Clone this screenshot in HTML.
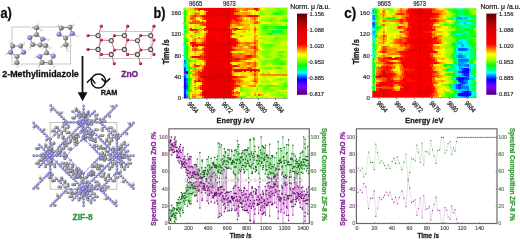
<!DOCTYPE html>
<html><head><meta charset="utf-8"><style>
html,body{margin:0;padding:0;background:#fff;}
body{width:520px;height:240px;overflow:hidden;}
svg{display:block;font-family:"Liberation Sans",sans-serif;will-change:transform;}
</style></head><body>
<svg width="520" height="240" viewBox="0 0 520 240">
<defs><linearGradient id="cbar" x1="0" y1="0" x2="0" y2="1"><stop offset="0.000" stop-color="#5a0000"/><stop offset="0.110" stop-color="#b00000"/><stop offset="0.210" stop-color="#e00000"/><stop offset="0.380" stop-color="#ff0000"/><stop offset="0.440" stop-color="#ff8000"/><stop offset="0.500" stop-color="#ffff00"/><stop offset="0.550" stop-color="#c0ff00"/><stop offset="0.640" stop-color="#00ff00"/><stop offset="0.730" stop-color="#00ffff"/><stop offset="0.810" stop-color="#0000ff"/><stop offset="0.900" stop-color="#8000ff"/><stop offset="1.000" stop-color="#4b0070"/></linearGradient><filter id="hblur" x="-5%" y="-5%" width="110%" height="110%"><feGaussianBlur stdDeviation="0.45 0.3"/></filter></defs>
<clipPath id="clip3"><rect x="183.70" y="7.80" width="103.80" height="90.40"/></clipPath><g clip-path="url(#clip3)"><g filter="url(#hblur)" shape-rendering="crispEdges"><rect x="181.70" y="5.80" width="107.80" height="94.40" fill="#f08000"/><path fill="#88ff00" d="M183.70 7.80h2.45v2.71h-2.45zM273.53 7.80h2.45v2.71h-2.45zM279.52 7.80h2.45v2.71h-2.45zM283.51 7.80h2.45v2.71h-2.45zM275.52 10.06h2.45v2.71h-2.45zM185.70 12.32h2.45v2.71h-2.45zM259.55 12.32h2.45v2.71h-2.45zM269.53 12.32h2.45v2.71h-2.45zM269.53 16.84h2.45v2.71h-2.45zM271.53 16.84h2.45v2.71h-2.45zM273.53 16.84h2.45v2.71h-2.45zM185.70 19.10h2.45v2.71h-2.45zM261.55 19.10h2.45v2.71h-2.45zM263.55 19.10h2.45v2.71h-2.45zM273.53 19.10h2.45v2.71h-2.45zM277.52 19.10h2.45v2.71h-2.45zM261.55 23.62h2.45v2.71h-2.45zM267.54 23.62h2.45v2.71h-2.45zM273.53 23.62h2.45v2.71h-2.45zM277.52 23.62h2.45v2.71h-2.45zM261.55 28.14h2.45v2.71h-2.45zM265.54 28.14h2.45v2.71h-2.45zM279.52 28.14h2.45v2.71h-2.45zM281.51 28.14h2.45v2.71h-2.45zM283.51 28.14h2.45v2.71h-2.45zM261.55 30.40h2.45v2.71h-2.45zM263.55 32.66h2.45v2.71h-2.45zM273.53 32.66h2.45v2.71h-2.45zM285.50 34.92h2.45v2.71h-2.45zM185.70 37.18h2.45v2.71h-2.45zM261.55 37.18h2.45v2.71h-2.45zM271.53 37.18h2.45v2.71h-2.45zM281.51 37.18h2.45v2.71h-2.45zM283.51 37.18h2.45v2.71h-2.45zM285.50 37.18h2.45v2.71h-2.45zM187.69 39.44h2.45v2.71h-2.45zM271.53 39.44h2.45v2.71h-2.45zM275.52 39.44h2.45v2.71h-2.45zM273.53 43.96h2.45v2.71h-2.45zM269.53 46.22h2.45v2.71h-2.45zM265.54 48.48h2.45v2.71h-2.45zM267.54 48.48h2.45v2.71h-2.45zM259.55 50.74h2.45v2.71h-2.45zM283.51 50.74h2.45v2.71h-2.45zM263.55 53.00h2.45v2.71h-2.45zM269.53 55.26h2.45v2.71h-2.45zM277.52 55.26h2.45v2.71h-2.45zM283.51 55.26h2.45v2.71h-2.45zM279.52 57.52h2.45v2.71h-2.45zM283.51 59.78h2.45v2.71h-2.45zM187.69 62.04h2.45v2.71h-2.45zM265.54 62.04h2.45v2.71h-2.45zM269.53 62.04h2.45v2.71h-2.45zM261.55 66.56h2.45v2.71h-2.45zM271.53 66.56h2.45v2.71h-2.45zM277.52 77.86h2.45v2.71h-2.45zM281.51 77.86h2.45v2.71h-2.45zM263.55 80.12h2.45v2.71h-2.45zM281.51 82.38h2.45v2.71h-2.45zM189.69 84.64h2.45v2.71h-2.45zM261.55 84.64h2.45v2.71h-2.45zM279.52 84.64h2.45v2.71h-2.45zM241.59 86.90h2.45v2.71h-2.45zM277.52 86.90h2.45v2.71h-2.45zM243.58 89.16h2.45v2.71h-2.45zM255.56 89.16h2.45v2.71h-2.45zM267.54 89.16h2.45v2.71h-2.45zM275.52 91.42h2.45v2.71h-2.45zM279.52 91.42h2.45v2.71h-2.45zM247.58 93.68h2.45v2.71h-2.45zM277.52 93.68h2.45v2.71h-2.45zM255.56 95.94h2.45v2.71h-2.45z"/>
<path fill="#d8ff00" d="M185.70 7.80h2.45v2.71h-2.45zM197.67 10.06h2.45v2.71h-2.45zM203.66 10.06h2.45v2.71h-2.45zM241.59 10.06h2.45v2.71h-2.45zM243.58 10.06h2.45v2.71h-2.45zM245.58 10.06h2.45v2.71h-2.45zM255.56 10.06h2.45v2.71h-2.45zM267.54 14.58h2.45v2.71h-2.45zM269.53 14.58h2.45v2.71h-2.45zM275.52 14.58h2.45v2.71h-2.45zM187.69 19.10h2.45v2.71h-2.45zM201.67 19.10h2.45v2.71h-2.45zM185.70 21.36h2.45v2.71h-2.45zM267.54 21.36h2.45v2.71h-2.45zM187.69 23.62h2.45v2.71h-2.45zM203.66 30.40h2.45v2.71h-2.45zM247.58 30.40h2.45v2.71h-2.45zM187.69 32.66h2.45v2.71h-2.45zM243.58 32.66h2.45v2.71h-2.45zM249.57 32.66h2.45v2.71h-2.45zM197.67 34.92h2.45v2.71h-2.45zM235.60 34.92h2.45v2.71h-2.45zM261.55 34.92h2.45v2.71h-2.45zM263.55 34.92h2.45v2.71h-2.45zM187.69 37.18h2.45v2.71h-2.45zM245.58 37.18h2.45v2.71h-2.45zM261.55 39.44h2.45v2.71h-2.45zM265.54 41.70h2.45v2.71h-2.45zM281.51 41.70h2.45v2.71h-2.45zM283.51 41.70h2.45v2.71h-2.45zM285.50 41.70h2.45v2.71h-2.45zM261.55 48.48h2.45v2.71h-2.45zM277.52 48.48h2.45v2.71h-2.45zM281.51 48.48h2.45v2.71h-2.45zM261.55 55.26h2.45v2.71h-2.45zM261.55 57.52h2.45v2.71h-2.45zM195.68 59.78h2.45v2.71h-2.45zM257.56 62.04h2.45v2.71h-2.45zM259.55 64.30h2.45v2.71h-2.45zM283.51 64.30h2.45v2.71h-2.45zM261.55 68.82h2.45v2.71h-2.45zM267.54 68.82h2.45v2.71h-2.45zM275.52 68.82h2.45v2.71h-2.45zM191.68 71.08h2.45v2.71h-2.45zM261.55 71.08h2.45v2.71h-2.45zM267.54 71.08h2.45v2.71h-2.45zM259.55 75.60h2.45v2.71h-2.45zM267.54 75.60h2.45v2.71h-2.45zM273.53 75.60h2.45v2.71h-2.45zM283.51 75.60h2.45v2.71h-2.45zM191.68 77.86h2.45v2.71h-2.45zM281.51 80.12h2.45v2.71h-2.45zM283.51 80.12h2.45v2.71h-2.45zM285.50 80.12h2.45v2.71h-2.45zM259.55 82.38h2.45v2.71h-2.45zM259.55 86.90h2.45v2.71h-2.45zM191.68 89.16h2.45v2.71h-2.45zM277.52 89.16h2.45v2.71h-2.45zM241.59 91.42h2.45v2.71h-2.45zM239.59 93.68h2.45v2.71h-2.45zM267.54 93.68h2.45v2.71h-2.45zM249.57 95.94h2.45v2.71h-2.45zM253.57 95.94h2.45v2.71h-2.45zM257.56 95.94h2.45v2.71h-2.45z"/>
<path fill="#ffd800" d="M187.69 7.80h2.45v2.71h-2.45zM253.57 12.32h2.45v2.71h-2.45zM187.69 14.58h2.45v2.71h-2.45zM187.69 16.84h2.45v2.71h-2.45zM247.58 19.10h2.45v2.71h-2.45zM247.58 21.36h2.45v2.71h-2.45zM235.60 25.88h2.45v2.71h-2.45zM241.59 25.88h2.45v2.71h-2.45zM247.58 25.88h2.45v2.71h-2.45zM249.57 28.14h2.45v2.71h-2.45zM251.57 28.14h2.45v2.71h-2.45zM191.68 30.40h2.45v2.71h-2.45zM237.60 34.92h2.45v2.71h-2.45zM191.68 37.18h2.45v2.71h-2.45zM251.57 37.18h2.45v2.71h-2.45zM251.57 43.96h2.45v2.71h-2.45zM195.68 46.22h2.45v2.71h-2.45zM189.69 48.48h2.45v2.71h-2.45zM193.68 50.74h2.45v2.71h-2.45zM255.56 53.00h2.45v2.71h-2.45zM257.56 55.26h2.45v2.71h-2.45zM237.60 62.04h2.45v2.71h-2.45zM239.59 62.04h2.45v2.71h-2.45zM245.58 64.30h2.45v2.71h-2.45zM247.58 64.30h2.45v2.71h-2.45zM193.68 71.08h2.45v2.71h-2.45zM237.60 71.08h2.45v2.71h-2.45zM239.59 71.08h2.45v2.71h-2.45zM243.58 71.08h2.45v2.71h-2.45zM191.68 75.60h2.45v2.71h-2.45zM251.57 77.86h2.45v2.71h-2.45zM257.56 77.86h2.45v2.71h-2.45zM243.58 80.12h2.45v2.71h-2.45zM245.58 80.12h2.45v2.71h-2.45zM247.58 80.12h2.45v2.71h-2.45zM247.58 82.38h2.45v2.71h-2.45zM255.56 82.38h2.45v2.71h-2.45zM245.58 84.64h2.45v2.71h-2.45zM235.60 86.90h2.45v2.71h-2.45zM191.68 91.42h2.45v2.71h-2.45zM197.67 91.42h2.45v2.71h-2.45zM257.56 91.42h2.45v2.71h-2.45zM255.56 93.68h2.45v2.71h-2.45zM199.67 95.94h2.45v2.71h-2.45z"/>
<path fill="#ffb800" d="M189.69 7.80h2.45v2.71h-2.45zM191.68 7.80h2.45v2.71h-2.45zM199.67 16.84h2.45v2.71h-2.45zM249.57 16.84h2.45v2.71h-2.45zM197.67 19.10h2.45v2.71h-2.45zM249.57 19.10h2.45v2.71h-2.45zM251.57 19.10h2.45v2.71h-2.45zM251.57 21.36h2.45v2.71h-2.45zM233.60 23.62h2.45v2.71h-2.45zM243.58 23.62h2.45v2.71h-2.45zM245.58 23.62h2.45v2.71h-2.45zM231.61 25.88h2.45v2.71h-2.45zM233.60 25.88h2.45v2.71h-2.45zM191.68 34.92h2.45v2.71h-2.45zM241.59 34.92h2.45v2.71h-2.45zM255.56 34.92h2.45v2.71h-2.45zM193.68 37.18h2.45v2.71h-2.45zM237.60 39.44h2.45v2.71h-2.45zM239.59 43.96h2.45v2.71h-2.45zM249.57 43.96h2.45v2.71h-2.45zM191.68 46.22h2.45v2.71h-2.45zM241.59 46.22h2.45v2.71h-2.45zM247.58 46.22h2.45v2.71h-2.45zM249.57 48.48h2.45v2.71h-2.45zM257.56 48.48h2.45v2.71h-2.45zM243.58 50.74h2.45v2.71h-2.45zM255.56 50.74h2.45v2.71h-2.45zM245.58 53.00h2.45v2.71h-2.45zM247.58 53.00h2.45v2.71h-2.45zM195.68 57.52h2.45v2.71h-2.45zM243.58 59.78h2.45v2.71h-2.45zM253.57 59.78h2.45v2.71h-2.45zM229.61 62.04h2.45v2.71h-2.45zM239.59 64.30h2.45v2.71h-2.45zM255.56 64.30h2.45v2.71h-2.45zM243.58 66.56h2.45v2.71h-2.45zM251.57 66.56h2.45v2.71h-2.45zM253.57 66.56h2.45v2.71h-2.45zM191.68 68.82h2.45v2.71h-2.45zM233.60 71.08h2.45v2.71h-2.45zM235.60 71.08h2.45v2.71h-2.45zM249.57 71.08h2.45v2.71h-2.45zM195.68 75.60h2.45v2.71h-2.45zM255.56 75.60h2.45v2.71h-2.45zM239.59 77.86h2.45v2.71h-2.45zM241.59 82.38h2.45v2.71h-2.45zM193.68 93.68h2.45v2.71h-2.45zM233.60 93.68h2.45v2.71h-2.45z"/>
<path fill="#ff7800" d="M193.68 7.80h2.45v2.71h-2.45zM243.58 7.80h2.45v2.71h-2.45zM247.58 7.80h2.45v2.71h-2.45zM251.57 7.80h2.45v2.71h-2.45zM205.66 10.06h2.45v2.71h-2.45zM237.60 10.06h2.45v2.71h-2.45zM189.69 14.58h2.45v2.71h-2.45zM197.67 14.58h2.45v2.71h-2.45zM257.56 14.58h2.45v2.71h-2.45zM239.59 16.84h2.45v2.71h-2.45zM193.68 19.10h2.45v2.71h-2.45zM195.68 19.10h2.45v2.71h-2.45zM241.59 19.10h2.45v2.71h-2.45zM199.67 23.62h2.45v2.71h-2.45zM229.61 23.62h2.45v2.71h-2.45zM239.59 23.62h2.45v2.71h-2.45zM255.56 28.14h2.45v2.71h-2.45zM195.68 30.40h2.45v2.71h-2.45zM197.67 37.18h2.45v2.71h-2.45zM243.58 41.70h2.45v2.71h-2.45zM189.69 43.96h2.45v2.71h-2.45zM245.58 43.96h2.45v2.71h-2.45zM253.57 43.96h2.45v2.71h-2.45zM255.56 46.22h2.45v2.71h-2.45zM197.67 48.48h2.45v2.71h-2.45zM237.60 48.48h2.45v2.71h-2.45zM233.60 53.00h2.45v2.71h-2.45zM235.60 53.00h2.45v2.71h-2.45zM241.59 53.00h2.45v2.71h-2.45zM189.69 55.26h2.45v2.71h-2.45zM239.59 55.26h2.45v2.71h-2.45zM241.59 55.26h2.45v2.71h-2.45zM245.58 62.04h2.45v2.71h-2.45zM249.57 62.04h2.45v2.71h-2.45zM253.57 71.08h2.45v2.71h-2.45zM243.58 75.60h2.45v2.71h-2.45zM237.60 77.86h2.45v2.71h-2.45zM255.56 80.12h2.45v2.71h-2.45zM253.57 84.64h2.45v2.71h-2.45zM231.61 89.16h2.45v2.71h-2.45zM199.67 91.42h2.45v2.71h-2.45zM191.68 95.94h2.45v2.71h-2.45z"/>
<path fill="#ff3800" d="M195.68 7.80h2.45v2.71h-2.45zM193.68 14.58h2.45v2.71h-2.45zM239.59 14.58h2.45v2.71h-2.45zM235.60 16.84h2.45v2.71h-2.45zM233.60 19.10h2.45v2.71h-2.45zM189.69 21.36h2.45v2.71h-2.45zM199.67 21.36h2.45v2.71h-2.45zM201.67 21.36h2.45v2.71h-2.45zM253.57 21.36h2.45v2.71h-2.45zM201.67 23.62h2.45v2.71h-2.45zM231.61 28.14h2.45v2.71h-2.45zM239.59 28.14h2.45v2.71h-2.45zM229.61 30.40h2.45v2.71h-2.45zM233.60 37.18h2.45v2.71h-2.45zM203.66 39.44h2.45v2.71h-2.45zM253.57 41.70h2.45v2.71h-2.45zM203.66 46.22h2.45v2.71h-2.45zM233.60 48.48h2.45v2.71h-2.45zM239.59 57.52h2.45v2.71h-2.45zM243.58 57.52h2.45v2.71h-2.45zM197.67 64.30h2.45v2.71h-2.45zM247.58 66.56h2.45v2.71h-2.45zM201.67 68.82h2.45v2.71h-2.45zM231.61 68.82h2.45v2.71h-2.45zM253.57 73.34h2.45v2.71h-2.45zM197.67 77.86h2.45v2.71h-2.45zM231.61 77.86h2.45v2.71h-2.45zM235.60 80.12h2.45v2.71h-2.45zM233.60 82.38h2.45v2.71h-2.45zM237.60 84.64h2.45v2.71h-2.45zM201.67 89.16h2.45v2.71h-2.45z"/>
<path fill="#ff0800" d="M197.67 7.80h2.45v2.71h-2.45zM231.61 12.32h2.45v2.71h-2.45zM205.66 19.10h2.45v2.71h-2.45zM229.61 28.14h2.45v2.71h-2.45zM189.69 41.70h2.45v2.71h-2.45zM229.61 46.22h2.45v2.71h-2.45zM231.61 48.48h2.45v2.71h-2.45zM203.66 50.74h2.45v2.71h-2.45zM237.60 57.52h2.45v2.71h-2.45zM195.68 64.30h2.45v2.71h-2.45zM229.61 64.30h2.45v2.71h-2.45zM231.61 64.30h2.45v2.71h-2.45zM235.60 64.30h2.45v2.71h-2.45zM199.67 73.34h2.45v2.71h-2.45zM253.57 80.12h2.45v2.71h-2.45z"/>
<path fill="#f80000" d="M199.67 7.80h2.45v2.71h-2.45zM201.67 7.80h2.45v2.71h-2.45zM203.66 7.80h2.45v2.71h-2.45zM229.61 7.80h2.45v2.71h-2.45zM231.61 7.80h2.45v2.71h-2.45zM253.57 7.80h2.45v2.71h-2.45zM207.65 10.06h2.45v2.71h-2.45zM209.65 10.06h2.45v2.71h-2.45zM211.65 10.06h2.45v2.71h-2.45zM213.64 10.06h2.45v2.71h-2.45zM215.64 10.06h2.45v2.71h-2.45zM217.63 10.06h2.45v2.71h-2.45zM219.63 10.06h2.45v2.71h-2.45zM221.63 10.06h2.45v2.71h-2.45zM223.62 10.06h2.45v2.71h-2.45zM225.62 10.06h2.45v2.71h-2.45zM227.62 10.06h2.45v2.71h-2.45zM231.61 10.06h2.45v2.71h-2.45zM233.60 10.06h2.45v2.71h-2.45zM235.60 10.06h2.45v2.71h-2.45zM205.66 12.32h2.45v2.71h-2.45zM219.63 12.32h2.45v2.71h-2.45zM229.61 12.32h2.45v2.71h-2.45zM201.67 14.58h2.45v2.71h-2.45zM203.66 14.58h2.45v2.71h-2.45zM205.66 14.58h2.45v2.71h-2.45zM229.61 14.58h2.45v2.71h-2.45zM231.61 14.58h2.45v2.71h-2.45zM233.60 14.58h2.45v2.71h-2.45zM235.60 14.58h2.45v2.71h-2.45zM237.60 14.58h2.45v2.71h-2.45zM247.58 14.58h2.45v2.71h-2.45zM249.57 14.58h2.45v2.71h-2.45zM251.57 14.58h2.45v2.71h-2.45zM253.57 14.58h2.45v2.71h-2.45zM205.66 16.84h2.45v2.71h-2.45zM209.65 16.84h2.45v2.71h-2.45zM211.65 16.84h2.45v2.71h-2.45zM213.64 16.84h2.45v2.71h-2.45zM215.64 16.84h2.45v2.71h-2.45zM217.63 16.84h2.45v2.71h-2.45zM219.63 16.84h2.45v2.71h-2.45zM221.63 16.84h2.45v2.71h-2.45zM223.62 16.84h2.45v2.71h-2.45zM231.61 16.84h2.45v2.71h-2.45zM233.60 16.84h2.45v2.71h-2.45zM207.65 19.10h2.45v2.71h-2.45zM209.65 19.10h2.45v2.71h-2.45zM211.65 19.10h2.45v2.71h-2.45zM213.64 19.10h2.45v2.71h-2.45zM215.64 19.10h2.45v2.71h-2.45zM217.63 19.10h2.45v2.71h-2.45zM219.63 19.10h2.45v2.71h-2.45zM221.63 19.10h2.45v2.71h-2.45zM223.62 19.10h2.45v2.71h-2.45zM225.62 19.10h2.45v2.71h-2.45zM227.62 19.10h2.45v2.71h-2.45zM205.66 21.36h2.45v2.71h-2.45zM215.64 21.36h2.45v2.71h-2.45zM217.63 21.36h2.45v2.71h-2.45zM219.63 21.36h2.45v2.71h-2.45zM221.63 21.36h2.45v2.71h-2.45zM223.62 21.36h2.45v2.71h-2.45zM225.62 21.36h2.45v2.71h-2.45zM227.62 21.36h2.45v2.71h-2.45zM205.66 23.62h2.45v2.71h-2.45zM207.65 23.62h2.45v2.71h-2.45zM209.65 23.62h2.45v2.71h-2.45zM211.65 23.62h2.45v2.71h-2.45zM213.64 23.62h2.45v2.71h-2.45zM215.64 23.62h2.45v2.71h-2.45zM217.63 23.62h2.45v2.71h-2.45zM219.63 23.62h2.45v2.71h-2.45zM221.63 23.62h2.45v2.71h-2.45zM223.62 23.62h2.45v2.71h-2.45zM225.62 23.62h2.45v2.71h-2.45zM227.62 23.62h2.45v2.71h-2.45zM205.66 25.88h2.45v2.71h-2.45zM207.65 25.88h2.45v2.71h-2.45zM209.65 25.88h2.45v2.71h-2.45zM211.65 25.88h2.45v2.71h-2.45zM215.64 25.88h2.45v2.71h-2.45zM217.63 25.88h2.45v2.71h-2.45zM219.63 25.88h2.45v2.71h-2.45zM221.63 25.88h2.45v2.71h-2.45zM223.62 25.88h2.45v2.71h-2.45zM225.62 25.88h2.45v2.71h-2.45zM191.68 28.14h2.45v2.71h-2.45zM193.68 28.14h2.45v2.71h-2.45zM205.66 28.14h2.45v2.71h-2.45zM227.62 28.14h2.45v2.71h-2.45zM235.60 28.14h2.45v2.71h-2.45zM237.60 28.14h2.45v2.71h-2.45zM207.65 30.40h2.45v2.71h-2.45zM209.65 30.40h2.45v2.71h-2.45zM211.65 30.40h2.45v2.71h-2.45zM213.64 30.40h2.45v2.71h-2.45zM215.64 30.40h2.45v2.71h-2.45zM217.63 30.40h2.45v2.71h-2.45zM219.63 30.40h2.45v2.71h-2.45zM221.63 30.40h2.45v2.71h-2.45zM223.62 30.40h2.45v2.71h-2.45zM225.62 30.40h2.45v2.71h-2.45zM227.62 30.40h2.45v2.71h-2.45zM207.65 32.66h2.45v2.71h-2.45zM209.65 32.66h2.45v2.71h-2.45zM211.65 32.66h2.45v2.71h-2.45zM213.64 32.66h2.45v2.71h-2.45zM215.64 32.66h2.45v2.71h-2.45zM217.63 32.66h2.45v2.71h-2.45zM219.63 32.66h2.45v2.71h-2.45zM221.63 32.66h2.45v2.71h-2.45zM223.62 32.66h2.45v2.71h-2.45zM227.62 32.66h2.45v2.71h-2.45zM229.61 32.66h2.45v2.71h-2.45zM205.66 34.92h2.45v2.71h-2.45zM207.65 34.92h2.45v2.71h-2.45zM209.65 34.92h2.45v2.71h-2.45zM211.65 34.92h2.45v2.71h-2.45zM213.64 34.92h2.45v2.71h-2.45zM215.64 34.92h2.45v2.71h-2.45zM217.63 34.92h2.45v2.71h-2.45zM225.62 34.92h2.45v2.71h-2.45zM227.62 34.92h2.45v2.71h-2.45zM205.66 37.18h2.45v2.71h-2.45zM211.65 37.18h2.45v2.71h-2.45zM213.64 37.18h2.45v2.71h-2.45zM215.64 37.18h2.45v2.71h-2.45zM217.63 37.18h2.45v2.71h-2.45zM219.63 37.18h2.45v2.71h-2.45zM221.63 37.18h2.45v2.71h-2.45zM223.62 37.18h2.45v2.71h-2.45zM227.62 37.18h2.45v2.71h-2.45zM229.61 37.18h2.45v2.71h-2.45zM231.61 37.18h2.45v2.71h-2.45zM205.66 39.44h2.45v2.71h-2.45zM215.64 39.44h2.45v2.71h-2.45zM217.63 39.44h2.45v2.71h-2.45zM219.63 39.44h2.45v2.71h-2.45zM221.63 39.44h2.45v2.71h-2.45zM223.62 39.44h2.45v2.71h-2.45zM225.62 39.44h2.45v2.71h-2.45zM227.62 39.44h2.45v2.71h-2.45zM229.61 39.44h2.45v2.71h-2.45zM231.61 39.44h2.45v2.71h-2.45zM233.60 39.44h2.45v2.71h-2.45zM191.68 41.70h2.45v2.71h-2.45zM205.66 41.70h2.45v2.71h-2.45zM207.65 41.70h2.45v2.71h-2.45zM233.60 41.70h2.45v2.71h-2.45zM235.60 41.70h2.45v2.71h-2.45zM191.68 43.96h2.45v2.71h-2.45zM193.68 43.96h2.45v2.71h-2.45zM195.68 43.96h2.45v2.71h-2.45zM197.67 43.96h2.45v2.71h-2.45zM199.67 43.96h2.45v2.71h-2.45zM201.67 43.96h2.45v2.71h-2.45zM203.66 43.96h2.45v2.71h-2.45zM229.61 43.96h2.45v2.71h-2.45zM231.61 43.96h2.45v2.71h-2.45zM205.66 46.22h2.45v2.71h-2.45zM217.63 46.22h2.45v2.71h-2.45zM219.63 46.22h2.45v2.71h-2.45zM221.63 46.22h2.45v2.71h-2.45zM223.62 46.22h2.45v2.71h-2.45zM225.62 46.22h2.45v2.71h-2.45zM227.62 46.22h2.45v2.71h-2.45zM203.66 48.48h2.45v2.71h-2.45zM205.66 48.48h2.45v2.71h-2.45zM229.61 48.48h2.45v2.71h-2.45zM205.66 50.74h2.45v2.71h-2.45zM225.62 50.74h2.45v2.71h-2.45zM227.62 50.74h2.45v2.71h-2.45zM205.66 53.00h2.45v2.71h-2.45zM207.65 53.00h2.45v2.71h-2.45zM215.64 53.00h2.45v2.71h-2.45zM217.63 53.00h2.45v2.71h-2.45zM219.63 53.00h2.45v2.71h-2.45zM227.62 53.00h2.45v2.71h-2.45zM229.61 53.00h2.45v2.71h-2.45zM191.68 55.26h2.45v2.71h-2.45zM193.68 55.26h2.45v2.71h-2.45zM195.68 55.26h2.45v2.71h-2.45zM197.67 55.26h2.45v2.71h-2.45zM203.66 55.26h2.45v2.71h-2.45zM205.66 55.26h2.45v2.71h-2.45zM229.61 55.26h2.45v2.71h-2.45zM247.58 55.26h2.45v2.71h-2.45zM205.66 57.52h2.45v2.71h-2.45zM217.63 57.52h2.45v2.71h-2.45zM219.63 57.52h2.45v2.71h-2.45zM221.63 57.52h2.45v2.71h-2.45zM225.62 57.52h2.45v2.71h-2.45zM227.62 57.52h2.45v2.71h-2.45zM229.61 57.52h2.45v2.71h-2.45zM233.60 57.52h2.45v2.71h-2.45zM235.60 57.52h2.45v2.71h-2.45zM205.66 59.78h2.45v2.71h-2.45zM207.65 59.78h2.45v2.71h-2.45zM225.62 59.78h2.45v2.71h-2.45zM227.62 59.78h2.45v2.71h-2.45zM229.61 59.78h2.45v2.71h-2.45zM205.66 62.04h2.45v2.71h-2.45zM211.65 62.04h2.45v2.71h-2.45zM213.64 62.04h2.45v2.71h-2.45zM215.64 62.04h2.45v2.71h-2.45zM225.62 62.04h2.45v2.71h-2.45zM227.62 62.04h2.45v2.71h-2.45zM205.66 64.30h2.45v2.71h-2.45zM223.62 64.30h2.45v2.71h-2.45zM225.62 64.30h2.45v2.71h-2.45zM227.62 64.30h2.45v2.71h-2.45zM233.60 64.30h2.45v2.71h-2.45zM203.66 66.56h2.45v2.71h-2.45zM225.62 66.56h2.45v2.71h-2.45zM227.62 66.56h2.45v2.71h-2.45zM229.61 66.56h2.45v2.71h-2.45zM205.66 68.82h2.45v2.71h-2.45zM229.61 68.82h2.45v2.71h-2.45zM233.60 68.82h2.45v2.71h-2.45zM235.60 68.82h2.45v2.71h-2.45zM237.60 68.82h2.45v2.71h-2.45zM239.59 68.82h2.45v2.71h-2.45zM241.59 68.82h2.45v2.71h-2.45zM243.58 68.82h2.45v2.71h-2.45zM245.58 68.82h2.45v2.71h-2.45zM247.58 68.82h2.45v2.71h-2.45zM249.57 68.82h2.45v2.71h-2.45zM251.57 68.82h2.45v2.71h-2.45zM253.57 68.82h2.45v2.71h-2.45zM255.56 68.82h2.45v2.71h-2.45zM199.67 71.08h2.45v2.71h-2.45zM227.62 71.08h2.45v2.71h-2.45zM201.67 73.34h2.45v2.71h-2.45zM203.66 73.34h2.45v2.71h-2.45zM205.66 73.34h2.45v2.71h-2.45zM229.61 73.34h2.45v2.71h-2.45zM199.67 75.60h2.45v2.71h-2.45zM231.61 75.60h2.45v2.71h-2.45zM233.60 75.60h2.45v2.71h-2.45zM203.66 77.86h2.45v2.71h-2.45zM229.61 77.86h2.45v2.71h-2.45zM195.68 80.12h2.45v2.71h-2.45zM197.67 80.12h2.45v2.71h-2.45zM199.67 80.12h2.45v2.71h-2.45zM201.67 80.12h2.45v2.71h-2.45zM203.66 80.12h2.45v2.71h-2.45zM205.66 80.12h2.45v2.71h-2.45zM231.61 80.12h2.45v2.71h-2.45zM231.61 82.38h2.45v2.71h-2.45zM201.67 84.64h2.45v2.71h-2.45zM203.66 84.64h2.45v2.71h-2.45zM205.66 84.64h2.45v2.71h-2.45zM207.65 84.64h2.45v2.71h-2.45zM227.62 84.64h2.45v2.71h-2.45zM229.61 84.64h2.45v2.71h-2.45zM201.67 86.90h2.45v2.71h-2.45zM203.66 86.90h2.45v2.71h-2.45zM205.66 86.90h2.45v2.71h-2.45zM229.61 86.90h2.45v2.71h-2.45zM229.61 89.16h2.45v2.71h-2.45zM201.67 91.42h2.45v2.71h-2.45zM229.61 91.42h2.45v2.71h-2.45zM201.67 93.68h2.45v2.71h-2.45zM229.61 93.68h2.45v2.71h-2.45zM203.66 95.94h2.45v2.71h-2.45zM229.61 95.94h2.45v2.71h-2.45zM231.61 95.94h2.45v2.71h-2.45z"/>
<path fill="#e80000" d="M205.66 7.80h2.45v2.71h-2.45zM207.65 7.80h2.45v2.71h-2.45zM209.65 7.80h2.45v2.71h-2.45zM211.65 7.80h2.45v2.71h-2.45zM213.64 7.80h2.45v2.71h-2.45zM215.64 7.80h2.45v2.71h-2.45zM217.63 7.80h2.45v2.71h-2.45zM219.63 7.80h2.45v2.71h-2.45zM221.63 7.80h2.45v2.71h-2.45zM223.62 7.80h2.45v2.71h-2.45zM225.62 7.80h2.45v2.71h-2.45zM227.62 7.80h2.45v2.71h-2.45zM207.65 12.32h2.45v2.71h-2.45zM209.65 12.32h2.45v2.71h-2.45zM211.65 12.32h2.45v2.71h-2.45zM213.64 12.32h2.45v2.71h-2.45zM215.64 12.32h2.45v2.71h-2.45zM217.63 12.32h2.45v2.71h-2.45zM221.63 12.32h2.45v2.71h-2.45zM223.62 12.32h2.45v2.71h-2.45zM225.62 12.32h2.45v2.71h-2.45zM227.62 12.32h2.45v2.71h-2.45zM207.65 14.58h2.45v2.71h-2.45zM209.65 14.58h2.45v2.71h-2.45zM211.65 14.58h2.45v2.71h-2.45zM213.64 14.58h2.45v2.71h-2.45zM215.64 14.58h2.45v2.71h-2.45zM217.63 14.58h2.45v2.71h-2.45zM219.63 14.58h2.45v2.71h-2.45zM221.63 14.58h2.45v2.71h-2.45zM223.62 14.58h2.45v2.71h-2.45zM225.62 14.58h2.45v2.71h-2.45zM227.62 14.58h2.45v2.71h-2.45zM207.65 16.84h2.45v2.71h-2.45zM225.62 16.84h2.45v2.71h-2.45zM227.62 16.84h2.45v2.71h-2.45zM229.61 16.84h2.45v2.71h-2.45zM207.65 21.36h2.45v2.71h-2.45zM209.65 21.36h2.45v2.71h-2.45zM211.65 21.36h2.45v2.71h-2.45zM213.64 21.36h2.45v2.71h-2.45zM213.64 25.88h2.45v2.71h-2.45zM207.65 28.14h2.45v2.71h-2.45zM209.65 28.14h2.45v2.71h-2.45zM211.65 28.14h2.45v2.71h-2.45zM213.64 28.14h2.45v2.71h-2.45zM215.64 28.14h2.45v2.71h-2.45zM217.63 28.14h2.45v2.71h-2.45zM219.63 28.14h2.45v2.71h-2.45zM221.63 28.14h2.45v2.71h-2.45zM223.62 28.14h2.45v2.71h-2.45zM225.62 28.14h2.45v2.71h-2.45zM225.62 32.66h2.45v2.71h-2.45zM219.63 34.92h2.45v2.71h-2.45zM221.63 34.92h2.45v2.71h-2.45zM223.62 34.92h2.45v2.71h-2.45zM207.65 37.18h2.45v2.71h-2.45zM209.65 37.18h2.45v2.71h-2.45zM225.62 37.18h2.45v2.71h-2.45zM207.65 39.44h2.45v2.71h-2.45zM209.65 39.44h2.45v2.71h-2.45zM211.65 39.44h2.45v2.71h-2.45zM213.64 39.44h2.45v2.71h-2.45zM209.65 41.70h2.45v2.71h-2.45zM211.65 41.70h2.45v2.71h-2.45zM213.64 41.70h2.45v2.71h-2.45zM215.64 41.70h2.45v2.71h-2.45zM217.63 41.70h2.45v2.71h-2.45zM219.63 41.70h2.45v2.71h-2.45zM221.63 41.70h2.45v2.71h-2.45zM223.62 41.70h2.45v2.71h-2.45zM225.62 41.70h2.45v2.71h-2.45zM227.62 41.70h2.45v2.71h-2.45zM229.61 41.70h2.45v2.71h-2.45zM231.61 41.70h2.45v2.71h-2.45zM205.66 43.96h2.45v2.71h-2.45zM207.65 43.96h2.45v2.71h-2.45zM209.65 43.96h2.45v2.71h-2.45zM211.65 43.96h2.45v2.71h-2.45zM213.64 43.96h2.45v2.71h-2.45zM215.64 43.96h2.45v2.71h-2.45zM217.63 43.96h2.45v2.71h-2.45zM219.63 43.96h2.45v2.71h-2.45zM221.63 43.96h2.45v2.71h-2.45zM223.62 43.96h2.45v2.71h-2.45zM225.62 43.96h2.45v2.71h-2.45zM227.62 43.96h2.45v2.71h-2.45zM207.65 46.22h2.45v2.71h-2.45zM209.65 46.22h2.45v2.71h-2.45zM211.65 46.22h2.45v2.71h-2.45zM213.64 46.22h2.45v2.71h-2.45zM215.64 46.22h2.45v2.71h-2.45zM207.65 48.48h2.45v2.71h-2.45zM209.65 48.48h2.45v2.71h-2.45zM211.65 48.48h2.45v2.71h-2.45zM213.64 48.48h2.45v2.71h-2.45zM215.64 48.48h2.45v2.71h-2.45zM217.63 48.48h2.45v2.71h-2.45zM219.63 48.48h2.45v2.71h-2.45zM221.63 48.48h2.45v2.71h-2.45zM223.62 48.48h2.45v2.71h-2.45zM225.62 48.48h2.45v2.71h-2.45zM227.62 48.48h2.45v2.71h-2.45zM207.65 50.74h2.45v2.71h-2.45zM209.65 50.74h2.45v2.71h-2.45zM211.65 50.74h2.45v2.71h-2.45zM213.64 50.74h2.45v2.71h-2.45zM215.64 50.74h2.45v2.71h-2.45zM217.63 50.74h2.45v2.71h-2.45zM219.63 50.74h2.45v2.71h-2.45zM221.63 50.74h2.45v2.71h-2.45zM223.62 50.74h2.45v2.71h-2.45zM209.65 53.00h2.45v2.71h-2.45zM211.65 53.00h2.45v2.71h-2.45zM213.64 53.00h2.45v2.71h-2.45zM221.63 53.00h2.45v2.71h-2.45zM223.62 53.00h2.45v2.71h-2.45zM225.62 53.00h2.45v2.71h-2.45zM207.65 55.26h2.45v2.71h-2.45zM209.65 55.26h2.45v2.71h-2.45zM211.65 55.26h2.45v2.71h-2.45zM213.64 55.26h2.45v2.71h-2.45zM215.64 55.26h2.45v2.71h-2.45zM217.63 55.26h2.45v2.71h-2.45zM219.63 55.26h2.45v2.71h-2.45zM221.63 55.26h2.45v2.71h-2.45zM223.62 55.26h2.45v2.71h-2.45zM225.62 55.26h2.45v2.71h-2.45zM227.62 55.26h2.45v2.71h-2.45zM207.65 57.52h2.45v2.71h-2.45zM209.65 57.52h2.45v2.71h-2.45zM211.65 57.52h2.45v2.71h-2.45zM213.64 57.52h2.45v2.71h-2.45zM215.64 57.52h2.45v2.71h-2.45zM223.62 57.52h2.45v2.71h-2.45zM209.65 59.78h2.45v2.71h-2.45zM211.65 59.78h2.45v2.71h-2.45zM213.64 59.78h2.45v2.71h-2.45zM215.64 59.78h2.45v2.71h-2.45zM217.63 59.78h2.45v2.71h-2.45zM219.63 59.78h2.45v2.71h-2.45zM221.63 59.78h2.45v2.71h-2.45zM223.62 59.78h2.45v2.71h-2.45zM207.65 62.04h2.45v2.71h-2.45zM209.65 62.04h2.45v2.71h-2.45zM217.63 62.04h2.45v2.71h-2.45zM219.63 62.04h2.45v2.71h-2.45zM221.63 62.04h2.45v2.71h-2.45zM223.62 62.04h2.45v2.71h-2.45zM207.65 64.30h2.45v2.71h-2.45zM209.65 64.30h2.45v2.71h-2.45zM211.65 64.30h2.45v2.71h-2.45zM213.64 64.30h2.45v2.71h-2.45zM215.64 64.30h2.45v2.71h-2.45zM217.63 64.30h2.45v2.71h-2.45zM219.63 64.30h2.45v2.71h-2.45zM221.63 64.30h2.45v2.71h-2.45zM205.66 66.56h2.45v2.71h-2.45zM207.65 66.56h2.45v2.71h-2.45zM209.65 66.56h2.45v2.71h-2.45zM211.65 66.56h2.45v2.71h-2.45zM213.64 66.56h2.45v2.71h-2.45zM215.64 66.56h2.45v2.71h-2.45zM217.63 66.56h2.45v2.71h-2.45zM219.63 66.56h2.45v2.71h-2.45zM221.63 66.56h2.45v2.71h-2.45zM223.62 66.56h2.45v2.71h-2.45zM207.65 68.82h2.45v2.71h-2.45zM209.65 68.82h2.45v2.71h-2.45zM211.65 68.82h2.45v2.71h-2.45zM213.64 68.82h2.45v2.71h-2.45zM215.64 68.82h2.45v2.71h-2.45zM217.63 68.82h2.45v2.71h-2.45zM219.63 68.82h2.45v2.71h-2.45zM221.63 68.82h2.45v2.71h-2.45zM223.62 68.82h2.45v2.71h-2.45zM225.62 68.82h2.45v2.71h-2.45zM227.62 68.82h2.45v2.71h-2.45zM201.67 71.08h2.45v2.71h-2.45zM203.66 71.08h2.45v2.71h-2.45zM205.66 71.08h2.45v2.71h-2.45zM207.65 71.08h2.45v2.71h-2.45zM209.65 71.08h2.45v2.71h-2.45zM211.65 71.08h2.45v2.71h-2.45zM213.64 71.08h2.45v2.71h-2.45zM215.64 71.08h2.45v2.71h-2.45zM217.63 71.08h2.45v2.71h-2.45zM219.63 71.08h2.45v2.71h-2.45zM221.63 71.08h2.45v2.71h-2.45zM223.62 71.08h2.45v2.71h-2.45zM225.62 71.08h2.45v2.71h-2.45zM207.65 73.34h2.45v2.71h-2.45zM209.65 73.34h2.45v2.71h-2.45zM211.65 73.34h2.45v2.71h-2.45zM213.64 73.34h2.45v2.71h-2.45zM221.63 73.34h2.45v2.71h-2.45zM223.62 73.34h2.45v2.71h-2.45zM225.62 73.34h2.45v2.71h-2.45zM227.62 73.34h2.45v2.71h-2.45zM201.67 75.60h2.45v2.71h-2.45zM223.62 75.60h2.45v2.71h-2.45zM225.62 75.60h2.45v2.71h-2.45zM227.62 75.60h2.45v2.71h-2.45zM229.61 75.60h2.45v2.71h-2.45zM205.66 77.86h2.45v2.71h-2.45zM207.65 77.86h2.45v2.71h-2.45zM213.64 77.86h2.45v2.71h-2.45zM215.64 77.86h2.45v2.71h-2.45zM217.63 77.86h2.45v2.71h-2.45zM219.63 77.86h2.45v2.71h-2.45zM221.63 77.86h2.45v2.71h-2.45zM223.62 77.86h2.45v2.71h-2.45zM225.62 77.86h2.45v2.71h-2.45zM227.62 77.86h2.45v2.71h-2.45zM207.65 80.12h2.45v2.71h-2.45zM209.65 80.12h2.45v2.71h-2.45zM211.65 80.12h2.45v2.71h-2.45zM213.64 80.12h2.45v2.71h-2.45zM215.64 80.12h2.45v2.71h-2.45zM217.63 80.12h2.45v2.71h-2.45zM219.63 80.12h2.45v2.71h-2.45zM221.63 80.12h2.45v2.71h-2.45zM223.62 80.12h2.45v2.71h-2.45zM225.62 80.12h2.45v2.71h-2.45zM227.62 80.12h2.45v2.71h-2.45zM229.61 80.12h2.45v2.71h-2.45zM203.66 82.38h2.45v2.71h-2.45zM205.66 82.38h2.45v2.71h-2.45zM207.65 82.38h2.45v2.71h-2.45zM209.65 82.38h2.45v2.71h-2.45zM211.65 82.38h2.45v2.71h-2.45zM213.64 82.38h2.45v2.71h-2.45zM215.64 82.38h2.45v2.71h-2.45zM217.63 82.38h2.45v2.71h-2.45zM219.63 82.38h2.45v2.71h-2.45zM221.63 82.38h2.45v2.71h-2.45zM223.62 82.38h2.45v2.71h-2.45zM225.62 82.38h2.45v2.71h-2.45zM227.62 82.38h2.45v2.71h-2.45zM229.61 82.38h2.45v2.71h-2.45zM209.65 84.64h2.45v2.71h-2.45zM211.65 84.64h2.45v2.71h-2.45zM213.64 84.64h2.45v2.71h-2.45zM215.64 84.64h2.45v2.71h-2.45zM217.63 84.64h2.45v2.71h-2.45zM219.63 84.64h2.45v2.71h-2.45zM221.63 84.64h2.45v2.71h-2.45zM223.62 84.64h2.45v2.71h-2.45zM225.62 84.64h2.45v2.71h-2.45zM207.65 86.90h2.45v2.71h-2.45zM209.65 86.90h2.45v2.71h-2.45zM211.65 86.90h2.45v2.71h-2.45zM213.64 86.90h2.45v2.71h-2.45zM215.64 86.90h2.45v2.71h-2.45zM217.63 86.90h2.45v2.71h-2.45zM219.63 86.90h2.45v2.71h-2.45zM221.63 86.90h2.45v2.71h-2.45zM223.62 86.90h2.45v2.71h-2.45zM225.62 86.90h2.45v2.71h-2.45zM227.62 86.90h2.45v2.71h-2.45zM203.66 89.16h2.45v2.71h-2.45zM205.66 89.16h2.45v2.71h-2.45zM207.65 89.16h2.45v2.71h-2.45zM209.65 89.16h2.45v2.71h-2.45zM211.65 89.16h2.45v2.71h-2.45zM213.64 89.16h2.45v2.71h-2.45zM215.64 89.16h2.45v2.71h-2.45zM217.63 89.16h2.45v2.71h-2.45zM219.63 89.16h2.45v2.71h-2.45zM221.63 89.16h2.45v2.71h-2.45zM223.62 89.16h2.45v2.71h-2.45zM225.62 89.16h2.45v2.71h-2.45zM227.62 89.16h2.45v2.71h-2.45zM207.65 91.42h2.45v2.71h-2.45zM209.65 91.42h2.45v2.71h-2.45zM211.65 91.42h2.45v2.71h-2.45zM213.64 91.42h2.45v2.71h-2.45zM215.64 91.42h2.45v2.71h-2.45zM217.63 91.42h2.45v2.71h-2.45zM219.63 91.42h2.45v2.71h-2.45zM221.63 91.42h2.45v2.71h-2.45zM223.62 91.42h2.45v2.71h-2.45zM225.62 91.42h2.45v2.71h-2.45zM227.62 91.42h2.45v2.71h-2.45zM203.66 93.68h2.45v2.71h-2.45zM205.66 93.68h2.45v2.71h-2.45zM207.65 93.68h2.45v2.71h-2.45zM209.65 93.68h2.45v2.71h-2.45zM211.65 93.68h2.45v2.71h-2.45zM213.64 93.68h2.45v2.71h-2.45zM215.64 93.68h2.45v2.71h-2.45zM217.63 93.68h2.45v2.71h-2.45zM219.63 93.68h2.45v2.71h-2.45zM221.63 93.68h2.45v2.71h-2.45zM223.62 93.68h2.45v2.71h-2.45zM225.62 93.68h2.45v2.71h-2.45zM227.62 93.68h2.45v2.71h-2.45zM205.66 95.94h2.45v2.71h-2.45zM207.65 95.94h2.45v2.71h-2.45zM209.65 95.94h2.45v2.71h-2.45zM211.65 95.94h2.45v2.71h-2.45zM213.64 95.94h2.45v2.71h-2.45zM215.64 95.94h2.45v2.71h-2.45zM217.63 95.94h2.45v2.71h-2.45zM219.63 95.94h2.45v2.71h-2.45zM221.63 95.94h2.45v2.71h-2.45zM223.62 95.94h2.45v2.71h-2.45zM225.62 95.94h2.45v2.71h-2.45zM227.62 95.94h2.45v2.71h-2.45z"/>
<path fill="#ff2800" d="M233.60 7.80h2.45v2.71h-2.45zM245.58 14.58h2.45v2.71h-2.45zM237.60 19.10h2.45v2.71h-2.45zM229.61 21.36h2.45v2.71h-2.45zM203.66 23.62h2.45v2.71h-2.45zM227.62 25.88h2.45v2.71h-2.45zM195.68 28.14h2.45v2.71h-2.45zM201.67 41.70h2.45v2.71h-2.45zM201.67 55.26h2.45v2.71h-2.45zM231.61 55.26h2.45v2.71h-2.45zM201.67 57.52h2.45v2.71h-2.45zM231.61 59.78h2.45v2.71h-2.45zM233.60 59.78h2.45v2.71h-2.45zM203.66 64.30h2.45v2.71h-2.45zM197.67 73.34h2.45v2.71h-2.45zM235.60 75.60h2.45v2.71h-2.45zM231.61 91.42h2.45v2.71h-2.45z"/>
<path fill="#ff6800" d="M235.60 7.80h2.45v2.71h-2.45zM245.58 7.80h2.45v2.71h-2.45zM257.56 7.80h2.45v2.71h-2.45zM195.68 12.32h2.45v2.71h-2.45zM233.60 12.32h2.45v2.71h-2.45zM195.68 14.58h2.45v2.71h-2.45zM241.59 14.58h2.45v2.71h-2.45zM237.60 21.36h2.45v2.71h-2.45zM237.60 23.62h2.45v2.71h-2.45zM201.67 28.14h2.45v2.71h-2.45zM205.66 30.40h2.45v2.71h-2.45zM229.61 34.92h2.45v2.71h-2.45zM253.57 39.44h2.45v2.71h-2.45zM195.68 41.70h2.45v2.71h-2.45zM199.67 41.70h2.45v2.71h-2.45zM249.57 46.22h2.45v2.71h-2.45zM191.68 48.48h2.45v2.71h-2.45zM235.60 48.48h2.45v2.71h-2.45zM255.56 48.48h2.45v2.71h-2.45zM229.61 50.74h2.45v2.71h-2.45zM231.61 53.00h2.45v2.71h-2.45zM237.60 53.00h2.45v2.71h-2.45zM239.59 53.00h2.45v2.71h-2.45zM253.57 53.00h2.45v2.71h-2.45zM235.60 55.26h2.45v2.71h-2.45zM237.60 55.26h2.45v2.71h-2.45zM197.67 57.52h2.45v2.71h-2.45zM247.58 57.52h2.45v2.71h-2.45zM237.60 64.30h2.45v2.71h-2.45zM231.61 66.56h2.45v2.71h-2.45zM195.68 71.08h2.45v2.71h-2.45zM195.68 73.34h2.45v2.71h-2.45zM239.59 80.12h2.45v2.71h-2.45zM197.67 86.90h2.45v2.71h-2.45zM233.60 86.90h2.45v2.71h-2.45zM233.60 91.42h2.45v2.71h-2.45z"/>
<path fill="#ff8800" d="M237.60 7.80h2.45v2.71h-2.45zM249.57 7.80h2.45v2.71h-2.45zM193.68 12.32h2.45v2.71h-2.45zM235.60 12.32h2.45v2.71h-2.45zM253.57 19.10h2.45v2.71h-2.45zM257.56 21.36h2.45v2.71h-2.45zM235.60 23.62h2.45v2.71h-2.45zM187.69 28.14h2.45v2.71h-2.45zM197.67 28.14h2.45v2.71h-2.45zM193.68 30.40h2.45v2.71h-2.45zM203.66 34.92h2.45v2.71h-2.45zM199.67 37.18h2.45v2.71h-2.45zM201.67 39.44h2.45v2.71h-2.45zM255.56 39.44h2.45v2.71h-2.45zM197.67 41.70h2.45v2.71h-2.45zM239.59 41.70h2.45v2.71h-2.45zM241.59 41.70h2.45v2.71h-2.45zM249.57 41.70h2.45v2.71h-2.45zM251.57 41.70h2.45v2.71h-2.45zM243.58 43.96h2.45v2.71h-2.45zM247.58 43.96h2.45v2.71h-2.45zM239.59 46.22h2.45v2.71h-2.45zM199.67 48.48h2.45v2.71h-2.45zM239.59 48.48h2.45v2.71h-2.45zM239.59 59.78h2.45v2.71h-2.45zM203.66 62.04h2.45v2.71h-2.45zM251.57 62.04h2.45v2.71h-2.45zM201.67 64.30h2.45v2.71h-2.45zM251.57 64.30h2.45v2.71h-2.45zM245.58 66.56h2.45v2.71h-2.45zM199.67 68.82h2.45v2.71h-2.45zM259.55 73.34h2.45v2.71h-2.45zM261.55 73.34h2.45v2.71h-2.45zM263.55 73.34h2.45v2.71h-2.45zM265.54 73.34h2.45v2.71h-2.45zM267.54 73.34h2.45v2.71h-2.45zM269.53 73.34h2.45v2.71h-2.45zM271.53 73.34h2.45v2.71h-2.45zM273.53 73.34h2.45v2.71h-2.45zM275.52 73.34h2.45v2.71h-2.45zM277.52 73.34h2.45v2.71h-2.45zM279.52 73.34h2.45v2.71h-2.45zM281.51 73.34h2.45v2.71h-2.45zM283.51 73.34h2.45v2.71h-2.45zM285.50 73.34h2.45v2.71h-2.45zM253.57 75.60h2.45v2.71h-2.45zM195.68 77.86h2.45v2.71h-2.45zM255.56 77.86h2.45v2.71h-2.45zM235.60 82.38h2.45v2.71h-2.45zM249.57 84.64h2.45v2.71h-2.45zM251.57 84.64h2.45v2.71h-2.45zM253.57 93.68h2.45v2.71h-2.45z"/>
<path fill="#ff9800" d="M239.59 7.80h2.45v2.71h-2.45zM241.59 7.80h2.45v2.71h-2.45zM197.67 12.32h2.45v2.71h-2.45zM237.60 12.32h2.45v2.71h-2.45zM243.58 12.32h2.45v2.71h-2.45zM245.58 12.32h2.45v2.71h-2.45zM193.68 16.84h2.45v2.71h-2.45zM251.57 16.84h2.45v2.71h-2.45zM243.58 19.10h2.45v2.71h-2.45zM187.69 21.36h2.45v2.71h-2.45zM241.59 23.62h2.45v2.71h-2.45zM229.61 25.88h2.45v2.71h-2.45zM241.59 28.14h2.45v2.71h-2.45zM245.58 28.14h2.45v2.71h-2.45zM253.57 30.40h2.45v2.71h-2.45zM203.66 32.66h2.45v2.71h-2.45zM233.60 32.66h2.45v2.71h-2.45zM189.69 34.92h2.45v2.71h-2.45zM239.59 34.92h2.45v2.71h-2.45zM253.57 34.92h2.45v2.71h-2.45zM195.68 37.18h2.45v2.71h-2.45zM201.67 37.18h2.45v2.71h-2.45zM253.57 37.18h2.45v2.71h-2.45zM193.68 39.44h2.45v2.71h-2.45zM255.56 41.70h2.45v2.71h-2.45zM237.60 43.96h2.45v2.71h-2.45zM255.56 43.96h2.45v2.71h-2.45zM193.68 46.22h2.45v2.71h-2.45zM233.60 46.22h2.45v2.71h-2.45zM237.60 46.22h2.45v2.71h-2.45zM251.57 50.74h2.45v2.71h-2.45zM243.58 53.00h2.45v2.71h-2.45zM249.57 53.00h2.45v2.71h-2.45zM251.57 53.00h2.45v2.71h-2.45zM195.68 68.82h2.45v2.71h-2.45zM197.67 68.82h2.45v2.71h-2.45zM191.68 73.34h2.45v2.71h-2.45zM193.68 73.34h2.45v2.71h-2.45zM231.61 73.34h2.45v2.71h-2.45zM251.57 73.34h2.45v2.71h-2.45zM255.56 73.34h2.45v2.71h-2.45zM251.57 80.12h2.45v2.71h-2.45zM237.60 82.38h2.45v2.71h-2.45zM239.59 84.64h2.45v2.71h-2.45zM191.68 93.68h2.45v2.71h-2.45zM197.67 93.68h2.45v2.71h-2.45zM259.55 93.68h2.45v2.71h-2.45zM193.68 95.94h2.45v2.71h-2.45zM237.60 95.94h2.45v2.71h-2.45z"/>
<path fill="#ff0000" d="M255.56 7.80h2.45v2.71h-2.45zM229.61 10.06h2.45v2.71h-2.45zM255.56 14.58h2.45v2.71h-2.45zM233.60 43.96h2.45v2.71h-2.45zM203.66 68.82h2.45v2.71h-2.45zM231.61 84.64h2.45v2.71h-2.45zM231.61 86.90h2.45v2.71h-2.45zM233.60 95.94h2.45v2.71h-2.45z"/>
<path fill="#ffe800" d="M259.55 7.80h2.45v2.71h-2.45zM253.57 10.06h2.45v2.71h-2.45zM189.69 12.32h2.45v2.71h-2.45zM199.67 12.32h2.45v2.71h-2.45zM201.67 12.32h2.45v2.71h-2.45zM189.69 19.10h2.45v2.71h-2.45zM255.56 19.10h2.45v2.71h-2.45zM259.55 21.36h2.45v2.71h-2.45zM195.68 23.62h2.45v2.71h-2.45zM203.66 25.88h2.45v2.71h-2.45zM249.57 25.88h2.45v2.71h-2.45zM255.56 25.88h2.45v2.71h-2.45zM185.70 28.14h2.45v2.71h-2.45zM257.56 28.14h2.45v2.71h-2.45zM199.67 30.40h2.45v2.71h-2.45zM239.59 30.40h2.45v2.71h-2.45zM255.56 30.40h2.45v2.71h-2.45zM237.60 32.66h2.45v2.71h-2.45zM255.56 37.18h2.45v2.71h-2.45zM195.68 39.44h2.45v2.71h-2.45zM251.57 39.44h2.45v2.71h-2.45zM257.56 39.44h2.45v2.71h-2.45zM191.68 50.74h2.45v2.71h-2.45zM195.68 50.74h2.45v2.71h-2.45zM231.61 50.74h2.45v2.71h-2.45zM251.57 57.52h2.45v2.71h-2.45zM253.57 57.52h2.45v2.71h-2.45zM235.60 62.04h2.45v2.71h-2.45zM235.60 66.56h2.45v2.71h-2.45zM245.58 71.08h2.45v2.71h-2.45zM257.56 71.08h2.45v2.71h-2.45zM233.60 73.34h2.45v2.71h-2.45zM235.60 73.34h2.45v2.71h-2.45zM239.59 73.34h2.45v2.71h-2.45zM241.59 73.34h2.45v2.71h-2.45zM243.58 73.34h2.45v2.71h-2.45zM245.58 73.34h2.45v2.71h-2.45zM247.58 73.34h2.45v2.71h-2.45zM193.68 75.60h2.45v2.71h-2.45zM193.68 77.86h2.45v2.71h-2.45zM241.59 77.86h2.45v2.71h-2.45zM249.57 77.86h2.45v2.71h-2.45zM191.68 80.12h2.45v2.71h-2.45zM199.67 82.38h2.45v2.71h-2.45zM189.69 91.42h2.45v2.71h-2.45zM195.68 95.94h2.45v2.71h-2.45z"/>
<path fill="#e8ff00" d="M261.55 7.80h2.45v2.71h-2.45zM201.67 10.06h2.45v2.71h-2.45zM247.58 10.06h2.45v2.71h-2.45zM261.55 14.58h2.45v2.71h-2.45zM263.55 14.58h2.45v2.71h-2.45zM265.54 14.58h2.45v2.71h-2.45zM271.53 14.58h2.45v2.71h-2.45zM273.53 14.58h2.45v2.71h-2.45zM245.58 16.84h2.45v2.71h-2.45zM199.67 19.10h2.45v2.71h-2.45zM263.55 21.36h2.45v2.71h-2.45zM265.54 21.36h2.45v2.71h-2.45zM189.69 23.62h2.45v2.71h-2.45zM189.69 25.88h2.45v2.71h-2.45zM193.68 25.88h2.45v2.71h-2.45zM201.67 25.88h2.45v2.71h-2.45zM189.69 30.40h2.45v2.71h-2.45zM201.67 30.40h2.45v2.71h-2.45zM235.60 30.40h2.45v2.71h-2.45zM237.60 30.40h2.45v2.71h-2.45zM249.57 30.40h2.45v2.71h-2.45zM191.68 32.66h2.45v2.71h-2.45zM241.59 32.66h2.45v2.71h-2.45zM245.58 32.66h2.45v2.71h-2.45zM247.58 32.66h2.45v2.71h-2.45zM251.57 32.66h2.45v2.71h-2.45zM195.68 34.92h2.45v2.71h-2.45zM231.61 34.92h2.45v2.71h-2.45zM259.55 34.92h2.45v2.71h-2.45zM237.60 37.18h2.45v2.71h-2.45zM239.59 37.18h2.45v2.71h-2.45zM243.58 37.18h2.45v2.71h-2.45zM247.58 37.18h2.45v2.71h-2.45zM189.69 39.44h2.45v2.71h-2.45zM243.58 39.44h2.45v2.71h-2.45zM245.58 39.44h2.45v2.71h-2.45zM257.56 41.70h2.45v2.71h-2.45zM189.69 46.22h2.45v2.71h-2.45zM279.52 48.48h2.45v2.71h-2.45zM189.69 50.74h2.45v2.71h-2.45zM233.60 50.74h2.45v2.71h-2.45zM193.68 57.52h2.45v2.71h-2.45zM197.67 59.78h2.45v2.71h-2.45zM199.67 59.78h2.45v2.71h-2.45zM247.58 59.78h2.45v2.71h-2.45zM249.57 59.78h2.45v2.71h-2.45zM255.56 59.78h2.45v2.71h-2.45zM191.68 62.04h2.45v2.71h-2.45zM193.68 62.04h2.45v2.71h-2.45zM197.67 62.04h2.45v2.71h-2.45zM257.56 64.30h2.45v2.71h-2.45zM285.50 64.30h2.45v2.71h-2.45zM255.56 66.56h2.45v2.71h-2.45zM189.69 68.82h2.45v2.71h-2.45zM269.53 68.82h2.45v2.71h-2.45zM271.53 68.82h2.45v2.71h-2.45zM273.53 68.82h2.45v2.71h-2.45zM269.53 71.08h2.45v2.71h-2.45zM273.53 71.08h2.45v2.71h-2.45zM189.69 73.34h2.45v2.71h-2.45zM189.69 75.60h2.45v2.71h-2.45zM249.57 75.60h2.45v2.71h-2.45zM275.52 75.60h2.45v2.71h-2.45zM277.52 75.60h2.45v2.71h-2.45zM279.52 75.60h2.45v2.71h-2.45zM281.51 75.60h2.45v2.71h-2.45zM245.58 77.86h2.45v2.71h-2.45zM259.55 77.86h2.45v2.71h-2.45zM267.54 77.86h2.45v2.71h-2.45zM271.53 77.86h2.45v2.71h-2.45zM191.68 82.38h2.45v2.71h-2.45zM271.53 82.38h2.45v2.71h-2.45zM275.52 82.38h2.45v2.71h-2.45zM255.56 84.64h2.45v2.71h-2.45zM253.57 86.90h2.45v2.71h-2.45zM257.56 86.90h2.45v2.71h-2.45zM197.67 89.16h2.45v2.71h-2.45zM253.57 89.16h2.45v2.71h-2.45zM257.56 89.16h2.45v2.71h-2.45zM279.52 89.16h2.45v2.71h-2.45zM281.51 89.16h2.45v2.71h-2.45zM283.51 89.16h2.45v2.71h-2.45zM285.50 89.16h2.45v2.71h-2.45zM193.68 91.42h2.45v2.71h-2.45zM195.68 91.42h2.45v2.71h-2.45zM239.59 91.42h2.45v2.71h-2.45zM251.57 91.42h2.45v2.71h-2.45zM255.56 91.42h2.45v2.71h-2.45zM259.55 91.42h2.45v2.71h-2.45zM189.69 93.68h2.45v2.71h-2.45zM241.59 93.68h2.45v2.71h-2.45zM247.58 95.94h2.45v2.71h-2.45zM267.54 95.94h2.45v2.71h-2.45zM269.53 95.94h2.45v2.71h-2.45zM271.53 95.94h2.45v2.71h-2.45z"/>
<path fill="#c8ff00" d="M263.55 7.80h2.45v2.71h-2.45zM269.53 7.80h2.45v2.71h-2.45zM189.69 10.06h2.45v2.71h-2.45zM191.68 10.06h2.45v2.71h-2.45zM193.68 10.06h2.45v2.71h-2.45zM195.68 10.06h2.45v2.71h-2.45zM257.56 12.32h2.45v2.71h-2.45zM185.70 14.58h2.45v2.71h-2.45zM277.52 14.58h2.45v2.71h-2.45zM279.52 14.58h2.45v2.71h-2.45zM285.50 14.58h2.45v2.71h-2.45zM259.55 16.84h2.45v2.71h-2.45zM277.52 16.84h2.45v2.71h-2.45zM279.52 16.84h2.45v2.71h-2.45zM257.56 19.10h2.45v2.71h-2.45zM275.52 21.36h2.45v2.71h-2.45zM277.52 21.36h2.45v2.71h-2.45zM279.52 21.36h2.45v2.71h-2.45zM281.51 21.36h2.45v2.71h-2.45zM283.51 21.36h2.45v2.71h-2.45zM285.50 21.36h2.45v2.71h-2.45zM253.57 23.62h2.45v2.71h-2.45zM255.56 23.62h2.45v2.71h-2.45zM281.51 23.62h2.45v2.71h-2.45zM187.69 25.88h2.45v2.71h-2.45zM195.68 25.88h2.45v2.71h-2.45zM199.67 25.88h2.45v2.71h-2.45zM257.56 25.88h2.45v2.71h-2.45zM183.70 28.14h2.45v2.71h-2.45zM267.54 28.14h2.45v2.71h-2.45zM269.53 28.14h2.45v2.71h-2.45zM257.56 30.40h2.45v2.71h-2.45zM193.68 32.66h2.45v2.71h-2.45zM199.67 32.66h2.45v2.71h-2.45zM257.56 32.66h2.45v2.71h-2.45zM185.70 34.92h2.45v2.71h-2.45zM233.60 34.92h2.45v2.71h-2.45zM265.54 34.92h2.45v2.71h-2.45zM267.54 34.92h2.45v2.71h-2.45zM269.53 34.92h2.45v2.71h-2.45zM257.56 37.18h2.45v2.71h-2.45zM263.55 39.44h2.45v2.71h-2.45zM263.55 41.70h2.45v2.71h-2.45zM267.54 41.70h2.45v2.71h-2.45zM269.53 41.70h2.45v2.71h-2.45zM187.69 43.96h2.45v2.71h-2.45zM279.52 43.96h2.45v2.71h-2.45zM281.51 43.96h2.45v2.71h-2.45zM285.50 43.96h2.45v2.71h-2.45zM259.55 46.22h2.45v2.71h-2.45zM281.51 46.22h2.45v2.71h-2.45zM273.53 48.48h2.45v2.71h-2.45zM275.52 48.48h2.45v2.71h-2.45zM283.51 48.48h2.45v2.71h-2.45zM285.50 48.48h2.45v2.71h-2.45zM235.60 50.74h2.45v2.71h-2.45zM237.60 50.74h2.45v2.71h-2.45zM239.59 50.74h2.45v2.71h-2.45zM257.56 50.74h2.45v2.71h-2.45zM257.56 53.00h2.45v2.71h-2.45zM269.53 53.00h2.45v2.71h-2.45zM271.53 53.00h2.45v2.71h-2.45zM283.51 53.00h2.45v2.71h-2.45zM187.69 55.26h2.45v2.71h-2.45zM255.56 57.52h2.45v2.71h-2.45zM259.55 57.52h2.45v2.71h-2.45zM263.55 57.52h2.45v2.71h-2.45zM281.51 57.52h2.45v2.71h-2.45zM283.51 57.52h2.45v2.71h-2.45zM199.67 62.04h2.45v2.71h-2.45zM189.69 64.30h2.45v2.71h-2.45zM261.55 64.30h2.45v2.71h-2.45zM263.55 64.30h2.45v2.71h-2.45zM265.54 64.30h2.45v2.71h-2.45zM267.54 64.30h2.45v2.71h-2.45zM269.53 64.30h2.45v2.71h-2.45zM271.53 64.30h2.45v2.71h-2.45zM273.53 64.30h2.45v2.71h-2.45zM275.52 64.30h2.45v2.71h-2.45zM277.52 64.30h2.45v2.71h-2.45zM279.52 64.30h2.45v2.71h-2.45zM281.51 64.30h2.45v2.71h-2.45zM197.67 66.56h2.45v2.71h-2.45zM257.56 66.56h2.45v2.71h-2.45zM283.51 66.56h2.45v2.71h-2.45zM285.50 66.56h2.45v2.71h-2.45zM263.55 68.82h2.45v2.71h-2.45zM265.54 68.82h2.45v2.71h-2.45zM263.55 71.08h2.45v2.71h-2.45zM275.52 71.08h2.45v2.71h-2.45zM265.54 75.60h2.45v2.71h-2.45zM269.53 75.60h2.45v2.71h-2.45zM271.53 75.60h2.45v2.71h-2.45zM261.55 77.86h2.45v2.71h-2.45zM265.54 77.86h2.45v2.71h-2.45zM273.53 77.86h2.45v2.71h-2.45zM259.55 80.12h2.45v2.71h-2.45zM269.53 80.12h2.45v2.71h-2.45zM271.53 80.12h2.45v2.71h-2.45zM277.52 80.12h2.45v2.71h-2.45zM279.52 80.12h2.45v2.71h-2.45zM261.55 82.38h2.45v2.71h-2.45zM263.55 82.38h2.45v2.71h-2.45zM265.54 82.38h2.45v2.71h-2.45zM269.53 82.38h2.45v2.71h-2.45zM277.52 82.38h2.45v2.71h-2.45zM191.68 84.64h2.45v2.71h-2.45zM193.68 84.64h2.45v2.71h-2.45zM249.57 86.90h2.45v2.71h-2.45zM251.57 86.90h2.45v2.71h-2.45zM271.53 86.90h2.45v2.71h-2.45zM251.57 89.16h2.45v2.71h-2.45zM275.52 89.16h2.45v2.71h-2.45zM243.58 91.42h2.45v2.71h-2.45zM249.57 91.42h2.45v2.71h-2.45zM267.54 91.42h2.45v2.71h-2.45zM269.53 91.42h2.45v2.71h-2.45zM271.53 91.42h2.45v2.71h-2.45zM243.58 93.68h2.45v2.71h-2.45zM249.57 93.68h2.45v2.71h-2.45zM245.58 95.94h2.45v2.71h-2.45zM265.54 95.94h2.45v2.71h-2.45zM273.53 95.94h2.45v2.71h-2.45z"/>
<path fill="#b8ff00" d="M265.54 7.80h2.45v2.71h-2.45zM267.54 7.80h2.45v2.71h-2.45zM187.69 10.06h2.45v2.71h-2.45zM263.55 10.06h2.45v2.71h-2.45zM271.53 10.06h2.45v2.71h-2.45zM273.53 10.06h2.45v2.71h-2.45zM281.51 14.58h2.45v2.71h-2.45zM261.55 16.84h2.45v2.71h-2.45zM263.55 16.84h2.45v2.71h-2.45zM269.53 21.36h2.45v2.71h-2.45zM257.56 23.62h2.45v2.71h-2.45zM283.51 23.62h2.45v2.71h-2.45zM197.67 25.88h2.45v2.71h-2.45zM259.55 28.14h2.45v2.71h-2.45zM187.69 30.40h2.45v2.71h-2.45zM185.70 32.66h2.45v2.71h-2.45zM271.53 34.92h2.45v2.71h-2.45zM265.54 37.18h2.45v2.71h-2.45zM267.54 37.18h2.45v2.71h-2.45zM265.54 39.44h2.45v2.71h-2.45zM281.51 39.44h2.45v2.71h-2.45zM283.51 39.44h2.45v2.71h-2.45zM285.50 39.44h2.45v2.71h-2.45zM271.53 41.70h2.45v2.71h-2.45zM279.52 41.70h2.45v2.71h-2.45zM277.52 43.96h2.45v2.71h-2.45zM283.51 43.96h2.45v2.71h-2.45zM273.53 46.22h2.45v2.71h-2.45zM275.52 46.22h2.45v2.71h-2.45zM283.51 46.22h2.45v2.71h-2.45zM263.55 48.48h2.45v2.71h-2.45zM271.53 50.74h2.45v2.71h-2.45zM273.53 50.74h2.45v2.71h-2.45zM187.69 53.00h2.45v2.71h-2.45zM267.54 53.00h2.45v2.71h-2.45zM273.53 53.00h2.45v2.71h-2.45zM285.50 53.00h2.45v2.71h-2.45zM191.68 57.52h2.45v2.71h-2.45zM285.50 57.52h2.45v2.71h-2.45zM257.56 59.78h2.45v2.71h-2.45zM277.52 68.82h2.45v2.71h-2.45zM265.54 71.08h2.45v2.71h-2.45zM277.52 71.08h2.45v2.71h-2.45zM281.51 71.08h2.45v2.71h-2.45zM283.51 71.08h2.45v2.71h-2.45zM261.55 75.60h2.45v2.71h-2.45zM285.50 75.60h2.45v2.71h-2.45zM263.55 77.86h2.45v2.71h-2.45zM189.69 80.12h2.45v2.71h-2.45zM267.54 80.12h2.45v2.71h-2.45zM273.53 80.12h2.45v2.71h-2.45zM275.52 80.12h2.45v2.71h-2.45zM267.54 82.38h2.45v2.71h-2.45zM245.58 86.90h2.45v2.71h-2.45zM247.58 86.90h2.45v2.71h-2.45zM269.53 86.90h2.45v2.71h-2.45zM273.53 86.90h2.45v2.71h-2.45zM249.57 89.16h2.45v2.71h-2.45zM259.55 89.16h2.45v2.71h-2.45zM261.55 91.42h2.45v2.71h-2.45zM265.54 91.42h2.45v2.71h-2.45zM283.51 91.42h2.45v2.71h-2.45zM269.53 93.68h2.45v2.71h-2.45zM285.50 93.68h2.45v2.71h-2.45zM259.55 95.94h2.45v2.71h-2.45zM263.55 95.94h2.45v2.71h-2.45z"/>
<path fill="#a8ff00" d="M271.53 7.80h2.45v2.71h-2.45zM261.55 10.06h2.45v2.71h-2.45zM265.54 10.06h2.45v2.71h-2.45zM269.53 10.06h2.45v2.71h-2.45zM265.54 12.32h2.45v2.71h-2.45zM267.54 12.32h2.45v2.71h-2.45zM283.51 14.58h2.45v2.71h-2.45zM185.70 16.84h2.45v2.71h-2.45zM265.54 16.84h2.45v2.71h-2.45zM275.52 16.84h2.45v2.71h-2.45zM281.51 16.84h2.45v2.71h-2.45zM259.55 19.10h2.45v2.71h-2.45zM273.53 21.36h2.45v2.71h-2.45zM185.70 23.62h2.45v2.71h-2.45zM251.57 23.62h2.45v2.71h-2.45zM259.55 23.62h2.45v2.71h-2.45zM279.52 23.62h2.45v2.71h-2.45zM271.53 28.14h2.45v2.71h-2.45zM259.55 30.40h2.45v2.71h-2.45zM279.52 34.92h2.45v2.71h-2.45zM281.51 34.92h2.45v2.71h-2.45zM269.53 37.18h2.45v2.71h-2.45zM267.54 39.44h2.45v2.71h-2.45zM279.52 39.44h2.45v2.71h-2.45zM261.55 41.70h2.45v2.71h-2.45zM273.53 41.70h2.45v2.71h-2.45zM259.55 43.96h2.45v2.71h-2.45zM271.53 46.22h2.45v2.71h-2.45zM277.52 46.22h2.45v2.71h-2.45zM279.52 46.22h2.45v2.71h-2.45zM285.50 46.22h2.45v2.71h-2.45zM271.53 48.48h2.45v2.71h-2.45zM285.50 50.74h2.45v2.71h-2.45zM259.55 53.00h2.45v2.71h-2.45zM281.51 53.00h2.45v2.71h-2.45zM271.53 55.26h2.45v2.71h-2.45zM273.53 55.26h2.45v2.71h-2.45zM189.69 57.52h2.45v2.71h-2.45zM257.56 57.52h2.45v2.71h-2.45zM265.54 57.52h2.45v2.71h-2.45zM267.54 57.52h2.45v2.71h-2.45zM269.53 57.52h2.45v2.71h-2.45zM259.55 59.78h2.45v2.71h-2.45zM285.50 59.78h2.45v2.71h-2.45zM259.55 62.04h2.45v2.71h-2.45zM285.50 62.04h2.45v2.71h-2.45zM259.55 66.56h2.45v2.71h-2.45zM279.52 68.82h2.45v2.71h-2.45zM281.51 68.82h2.45v2.71h-2.45zM283.51 68.82h2.45v2.71h-2.45zM285.50 68.82h2.45v2.71h-2.45zM279.52 71.08h2.45v2.71h-2.45zM263.55 75.60h2.45v2.71h-2.45zM275.52 77.86h2.45v2.71h-2.45zM283.51 77.86h2.45v2.71h-2.45zM285.50 77.86h2.45v2.71h-2.45zM261.55 80.12h2.45v2.71h-2.45zM279.52 82.38h2.45v2.71h-2.45zM189.69 86.90h2.45v2.71h-2.45zM243.58 86.90h2.45v2.71h-2.45zM275.52 86.90h2.45v2.71h-2.45zM247.58 89.16h2.45v2.71h-2.45zM261.55 89.16h2.45v2.71h-2.45zM263.55 89.16h2.45v2.71h-2.45zM245.58 91.42h2.45v2.71h-2.45zM247.58 91.42h2.45v2.71h-2.45zM273.53 91.42h2.45v2.71h-2.45zM281.51 91.42h2.45v2.71h-2.45zM251.57 95.94h2.45v2.71h-2.45zM261.55 95.94h2.45v2.71h-2.45zM275.52 95.94h2.45v2.71h-2.45zM279.52 95.94h2.45v2.71h-2.45z"/>
<path fill="#78ff00" d="M275.52 7.80h2.45v2.71h-2.45zM285.50 7.80h2.45v2.71h-2.45zM185.70 10.06h2.45v2.71h-2.45zM283.51 10.06h2.45v2.71h-2.45zM285.50 10.06h2.45v2.71h-2.45zM285.50 12.32h2.45v2.71h-2.45zM283.51 16.84h2.45v2.71h-2.45zM285.50 16.84h2.45v2.71h-2.45zM265.54 19.10h2.45v2.71h-2.45zM263.55 23.62h2.45v2.71h-2.45zM275.52 23.62h2.45v2.71h-2.45zM259.55 25.88h2.45v2.71h-2.45zM285.50 28.14h2.45v2.71h-2.45zM263.55 30.40h2.45v2.71h-2.45zM285.50 30.40h2.45v2.71h-2.45zM277.52 32.66h2.45v2.71h-2.45zM279.52 37.18h2.45v2.71h-2.45zM273.53 39.44h2.45v2.71h-2.45zM263.55 46.22h2.45v2.71h-2.45zM265.54 46.22h2.45v2.71h-2.45zM267.54 46.22h2.45v2.71h-2.45zM261.55 50.74h2.45v2.71h-2.45zM263.55 50.74h2.45v2.71h-2.45zM265.54 50.74h2.45v2.71h-2.45zM267.54 50.74h2.45v2.71h-2.45zM279.52 53.00h2.45v2.71h-2.45zM267.54 55.26h2.45v2.71h-2.45zM191.68 59.78h2.45v2.71h-2.45zM267.54 59.78h2.45v2.71h-2.45zM271.53 62.04h2.45v2.71h-2.45zM263.55 66.56h2.45v2.71h-2.45zM269.53 66.56h2.45v2.71h-2.45zM273.53 66.56h2.45v2.71h-2.45zM279.52 77.86h2.45v2.71h-2.45zM189.69 82.38h2.45v2.71h-2.45zM257.56 84.64h2.45v2.71h-2.45zM263.55 84.64h2.45v2.71h-2.45zM277.52 84.64h2.45v2.71h-2.45zM267.54 86.90h2.45v2.71h-2.45zM279.52 86.90h2.45v2.71h-2.45zM283.51 86.90h2.45v2.71h-2.45zM269.53 89.16h2.45v2.71h-2.45zM271.53 89.16h2.45v2.71h-2.45zM277.52 91.42h2.45v2.71h-2.45zM285.50 95.94h2.45v2.71h-2.45z"/>
<path fill="#68ff00" d="M277.52 7.80h2.45v2.71h-2.45zM283.51 12.32h2.45v2.71h-2.45zM267.54 19.10h2.45v2.71h-2.45zM271.53 19.10h2.45v2.71h-2.45zM279.52 19.10h2.45v2.71h-2.45zM281.51 19.10h2.45v2.71h-2.45zM265.54 23.62h2.45v2.71h-2.45zM285.50 23.62h2.45v2.71h-2.45zM185.70 25.88h2.45v2.71h-2.45zM263.55 28.14h2.45v2.71h-2.45zM283.51 30.40h2.45v2.71h-2.45zM285.50 32.66h2.45v2.71h-2.45zM273.53 37.18h2.45v2.71h-2.45zM277.52 37.18h2.45v2.71h-2.45zM261.55 43.96h2.45v2.71h-2.45zM263.55 43.96h2.45v2.71h-2.45zM265.54 43.96h2.45v2.71h-2.45zM271.53 43.96h2.45v2.71h-2.45zM277.52 50.74h2.45v2.71h-2.45zM277.52 53.00h2.45v2.71h-2.45zM265.54 55.26h2.45v2.71h-2.45zM279.52 55.26h2.45v2.71h-2.45zM281.51 55.26h2.45v2.71h-2.45zM187.69 57.52h2.45v2.71h-2.45zM273.53 57.52h2.45v2.71h-2.45zM263.55 59.78h2.45v2.71h-2.45zM265.54 59.78h2.45v2.71h-2.45zM269.53 59.78h2.45v2.71h-2.45zM281.51 59.78h2.45v2.71h-2.45zM261.55 62.04h2.45v2.71h-2.45zM263.55 62.04h2.45v2.71h-2.45zM273.53 62.04h2.45v2.71h-2.45zM193.68 66.56h2.45v2.71h-2.45zM265.54 66.56h2.45v2.71h-2.45zM267.54 66.56h2.45v2.71h-2.45zM187.69 75.60h2.45v2.71h-2.45zM283.51 82.38h2.45v2.71h-2.45zM259.55 84.64h2.45v2.71h-2.45zM273.53 84.64h2.45v2.71h-2.45zM275.52 84.64h2.45v2.71h-2.45zM281.51 84.64h2.45v2.71h-2.45zM263.55 86.90h2.45v2.71h-2.45zM281.51 86.90h2.45v2.71h-2.45zM239.59 89.16h2.45v2.71h-2.45zM241.59 89.16h2.45v2.71h-2.45zM279.52 93.68h2.45v2.71h-2.45zM281.51 93.68h2.45v2.71h-2.45zM239.59 95.94h2.45v2.71h-2.45zM243.58 95.94h2.45v2.71h-2.45zM283.51 95.94h2.45v2.71h-2.45z"/>
<path fill="#98ff00" d="M281.51 7.80h2.45v2.71h-2.45zM257.56 10.06h2.45v2.71h-2.45zM259.55 10.06h2.45v2.71h-2.45zM267.54 10.06h2.45v2.71h-2.45zM261.55 12.32h2.45v2.71h-2.45zM263.55 12.32h2.45v2.71h-2.45zM267.54 16.84h2.45v2.71h-2.45zM275.52 19.10h2.45v2.71h-2.45zM271.53 21.36h2.45v2.71h-2.45zM269.53 23.62h2.45v2.71h-2.45zM271.53 23.62h2.45v2.71h-2.45zM273.53 28.14h2.45v2.71h-2.45zM275.52 28.14h2.45v2.71h-2.45zM277.52 28.14h2.45v2.71h-2.45zM195.68 32.66h2.45v2.71h-2.45zM197.67 32.66h2.45v2.71h-2.45zM259.55 32.66h2.45v2.71h-2.45zM261.55 32.66h2.45v2.71h-2.45zM275.52 32.66h2.45v2.71h-2.45zM273.53 34.92h2.45v2.71h-2.45zM275.52 34.92h2.45v2.71h-2.45zM277.52 34.92h2.45v2.71h-2.45zM283.51 34.92h2.45v2.71h-2.45zM259.55 37.18h2.45v2.71h-2.45zM263.55 37.18h2.45v2.71h-2.45zM269.53 39.44h2.45v2.71h-2.45zM277.52 39.44h2.45v2.71h-2.45zM185.70 41.70h2.45v2.71h-2.45zM259.55 41.70h2.45v2.71h-2.45zM275.52 41.70h2.45v2.71h-2.45zM277.52 41.70h2.45v2.71h-2.45zM275.52 43.96h2.45v2.71h-2.45zM187.69 46.22h2.45v2.71h-2.45zM261.55 46.22h2.45v2.71h-2.45zM187.69 48.48h2.45v2.71h-2.45zM269.53 48.48h2.45v2.71h-2.45zM187.69 50.74h2.45v2.71h-2.45zM269.53 50.74h2.45v2.71h-2.45zM275.52 50.74h2.45v2.71h-2.45zM261.55 53.00h2.45v2.71h-2.45zM265.54 53.00h2.45v2.71h-2.45zM275.52 53.00h2.45v2.71h-2.45zM263.55 55.26h2.45v2.71h-2.45zM275.52 55.26h2.45v2.71h-2.45zM285.50 55.26h2.45v2.71h-2.45zM271.53 57.52h2.45v2.71h-2.45zM193.68 59.78h2.45v2.71h-2.45zM261.55 59.78h2.45v2.71h-2.45zM267.54 62.04h2.45v2.71h-2.45zM195.68 66.56h2.45v2.71h-2.45zM281.51 66.56h2.45v2.71h-2.45zM285.50 71.08h2.45v2.71h-2.45zM265.54 80.12h2.45v2.71h-2.45zM255.56 86.90h2.45v2.71h-2.45zM261.55 86.90h2.45v2.71h-2.45zM285.50 86.90h2.45v2.71h-2.45zM245.58 89.16h2.45v2.71h-2.45zM265.54 89.16h2.45v2.71h-2.45zM273.53 89.16h2.45v2.71h-2.45zM263.55 91.42h2.45v2.71h-2.45zM285.50 91.42h2.45v2.71h-2.45zM245.58 93.68h2.45v2.71h-2.45zM271.53 93.68h2.45v2.71h-2.45zM273.53 93.68h2.45v2.71h-2.45zM275.52 93.68h2.45v2.71h-2.45zM283.51 93.68h2.45v2.71h-2.45zM277.52 95.94h2.45v2.71h-2.45zM281.51 95.94h2.45v2.71h-2.45z"/>
<path fill="#18ff00" d="M183.70 10.06h2.45v2.71h-2.45zM275.52 12.32h2.45v2.71h-2.45zM277.52 12.32h2.45v2.71h-2.45zM285.50 19.10h2.45v2.71h-2.45zM263.55 25.88h2.45v2.71h-2.45zM275.52 25.88h2.45v2.71h-2.45zM267.54 32.66h2.45v2.71h-2.45zM183.70 37.18h2.45v2.71h-2.45zM185.70 48.48h2.45v2.71h-2.45zM185.70 50.74h2.45v2.71h-2.45zM185.70 53.00h2.45v2.71h-2.45zM187.69 80.12h2.45v2.71h-2.45z"/>
<path fill="#f8ff00" d="M199.67 10.06h2.45v2.71h-2.45zM239.59 10.06h2.45v2.71h-2.45zM249.57 10.06h2.45v2.71h-2.45zM251.57 10.06h2.45v2.71h-2.45zM187.69 12.32h2.45v2.71h-2.45zM251.57 12.32h2.45v2.71h-2.45zM255.56 12.32h2.45v2.71h-2.45zM197.67 16.84h2.45v2.71h-2.45zM243.58 16.84h2.45v2.71h-2.45zM257.56 16.84h2.45v2.71h-2.45zM261.55 21.36h2.45v2.71h-2.45zM191.68 23.62h2.45v2.71h-2.45zM191.68 25.88h2.45v2.71h-2.45zM233.60 30.40h2.45v2.71h-2.45zM245.58 30.40h2.45v2.71h-2.45zM189.69 32.66h2.45v2.71h-2.45zM239.59 32.66h2.45v2.71h-2.45zM199.67 34.92h2.45v2.71h-2.45zM245.58 34.92h2.45v2.71h-2.45zM247.58 34.92h2.45v2.71h-2.45zM249.57 34.92h2.45v2.71h-2.45zM251.57 34.92h2.45v2.71h-2.45zM257.56 34.92h2.45v2.71h-2.45zM189.69 37.18h2.45v2.71h-2.45zM241.59 37.18h2.45v2.71h-2.45zM239.59 39.44h2.45v2.71h-2.45zM241.59 39.44h2.45v2.71h-2.45zM247.58 39.44h2.45v2.71h-2.45zM259.55 39.44h2.45v2.71h-2.45zM197.67 46.22h2.45v2.71h-2.45zM199.67 46.22h2.45v2.71h-2.45zM243.58 46.22h2.45v2.71h-2.45zM245.58 46.22h2.45v2.71h-2.45zM257.56 46.22h2.45v2.71h-2.45zM259.55 48.48h2.45v2.71h-2.45zM197.67 50.74h2.45v2.71h-2.45zM199.67 50.74h2.45v2.71h-2.45zM241.59 50.74h2.45v2.71h-2.45zM193.68 53.00h2.45v2.71h-2.45zM259.55 55.26h2.45v2.71h-2.45zM251.57 59.78h2.45v2.71h-2.45zM189.69 62.04h2.45v2.71h-2.45zM195.68 62.04h2.45v2.71h-2.45zM201.67 62.04h2.45v2.71h-2.45zM231.61 62.04h2.45v2.71h-2.45zM233.60 62.04h2.45v2.71h-2.45zM199.67 66.56h2.45v2.71h-2.45zM259.55 68.82h2.45v2.71h-2.45zM259.55 71.08h2.45v2.71h-2.45zM271.53 71.08h2.45v2.71h-2.45zM247.58 75.60h2.45v2.71h-2.45zM251.57 75.60h2.45v2.71h-2.45zM243.58 77.86h2.45v2.71h-2.45zM247.58 77.86h2.45v2.71h-2.45zM269.53 77.86h2.45v2.71h-2.45zM257.56 80.12h2.45v2.71h-2.45zM193.68 82.38h2.45v2.71h-2.45zM195.68 82.38h2.45v2.71h-2.45zM197.67 82.38h2.45v2.71h-2.45zM251.57 82.38h2.45v2.71h-2.45zM257.56 82.38h2.45v2.71h-2.45zM273.53 82.38h2.45v2.71h-2.45zM195.68 84.64h2.45v2.71h-2.45zM243.58 84.64h2.45v2.71h-2.45zM237.60 86.90h2.45v2.71h-2.45zM193.68 89.16h2.45v2.71h-2.45zM195.68 89.16h2.45v2.71h-2.45zM199.67 89.16h2.45v2.71h-2.45zM235.60 89.16h2.45v2.71h-2.45zM251.57 93.68h2.45v2.71h-2.45zM265.54 93.68h2.45v2.71h-2.45zM189.69 95.94h2.45v2.71h-2.45z"/>
<path fill="#58ff00" d="M277.52 10.06h2.45v2.71h-2.45zM281.51 10.06h2.45v2.71h-2.45zM271.53 12.32h2.45v2.71h-2.45zM269.53 19.10h2.45v2.71h-2.45zM269.53 25.88h2.45v2.71h-2.45zM265.54 30.40h2.45v2.71h-2.45zM267.54 30.40h2.45v2.71h-2.45zM183.70 32.66h2.45v2.71h-2.45zM265.54 32.66h2.45v2.71h-2.45zM279.52 32.66h2.45v2.71h-2.45zM283.51 32.66h2.45v2.71h-2.45zM275.52 37.18h2.45v2.71h-2.45zM267.54 43.96h2.45v2.71h-2.45zM281.51 50.74h2.45v2.71h-2.45zM189.69 59.78h2.45v2.71h-2.45zM277.52 59.78h2.45v2.71h-2.45zM279.52 59.78h2.45v2.71h-2.45zM275.52 62.04h2.45v2.71h-2.45zM283.51 62.04h2.45v2.71h-2.45zM191.68 66.56h2.45v2.71h-2.45zM279.52 66.56h2.45v2.71h-2.45zM187.69 68.82h2.45v2.71h-2.45zM189.69 71.08h2.45v2.71h-2.45zM265.54 84.64h2.45v2.71h-2.45zM271.53 84.64h2.45v2.71h-2.45zM239.59 86.90h2.45v2.71h-2.45zM265.54 86.90h2.45v2.71h-2.45zM187.69 91.42h2.45v2.71h-2.45z"/>
<path fill="#38ff00" d="M279.52 10.06h2.45v2.71h-2.45zM183.70 21.36h2.45v2.71h-2.45zM183.70 23.62h2.45v2.71h-2.45zM261.55 25.88h2.45v2.71h-2.45zM281.51 30.40h2.45v2.71h-2.45zM185.70 43.96h2.45v2.71h-2.45zM273.53 59.78h2.45v2.71h-2.45zM275.52 59.78h2.45v2.71h-2.45zM277.52 66.56h2.45v2.71h-2.45zM187.69 73.34h2.45v2.71h-2.45zM189.69 77.86h2.45v2.71h-2.45zM267.54 84.64h2.45v2.71h-2.45zM283.51 84.64h2.45v2.71h-2.45zM285.50 84.64h2.45v2.71h-2.45zM187.69 93.68h2.45v2.71h-2.45z"/>
<path fill="#00ff28" d="M183.70 12.32h2.45v2.71h-2.45zM279.52 25.88h2.45v2.71h-2.45zM183.70 41.70h2.45v2.71h-2.45zM187.69 77.86h2.45v2.71h-2.45zM187.69 89.16h2.45v2.71h-2.45z"/>
<path fill="#ffc800" d="M191.68 12.32h2.45v2.71h-2.45zM249.57 12.32h2.45v2.71h-2.45zM245.58 19.10h2.45v2.71h-2.45zM241.59 21.36h2.45v2.71h-2.45zM243.58 21.36h2.45v2.71h-2.45zM245.58 21.36h2.45v2.71h-2.45zM249.57 21.36h2.45v2.71h-2.45zM197.67 23.62h2.45v2.71h-2.45zM231.61 23.62h2.45v2.71h-2.45zM243.58 25.88h2.45v2.71h-2.45zM245.58 25.88h2.45v2.71h-2.45zM231.61 30.40h2.45v2.71h-2.45zM241.59 30.40h2.45v2.71h-2.45zM243.58 30.40h2.45v2.71h-2.45zM235.60 32.66h2.45v2.71h-2.45zM253.57 32.66h2.45v2.71h-2.45zM201.67 34.92h2.45v2.71h-2.45zM235.60 37.18h2.45v2.71h-2.45zM199.67 39.44h2.45v2.71h-2.45zM251.57 48.48h2.45v2.71h-2.45zM197.67 53.00h2.45v2.71h-2.45zM201.67 59.78h2.45v2.71h-2.45zM241.59 62.04h2.45v2.71h-2.45zM191.68 64.30h2.45v2.71h-2.45zM233.60 66.56h2.45v2.71h-2.45zM237.60 66.56h2.45v2.71h-2.45zM241.59 71.08h2.45v2.71h-2.45zM247.58 71.08h2.45v2.71h-2.45zM251.57 71.08h2.45v2.71h-2.45zM249.57 73.34h2.45v2.71h-2.45zM245.58 75.60h2.45v2.71h-2.45zM249.57 80.12h2.45v2.71h-2.45zM243.58 82.38h2.45v2.71h-2.45zM245.58 82.38h2.45v2.71h-2.45zM193.68 86.90h2.45v2.71h-2.45zM253.57 91.42h2.45v2.71h-2.45zM195.68 93.68h2.45v2.71h-2.45zM235.60 93.68h2.45v2.71h-2.45zM261.55 93.68h2.45v2.71h-2.45z"/>
<path fill="#ffa800" d="M203.66 12.32h2.45v2.71h-2.45zM239.59 12.32h2.45v2.71h-2.45zM241.59 12.32h2.45v2.71h-2.45zM247.58 12.32h2.45v2.71h-2.45zM241.59 16.84h2.45v2.71h-2.45zM255.56 16.84h2.45v2.71h-2.45zM191.68 19.10h2.45v2.71h-2.45zM239.59 21.36h2.45v2.71h-2.45zM247.58 23.62h2.45v2.71h-2.45zM253.57 25.88h2.45v2.71h-2.45zM199.67 28.14h2.45v2.71h-2.45zM243.58 28.14h2.45v2.71h-2.45zM247.58 28.14h2.45v2.71h-2.45zM197.67 30.40h2.45v2.71h-2.45zM191.68 39.44h2.45v2.71h-2.45zM241.59 43.96h2.45v2.71h-2.45zM201.67 46.22h2.45v2.71h-2.45zM235.60 46.22h2.45v2.71h-2.45zM241.59 48.48h2.45v2.71h-2.45zM243.58 48.48h2.45v2.71h-2.45zM245.58 48.48h2.45v2.71h-2.45zM247.58 48.48h2.45v2.71h-2.45zM201.67 50.74h2.45v2.71h-2.45zM245.58 50.74h2.45v2.71h-2.45zM247.58 50.74h2.45v2.71h-2.45zM249.57 50.74h2.45v2.71h-2.45zM199.67 53.00h2.45v2.71h-2.45zM255.56 55.26h2.45v2.71h-2.45zM249.57 57.52h2.45v2.71h-2.45zM241.59 59.78h2.45v2.71h-2.45zM243.58 62.04h2.45v2.71h-2.45zM255.56 62.04h2.45v2.71h-2.45zM199.67 64.30h2.45v2.71h-2.45zM241.59 64.30h2.45v2.71h-2.45zM243.58 64.30h2.45v2.71h-2.45zM249.57 64.30h2.45v2.71h-2.45zM239.59 66.56h2.45v2.71h-2.45zM241.59 66.56h2.45v2.71h-2.45zM193.68 68.82h2.45v2.71h-2.45zM231.61 71.08h2.45v2.71h-2.45zM255.56 71.08h2.45v2.71h-2.45zM241.59 80.12h2.45v2.71h-2.45zM239.59 82.38h2.45v2.71h-2.45zM253.57 82.38h2.45v2.71h-2.45zM197.67 84.64h2.45v2.71h-2.45zM247.58 84.64h2.45v2.71h-2.45zM195.68 86.90h2.45v2.71h-2.45zM237.60 93.68h2.45v2.71h-2.45z"/>
<path fill="#28ff00" d="M273.53 12.32h2.45v2.71h-2.45zM279.52 12.32h2.45v2.71h-2.45zM183.70 14.58h2.45v2.71h-2.45zM265.54 25.88h2.45v2.71h-2.45zM273.53 25.88h2.45v2.71h-2.45zM185.70 55.26h2.45v2.71h-2.45zM279.52 62.04h2.45v2.71h-2.45zM281.51 62.04h2.45v2.71h-2.45zM189.69 66.56h2.45v2.71h-2.45zM187.69 95.94h2.45v2.71h-2.45z"/>
<path fill="#48ff00" d="M281.51 12.32h2.45v2.71h-2.45zM283.51 19.10h2.45v2.71h-2.45zM267.54 25.88h2.45v2.71h-2.45zM271.53 25.88h2.45v2.71h-2.45zM185.70 30.40h2.45v2.71h-2.45zM269.53 30.40h2.45v2.71h-2.45zM271.53 32.66h2.45v2.71h-2.45zM281.51 32.66h2.45v2.71h-2.45zM183.70 34.92h2.45v2.71h-2.45zM269.53 43.96h2.45v2.71h-2.45zM279.52 50.74h2.45v2.71h-2.45zM275.52 57.52h2.45v2.71h-2.45zM277.52 57.52h2.45v2.71h-2.45zM271.53 59.78h2.45v2.71h-2.45zM277.52 62.04h2.45v2.71h-2.45zM187.69 64.30h2.45v2.71h-2.45zM275.52 66.56h2.45v2.71h-2.45zM285.50 82.38h2.45v2.71h-2.45zM269.53 84.64h2.45v2.71h-2.45zM189.69 89.16h2.45v2.71h-2.45zM241.59 95.94h2.45v2.71h-2.45z"/>
<path fill="#ff4800" d="M191.68 14.58h2.45v2.71h-2.45zM199.67 14.58h2.45v2.71h-2.45zM191.68 16.84h2.45v2.71h-2.45zM231.61 19.10h2.45v2.71h-2.45zM239.59 19.10h2.45v2.71h-2.45zM191.68 21.36h2.45v2.71h-2.45zM197.67 21.36h2.45v2.71h-2.45zM203.66 21.36h2.45v2.71h-2.45zM235.60 21.36h2.45v2.71h-2.45zM255.56 21.36h2.45v2.71h-2.45zM253.57 28.14h2.45v2.71h-2.45zM231.61 32.66h2.45v2.71h-2.45zM235.60 39.44h2.45v2.71h-2.45zM237.60 41.70h2.45v2.71h-2.45zM235.60 43.96h2.45v2.71h-2.45zM193.68 48.48h2.45v2.71h-2.45zM201.67 48.48h2.45v2.71h-2.45zM253.57 50.74h2.45v2.71h-2.45zM243.58 55.26h2.45v2.71h-2.45zM199.67 57.52h2.45v2.71h-2.45zM241.59 57.52h2.45v2.71h-2.45zM245.58 57.52h2.45v2.71h-2.45zM253.57 62.04h2.45v2.71h-2.45zM193.68 64.30h2.45v2.71h-2.45zM253.57 64.30h2.45v2.71h-2.45zM201.67 66.56h2.45v2.71h-2.45zM257.56 68.82h2.45v2.71h-2.45zM197.67 75.60h2.45v2.71h-2.45zM199.67 77.86h2.45v2.71h-2.45zM237.60 80.12h2.45v2.71h-2.45zM199.67 84.64h2.45v2.71h-2.45zM237.60 91.42h2.45v2.71h-2.45zM257.56 93.68h2.45v2.71h-2.45zM201.67 95.94h2.45v2.71h-2.45zM235.60 95.94h2.45v2.71h-2.45z"/>
<path fill="#ff5800" d="M243.58 14.58h2.45v2.71h-2.45zM189.69 16.84h2.45v2.71h-2.45zM201.67 16.84h2.45v2.71h-2.45zM237.60 16.84h2.45v2.71h-2.45zM253.57 16.84h2.45v2.71h-2.45zM193.68 21.36h2.45v2.71h-2.45zM195.68 21.36h2.45v2.71h-2.45zM231.61 21.36h2.45v2.71h-2.45zM233.60 21.36h2.45v2.71h-2.45zM203.66 37.18h2.45v2.71h-2.45zM245.58 41.70h2.45v2.71h-2.45zM247.58 41.70h2.45v2.71h-2.45zM231.61 46.22h2.45v2.71h-2.45zM251.57 46.22h2.45v2.71h-2.45zM195.68 48.48h2.45v2.71h-2.45zM253.57 48.48h2.45v2.71h-2.45zM201.67 53.00h2.45v2.71h-2.45zM233.60 55.26h2.45v2.71h-2.45zM251.57 55.26h2.45v2.71h-2.45zM253.57 55.26h2.45v2.71h-2.45zM203.66 59.78h2.45v2.71h-2.45zM237.60 59.78h2.45v2.71h-2.45zM247.58 62.04h2.45v2.71h-2.45zM249.57 66.56h2.45v2.71h-2.45zM237.60 75.60h2.45v2.71h-2.45zM239.59 75.60h2.45v2.71h-2.45zM241.59 75.60h2.45v2.71h-2.45zM233.60 77.86h2.45v2.71h-2.45zM235.60 77.86h2.45v2.71h-2.45zM253.57 77.86h2.45v2.71h-2.45zM193.68 80.12h2.45v2.71h-2.45zM235.60 91.42h2.45v2.71h-2.45zM199.67 93.68h2.45v2.71h-2.45zM231.61 93.68h2.45v2.71h-2.45z"/>
<path fill="#fff800" d="M259.55 14.58h2.45v2.71h-2.45zM195.68 16.84h2.45v2.71h-2.45zM247.58 16.84h2.45v2.71h-2.45zM203.66 19.10h2.45v2.71h-2.45zM193.68 23.62h2.45v2.71h-2.45zM249.57 23.62h2.45v2.71h-2.45zM237.60 25.88h2.45v2.71h-2.45zM239.59 25.88h2.45v2.71h-2.45zM251.57 25.88h2.45v2.71h-2.45zM251.57 30.40h2.45v2.71h-2.45zM201.67 32.66h2.45v2.71h-2.45zM255.56 32.66h2.45v2.71h-2.45zM187.69 34.92h2.45v2.71h-2.45zM193.68 34.92h2.45v2.71h-2.45zM243.58 34.92h2.45v2.71h-2.45zM249.57 37.18h2.45v2.71h-2.45zM197.67 39.44h2.45v2.71h-2.45zM249.57 39.44h2.45v2.71h-2.45zM187.69 41.70h2.45v2.71h-2.45zM257.56 43.96h2.45v2.71h-2.45zM189.69 53.00h2.45v2.71h-2.45zM191.68 53.00h2.45v2.71h-2.45zM195.68 53.00h2.45v2.71h-2.45zM245.58 59.78h2.45v2.71h-2.45zM237.60 73.34h2.45v2.71h-2.45zM257.56 73.34h2.45v2.71h-2.45zM257.56 75.60h2.45v2.71h-2.45zM249.57 82.38h2.45v2.71h-2.45zM241.59 84.64h2.45v2.71h-2.45zM191.68 86.90h2.45v2.71h-2.45zM233.60 89.16h2.45v2.71h-2.45zM263.55 93.68h2.45v2.71h-2.45zM197.67 95.94h2.45v2.71h-2.45z"/>
<path fill="#00ff08" d="M183.70 16.84h2.45v2.71h-2.45zM283.51 25.88h2.45v2.71h-2.45zM279.52 30.40h2.45v2.71h-2.45zM185.70 46.22h2.45v2.71h-2.45zM187.69 86.90h2.45v2.71h-2.45z"/>
<path fill="#ff1800" d="M203.66 16.84h2.45v2.71h-2.45zM229.61 19.10h2.45v2.71h-2.45zM235.60 19.10h2.45v2.71h-2.45zM189.69 28.14h2.45v2.71h-2.45zM203.66 28.14h2.45v2.71h-2.45zM233.60 28.14h2.45v2.71h-2.45zM205.66 32.66h2.45v2.71h-2.45zM193.68 41.70h2.45v2.71h-2.45zM203.66 41.70h2.45v2.71h-2.45zM253.57 46.22h2.45v2.71h-2.45zM203.66 53.00h2.45v2.71h-2.45zM199.67 55.26h2.45v2.71h-2.45zM245.58 55.26h2.45v2.71h-2.45zM249.57 55.26h2.45v2.71h-2.45zM203.66 57.52h2.45v2.71h-2.45zM231.61 57.52h2.45v2.71h-2.45zM235.60 59.78h2.45v2.71h-2.45zM197.67 71.08h2.45v2.71h-2.45zM229.61 71.08h2.45v2.71h-2.45zM201.67 77.86h2.45v2.71h-2.45zM233.60 80.12h2.45v2.71h-2.45zM201.67 82.38h2.45v2.71h-2.45zM233.60 84.64h2.45v2.71h-2.45zM235.60 84.64h2.45v2.71h-2.45zM199.67 86.90h2.45v2.71h-2.45z"/>
<path fill="#00ff18" d="M183.70 19.10h2.45v2.71h-2.45zM277.52 25.88h2.45v2.71h-2.45zM281.51 25.88h2.45v2.71h-2.45zM187.69 84.64h2.45v2.71h-2.45z"/>
<path fill="#00ff48" d="M183.70 25.88h2.45v2.71h-2.45z"/>
<path fill="#08ff00" d="M285.50 25.88h2.45v2.71h-2.45zM271.53 30.40h2.45v2.71h-2.45zM269.53 32.66h2.45v2.71h-2.45zM185.70 39.44h2.45v2.71h-2.45zM187.69 59.78h2.45v2.71h-2.45zM187.69 82.38h2.45v2.71h-2.45z"/>
<path fill="#00ff68" d="M183.70 30.40h2.45v2.71h-2.45zM183.70 55.26h2.45v2.71h-2.45zM185.70 62.04h2.45v2.71h-2.45z"/>
<path fill="#00ff58" d="M273.53 30.40h2.45v2.71h-2.45zM277.52 30.40h2.45v2.71h-2.45zM187.69 71.08h2.45v2.71h-2.45z"/>
<path fill="#00ff88" d="M275.52 30.40h2.45v2.71h-2.45zM183.70 39.44h2.45v2.71h-2.45zM183.70 53.00h2.45v2.71h-2.45z"/>
<path fill="#00ff98" d="M183.70 43.96h2.45v2.71h-2.45zM185.70 64.30h2.45v2.71h-2.45z"/>
<path fill="#00ffd8" d="M183.70 46.22h2.45v2.71h-2.45z"/>
<path fill="#00ff78" d="M183.70 48.48h2.45v2.71h-2.45zM183.70 50.74h2.45v2.71h-2.45z"/>
<path fill="#00ffb8" d="M183.70 57.52h2.45v2.71h-2.45z"/>
<path fill="#00ff38" d="M185.70 57.52h2.45v2.71h-2.45zM187.69 66.56h2.45v2.71h-2.45z"/>
<path fill="#0058ff" d="M183.70 59.78h2.45v2.71h-2.45zM185.70 86.90h2.45v2.71h-2.45z"/>
<path fill="#00ffe8" d="M185.70 59.78h2.45v2.71h-2.45zM185.70 75.60h2.45v2.71h-2.45z"/>
<path fill="#0098ff" d="M183.70 62.04h2.45v2.71h-2.45zM185.70 80.12h2.45v2.71h-2.45zM185.70 89.16h2.45v2.71h-2.45z"/>
<path fill="#00c8ff" d="M183.70 64.30h2.45v2.71h-2.45z"/>
<path fill="#0068ff" d="M183.70 66.56h2.45v2.71h-2.45z"/>
<path fill="#00e8ff" d="M185.70 66.56h2.45v2.71h-2.45zM185.70 73.34h2.45v2.71h-2.45z"/>
<path fill="#0028ff" d="M183.70 68.82h2.45v2.71h-2.45z"/>
<path fill="#00f8ff" d="M185.70 68.82h2.45v2.71h-2.45z"/>
<path fill="#5800ff" d="M183.70 71.08h2.45v2.71h-2.45z"/>
<path fill="#0800ff" d="M185.70 71.08h2.45v2.71h-2.45z"/>
<path fill="#0078ff" d="M183.70 73.34h2.45v2.71h-2.45zM185.70 77.86h2.45v2.71h-2.45zM185.70 95.94h2.45v2.71h-2.45z"/>
<path fill="#d80000" d="M215.64 73.34h2.45v2.71h-2.45zM217.63 73.34h2.45v2.71h-2.45zM219.63 73.34h2.45v2.71h-2.45zM205.66 75.60h2.45v2.71h-2.45zM207.65 75.60h2.45v2.71h-2.45zM209.65 75.60h2.45v2.71h-2.45zM211.65 75.60h2.45v2.71h-2.45zM213.64 75.60h2.45v2.71h-2.45zM215.64 75.60h2.45v2.71h-2.45zM217.63 75.60h2.45v2.71h-2.45zM219.63 75.60h2.45v2.71h-2.45zM221.63 75.60h2.45v2.71h-2.45zM209.65 77.86h2.45v2.71h-2.45zM211.65 77.86h2.45v2.71h-2.45zM203.66 91.42h2.45v2.71h-2.45zM205.66 91.42h2.45v2.71h-2.45z"/>
<path fill="#0048ff" d="M183.70 75.60h2.45v2.71h-2.45zM185.70 84.64h2.45v2.71h-2.45z"/>
<path fill="#c80000" d="M203.66 75.60h2.45v2.71h-2.45z"/>
<path fill="#1800ff" d="M183.70 77.86h2.45v2.71h-2.45zM183.70 82.38h2.45v2.71h-2.45zM183.70 93.68h2.45v2.71h-2.45zM183.70 95.94h2.45v2.71h-2.45z"/>
<path fill="#0018ff" d="M183.70 80.12h2.45v2.71h-2.45z"/>
<path fill="#0088ff" d="M185.70 82.38h2.45v2.71h-2.45z"/>
<path fill="#2800ff" d="M183.70 84.64h2.45v2.71h-2.45zM183.70 86.90h2.45v2.71h-2.45z"/>
<path fill="#0038ff" d="M183.70 89.16h2.45v2.71h-2.45zM183.70 91.42h2.45v2.71h-2.45z"/>
<path fill="#ffff00" d="M237.60 89.16h2.45v2.71h-2.45z"/>
<path fill="#00d8ff" d="M185.70 91.42h2.45v2.71h-2.45z"/>
<path fill="#00a8ff" d="M185.70 93.68h2.45v2.71h-2.45z"/></g></g>
<clipPath id="clip5"><rect x="372.30" y="8.20" width="104.00" height="89.20"/></clipPath><g clip-path="url(#clip5)"><g filter="url(#hblur)" shape-rendering="crispEdges"><rect x="370.30" y="6.20" width="108.00" height="93.20" fill="#f08000"/><path fill="#00d8ff" d="M372.30 8.20h2.45v2.68h-2.45zM460.30 52.80h2.45v2.68h-2.45zM464.30 55.03h2.45v2.68h-2.45zM458.30 57.26h2.45v2.68h-2.45zM458.30 68.41h2.45v2.68h-2.45zM464.30 84.02h2.45v2.68h-2.45zM466.30 84.02h2.45v2.68h-2.45zM468.30 88.48h2.45v2.68h-2.45zM468.30 95.17h2.45v2.68h-2.45z"/>
<path fill="#00ff18" d="M374.30 8.20h2.45v2.68h-2.45zM390.30 17.12h2.45v2.68h-2.45zM448.30 17.12h2.45v2.68h-2.45zM466.30 19.35h2.45v2.68h-2.45zM464.30 28.27h2.45v2.68h-2.45zM468.30 28.27h2.45v2.68h-2.45zM472.30 34.96h2.45v2.68h-2.45zM466.30 37.19h2.45v2.68h-2.45zM468.30 39.42h2.45v2.68h-2.45zM470.30 43.88h2.45v2.68h-2.45zM472.30 48.34h2.45v2.68h-2.45zM472.30 52.80h2.45v2.68h-2.45zM446.30 63.95h2.45v2.68h-2.45zM448.30 63.95h2.45v2.68h-2.45zM474.30 70.64h2.45v2.68h-2.45zM450.30 86.25h2.45v2.68h-2.45z"/>
<path fill="#58ff00" d="M376.30 8.20h2.45v2.68h-2.45zM446.30 8.20h2.45v2.68h-2.45zM450.30 8.20h2.45v2.68h-2.45zM474.30 8.20h2.45v2.68h-2.45zM470.30 12.66h2.45v2.68h-2.45zM452.30 14.89h2.45v2.68h-2.45zM396.30 17.12h2.45v2.68h-2.45zM454.30 19.35h2.45v2.68h-2.45zM450.30 23.81h2.45v2.68h-2.45zM450.30 34.96h2.45v2.68h-2.45zM454.30 37.19h2.45v2.68h-2.45zM470.30 37.19h2.45v2.68h-2.45zM454.30 39.42h2.45v2.68h-2.45zM450.30 41.65h2.45v2.68h-2.45zM374.30 48.34h2.45v2.68h-2.45zM452.30 48.34h2.45v2.68h-2.45zM374.30 55.03h2.45v2.68h-2.45zM452.30 61.72h2.45v2.68h-2.45zM472.30 61.72h2.45v2.68h-2.45zM442.30 63.95h2.45v2.68h-2.45zM372.30 84.02h2.45v2.68h-2.45zM444.30 84.02h2.45v2.68h-2.45zM452.30 90.71h2.45v2.68h-2.45zM444.30 92.94h2.45v2.68h-2.45z"/>
<path fill="#c8ff00" d="M378.30 8.20h2.45v2.68h-2.45zM392.30 8.20h2.45v2.68h-2.45zM442.30 8.20h2.45v2.68h-2.45zM378.30 10.43h2.45v2.68h-2.45zM376.30 12.66h2.45v2.68h-2.45zM444.30 14.89h2.45v2.68h-2.45zM378.30 17.12h2.45v2.68h-2.45zM398.30 17.12h2.45v2.68h-2.45zM378.30 19.35h2.45v2.68h-2.45zM448.30 21.58h2.45v2.68h-2.45zM450.30 21.58h2.45v2.68h-2.45zM390.30 23.81h2.45v2.68h-2.45zM392.30 23.81h2.45v2.68h-2.45zM394.30 23.81h2.45v2.68h-2.45zM398.30 23.81h2.45v2.68h-2.45zM390.30 26.04h2.45v2.68h-2.45zM378.30 28.27h2.45v2.68h-2.45zM386.30 28.27h2.45v2.68h-2.45zM388.30 28.27h2.45v2.68h-2.45zM446.30 28.27h2.45v2.68h-2.45zM450.30 28.27h2.45v2.68h-2.45zM386.30 30.50h2.45v2.68h-2.45zM388.30 30.50h2.45v2.68h-2.45zM390.30 30.50h2.45v2.68h-2.45zM392.30 30.50h2.45v2.68h-2.45zM446.30 30.50h2.45v2.68h-2.45zM376.30 32.73h2.45v2.68h-2.45zM440.30 32.73h2.45v2.68h-2.45zM442.30 32.73h2.45v2.68h-2.45zM448.30 32.73h2.45v2.68h-2.45zM446.30 34.96h2.45v2.68h-2.45zM392.30 37.19h2.45v2.68h-2.45zM448.30 37.19h2.45v2.68h-2.45zM442.30 43.88h2.45v2.68h-2.45zM376.30 48.34h2.45v2.68h-2.45zM448.30 57.26h2.45v2.68h-2.45zM450.30 61.72h2.45v2.68h-2.45zM374.30 66.18h2.45v2.68h-2.45zM396.30 68.41h2.45v2.68h-2.45zM440.30 68.41h2.45v2.68h-2.45zM444.30 70.64h2.45v2.68h-2.45zM448.30 75.10h2.45v2.68h-2.45zM450.30 75.10h2.45v2.68h-2.45zM446.30 77.33h2.45v2.68h-2.45zM440.30 81.79h2.45v2.68h-2.45zM448.30 88.48h2.45v2.68h-2.45z"/>
<path fill="#d8ff00" d="M380.30 8.20h2.45v2.68h-2.45zM440.30 8.20h2.45v2.68h-2.45zM388.30 10.43h2.45v2.68h-2.45zM386.30 12.66h2.45v2.68h-2.45zM388.30 12.66h2.45v2.68h-2.45zM390.30 12.66h2.45v2.68h-2.45zM448.30 12.66h2.45v2.68h-2.45zM386.30 14.89h2.45v2.68h-2.45zM450.30 19.35h2.45v2.68h-2.45zM380.30 21.58h2.45v2.68h-2.45zM384.30 21.58h2.45v2.68h-2.45zM388.30 21.58h2.45v2.68h-2.45zM438.30 23.81h2.45v2.68h-2.45zM386.30 26.04h2.45v2.68h-2.45zM388.30 26.04h2.45v2.68h-2.45zM392.30 26.04h2.45v2.68h-2.45zM446.30 26.04h2.45v2.68h-2.45zM380.30 28.27h2.45v2.68h-2.45zM398.30 28.27h2.45v2.68h-2.45zM444.30 28.27h2.45v2.68h-2.45zM394.30 30.50h2.45v2.68h-2.45zM396.30 32.73h2.45v2.68h-2.45zM438.30 32.73h2.45v2.68h-2.45zM390.30 34.96h2.45v2.68h-2.45zM392.30 34.96h2.45v2.68h-2.45zM376.30 39.42h2.45v2.68h-2.45zM388.30 39.42h2.45v2.68h-2.45zM446.30 41.65h2.45v2.68h-2.45zM380.30 43.88h2.45v2.68h-2.45zM388.30 43.88h2.45v2.68h-2.45zM440.30 43.88h2.45v2.68h-2.45zM376.30 46.11h2.45v2.68h-2.45zM442.30 46.11h2.45v2.68h-2.45zM444.30 48.34h2.45v2.68h-2.45zM444.30 50.57h2.45v2.68h-2.45zM442.30 52.80h2.45v2.68h-2.45zM436.30 55.03h2.45v2.68h-2.45zM444.30 55.03h2.45v2.68h-2.45zM446.30 57.26h2.45v2.68h-2.45zM448.30 59.49h2.45v2.68h-2.45zM374.30 61.72h2.45v2.68h-2.45zM438.30 63.95h2.45v2.68h-2.45zM374.30 68.41h2.45v2.68h-2.45zM394.30 68.41h2.45v2.68h-2.45zM442.30 72.87h2.45v2.68h-2.45zM444.30 75.10h2.45v2.68h-2.45zM374.30 77.33h2.45v2.68h-2.45zM444.30 77.33h2.45v2.68h-2.45zM442.30 81.79h2.45v2.68h-2.45zM448.30 81.79h2.45v2.68h-2.45zM440.30 84.02h2.45v2.68h-2.45zM444.30 86.25h2.45v2.68h-2.45zM442.30 90.71h2.45v2.68h-2.45z"/>
<path fill="#e8ff00" d="M382.30 8.20h2.45v2.68h-2.45zM394.30 10.43h2.45v2.68h-2.45zM446.30 10.43h2.45v2.68h-2.45zM442.30 14.89h2.45v2.68h-2.45zM448.30 19.35h2.45v2.68h-2.45zM390.30 21.58h2.45v2.68h-2.45zM392.30 21.58h2.45v2.68h-2.45zM440.30 21.58h2.45v2.68h-2.45zM436.30 23.81h2.45v2.68h-2.45zM382.30 26.04h2.45v2.68h-2.45zM384.30 26.04h2.45v2.68h-2.45zM444.30 26.04h2.45v2.68h-2.45zM444.30 30.50h2.45v2.68h-2.45zM394.30 32.73h2.45v2.68h-2.45zM398.30 32.73h2.45v2.68h-2.45zM444.30 32.73h2.45v2.68h-2.45zM378.30 34.96h2.45v2.68h-2.45zM388.30 34.96h2.45v2.68h-2.45zM444.30 34.96h2.45v2.68h-2.45zM388.30 37.19h2.45v2.68h-2.45zM440.30 37.19h2.45v2.68h-2.45zM386.30 39.42h2.45v2.68h-2.45zM390.30 39.42h2.45v2.68h-2.45zM444.30 39.42h2.45v2.68h-2.45zM384.30 43.88h2.45v2.68h-2.45zM436.30 43.88h2.45v2.68h-2.45zM438.30 43.88h2.45v2.68h-2.45zM436.30 48.34h2.45v2.68h-2.45zM438.30 48.34h2.45v2.68h-2.45zM376.30 52.80h2.45v2.68h-2.45zM376.30 55.03h2.45v2.68h-2.45zM396.30 55.03h2.45v2.68h-2.45zM434.30 55.03h2.45v2.68h-2.45zM448.30 61.72h2.45v2.68h-2.45zM446.30 66.18h2.45v2.68h-2.45zM374.30 70.64h2.45v2.68h-2.45zM374.30 72.87h2.45v2.68h-2.45zM446.30 79.56h2.45v2.68h-2.45zM374.30 81.79h2.45v2.68h-2.45zM374.30 86.25h2.45v2.68h-2.45zM446.30 88.48h2.45v2.68h-2.45zM440.30 92.94h2.45v2.68h-2.45z"/>
<path fill="#b8ff00" d="M384.30 8.20h2.45v2.68h-2.45zM448.30 10.43h2.45v2.68h-2.45zM474.30 10.43h2.45v2.68h-2.45zM452.30 19.35h2.45v2.68h-2.45zM386.30 21.58h2.45v2.68h-2.45zM386.30 23.81h2.45v2.68h-2.45zM388.30 23.81h2.45v2.68h-2.45zM390.30 28.27h2.45v2.68h-2.45zM392.30 28.27h2.45v2.68h-2.45zM394.30 28.27h2.45v2.68h-2.45zM448.30 28.27h2.45v2.68h-2.45zM390.30 37.19h2.45v2.68h-2.45zM450.30 37.19h2.45v2.68h-2.45zM374.30 41.65h2.45v2.68h-2.45zM376.30 43.88h2.45v2.68h-2.45zM378.30 43.88h2.45v2.68h-2.45zM386.30 43.88h2.45v2.68h-2.45zM446.30 48.34h2.45v2.68h-2.45zM448.30 66.18h2.45v2.68h-2.45zM446.30 70.64h2.45v2.68h-2.45zM446.30 75.10h2.45v2.68h-2.45zM374.30 79.56h2.45v2.68h-2.45zM448.30 79.56h2.45v2.68h-2.45zM440.30 95.17h2.45v2.68h-2.45z"/>
<path fill="#68ff00" d="M386.30 8.20h2.45v2.68h-2.45zM388.30 8.20h2.45v2.68h-2.45zM468.30 8.20h2.45v2.68h-2.45zM472.30 8.20h2.45v2.68h-2.45zM376.30 10.43h2.45v2.68h-2.45zM450.30 10.43h2.45v2.68h-2.45zM452.30 12.66h2.45v2.68h-2.45zM472.30 12.66h2.45v2.68h-2.45zM444.30 21.58h2.45v2.68h-2.45zM446.30 23.81h2.45v2.68h-2.45zM376.30 34.96h2.45v2.68h-2.45zM472.30 37.19h2.45v2.68h-2.45zM474.30 37.19h2.45v2.68h-2.45zM474.30 46.11h2.45v2.68h-2.45zM474.30 72.87h2.45v2.68h-2.45zM452.30 75.10h2.45v2.68h-2.45zM452.30 79.56h2.45v2.68h-2.45zM448.30 86.25h2.45v2.68h-2.45zM446.30 95.17h2.45v2.68h-2.45z"/>
<path fill="#88ff00" d="M390.30 8.20h2.45v2.68h-2.45zM444.30 8.20h2.45v2.68h-2.45zM452.30 21.58h2.45v2.68h-2.45zM448.30 23.81h2.45v2.68h-2.45zM380.30 26.04h2.45v2.68h-2.45zM376.30 28.27h2.45v2.68h-2.45zM448.30 30.50h2.45v2.68h-2.45zM448.30 34.96h2.45v2.68h-2.45zM374.30 37.19h2.45v2.68h-2.45zM444.30 37.19h2.45v2.68h-2.45zM452.30 37.19h2.45v2.68h-2.45zM374.30 39.42h2.45v2.68h-2.45zM450.30 39.42h2.45v2.68h-2.45zM452.30 39.42h2.45v2.68h-2.45zM374.30 43.88h2.45v2.68h-2.45zM374.30 46.11h2.45v2.68h-2.45zM444.30 46.11h2.45v2.68h-2.45zM450.30 46.11h2.45v2.68h-2.45zM374.30 52.80h2.45v2.68h-2.45zM446.30 52.80h2.45v2.68h-2.45zM450.30 52.80h2.45v2.68h-2.45zM450.30 57.26h2.45v2.68h-2.45zM450.30 66.18h2.45v2.68h-2.45zM444.30 72.87h2.45v2.68h-2.45zM474.30 79.56h2.45v2.68h-2.45zM450.30 88.48h2.45v2.68h-2.45zM444.30 90.71h2.45v2.68h-2.45zM448.30 90.71h2.45v2.68h-2.45zM450.30 90.71h2.45v2.68h-2.45zM442.30 95.17h2.45v2.68h-2.45z"/>
<path fill="#f8ff00" d="M394.30 8.20h2.45v2.68h-2.45zM438.30 8.20h2.45v2.68h-2.45zM380.30 10.43h2.45v2.68h-2.45zM388.30 14.89h2.45v2.68h-2.45zM442.30 17.12h2.45v2.68h-2.45zM380.30 19.35h2.45v2.68h-2.45zM446.30 19.35h2.45v2.68h-2.45zM382.30 21.58h2.45v2.68h-2.45zM378.30 23.81h2.45v2.68h-2.45zM434.30 23.81h2.45v2.68h-2.45zM384.30 28.27h2.45v2.68h-2.45zM442.30 28.27h2.45v2.68h-2.45zM378.30 30.50h2.45v2.68h-2.45zM384.30 30.50h2.45v2.68h-2.45zM378.30 32.73h2.45v2.68h-2.45zM386.30 32.73h2.45v2.68h-2.45zM392.30 32.73h2.45v2.68h-2.45zM436.30 32.73h2.45v2.68h-2.45zM446.30 32.73h2.45v2.68h-2.45zM386.30 34.96h2.45v2.68h-2.45zM394.30 34.96h2.45v2.68h-2.45zM376.30 37.19h2.45v2.68h-2.45zM386.30 37.19h2.45v2.68h-2.45zM376.30 41.65h2.45v2.68h-2.45zM434.30 43.88h2.45v2.68h-2.45zM378.30 48.34h2.45v2.68h-2.45zM442.30 48.34h2.45v2.68h-2.45zM376.30 50.57h2.45v2.68h-2.45zM440.30 50.57h2.45v2.68h-2.45zM442.30 50.57h2.45v2.68h-2.45zM378.30 52.80h2.45v2.68h-2.45zM380.30 52.80h2.45v2.68h-2.45zM440.30 52.80h2.45v2.68h-2.45zM394.30 55.03h2.45v2.68h-2.45zM438.30 55.03h2.45v2.68h-2.45zM442.30 55.03h2.45v2.68h-2.45zM392.30 59.49h2.45v2.68h-2.45zM394.30 59.49h2.45v2.68h-2.45zM440.30 59.49h2.45v2.68h-2.45zM442.30 59.49h2.45v2.68h-2.45zM446.30 59.49h2.45v2.68h-2.45zM376.30 63.95h2.45v2.68h-2.45zM436.30 63.95h2.45v2.68h-2.45zM392.30 68.41h2.45v2.68h-2.45zM398.30 68.41h2.45v2.68h-2.45zM438.30 68.41h2.45v2.68h-2.45zM440.30 72.87h2.45v2.68h-2.45zM436.30 77.33h2.45v2.68h-2.45zM438.30 77.33h2.45v2.68h-2.45zM438.30 81.79h2.45v2.68h-2.45zM444.30 81.79h2.45v2.68h-2.45zM396.30 86.25h2.45v2.68h-2.45zM438.30 88.48h2.45v2.68h-2.45zM444.30 88.48h2.45v2.68h-2.45zM440.30 90.71h2.45v2.68h-2.45zM438.30 95.17h2.45v2.68h-2.45z"/>
<path fill="#ffe800" d="M396.30 8.20h2.45v2.68h-2.45zM378.30 12.66h2.45v2.68h-2.45zM384.30 12.66h2.45v2.68h-2.45zM380.30 14.89h2.45v2.68h-2.45zM390.30 14.89h2.45v2.68h-2.45zM394.30 21.58h2.45v2.68h-2.45zM442.30 30.50h2.45v2.68h-2.45zM394.30 37.19h2.45v2.68h-2.45zM442.30 41.65h2.45v2.68h-2.45zM434.30 48.34h2.45v2.68h-2.45zM390.30 55.03h2.45v2.68h-2.45zM398.30 55.03h2.45v2.68h-2.45zM444.30 57.26h2.45v2.68h-2.45zM376.30 59.49h2.45v2.68h-2.45zM396.30 59.49h2.45v2.68h-2.45zM438.30 66.18h2.45v2.68h-2.45zM398.30 70.64h2.45v2.68h-2.45zM398.30 72.87h2.45v2.68h-2.45zM440.30 77.33h2.45v2.68h-2.45zM436.30 84.02h2.45v2.68h-2.45zM440.30 86.25h2.45v2.68h-2.45zM374.30 88.48h2.45v2.68h-2.45zM436.30 88.48h2.45v2.68h-2.45zM438.30 92.94h2.45v2.68h-2.45z"/>
<path fill="#ffc800" d="M398.30 8.20h2.45v2.68h-2.45zM436.30 8.20h2.45v2.68h-2.45zM396.30 10.43h2.45v2.68h-2.45zM440.30 17.12h2.45v2.68h-2.45zM444.30 19.35h2.45v2.68h-2.45zM404.30 21.58h2.45v2.68h-2.45zM438.30 21.58h2.45v2.68h-2.45zM384.30 23.81h2.45v2.68h-2.45zM440.30 30.50h2.45v2.68h-2.45zM382.30 32.73h2.45v2.68h-2.45zM438.30 37.19h2.45v2.68h-2.45zM392.30 39.42h2.45v2.68h-2.45zM388.30 41.65h2.45v2.68h-2.45zM392.30 43.88h2.45v2.68h-2.45zM394.30 43.88h2.45v2.68h-2.45zM396.30 43.88h2.45v2.68h-2.45zM392.30 46.11h2.45v2.68h-2.45zM394.30 46.11h2.45v2.68h-2.45zM396.30 46.11h2.45v2.68h-2.45zM398.30 48.34h2.45v2.68h-2.45zM388.30 55.03h2.45v2.68h-2.45zM432.30 55.03h2.45v2.68h-2.45zM390.30 59.49h2.45v2.68h-2.45zM380.30 63.95h2.45v2.68h-2.45zM398.30 66.18h2.45v2.68h-2.45zM436.30 66.18h2.45v2.68h-2.45zM442.30 66.18h2.45v2.68h-2.45zM438.30 72.87h2.45v2.68h-2.45zM442.30 75.10h2.45v2.68h-2.45zM396.30 88.48h2.45v2.68h-2.45z"/>
<path fill="#ff7800" d="M400.30 8.20h2.45v2.68h-2.45zM434.30 8.20h2.45v2.68h-2.45zM404.30 10.43h2.45v2.68h-2.45zM438.30 10.43h2.45v2.68h-2.45zM404.30 14.89h2.45v2.68h-2.45zM438.30 14.89h2.45v2.68h-2.45zM402.30 17.12h2.45v2.68h-2.45zM432.30 17.12h2.45v2.68h-2.45zM434.30 17.12h2.45v2.68h-2.45zM384.30 19.35h2.45v2.68h-2.45zM394.30 19.35h2.45v2.68h-2.45zM396.30 19.35h2.45v2.68h-2.45zM398.30 21.58h2.45v2.68h-2.45zM434.30 21.58h2.45v2.68h-2.45zM396.30 26.04h2.45v2.68h-2.45zM434.30 26.04h2.45v2.68h-2.45zM382.30 37.19h2.45v2.68h-2.45zM382.30 39.42h2.45v2.68h-2.45zM394.30 39.42h2.45v2.68h-2.45zM386.30 48.34h2.45v2.68h-2.45zM388.30 48.34h2.45v2.68h-2.45zM390.30 48.34h2.45v2.68h-2.45zM402.30 48.34h2.45v2.68h-2.45zM432.30 48.34h2.45v2.68h-2.45zM394.30 50.57h2.45v2.68h-2.45zM436.30 50.57h2.45v2.68h-2.45zM390.30 52.80h2.45v2.68h-2.45zM392.30 52.80h2.45v2.68h-2.45zM394.30 52.80h2.45v2.68h-2.45zM388.30 59.49h2.45v2.68h-2.45zM378.30 61.72h2.45v2.68h-2.45zM382.30 61.72h2.45v2.68h-2.45zM438.30 61.72h2.45v2.68h-2.45zM392.30 70.64h2.45v2.68h-2.45zM436.30 70.64h2.45v2.68h-2.45zM398.30 75.10h2.45v2.68h-2.45zM378.30 77.33h2.45v2.68h-2.45zM392.30 77.33h2.45v2.68h-2.45zM380.30 86.25h2.45v2.68h-2.45z"/>
<path fill="#ff9800" d="M402.30 8.20h2.45v2.68h-2.45zM382.30 10.43h2.45v2.68h-2.45zM398.30 10.43h2.45v2.68h-2.45zM382.30 12.66h2.45v2.68h-2.45zM440.30 12.66h2.45v2.68h-2.45zM382.30 14.89h2.45v2.68h-2.45zM400.30 14.89h2.45v2.68h-2.45zM388.30 19.35h2.45v2.68h-2.45zM390.30 19.35h2.45v2.68h-2.45zM440.30 19.35h2.45v2.68h-2.45zM442.30 19.35h2.45v2.68h-2.45zM402.30 21.58h2.45v2.68h-2.45zM436.30 21.58h2.45v2.68h-2.45zM406.30 23.81h2.45v2.68h-2.45zM436.30 26.04h2.45v2.68h-2.45zM438.30 26.04h2.45v2.68h-2.45zM398.30 30.50h2.45v2.68h-2.45zM400.30 34.96h2.45v2.68h-2.45zM440.30 34.96h2.45v2.68h-2.45zM380.30 37.19h2.45v2.68h-2.45zM440.30 39.42h2.45v2.68h-2.45zM382.30 41.65h2.45v2.68h-2.45zM386.30 46.11h2.45v2.68h-2.45zM400.30 46.11h2.45v2.68h-2.45zM434.30 46.11h2.45v2.68h-2.45zM438.30 46.11h2.45v2.68h-2.45zM400.30 48.34h2.45v2.68h-2.45zM378.30 50.57h2.45v2.68h-2.45zM388.30 50.57h2.45v2.68h-2.45zM384.30 55.03h2.45v2.68h-2.45zM434.30 57.26h2.45v2.68h-2.45zM376.30 61.72h2.45v2.68h-2.45zM440.30 61.72h2.45v2.68h-2.45zM382.30 63.95h2.45v2.68h-2.45zM392.30 63.95h2.45v2.68h-2.45zM376.30 68.41h2.45v2.68h-2.45zM390.30 68.41h2.45v2.68h-2.45zM394.30 70.64h2.45v2.68h-2.45zM396.30 75.10h2.45v2.68h-2.45zM438.30 75.10h2.45v2.68h-2.45zM398.30 77.33h2.45v2.68h-2.45zM434.30 79.56h2.45v2.68h-2.45zM440.30 79.56h2.45v2.68h-2.45zM442.30 79.56h2.45v2.68h-2.45zM394.30 84.02h2.45v2.68h-2.45zM396.30 84.02h2.45v2.68h-2.45zM432.30 84.02h2.45v2.68h-2.45zM392.30 86.25h2.45v2.68h-2.45zM434.30 86.25h2.45v2.68h-2.45zM394.30 88.48h2.45v2.68h-2.45zM436.30 92.94h2.45v2.68h-2.45zM434.30 95.17h2.45v2.68h-2.45z"/>
<path fill="#ffb800" d="M404.30 8.20h2.45v2.68h-2.45zM380.30 12.66h2.45v2.68h-2.45zM442.30 12.66h2.45v2.68h-2.45zM444.30 12.66h2.45v2.68h-2.45zM392.30 14.89h2.45v2.68h-2.45zM394.30 14.89h2.45v2.68h-2.45zM440.30 14.89h2.45v2.68h-2.45zM396.30 21.58h2.45v2.68h-2.45zM402.30 23.81h2.45v2.68h-2.45zM404.30 23.81h2.45v2.68h-2.45zM432.30 23.81h2.45v2.68h-2.45zM440.30 26.04h2.45v2.68h-2.45zM382.30 30.50h2.45v2.68h-2.45zM438.30 30.50h2.45v2.68h-2.45zM402.30 32.73h2.45v2.68h-2.45zM434.30 32.73h2.45v2.68h-2.45zM404.30 34.96h2.45v2.68h-2.45zM378.30 37.19h2.45v2.68h-2.45zM380.30 39.42h2.45v2.68h-2.45zM384.30 39.42h2.45v2.68h-2.45zM390.30 41.65h2.45v2.68h-2.45zM440.30 41.65h2.45v2.68h-2.45zM432.30 43.88h2.45v2.68h-2.45zM380.30 46.11h2.45v2.68h-2.45zM390.30 46.11h2.45v2.68h-2.45zM398.30 46.11h2.45v2.68h-2.45zM396.30 48.34h2.45v2.68h-2.45zM384.30 52.80h2.45v2.68h-2.45zM386.30 52.80h2.45v2.68h-2.45zM436.30 52.80h2.45v2.68h-2.45zM386.30 55.03h2.45v2.68h-2.45zM376.30 57.26h2.45v2.68h-2.45zM436.30 57.26h2.45v2.68h-2.45zM438.30 57.26h2.45v2.68h-2.45zM442.30 57.26h2.45v2.68h-2.45zM436.30 59.49h2.45v2.68h-2.45zM442.30 61.72h2.45v2.68h-2.45zM394.30 63.95h2.45v2.68h-2.45zM394.30 66.18h2.45v2.68h-2.45zM434.30 68.41h2.45v2.68h-2.45zM400.30 70.64h2.45v2.68h-2.45zM438.30 70.64h2.45v2.68h-2.45zM396.30 72.87h2.45v2.68h-2.45zM400.30 72.87h2.45v2.68h-2.45zM396.30 77.33h2.45v2.68h-2.45zM378.30 79.56h2.45v2.68h-2.45zM436.30 79.56h2.45v2.68h-2.45zM438.30 79.56h2.45v2.68h-2.45zM374.30 84.02h2.45v2.68h-2.45zM436.30 86.25h2.45v2.68h-2.45zM436.30 90.71h2.45v2.68h-2.45z"/>
<path fill="#ff8800" d="M406.30 8.20h2.45v2.68h-2.45zM402.30 10.43h2.45v2.68h-2.45zM440.30 10.43h2.45v2.68h-2.45zM402.30 14.89h2.45v2.68h-2.45zM436.30 17.12h2.45v2.68h-2.45zM382.30 19.35h2.45v2.68h-2.45zM392.30 19.35h2.45v2.68h-2.45zM438.30 19.35h2.45v2.68h-2.45zM406.30 26.04h2.45v2.68h-2.45zM434.30 28.27h2.45v2.68h-2.45zM404.30 32.73h2.45v2.68h-2.45zM384.30 34.96h2.45v2.68h-2.45zM434.30 34.96h2.45v2.68h-2.45zM436.30 34.96h2.45v2.68h-2.45zM438.30 34.96h2.45v2.68h-2.45zM398.30 37.19h2.45v2.68h-2.45zM404.30 46.11h2.45v2.68h-2.45zM436.30 46.11h2.45v2.68h-2.45zM392.30 48.34h2.45v2.68h-2.45zM394.30 48.34h2.45v2.68h-2.45zM386.30 50.57h2.45v2.68h-2.45zM388.30 52.80h2.45v2.68h-2.45zM396.30 52.80h2.45v2.68h-2.45zM382.30 55.03h2.45v2.68h-2.45zM400.30 55.03h2.45v2.68h-2.45zM378.30 59.49h2.45v2.68h-2.45zM398.30 59.49h2.45v2.68h-2.45zM380.30 61.72h2.45v2.68h-2.45zM376.30 66.18h2.45v2.68h-2.45zM400.30 68.41h2.45v2.68h-2.45zM432.30 68.41h2.45v2.68h-2.45zM376.30 70.64h2.45v2.68h-2.45zM436.30 72.87h2.45v2.68h-2.45zM374.30 75.10h2.45v2.68h-2.45zM376.30 77.33h2.45v2.68h-2.45zM380.30 79.56h2.45v2.68h-2.45zM376.30 86.25h2.45v2.68h-2.45zM378.30 86.25h2.45v2.68h-2.45zM398.30 88.48h2.45v2.68h-2.45zM434.30 88.48h2.45v2.68h-2.45zM432.30 95.17h2.45v2.68h-2.45z"/>
<path fill="#ff1800" d="M408.30 8.20h2.45v2.68h-2.45zM406.30 10.43h2.45v2.68h-2.45zM408.30 23.81h2.45v2.68h-2.45zM432.30 28.27h2.45v2.68h-2.45zM430.30 34.96h2.45v2.68h-2.45zM404.30 37.19h2.45v2.68h-2.45zM400.30 41.65h2.45v2.68h-2.45zM404.30 43.88h2.45v2.68h-2.45zM408.30 46.11h2.45v2.68h-2.45zM434.30 50.57h2.45v2.68h-2.45zM398.30 57.26h2.45v2.68h-2.45zM382.30 59.49h2.45v2.68h-2.45zM392.30 61.72h2.45v2.68h-2.45zM380.30 66.18h2.45v2.68h-2.45zM404.30 68.41h2.45v2.68h-2.45zM408.30 68.41h2.45v2.68h-2.45zM410.30 68.41h2.45v2.68h-2.45zM430.30 68.41h2.45v2.68h-2.45zM380.30 70.64h2.45v2.68h-2.45zM408.30 70.64h2.45v2.68h-2.45zM434.30 75.10h2.45v2.68h-2.45zM386.30 77.33h2.45v2.68h-2.45zM392.30 79.56h2.45v2.68h-2.45zM406.30 79.56h2.45v2.68h-2.45zM408.30 79.56h2.45v2.68h-2.45zM378.30 81.79h2.45v2.68h-2.45zM400.30 81.79h2.45v2.68h-2.45zM376.30 84.02h2.45v2.68h-2.45z"/>
<path fill="#f80000" d="M410.30 8.20h2.45v2.68h-2.45zM412.30 8.20h2.45v2.68h-2.45zM414.30 8.20h2.45v2.68h-2.45zM416.30 8.20h2.45v2.68h-2.45zM418.30 8.20h2.45v2.68h-2.45zM420.30 8.20h2.45v2.68h-2.45zM422.30 8.20h2.45v2.68h-2.45zM424.30 8.20h2.45v2.68h-2.45zM426.30 8.20h2.45v2.68h-2.45zM428.30 8.20h2.45v2.68h-2.45zM430.30 8.20h2.45v2.68h-2.45zM408.30 10.43h2.45v2.68h-2.45zM410.30 10.43h2.45v2.68h-2.45zM418.30 10.43h2.45v2.68h-2.45zM424.30 10.43h2.45v2.68h-2.45zM426.30 10.43h2.45v2.68h-2.45zM428.30 10.43h2.45v2.68h-2.45zM430.30 10.43h2.45v2.68h-2.45zM400.30 12.66h2.45v2.68h-2.45zM408.30 12.66h2.45v2.68h-2.45zM410.30 12.66h2.45v2.68h-2.45zM412.30 12.66h2.45v2.68h-2.45zM430.30 12.66h2.45v2.68h-2.45zM432.30 12.66h2.45v2.68h-2.45zM434.30 12.66h2.45v2.68h-2.45zM408.30 14.89h2.45v2.68h-2.45zM410.30 14.89h2.45v2.68h-2.45zM412.30 14.89h2.45v2.68h-2.45zM414.30 14.89h2.45v2.68h-2.45zM416.30 14.89h2.45v2.68h-2.45zM430.30 14.89h2.45v2.68h-2.45zM408.30 17.12h2.45v2.68h-2.45zM410.30 17.12h2.45v2.68h-2.45zM412.30 17.12h2.45v2.68h-2.45zM414.30 17.12h2.45v2.68h-2.45zM416.30 17.12h2.45v2.68h-2.45zM422.30 17.12h2.45v2.68h-2.45zM424.30 17.12h2.45v2.68h-2.45zM426.30 17.12h2.45v2.68h-2.45zM428.30 17.12h2.45v2.68h-2.45zM408.30 19.35h2.45v2.68h-2.45zM410.30 19.35h2.45v2.68h-2.45zM412.30 19.35h2.45v2.68h-2.45zM414.30 19.35h2.45v2.68h-2.45zM416.30 19.35h2.45v2.68h-2.45zM426.30 19.35h2.45v2.68h-2.45zM430.30 19.35h2.45v2.68h-2.45zM432.30 19.35h2.45v2.68h-2.45zM434.30 19.35h2.45v2.68h-2.45zM410.30 21.58h2.45v2.68h-2.45zM412.30 21.58h2.45v2.68h-2.45zM414.30 21.58h2.45v2.68h-2.45zM416.30 21.58h2.45v2.68h-2.45zM418.30 21.58h2.45v2.68h-2.45zM420.30 21.58h2.45v2.68h-2.45zM422.30 21.58h2.45v2.68h-2.45zM424.30 21.58h2.45v2.68h-2.45zM426.30 21.58h2.45v2.68h-2.45zM428.30 21.58h2.45v2.68h-2.45zM410.30 23.81h2.45v2.68h-2.45zM412.30 23.81h2.45v2.68h-2.45zM414.30 23.81h2.45v2.68h-2.45zM416.30 23.81h2.45v2.68h-2.45zM418.30 23.81h2.45v2.68h-2.45zM420.30 23.81h2.45v2.68h-2.45zM422.30 23.81h2.45v2.68h-2.45zM424.30 23.81h2.45v2.68h-2.45zM426.30 23.81h2.45v2.68h-2.45zM428.30 23.81h2.45v2.68h-2.45zM400.30 26.04h2.45v2.68h-2.45zM410.30 26.04h2.45v2.68h-2.45zM412.30 26.04h2.45v2.68h-2.45zM414.30 26.04h2.45v2.68h-2.45zM416.30 26.04h2.45v2.68h-2.45zM422.30 26.04h2.45v2.68h-2.45zM424.30 26.04h2.45v2.68h-2.45zM426.30 26.04h2.45v2.68h-2.45zM428.30 26.04h2.45v2.68h-2.45zM430.30 26.04h2.45v2.68h-2.45zM406.30 28.27h2.45v2.68h-2.45zM408.30 28.27h2.45v2.68h-2.45zM410.30 28.27h2.45v2.68h-2.45zM412.30 28.27h2.45v2.68h-2.45zM414.30 28.27h2.45v2.68h-2.45zM416.30 28.27h2.45v2.68h-2.45zM418.30 28.27h2.45v2.68h-2.45zM420.30 28.27h2.45v2.68h-2.45zM422.30 28.27h2.45v2.68h-2.45zM428.30 28.27h2.45v2.68h-2.45zM430.30 28.27h2.45v2.68h-2.45zM408.30 30.50h2.45v2.68h-2.45zM410.30 30.50h2.45v2.68h-2.45zM412.30 30.50h2.45v2.68h-2.45zM414.30 30.50h2.45v2.68h-2.45zM416.30 30.50h2.45v2.68h-2.45zM418.30 30.50h2.45v2.68h-2.45zM420.30 30.50h2.45v2.68h-2.45zM422.30 30.50h2.45v2.68h-2.45zM428.30 30.50h2.45v2.68h-2.45zM408.30 32.73h2.45v2.68h-2.45zM410.30 32.73h2.45v2.68h-2.45zM412.30 32.73h2.45v2.68h-2.45zM414.30 32.73h2.45v2.68h-2.45zM416.30 32.73h2.45v2.68h-2.45zM418.30 32.73h2.45v2.68h-2.45zM420.30 32.73h2.45v2.68h-2.45zM422.30 32.73h2.45v2.68h-2.45zM424.30 32.73h2.45v2.68h-2.45zM426.30 32.73h2.45v2.68h-2.45zM428.30 32.73h2.45v2.68h-2.45zM430.30 32.73h2.45v2.68h-2.45zM410.30 34.96h2.45v2.68h-2.45zM412.30 34.96h2.45v2.68h-2.45zM414.30 34.96h2.45v2.68h-2.45zM416.30 34.96h2.45v2.68h-2.45zM418.30 34.96h2.45v2.68h-2.45zM420.30 34.96h2.45v2.68h-2.45zM422.30 34.96h2.45v2.68h-2.45zM424.30 34.96h2.45v2.68h-2.45zM426.30 34.96h2.45v2.68h-2.45zM428.30 34.96h2.45v2.68h-2.45zM406.30 37.19h2.45v2.68h-2.45zM408.30 37.19h2.45v2.68h-2.45zM410.30 37.19h2.45v2.68h-2.45zM412.30 37.19h2.45v2.68h-2.45zM414.30 37.19h2.45v2.68h-2.45zM416.30 37.19h2.45v2.68h-2.45zM418.30 37.19h2.45v2.68h-2.45zM420.30 37.19h2.45v2.68h-2.45zM422.30 37.19h2.45v2.68h-2.45zM424.30 37.19h2.45v2.68h-2.45zM426.30 37.19h2.45v2.68h-2.45zM428.30 37.19h2.45v2.68h-2.45zM430.30 37.19h2.45v2.68h-2.45zM432.30 37.19h2.45v2.68h-2.45zM406.30 39.42h2.45v2.68h-2.45zM408.30 39.42h2.45v2.68h-2.45zM430.30 39.42h2.45v2.68h-2.45zM406.30 41.65h2.45v2.68h-2.45zM408.30 41.65h2.45v2.68h-2.45zM410.30 41.65h2.45v2.68h-2.45zM412.30 41.65h2.45v2.68h-2.45zM426.30 41.65h2.45v2.68h-2.45zM428.30 41.65h2.45v2.68h-2.45zM430.30 41.65h2.45v2.68h-2.45zM412.30 43.88h2.45v2.68h-2.45zM414.30 43.88h2.45v2.68h-2.45zM416.30 43.88h2.45v2.68h-2.45zM418.30 43.88h2.45v2.68h-2.45zM420.30 43.88h2.45v2.68h-2.45zM422.30 43.88h2.45v2.68h-2.45zM424.30 43.88h2.45v2.68h-2.45zM426.30 43.88h2.45v2.68h-2.45zM428.30 43.88h2.45v2.68h-2.45zM412.30 46.11h2.45v2.68h-2.45zM414.30 46.11h2.45v2.68h-2.45zM416.30 46.11h2.45v2.68h-2.45zM418.30 46.11h2.45v2.68h-2.45zM426.30 46.11h2.45v2.68h-2.45zM428.30 46.11h2.45v2.68h-2.45zM430.30 46.11h2.45v2.68h-2.45zM406.30 48.34h2.45v2.68h-2.45zM408.30 48.34h2.45v2.68h-2.45zM416.30 48.34h2.45v2.68h-2.45zM418.30 48.34h2.45v2.68h-2.45zM420.30 48.34h2.45v2.68h-2.45zM422.30 48.34h2.45v2.68h-2.45zM424.30 48.34h2.45v2.68h-2.45zM426.30 48.34h2.45v2.68h-2.45zM428.30 48.34h2.45v2.68h-2.45zM430.30 48.34h2.45v2.68h-2.45zM398.30 50.57h2.45v2.68h-2.45zM400.30 50.57h2.45v2.68h-2.45zM402.30 50.57h2.45v2.68h-2.45zM404.30 50.57h2.45v2.68h-2.45zM406.30 50.57h2.45v2.68h-2.45zM408.30 50.57h2.45v2.68h-2.45zM410.30 50.57h2.45v2.68h-2.45zM412.30 50.57h2.45v2.68h-2.45zM414.30 50.57h2.45v2.68h-2.45zM416.30 50.57h2.45v2.68h-2.45zM418.30 50.57h2.45v2.68h-2.45zM420.30 50.57h2.45v2.68h-2.45zM422.30 50.57h2.45v2.68h-2.45zM430.30 50.57h2.45v2.68h-2.45zM432.30 50.57h2.45v2.68h-2.45zM404.30 52.80h2.45v2.68h-2.45zM406.30 52.80h2.45v2.68h-2.45zM408.30 52.80h2.45v2.68h-2.45zM410.30 52.80h2.45v2.68h-2.45zM412.30 52.80h2.45v2.68h-2.45zM414.30 52.80h2.45v2.68h-2.45zM416.30 52.80h2.45v2.68h-2.45zM418.30 52.80h2.45v2.68h-2.45zM420.30 52.80h2.45v2.68h-2.45zM422.30 52.80h2.45v2.68h-2.45zM424.30 52.80h2.45v2.68h-2.45zM426.30 52.80h2.45v2.68h-2.45zM428.30 52.80h2.45v2.68h-2.45zM408.30 55.03h2.45v2.68h-2.45zM410.30 55.03h2.45v2.68h-2.45zM412.30 55.03h2.45v2.68h-2.45zM414.30 55.03h2.45v2.68h-2.45zM416.30 55.03h2.45v2.68h-2.45zM418.30 55.03h2.45v2.68h-2.45zM420.30 55.03h2.45v2.68h-2.45zM422.30 55.03h2.45v2.68h-2.45zM424.30 55.03h2.45v2.68h-2.45zM426.30 55.03h2.45v2.68h-2.45zM428.30 55.03h2.45v2.68h-2.45zM386.30 57.26h2.45v2.68h-2.45zM388.30 57.26h2.45v2.68h-2.45zM390.30 57.26h2.45v2.68h-2.45zM392.30 57.26h2.45v2.68h-2.45zM394.30 57.26h2.45v2.68h-2.45zM402.30 57.26h2.45v2.68h-2.45zM404.30 57.26h2.45v2.68h-2.45zM406.30 57.26h2.45v2.68h-2.45zM408.30 57.26h2.45v2.68h-2.45zM410.30 57.26h2.45v2.68h-2.45zM412.30 57.26h2.45v2.68h-2.45zM414.30 57.26h2.45v2.68h-2.45zM416.30 57.26h2.45v2.68h-2.45zM418.30 57.26h2.45v2.68h-2.45zM420.30 57.26h2.45v2.68h-2.45zM422.30 57.26h2.45v2.68h-2.45zM424.30 57.26h2.45v2.68h-2.45zM430.30 57.26h2.45v2.68h-2.45zM404.30 59.49h2.45v2.68h-2.45zM406.30 59.49h2.45v2.68h-2.45zM408.30 59.49h2.45v2.68h-2.45zM410.30 59.49h2.45v2.68h-2.45zM412.30 59.49h2.45v2.68h-2.45zM414.30 59.49h2.45v2.68h-2.45zM416.30 59.49h2.45v2.68h-2.45zM418.30 59.49h2.45v2.68h-2.45zM420.30 59.49h2.45v2.68h-2.45zM422.30 59.49h2.45v2.68h-2.45zM424.30 59.49h2.45v2.68h-2.45zM426.30 59.49h2.45v2.68h-2.45zM428.30 59.49h2.45v2.68h-2.45zM430.30 59.49h2.45v2.68h-2.45zM388.30 61.72h2.45v2.68h-2.45zM390.30 61.72h2.45v2.68h-2.45zM400.30 61.72h2.45v2.68h-2.45zM402.30 61.72h2.45v2.68h-2.45zM404.30 61.72h2.45v2.68h-2.45zM406.30 61.72h2.45v2.68h-2.45zM408.30 61.72h2.45v2.68h-2.45zM410.30 61.72h2.45v2.68h-2.45zM412.30 61.72h2.45v2.68h-2.45zM414.30 61.72h2.45v2.68h-2.45zM416.30 61.72h2.45v2.68h-2.45zM418.30 61.72h2.45v2.68h-2.45zM420.30 61.72h2.45v2.68h-2.45zM422.30 61.72h2.45v2.68h-2.45zM424.30 61.72h2.45v2.68h-2.45zM426.30 61.72h2.45v2.68h-2.45zM428.30 61.72h2.45v2.68h-2.45zM430.30 61.72h2.45v2.68h-2.45zM402.30 63.95h2.45v2.68h-2.45zM404.30 63.95h2.45v2.68h-2.45zM406.30 63.95h2.45v2.68h-2.45zM408.30 63.95h2.45v2.68h-2.45zM410.30 63.95h2.45v2.68h-2.45zM412.30 63.95h2.45v2.68h-2.45zM414.30 63.95h2.45v2.68h-2.45zM416.30 63.95h2.45v2.68h-2.45zM418.30 63.95h2.45v2.68h-2.45zM420.30 63.95h2.45v2.68h-2.45zM422.30 63.95h2.45v2.68h-2.45zM424.30 63.95h2.45v2.68h-2.45zM426.30 63.95h2.45v2.68h-2.45zM428.30 63.95h2.45v2.68h-2.45zM388.30 66.18h2.45v2.68h-2.45zM390.30 66.18h2.45v2.68h-2.45zM402.30 66.18h2.45v2.68h-2.45zM404.30 66.18h2.45v2.68h-2.45zM406.30 66.18h2.45v2.68h-2.45zM408.30 66.18h2.45v2.68h-2.45zM410.30 66.18h2.45v2.68h-2.45zM412.30 66.18h2.45v2.68h-2.45zM414.30 66.18h2.45v2.68h-2.45zM416.30 66.18h2.45v2.68h-2.45zM424.30 66.18h2.45v2.68h-2.45zM426.30 66.18h2.45v2.68h-2.45zM428.30 66.18h2.45v2.68h-2.45zM430.30 66.18h2.45v2.68h-2.45zM414.30 68.41h2.45v2.68h-2.45zM416.30 68.41h2.45v2.68h-2.45zM418.30 68.41h2.45v2.68h-2.45zM420.30 68.41h2.45v2.68h-2.45zM422.30 68.41h2.45v2.68h-2.45zM424.30 68.41h2.45v2.68h-2.45zM426.30 68.41h2.45v2.68h-2.45zM428.30 68.41h2.45v2.68h-2.45zM382.30 70.64h2.45v2.68h-2.45zM412.30 70.64h2.45v2.68h-2.45zM414.30 70.64h2.45v2.68h-2.45zM416.30 70.64h2.45v2.68h-2.45zM418.30 70.64h2.45v2.68h-2.45zM420.30 70.64h2.45v2.68h-2.45zM422.30 70.64h2.45v2.68h-2.45zM424.30 70.64h2.45v2.68h-2.45zM426.30 70.64h2.45v2.68h-2.45zM428.30 70.64h2.45v2.68h-2.45zM430.30 70.64h2.45v2.68h-2.45zM382.30 72.87h2.45v2.68h-2.45zM384.30 72.87h2.45v2.68h-2.45zM386.30 72.87h2.45v2.68h-2.45zM388.30 72.87h2.45v2.68h-2.45zM390.30 72.87h2.45v2.68h-2.45zM404.30 72.87h2.45v2.68h-2.45zM406.30 72.87h2.45v2.68h-2.45zM408.30 72.87h2.45v2.68h-2.45zM410.30 72.87h2.45v2.68h-2.45zM412.30 72.87h2.45v2.68h-2.45zM414.30 72.87h2.45v2.68h-2.45zM416.30 72.87h2.45v2.68h-2.45zM418.30 72.87h2.45v2.68h-2.45zM420.30 72.87h2.45v2.68h-2.45zM422.30 72.87h2.45v2.68h-2.45zM424.30 72.87h2.45v2.68h-2.45zM426.30 72.87h2.45v2.68h-2.45zM428.30 72.87h2.45v2.68h-2.45zM430.30 72.87h2.45v2.68h-2.45zM376.30 75.10h2.45v2.68h-2.45zM386.30 75.10h2.45v2.68h-2.45zM388.30 75.10h2.45v2.68h-2.45zM390.30 75.10h2.45v2.68h-2.45zM404.30 75.10h2.45v2.68h-2.45zM406.30 75.10h2.45v2.68h-2.45zM412.30 75.10h2.45v2.68h-2.45zM414.30 75.10h2.45v2.68h-2.45zM416.30 75.10h2.45v2.68h-2.45zM418.30 75.10h2.45v2.68h-2.45zM420.30 75.10h2.45v2.68h-2.45zM422.30 75.10h2.45v2.68h-2.45zM424.30 75.10h2.45v2.68h-2.45zM426.30 75.10h2.45v2.68h-2.45zM428.30 75.10h2.45v2.68h-2.45zM430.30 75.10h2.45v2.68h-2.45zM432.30 75.10h2.45v2.68h-2.45zM388.30 77.33h2.45v2.68h-2.45zM402.30 77.33h2.45v2.68h-2.45zM404.30 77.33h2.45v2.68h-2.45zM410.30 77.33h2.45v2.68h-2.45zM412.30 77.33h2.45v2.68h-2.45zM414.30 77.33h2.45v2.68h-2.45zM416.30 77.33h2.45v2.68h-2.45zM418.30 77.33h2.45v2.68h-2.45zM420.30 77.33h2.45v2.68h-2.45zM422.30 77.33h2.45v2.68h-2.45zM424.30 77.33h2.45v2.68h-2.45zM426.30 77.33h2.45v2.68h-2.45zM428.30 77.33h2.45v2.68h-2.45zM430.30 77.33h2.45v2.68h-2.45zM388.30 79.56h2.45v2.68h-2.45zM390.30 79.56h2.45v2.68h-2.45zM402.30 79.56h2.45v2.68h-2.45zM404.30 79.56h2.45v2.68h-2.45zM414.30 79.56h2.45v2.68h-2.45zM416.30 79.56h2.45v2.68h-2.45zM418.30 79.56h2.45v2.68h-2.45zM426.30 79.56h2.45v2.68h-2.45zM428.30 79.56h2.45v2.68h-2.45zM430.30 79.56h2.45v2.68h-2.45zM380.30 81.79h2.45v2.68h-2.45zM382.30 81.79h2.45v2.68h-2.45zM384.30 81.79h2.45v2.68h-2.45zM386.30 81.79h2.45v2.68h-2.45zM388.30 81.79h2.45v2.68h-2.45zM390.30 81.79h2.45v2.68h-2.45zM398.30 81.79h2.45v2.68h-2.45zM404.30 81.79h2.45v2.68h-2.45zM406.30 81.79h2.45v2.68h-2.45zM408.30 81.79h2.45v2.68h-2.45zM410.30 81.79h2.45v2.68h-2.45zM412.30 81.79h2.45v2.68h-2.45zM414.30 81.79h2.45v2.68h-2.45zM416.30 81.79h2.45v2.68h-2.45zM418.30 81.79h2.45v2.68h-2.45zM420.30 81.79h2.45v2.68h-2.45zM422.30 81.79h2.45v2.68h-2.45zM424.30 81.79h2.45v2.68h-2.45zM426.30 81.79h2.45v2.68h-2.45zM428.30 81.79h2.45v2.68h-2.45zM430.30 81.79h2.45v2.68h-2.45zM380.30 84.02h2.45v2.68h-2.45zM382.30 84.02h2.45v2.68h-2.45zM384.30 84.02h2.45v2.68h-2.45zM386.30 84.02h2.45v2.68h-2.45zM388.30 84.02h2.45v2.68h-2.45zM400.30 84.02h2.45v2.68h-2.45zM402.30 84.02h2.45v2.68h-2.45zM404.30 84.02h2.45v2.68h-2.45zM406.30 84.02h2.45v2.68h-2.45zM408.30 84.02h2.45v2.68h-2.45zM410.30 84.02h2.45v2.68h-2.45zM412.30 84.02h2.45v2.68h-2.45zM414.30 84.02h2.45v2.68h-2.45zM416.30 84.02h2.45v2.68h-2.45zM418.30 84.02h2.45v2.68h-2.45zM420.30 84.02h2.45v2.68h-2.45zM422.30 84.02h2.45v2.68h-2.45zM424.30 84.02h2.45v2.68h-2.45zM426.30 84.02h2.45v2.68h-2.45zM428.30 84.02h2.45v2.68h-2.45zM402.30 86.25h2.45v2.68h-2.45zM410.30 86.25h2.45v2.68h-2.45zM412.30 86.25h2.45v2.68h-2.45zM414.30 86.25h2.45v2.68h-2.45zM416.30 86.25h2.45v2.68h-2.45zM418.30 86.25h2.45v2.68h-2.45zM420.30 86.25h2.45v2.68h-2.45zM422.30 86.25h2.45v2.68h-2.45zM424.30 86.25h2.45v2.68h-2.45zM430.30 86.25h2.45v2.68h-2.45zM378.30 88.48h2.45v2.68h-2.45zM380.30 88.48h2.45v2.68h-2.45zM382.30 88.48h2.45v2.68h-2.45zM384.30 88.48h2.45v2.68h-2.45zM386.30 88.48h2.45v2.68h-2.45zM388.30 88.48h2.45v2.68h-2.45zM390.30 88.48h2.45v2.68h-2.45zM402.30 88.48h2.45v2.68h-2.45zM406.30 88.48h2.45v2.68h-2.45zM408.30 88.48h2.45v2.68h-2.45zM410.30 88.48h2.45v2.68h-2.45zM412.30 88.48h2.45v2.68h-2.45zM414.30 88.48h2.45v2.68h-2.45zM416.30 88.48h2.45v2.68h-2.45zM418.30 88.48h2.45v2.68h-2.45zM420.30 88.48h2.45v2.68h-2.45zM422.30 88.48h2.45v2.68h-2.45zM424.30 88.48h2.45v2.68h-2.45zM426.30 88.48h2.45v2.68h-2.45zM430.30 88.48h2.45v2.68h-2.45zM372.30 90.71h2.45v2.68h-2.45zM374.30 90.71h2.45v2.68h-2.45zM376.30 90.71h2.45v2.68h-2.45zM378.30 90.71h2.45v2.68h-2.45zM380.30 90.71h2.45v2.68h-2.45zM382.30 90.71h2.45v2.68h-2.45zM384.30 90.71h2.45v2.68h-2.45zM386.30 90.71h2.45v2.68h-2.45zM388.30 90.71h2.45v2.68h-2.45zM390.30 90.71h2.45v2.68h-2.45zM392.30 90.71h2.45v2.68h-2.45zM394.30 90.71h2.45v2.68h-2.45zM396.30 90.71h2.45v2.68h-2.45zM398.30 90.71h2.45v2.68h-2.45zM400.30 90.71h2.45v2.68h-2.45zM402.30 90.71h2.45v2.68h-2.45zM404.30 90.71h2.45v2.68h-2.45zM406.30 90.71h2.45v2.68h-2.45zM408.30 90.71h2.45v2.68h-2.45zM410.30 90.71h2.45v2.68h-2.45zM412.30 90.71h2.45v2.68h-2.45zM414.30 90.71h2.45v2.68h-2.45zM416.30 90.71h2.45v2.68h-2.45zM430.30 90.71h2.45v2.68h-2.45zM432.30 90.71h2.45v2.68h-2.45zM372.30 92.94h2.45v2.68h-2.45zM374.30 92.94h2.45v2.68h-2.45zM376.30 92.94h2.45v2.68h-2.45zM378.30 92.94h2.45v2.68h-2.45zM380.30 92.94h2.45v2.68h-2.45zM382.30 92.94h2.45v2.68h-2.45zM384.30 92.94h2.45v2.68h-2.45zM386.30 92.94h2.45v2.68h-2.45zM388.30 92.94h2.45v2.68h-2.45zM390.30 92.94h2.45v2.68h-2.45zM392.30 92.94h2.45v2.68h-2.45zM394.30 92.94h2.45v2.68h-2.45zM396.30 92.94h2.45v2.68h-2.45zM398.30 92.94h2.45v2.68h-2.45zM400.30 92.94h2.45v2.68h-2.45zM402.30 92.94h2.45v2.68h-2.45zM404.30 92.94h2.45v2.68h-2.45zM406.30 92.94h2.45v2.68h-2.45zM408.30 92.94h2.45v2.68h-2.45zM410.30 92.94h2.45v2.68h-2.45zM412.30 92.94h2.45v2.68h-2.45zM414.30 92.94h2.45v2.68h-2.45zM416.30 92.94h2.45v2.68h-2.45zM418.30 92.94h2.45v2.68h-2.45zM420.30 92.94h2.45v2.68h-2.45zM422.30 92.94h2.45v2.68h-2.45zM424.30 92.94h2.45v2.68h-2.45zM426.30 92.94h2.45v2.68h-2.45zM428.30 92.94h2.45v2.68h-2.45zM430.30 92.94h2.45v2.68h-2.45zM372.30 95.17h2.45v2.68h-2.45zM374.30 95.17h2.45v2.68h-2.45zM376.30 95.17h2.45v2.68h-2.45zM378.30 95.17h2.45v2.68h-2.45zM380.30 95.17h2.45v2.68h-2.45zM382.30 95.17h2.45v2.68h-2.45zM384.30 95.17h2.45v2.68h-2.45zM386.30 95.17h2.45v2.68h-2.45zM388.30 95.17h2.45v2.68h-2.45zM390.30 95.17h2.45v2.68h-2.45zM392.30 95.17h2.45v2.68h-2.45zM394.30 95.17h2.45v2.68h-2.45zM396.30 95.17h2.45v2.68h-2.45zM398.30 95.17h2.45v2.68h-2.45zM400.30 95.17h2.45v2.68h-2.45zM402.30 95.17h2.45v2.68h-2.45zM404.30 95.17h2.45v2.68h-2.45zM406.30 95.17h2.45v2.68h-2.45zM408.30 95.17h2.45v2.68h-2.45zM410.30 95.17h2.45v2.68h-2.45zM412.30 95.17h2.45v2.68h-2.45zM414.30 95.17h2.45v2.68h-2.45zM416.30 95.17h2.45v2.68h-2.45zM418.30 95.17h2.45v2.68h-2.45zM420.30 95.17h2.45v2.68h-2.45zM422.30 95.17h2.45v2.68h-2.45zM424.30 95.17h2.45v2.68h-2.45zM426.30 95.17h2.45v2.68h-2.45zM428.30 95.17h2.45v2.68h-2.45z"/>
<path fill="#ff3800" d="M432.30 8.20h2.45v2.68h-2.45zM396.30 12.66h2.45v2.68h-2.45zM402.30 19.35h2.45v2.68h-2.45zM436.30 19.35h2.45v2.68h-2.45zM430.30 30.50h2.45v2.68h-2.45zM406.30 32.73h2.45v2.68h-2.45zM382.30 34.96h2.45v2.68h-2.45zM398.30 39.42h2.45v2.68h-2.45zM404.30 39.42h2.45v2.68h-2.45zM398.30 41.65h2.45v2.68h-2.45zM402.30 43.88h2.45v2.68h-2.45zM406.30 43.88h2.45v2.68h-2.45zM408.30 43.88h2.45v2.68h-2.45zM404.30 48.34h2.45v2.68h-2.45zM384.30 50.57h2.45v2.68h-2.45zM402.30 55.03h2.45v2.68h-2.45zM380.30 57.26h2.45v2.68h-2.45zM382.30 57.26h2.45v2.68h-2.45zM432.30 57.26h2.45v2.68h-2.45zM380.30 59.49h2.45v2.68h-2.45zM384.30 61.72h2.45v2.68h-2.45zM394.30 61.72h2.45v2.68h-2.45zM398.30 61.72h2.45v2.68h-2.45zM400.30 63.95h2.45v2.68h-2.45zM378.30 66.18h2.45v2.68h-2.45zM380.30 68.41h2.45v2.68h-2.45zM402.30 68.41h2.45v2.68h-2.45zM390.30 70.64h2.45v2.68h-2.45zM434.30 70.64h2.45v2.68h-2.45zM378.30 72.87h2.45v2.68h-2.45zM432.30 72.87h2.45v2.68h-2.45zM392.30 75.10h2.45v2.68h-2.45zM384.30 77.33h2.45v2.68h-2.45zM394.30 79.56h2.45v2.68h-2.45zM398.30 79.56h2.45v2.68h-2.45zM398.30 84.02h2.45v2.68h-2.45zM384.30 86.25h2.45v2.68h-2.45zM386.30 86.25h2.45v2.68h-2.45zM388.30 86.25h2.45v2.68h-2.45zM392.30 88.48h2.45v2.68h-2.45zM432.30 92.94h2.45v2.68h-2.45z"/>
<path fill="#48ff00" d="M448.30 8.20h2.45v2.68h-2.45zM468.30 10.43h2.45v2.68h-2.45zM454.30 12.66h2.45v2.68h-2.45zM454.30 14.89h2.45v2.68h-2.45zM374.30 19.35h2.45v2.68h-2.45zM474.30 19.35h2.45v2.68h-2.45zM442.30 23.81h2.45v2.68h-2.45zM454.30 26.04h2.45v2.68h-2.45zM474.30 26.04h2.45v2.68h-2.45zM454.30 28.27h2.45v2.68h-2.45zM472.30 28.27h2.45v2.68h-2.45zM450.30 30.50h2.45v2.68h-2.45zM474.30 30.50h2.45v2.68h-2.45zM374.30 32.73h2.45v2.68h-2.45zM468.30 32.73h2.45v2.68h-2.45zM474.30 39.42h2.45v2.68h-2.45zM450.30 43.88h2.45v2.68h-2.45zM454.30 46.11h2.45v2.68h-2.45zM452.30 50.57h2.45v2.68h-2.45zM452.30 59.49h2.45v2.68h-2.45zM472.30 59.49h2.45v2.68h-2.45zM474.30 68.41h2.45v2.68h-2.45zM452.30 70.64h2.45v2.68h-2.45zM450.30 77.33h2.45v2.68h-2.45zM446.30 84.02h2.45v2.68h-2.45zM450.30 92.94h2.45v2.68h-2.45zM448.30 95.17h2.45v2.68h-2.45z"/>
<path fill="#38ff00" d="M452.30 8.20h2.45v2.68h-2.45zM468.30 12.66h2.45v2.68h-2.45zM394.30 17.12h2.45v2.68h-2.45zM446.30 17.12h2.45v2.68h-2.45zM472.30 19.35h2.45v2.68h-2.45zM444.30 23.81h2.45v2.68h-2.45zM378.30 26.04h2.45v2.68h-2.45zM450.30 26.04h2.45v2.68h-2.45zM450.30 32.73h2.45v2.68h-2.45zM466.30 32.73h2.45v2.68h-2.45zM452.30 34.96h2.45v2.68h-2.45zM472.30 39.42h2.45v2.68h-2.45zM444.30 68.41h2.45v2.68h-2.45zM446.30 72.87h2.45v2.68h-2.45zM372.30 75.10h2.45v2.68h-2.45zM474.30 84.02h2.45v2.68h-2.45zM452.30 88.48h2.45v2.68h-2.45zM474.30 88.48h2.45v2.68h-2.45zM446.30 92.94h2.45v2.68h-2.45zM448.30 92.94h2.45v2.68h-2.45z"/>
<path fill="#08ff00" d="M454.30 8.20h2.45v2.68h-2.45zM454.30 10.43h2.45v2.68h-2.45zM466.30 12.66h2.45v2.68h-2.45zM456.30 14.89h2.45v2.68h-2.45zM392.30 17.12h2.45v2.68h-2.45zM452.30 23.81h2.45v2.68h-2.45zM376.30 26.04h2.45v2.68h-2.45zM472.30 26.04h2.45v2.68h-2.45zM470.30 28.27h2.45v2.68h-2.45zM374.30 30.50h2.45v2.68h-2.45zM456.30 30.50h2.45v2.68h-2.45zM452.30 43.88h2.45v2.68h-2.45zM472.30 43.88h2.45v2.68h-2.45zM474.30 43.88h2.45v2.68h-2.45zM474.30 50.57h2.45v2.68h-2.45zM372.30 61.72h2.45v2.68h-2.45zM446.30 68.41h2.45v2.68h-2.45zM448.30 72.87h2.45v2.68h-2.45zM450.30 72.87h2.45v2.68h-2.45zM474.30 81.79h2.45v2.68h-2.45zM472.30 84.02h2.45v2.68h-2.45zM372.30 88.48h2.45v2.68h-2.45zM454.30 90.71h2.45v2.68h-2.45z"/>
<path fill="#00ff68" d="M456.30 8.20h2.45v2.68h-2.45zM460.30 10.43h2.45v2.68h-2.45zM450.30 17.12h2.45v2.68h-2.45zM374.30 21.58h2.45v2.68h-2.45zM462.30 30.50h2.45v2.68h-2.45zM468.30 30.50h2.45v2.68h-2.45zM458.30 34.96h2.45v2.68h-2.45zM466.30 34.96h2.45v2.68h-2.45zM468.30 34.96h2.45v2.68h-2.45zM462.30 37.19h2.45v2.68h-2.45zM464.30 37.19h2.45v2.68h-2.45zM466.30 39.42h2.45v2.68h-2.45zM372.30 43.88h2.45v2.68h-2.45zM454.30 66.18h2.45v2.68h-2.45zM454.30 70.64h2.45v2.68h-2.45zM454.30 72.87h2.45v2.68h-2.45zM452.30 77.33h2.45v2.68h-2.45zM470.30 79.56h2.45v2.68h-2.45zM472.30 81.79h2.45v2.68h-2.45z"/>
<path fill="#00ffc8" d="M458.30 8.20h2.45v2.68h-2.45zM464.30 14.89h2.45v2.68h-2.45zM470.30 21.58h2.45v2.68h-2.45zM462.30 23.81h2.45v2.68h-2.45zM464.30 39.42h2.45v2.68h-2.45zM456.30 41.65h2.45v2.68h-2.45zM462.30 46.11h2.45v2.68h-2.45zM372.30 50.57h2.45v2.68h-2.45zM466.30 52.80h2.45v2.68h-2.45zM468.30 57.26h2.45v2.68h-2.45zM456.30 61.72h2.45v2.68h-2.45zM454.30 63.95h2.45v2.68h-2.45zM466.30 66.18h2.45v2.68h-2.45zM456.30 68.41h2.45v2.68h-2.45zM470.30 70.64h2.45v2.68h-2.45zM472.30 86.25h2.45v2.68h-2.45zM456.30 88.48h2.45v2.68h-2.45z"/>
<path fill="#00ffd8" d="M460.30 8.20h2.45v2.68h-2.45zM372.30 19.35h2.45v2.68h-2.45zM458.30 23.81h2.45v2.68h-2.45zM460.30 23.81h2.45v2.68h-2.45zM464.30 26.04h2.45v2.68h-2.45zM466.30 26.04h2.45v2.68h-2.45zM460.30 32.73h2.45v2.68h-2.45zM458.30 39.42h2.45v2.68h-2.45zM372.30 48.34h2.45v2.68h-2.45zM468.30 48.34h2.45v2.68h-2.45zM460.30 50.57h2.45v2.68h-2.45zM464.30 50.57h2.45v2.68h-2.45zM466.30 50.57h2.45v2.68h-2.45zM454.30 55.03h2.45v2.68h-2.45zM456.30 59.49h2.45v2.68h-2.45zM468.30 59.49h2.45v2.68h-2.45zM464.30 66.18h2.45v2.68h-2.45zM456.30 75.10h2.45v2.68h-2.45zM470.30 86.25h2.45v2.68h-2.45z"/>
<path fill="#00ffa8" d="M462.30 8.20h2.45v2.68h-2.45zM458.30 12.66h2.45v2.68h-2.45zM460.30 12.66h2.45v2.68h-2.45zM460.30 19.35h2.45v2.68h-2.45zM458.30 21.58h2.45v2.68h-2.45zM464.30 23.81h2.45v2.68h-2.45zM464.30 30.50h2.45v2.68h-2.45zM454.30 32.73h2.45v2.68h-2.45zM372.30 37.19h2.45v2.68h-2.45zM466.30 43.88h2.45v2.68h-2.45zM468.30 50.57h2.45v2.68h-2.45zM372.30 52.80h2.45v2.68h-2.45zM470.30 68.41h2.45v2.68h-2.45zM456.30 72.87h2.45v2.68h-2.45zM472.30 75.10h2.45v2.68h-2.45zM470.30 88.48h2.45v2.68h-2.45z"/>
<path fill="#00ff48" d="M464.30 8.20h2.45v2.68h-2.45zM462.30 10.43h2.45v2.68h-2.45zM374.30 14.89h2.45v2.68h-2.45zM386.30 17.12h2.45v2.68h-2.45zM460.30 28.27h2.45v2.68h-2.45zM460.30 34.96h2.45v2.68h-2.45zM464.30 34.96h2.45v2.68h-2.45zM470.30 34.96h2.45v2.68h-2.45zM468.30 43.88h2.45v2.68h-2.45zM454.30 57.26h2.45v2.68h-2.45zM372.30 59.49h2.45v2.68h-2.45zM448.30 68.41h2.45v2.68h-2.45zM454.30 75.10h2.45v2.68h-2.45zM454.30 81.79h2.45v2.68h-2.45zM454.30 88.48h2.45v2.68h-2.45z"/>
<path fill="#28ff00" d="M466.30 8.20h2.45v2.68h-2.45zM452.30 10.43h2.45v2.68h-2.45zM374.30 12.66h2.45v2.68h-2.45zM376.30 14.89h2.45v2.68h-2.45zM384.30 17.12h2.45v2.68h-2.45zM470.30 19.35h2.45v2.68h-2.45zM376.30 21.58h2.45v2.68h-2.45zM454.30 21.58h2.45v2.68h-2.45zM452.30 26.04h2.45v2.68h-2.45zM374.30 28.27h2.45v2.68h-2.45zM454.30 30.50h2.45v2.68h-2.45zM470.30 32.73h2.45v2.68h-2.45zM472.30 32.73h2.45v2.68h-2.45zM468.30 37.19h2.45v2.68h-2.45zM474.30 41.65h2.45v2.68h-2.45zM474.30 48.34h2.45v2.68h-2.45zM474.30 52.80h2.45v2.68h-2.45zM450.30 55.03h2.45v2.68h-2.45zM452.30 57.26h2.45v2.68h-2.45zM474.30 57.26h2.45v2.68h-2.45zM452.30 66.18h2.45v2.68h-2.45zM472.30 72.87h2.45v2.68h-2.45zM472.30 79.56h2.45v2.68h-2.45zM452.30 81.79h2.45v2.68h-2.45zM448.30 84.02h2.45v2.68h-2.45zM450.30 95.17h2.45v2.68h-2.45z"/>
<path fill="#78ff00" d="M470.30 8.20h2.45v2.68h-2.45zM470.30 10.43h2.45v2.68h-2.45zM450.30 14.89h2.45v2.68h-2.45zM376.30 17.12h2.45v2.68h-2.45zM376.30 23.81h2.45v2.68h-2.45zM474.30 28.27h2.45v2.68h-2.45zM448.30 39.42h2.45v2.68h-2.45zM448.30 43.88h2.45v2.68h-2.45zM446.30 46.11h2.45v2.68h-2.45zM448.30 46.11h2.45v2.68h-2.45zM452.30 46.11h2.45v2.68h-2.45zM374.30 50.57h2.45v2.68h-2.45zM448.30 50.57h2.45v2.68h-2.45zM450.30 50.57h2.45v2.68h-2.45zM448.30 55.03h2.45v2.68h-2.45zM474.30 59.49h2.45v2.68h-2.45zM442.30 68.41h2.45v2.68h-2.45zM450.30 81.79h2.45v2.68h-2.45zM446.30 90.71h2.45v2.68h-2.45zM444.30 95.17h2.45v2.68h-2.45z"/>
<path fill="#00a8ff" d="M372.30 10.43h2.45v2.68h-2.45zM462.30 17.12h2.45v2.68h-2.45zM372.30 30.50h2.45v2.68h-2.45zM458.30 52.80h2.45v2.68h-2.45zM462.30 55.03h2.45v2.68h-2.45zM462.30 57.26h2.45v2.68h-2.45zM458.30 61.72h2.45v2.68h-2.45zM462.30 61.72h2.45v2.68h-2.45zM460.30 63.95h2.45v2.68h-2.45zM462.30 63.95h2.45v2.68h-2.45zM460.30 68.41h2.45v2.68h-2.45zM460.30 72.87h2.45v2.68h-2.45zM464.30 75.10h2.45v2.68h-2.45zM468.30 75.10h2.45v2.68h-2.45zM466.30 81.79h2.45v2.68h-2.45zM462.30 84.02h2.45v2.68h-2.45zM470.30 92.94h2.45v2.68h-2.45zM458.30 95.17h2.45v2.68h-2.45zM460.30 95.17h2.45v2.68h-2.45z"/>
<path fill="#00ff08" d="M374.30 10.43h2.45v2.68h-2.45zM470.30 14.89h2.45v2.68h-2.45zM374.30 17.12h2.45v2.68h-2.45zM466.30 28.27h2.45v2.68h-2.45zM374.30 34.96h2.45v2.68h-2.45zM470.30 41.65h2.45v2.68h-2.45zM472.30 57.26h2.45v2.68h-2.45zM372.30 72.87h2.45v2.68h-2.45z"/>
<path fill="#ffa800" d="M384.30 10.43h2.45v2.68h-2.45zM442.30 10.43h2.45v2.68h-2.45zM400.30 17.12h2.45v2.68h-2.45zM438.30 17.12h2.45v2.68h-2.45zM386.30 19.35h2.45v2.68h-2.45zM406.30 21.58h2.45v2.68h-2.45zM380.30 23.81h2.45v2.68h-2.45zM404.30 26.04h2.45v2.68h-2.45zM402.30 28.27h2.45v2.68h-2.45zM432.30 30.50h2.45v2.68h-2.45zM434.30 30.50h2.45v2.68h-2.45zM436.30 30.50h2.45v2.68h-2.45zM380.30 34.96h2.45v2.68h-2.45zM398.30 34.96h2.45v2.68h-2.45zM384.30 37.19h2.45v2.68h-2.45zM396.30 37.19h2.45v2.68h-2.45zM378.30 41.65h2.45v2.68h-2.45zM380.30 41.65h2.45v2.68h-2.45zM392.30 41.65h2.45v2.68h-2.45zM398.30 43.88h2.45v2.68h-2.45zM388.30 46.11h2.45v2.68h-2.45zM402.30 46.11h2.45v2.68h-2.45zM380.30 48.34h2.45v2.68h-2.45zM390.30 50.57h2.45v2.68h-2.45zM392.30 50.57h2.45v2.68h-2.45zM432.30 52.80h2.45v2.68h-2.45zM434.30 52.80h2.45v2.68h-2.45zM380.30 55.03h2.45v2.68h-2.45zM440.30 57.26h2.45v2.68h-2.45zM398.30 63.95h2.45v2.68h-2.45zM432.30 63.95h2.45v2.68h-2.45zM434.30 66.18h2.45v2.68h-2.45zM440.30 75.10h2.45v2.68h-2.45zM394.30 77.33h2.45v2.68h-2.45zM436.30 81.79h2.45v2.68h-2.45zM436.30 95.17h2.45v2.68h-2.45z"/>
<path fill="#ffff00" d="M386.30 10.43h2.45v2.68h-2.45zM440.30 48.34h2.45v2.68h-2.45zM438.30 84.02h2.45v2.68h-2.45z"/>
<path fill="#98ff00" d="M390.30 10.43h2.45v2.68h-2.45zM472.30 10.43h2.45v2.68h-2.45zM450.30 12.66h2.45v2.68h-2.45zM474.30 12.66h2.45v2.68h-2.45zM378.30 14.89h2.45v2.68h-2.45zM382.30 17.12h2.45v2.68h-2.45zM376.30 19.35h2.45v2.68h-2.45zM378.30 21.58h2.45v2.68h-2.45zM442.30 21.58h2.45v2.68h-2.45zM446.30 21.58h2.45v2.68h-2.45zM396.30 23.81h2.45v2.68h-2.45zM440.30 23.81h2.45v2.68h-2.45zM448.30 26.04h2.45v2.68h-2.45zM376.30 30.50h2.45v2.68h-2.45zM446.30 39.42h2.45v2.68h-2.45zM446.30 43.88h2.45v2.68h-2.45zM450.30 48.34h2.45v2.68h-2.45zM448.30 52.80h2.45v2.68h-2.45zM374.30 57.26h2.45v2.68h-2.45zM474.30 61.72h2.45v2.68h-2.45zM450.30 70.64h2.45v2.68h-2.45zM448.30 77.33h2.45v2.68h-2.45zM450.30 79.56h2.45v2.68h-2.45zM442.30 84.02h2.45v2.68h-2.45z"/>
<path fill="#a8ff00" d="M392.30 10.43h2.45v2.68h-2.45zM446.30 14.89h2.45v2.68h-2.45zM448.30 14.89h2.45v2.68h-2.45zM380.30 17.12h2.45v2.68h-2.45zM444.30 17.12h2.45v2.68h-2.45zM396.30 28.27h2.45v2.68h-2.45zM452.30 28.27h2.45v2.68h-2.45zM442.30 37.19h2.45v2.68h-2.45zM446.30 37.19h2.45v2.68h-2.45zM448.30 41.65h2.45v2.68h-2.45zM444.30 43.88h2.45v2.68h-2.45zM448.30 48.34h2.45v2.68h-2.45zM446.30 50.57h2.45v2.68h-2.45zM444.30 52.80h2.45v2.68h-2.45zM446.30 55.03h2.45v2.68h-2.45zM374.30 59.49h2.45v2.68h-2.45zM450.30 59.49h2.45v2.68h-2.45zM374.30 63.95h2.45v2.68h-2.45zM440.30 63.95h2.45v2.68h-2.45zM448.30 70.64h2.45v2.68h-2.45zM446.30 86.25h2.45v2.68h-2.45zM442.30 92.94h2.45v2.68h-2.45z"/>
<path fill="#ff6800" d="M400.30 10.43h2.45v2.68h-2.45zM434.30 10.43h2.45v2.68h-2.45zM436.30 10.43h2.45v2.68h-2.45zM394.30 12.66h2.45v2.68h-2.45zM382.30 23.81h2.45v2.68h-2.45zM404.30 30.50h2.45v2.68h-2.45zM432.30 34.96h2.45v2.68h-2.45zM400.30 37.19h2.45v2.68h-2.45zM438.30 39.42h2.45v2.68h-2.45zM394.30 41.65h2.45v2.68h-2.45zM384.30 46.11h2.45v2.68h-2.45zM398.30 52.80h2.45v2.68h-2.45zM434.30 59.49h2.45v2.68h-2.45zM396.30 61.72h2.45v2.68h-2.45zM384.30 63.95h2.45v2.68h-2.45zM390.30 63.95h2.45v2.68h-2.45zM392.30 66.18h2.45v2.68h-2.45zM400.30 66.18h2.45v2.68h-2.45zM432.30 66.18h2.45v2.68h-2.45zM376.30 72.87h2.45v2.68h-2.45zM434.30 72.87h2.45v2.68h-2.45zM394.30 75.10h2.45v2.68h-2.45zM436.30 75.10h2.45v2.68h-2.45zM380.30 77.33h2.45v2.68h-2.45zM376.30 81.79h2.45v2.68h-2.45zM434.30 92.94h2.45v2.68h-2.45z"/>
<path fill="#e80000" d="M412.30 10.43h2.45v2.68h-2.45zM414.30 10.43h2.45v2.68h-2.45zM416.30 10.43h2.45v2.68h-2.45zM420.30 10.43h2.45v2.68h-2.45zM422.30 10.43h2.45v2.68h-2.45zM414.30 12.66h2.45v2.68h-2.45zM416.30 12.66h2.45v2.68h-2.45zM418.30 12.66h2.45v2.68h-2.45zM420.30 12.66h2.45v2.68h-2.45zM422.30 12.66h2.45v2.68h-2.45zM424.30 12.66h2.45v2.68h-2.45zM426.30 12.66h2.45v2.68h-2.45zM428.30 12.66h2.45v2.68h-2.45zM418.30 14.89h2.45v2.68h-2.45zM420.30 14.89h2.45v2.68h-2.45zM422.30 14.89h2.45v2.68h-2.45zM424.30 14.89h2.45v2.68h-2.45zM426.30 14.89h2.45v2.68h-2.45zM428.30 14.89h2.45v2.68h-2.45zM418.30 19.35h2.45v2.68h-2.45zM420.30 19.35h2.45v2.68h-2.45zM422.30 19.35h2.45v2.68h-2.45zM424.30 19.35h2.45v2.68h-2.45zM428.30 19.35h2.45v2.68h-2.45zM418.30 26.04h2.45v2.68h-2.45zM420.30 26.04h2.45v2.68h-2.45zM424.30 28.27h2.45v2.68h-2.45zM426.30 28.27h2.45v2.68h-2.45zM410.30 39.42h2.45v2.68h-2.45zM412.30 39.42h2.45v2.68h-2.45zM414.30 39.42h2.45v2.68h-2.45zM416.30 39.42h2.45v2.68h-2.45zM418.30 39.42h2.45v2.68h-2.45zM420.30 39.42h2.45v2.68h-2.45zM422.30 39.42h2.45v2.68h-2.45zM424.30 39.42h2.45v2.68h-2.45zM426.30 39.42h2.45v2.68h-2.45zM428.30 39.42h2.45v2.68h-2.45zM414.30 41.65h2.45v2.68h-2.45zM416.30 41.65h2.45v2.68h-2.45zM418.30 41.65h2.45v2.68h-2.45zM420.30 41.65h2.45v2.68h-2.45zM422.30 41.65h2.45v2.68h-2.45zM424.30 41.65h2.45v2.68h-2.45zM420.30 46.11h2.45v2.68h-2.45zM422.30 46.11h2.45v2.68h-2.45zM424.30 46.11h2.45v2.68h-2.45zM410.30 48.34h2.45v2.68h-2.45zM412.30 48.34h2.45v2.68h-2.45zM414.30 48.34h2.45v2.68h-2.45zM424.30 50.57h2.45v2.68h-2.45zM426.30 50.57h2.45v2.68h-2.45zM428.30 50.57h2.45v2.68h-2.45zM426.30 57.26h2.45v2.68h-2.45zM428.30 57.26h2.45v2.68h-2.45zM418.30 66.18h2.45v2.68h-2.45zM420.30 66.18h2.45v2.68h-2.45zM422.30 66.18h2.45v2.68h-2.45zM378.30 75.10h2.45v2.68h-2.45zM380.30 75.10h2.45v2.68h-2.45zM382.30 75.10h2.45v2.68h-2.45zM384.30 75.10h2.45v2.68h-2.45zM408.30 75.10h2.45v2.68h-2.45zM410.30 75.10h2.45v2.68h-2.45zM420.30 79.56h2.45v2.68h-2.45zM422.30 79.56h2.45v2.68h-2.45zM424.30 79.56h2.45v2.68h-2.45zM404.30 86.25h2.45v2.68h-2.45zM406.30 86.25h2.45v2.68h-2.45zM408.30 86.25h2.45v2.68h-2.45zM426.30 86.25h2.45v2.68h-2.45zM428.30 86.25h2.45v2.68h-2.45zM404.30 88.48h2.45v2.68h-2.45zM428.30 88.48h2.45v2.68h-2.45zM418.30 90.71h2.45v2.68h-2.45zM420.30 90.71h2.45v2.68h-2.45zM422.30 90.71h2.45v2.68h-2.45zM424.30 90.71h2.45v2.68h-2.45zM426.30 90.71h2.45v2.68h-2.45zM428.30 90.71h2.45v2.68h-2.45z"/>
<path fill="#ff4800" d="M432.30 10.43h2.45v2.68h-2.45zM436.30 14.89h2.45v2.68h-2.45zM398.30 19.35h2.45v2.68h-2.45zM404.30 19.35h2.45v2.68h-2.45zM400.30 21.58h2.45v2.68h-2.45zM432.30 26.04h2.45v2.68h-2.45zM404.30 28.27h2.45v2.68h-2.45zM400.30 30.50h2.45v2.68h-2.45zM406.30 30.50h2.45v2.68h-2.45zM436.30 39.42h2.45v2.68h-2.45zM396.30 41.65h2.45v2.68h-2.45zM406.30 46.11h2.45v2.68h-2.45zM382.30 48.34h2.45v2.68h-2.45zM384.30 48.34h2.45v2.68h-2.45zM380.30 50.57h2.45v2.68h-2.45zM396.30 50.57h2.45v2.68h-2.45zM430.30 52.80h2.45v2.68h-2.45zM386.30 59.49h2.45v2.68h-2.45zM386.30 63.95h2.45v2.68h-2.45zM388.30 63.95h2.45v2.68h-2.45zM400.30 77.33h2.45v2.68h-2.45zM390.30 86.25h2.45v2.68h-2.45z"/>
<path fill="#ffd800" d="M444.30 10.43h2.45v2.68h-2.45zM446.30 12.66h2.45v2.68h-2.45zM384.30 14.89h2.45v2.68h-2.45zM396.30 14.89h2.45v2.68h-2.45zM398.30 14.89h2.45v2.68h-2.45zM400.30 23.81h2.45v2.68h-2.45zM394.30 26.04h2.45v2.68h-2.45zM400.30 28.27h2.45v2.68h-2.45zM436.30 28.27h2.45v2.68h-2.45zM380.30 30.50h2.45v2.68h-2.45zM384.30 32.73h2.45v2.68h-2.45zM400.30 32.73h2.45v2.68h-2.45zM396.30 34.96h2.45v2.68h-2.45zM402.30 34.96h2.45v2.68h-2.45zM442.30 34.96h2.45v2.68h-2.45zM378.30 39.42h2.45v2.68h-2.45zM442.30 39.42h2.45v2.68h-2.45zM384.30 41.65h2.45v2.68h-2.45zM440.30 46.11h2.45v2.68h-2.45zM438.30 50.57h2.45v2.68h-2.45zM382.30 52.80h2.45v2.68h-2.45zM438.30 52.80h2.45v2.68h-2.45zM378.30 55.03h2.45v2.68h-2.45zM444.30 61.72h2.45v2.68h-2.45zM378.30 63.95h2.45v2.68h-2.45zM396.30 63.95h2.45v2.68h-2.45zM434.30 63.95h2.45v2.68h-2.45zM440.30 66.18h2.45v2.68h-2.45zM444.30 66.18h2.45v2.68h-2.45zM436.30 68.41h2.45v2.68h-2.45zM396.30 70.64h2.45v2.68h-2.45zM440.30 70.64h2.45v2.68h-2.45zM434.30 77.33h2.45v2.68h-2.45zM376.30 79.56h2.45v2.68h-2.45zM444.30 79.56h2.45v2.68h-2.45zM434.30 84.02h2.45v2.68h-2.45zM394.30 86.25h2.45v2.68h-2.45zM398.30 86.25h2.45v2.68h-2.45zM438.30 86.25h2.45v2.68h-2.45zM442.30 88.48h2.45v2.68h-2.45z"/>
<path fill="#00ff28" d="M456.30 10.43h2.45v2.68h-2.45zM464.30 10.43h2.45v2.68h-2.45zM456.30 12.66h2.45v2.68h-2.45zM388.30 17.12h2.45v2.68h-2.45zM456.30 19.35h2.45v2.68h-2.45zM474.30 21.58h2.45v2.68h-2.45zM374.30 23.81h2.45v2.68h-2.45zM458.30 26.04h2.45v2.68h-2.45zM456.30 28.27h2.45v2.68h-2.45zM462.30 28.27h2.45v2.68h-2.45zM470.30 30.50h2.45v2.68h-2.45zM464.30 32.73h2.45v2.68h-2.45zM462.30 34.96h2.45v2.68h-2.45zM458.30 37.19h2.45v2.68h-2.45zM456.30 39.42h2.45v2.68h-2.45zM468.30 41.65h2.45v2.68h-2.45zM456.30 46.11h2.45v2.68h-2.45zM454.30 50.57h2.45v2.68h-2.45zM454.30 61.72h2.45v2.68h-2.45zM450.30 63.95h2.45v2.68h-2.45zM472.30 68.41h2.45v2.68h-2.45zM372.30 70.64h2.45v2.68h-2.45zM452.30 72.87h2.45v2.68h-2.45zM472.30 88.48h2.45v2.68h-2.45zM452.30 95.17h2.45v2.68h-2.45zM474.30 95.17h2.45v2.68h-2.45z"/>
<path fill="#00ff58" d="M458.30 10.43h2.45v2.68h-2.45zM462.30 12.66h2.45v2.68h-2.45zM468.30 14.89h2.45v2.68h-2.45zM474.30 17.12h2.45v2.68h-2.45zM456.30 21.58h2.45v2.68h-2.45zM374.30 26.04h2.45v2.68h-2.45zM460.30 26.04h2.45v2.68h-2.45zM470.30 26.04h2.45v2.68h-2.45zM458.30 28.27h2.45v2.68h-2.45zM460.30 30.50h2.45v2.68h-2.45zM452.30 32.73h2.45v2.68h-2.45zM460.30 37.19h2.45v2.68h-2.45zM372.30 41.65h2.45v2.68h-2.45zM466.30 41.65h2.45v2.68h-2.45zM470.30 46.11h2.45v2.68h-2.45zM472.30 50.57h2.45v2.68h-2.45zM452.30 55.03h2.45v2.68h-2.45zM468.30 61.72h2.45v2.68h-2.45zM474.30 63.95h2.45v2.68h-2.45zM470.30 72.87h2.45v2.68h-2.45zM474.30 75.10h2.45v2.68h-2.45zM372.30 77.33h2.45v2.68h-2.45zM470.30 84.02h2.45v2.68h-2.45z"/>
<path fill="#18ff00" d="M466.30 10.43h2.45v2.68h-2.45zM472.30 14.89h2.45v2.68h-2.45zM474.30 14.89h2.45v2.68h-2.45zM468.30 19.35h2.45v2.68h-2.45zM456.30 26.04h2.45v2.68h-2.45zM452.30 30.50h2.45v2.68h-2.45zM472.30 30.50h2.45v2.68h-2.45zM474.30 32.73h2.45v2.68h-2.45zM454.30 34.96h2.45v2.68h-2.45zM474.30 34.96h2.45v2.68h-2.45zM456.30 37.19h2.45v2.68h-2.45zM470.30 39.42h2.45v2.68h-2.45zM452.30 41.65h2.45v2.68h-2.45zM472.30 41.65h2.45v2.68h-2.45zM472.30 46.11h2.45v2.68h-2.45zM452.30 52.80h2.45v2.68h-2.45zM470.30 61.72h2.45v2.68h-2.45zM444.30 63.95h2.45v2.68h-2.45zM372.30 81.79h2.45v2.68h-2.45zM452.30 92.94h2.45v2.68h-2.45z"/>
<path fill="#00e8ff" d="M372.30 12.66h2.45v2.68h-2.45zM462.30 21.58h2.45v2.68h-2.45zM458.30 32.73h2.45v2.68h-2.45zM372.30 34.96h2.45v2.68h-2.45zM460.30 39.42h2.45v2.68h-2.45zM456.30 52.80h2.45v2.68h-2.45zM466.30 57.26h2.45v2.68h-2.45zM456.30 63.95h2.45v2.68h-2.45zM456.30 70.64h2.45v2.68h-2.45zM458.30 72.87h2.45v2.68h-2.45zM468.30 72.87h2.45v2.68h-2.45zM454.30 77.33h2.45v2.68h-2.45zM456.30 79.56h2.45v2.68h-2.45zM462.30 88.48h2.45v2.68h-2.45z"/>
<path fill="#fff800" d="M392.30 12.66h2.45v2.68h-2.45zM442.30 26.04h2.45v2.68h-2.45zM382.30 28.27h2.45v2.68h-2.45zM438.30 28.27h2.45v2.68h-2.45zM440.30 28.27h2.45v2.68h-2.45zM396.30 30.50h2.45v2.68h-2.45zM380.30 32.73h2.45v2.68h-2.45zM388.30 32.73h2.45v2.68h-2.45zM390.30 32.73h2.45v2.68h-2.45zM386.30 41.65h2.45v2.68h-2.45zM444.30 41.65h2.45v2.68h-2.45zM382.30 43.88h2.45v2.68h-2.45zM390.30 43.88h2.45v2.68h-2.45zM378.30 46.11h2.45v2.68h-2.45zM392.30 55.03h2.45v2.68h-2.45zM440.30 55.03h2.45v2.68h-2.45zM438.30 59.49h2.45v2.68h-2.45zM444.30 59.49h2.45v2.68h-2.45zM446.30 61.72h2.45v2.68h-2.45zM396.30 66.18h2.45v2.68h-2.45zM442.30 70.64h2.45v2.68h-2.45zM442.30 77.33h2.45v2.68h-2.45zM446.30 81.79h2.45v2.68h-2.45zM442.30 86.25h2.45v2.68h-2.45zM440.30 88.48h2.45v2.68h-2.45zM438.30 90.71h2.45v2.68h-2.45z"/>
<path fill="#ff2800" d="M398.30 12.66h2.45v2.68h-2.45zM402.30 12.66h2.45v2.68h-2.45zM406.30 12.66h2.45v2.68h-2.45zM434.30 14.89h2.45v2.68h-2.45zM430.30 17.12h2.45v2.68h-2.45zM398.30 26.04h2.45v2.68h-2.45zM400.30 39.42h2.45v2.68h-2.45zM434.30 39.42h2.45v2.68h-2.45zM402.30 41.65h2.45v2.68h-2.45zM400.30 52.80h2.45v2.68h-2.45zM430.30 55.03h2.45v2.68h-2.45zM384.30 57.26h2.45v2.68h-2.45zM384.30 59.49h2.45v2.68h-2.45zM400.30 59.49h2.45v2.68h-2.45zM436.30 61.72h2.45v2.68h-2.45zM430.30 63.95h2.45v2.68h-2.45zM382.30 66.18h2.45v2.68h-2.45zM384.30 66.18h2.45v2.68h-2.45zM382.30 68.41h2.45v2.68h-2.45zM388.30 68.41h2.45v2.68h-2.45zM406.30 68.41h2.45v2.68h-2.45zM386.30 70.64h2.45v2.68h-2.45zM388.30 70.64h2.45v2.68h-2.45zM402.30 72.87h2.45v2.68h-2.45zM402.30 75.10h2.45v2.68h-2.45zM390.30 77.33h2.45v2.68h-2.45zM384.30 79.56h2.45v2.68h-2.45zM432.30 81.79h2.45v2.68h-2.45zM432.30 86.25h2.45v2.68h-2.45zM376.30 88.48h2.45v2.68h-2.45zM430.30 95.17h2.45v2.68h-2.45z"/>
<path fill="#ff5800" d="M404.30 12.66h2.45v2.68h-2.45zM438.30 12.66h2.45v2.68h-2.45zM406.30 14.89h2.45v2.68h-2.45zM404.30 17.12h2.45v2.68h-2.45zM432.30 21.58h2.45v2.68h-2.45zM402.30 26.04h2.45v2.68h-2.45zM402.30 30.50h2.45v2.68h-2.45zM432.30 32.73h2.45v2.68h-2.45zM406.30 34.96h2.45v2.68h-2.45zM402.30 37.19h2.45v2.68h-2.45zM436.30 37.19h2.45v2.68h-2.45zM396.30 39.42h2.45v2.68h-2.45zM402.30 39.42h2.45v2.68h-2.45zM438.30 41.65h2.45v2.68h-2.45zM400.30 43.88h2.45v2.68h-2.45zM382.30 46.11h2.45v2.68h-2.45zM432.30 46.11h2.45v2.68h-2.45zM378.30 57.26h2.45v2.68h-2.45zM378.30 68.41h2.45v2.68h-2.45zM378.30 70.64h2.45v2.68h-2.45zM402.30 70.64h2.45v2.68h-2.45zM394.30 72.87h2.45v2.68h-2.45zM400.30 75.10h2.45v2.68h-2.45zM382.30 77.33h2.45v2.68h-2.45zM432.30 77.33h2.45v2.68h-2.45zM382.30 79.56h2.45v2.68h-2.45zM396.30 79.56h2.45v2.68h-2.45zM432.30 79.56h2.45v2.68h-2.45zM434.30 81.79h2.45v2.68h-2.45zM392.30 84.02h2.45v2.68h-2.45zM382.30 86.25h2.45v2.68h-2.45zM400.30 86.25h2.45v2.68h-2.45zM434.30 90.71h2.45v2.68h-2.45z"/>
<path fill="#ff0800" d="M436.30 12.66h2.45v2.68h-2.45zM432.30 14.89h2.45v2.68h-2.45zM406.30 17.12h2.45v2.68h-2.45zM400.30 19.35h2.45v2.68h-2.45zM406.30 19.35h2.45v2.68h-2.45zM408.30 21.58h2.45v2.68h-2.45zM430.30 23.81h2.45v2.68h-2.45zM408.30 26.04h2.45v2.68h-2.45zM424.30 30.50h2.45v2.68h-2.45zM426.30 30.50h2.45v2.68h-2.45zM408.30 34.96h2.45v2.68h-2.45zM432.30 39.42h2.45v2.68h-2.45zM432.30 41.65h2.45v2.68h-2.45zM434.30 41.65h2.45v2.68h-2.45zM436.30 41.65h2.45v2.68h-2.45zM410.30 43.88h2.45v2.68h-2.45zM430.30 43.88h2.45v2.68h-2.45zM410.30 46.11h2.45v2.68h-2.45zM382.30 50.57h2.45v2.68h-2.45zM402.30 52.80h2.45v2.68h-2.45zM404.30 55.03h2.45v2.68h-2.45zM406.30 55.03h2.45v2.68h-2.45zM396.30 57.26h2.45v2.68h-2.45zM402.30 59.49h2.45v2.68h-2.45zM432.30 59.49h2.45v2.68h-2.45zM432.30 61.72h2.45v2.68h-2.45zM384.30 68.41h2.45v2.68h-2.45zM386.30 68.41h2.45v2.68h-2.45zM412.30 68.41h2.45v2.68h-2.45zM384.30 70.64h2.45v2.68h-2.45zM406.30 70.64h2.45v2.68h-2.45zM432.30 70.64h2.45v2.68h-2.45zM380.30 72.87h2.45v2.68h-2.45zM392.30 72.87h2.45v2.68h-2.45zM406.30 77.33h2.45v2.68h-2.45zM408.30 77.33h2.45v2.68h-2.45zM386.30 79.56h2.45v2.68h-2.45zM400.30 79.56h2.45v2.68h-2.45zM410.30 79.56h2.45v2.68h-2.45zM412.30 79.56h2.45v2.68h-2.45zM392.30 81.79h2.45v2.68h-2.45zM394.30 81.79h2.45v2.68h-2.45zM396.30 81.79h2.45v2.68h-2.45zM402.30 81.79h2.45v2.68h-2.45zM432.30 88.48h2.45v2.68h-2.45z"/>
<path fill="#00ff38" d="M464.30 12.66h2.45v2.68h-2.45zM454.30 23.81h2.45v2.68h-2.45zM458.30 30.50h2.45v2.68h-2.45zM456.30 34.96h2.45v2.68h-2.45zM454.30 41.65h2.45v2.68h-2.45zM454.30 43.88h2.45v2.68h-2.45zM454.30 48.34h2.45v2.68h-2.45zM454.30 59.49h2.45v2.68h-2.45zM470.30 59.49h2.45v2.68h-2.45zM372.30 63.95h2.45v2.68h-2.45zM372.30 66.18h2.45v2.68h-2.45zM474.30 66.18h2.45v2.68h-2.45zM372.30 68.41h2.45v2.68h-2.45zM372.30 79.56h2.45v2.68h-2.45zM454.30 79.56h2.45v2.68h-2.45zM450.30 84.02h2.45v2.68h-2.45zM372.30 86.25h2.45v2.68h-2.45z"/>
<path fill="#0098ff" d="M372.30 14.89h2.45v2.68h-2.45zM372.30 17.12h2.45v2.68h-2.45zM460.30 17.12h2.45v2.68h-2.45zM464.30 17.12h2.45v2.68h-2.45zM372.30 26.04h2.45v2.68h-2.45zM460.30 61.72h2.45v2.68h-2.45zM458.30 63.95h2.45v2.68h-2.45zM458.30 66.18h2.45v2.68h-2.45zM460.30 66.18h2.45v2.68h-2.45zM468.30 68.41h2.45v2.68h-2.45zM458.30 81.79h2.45v2.68h-2.45z"/>
<path fill="#00ff78" d="M458.30 14.89h2.45v2.68h-2.45zM466.30 23.81h2.45v2.68h-2.45zM468.30 23.81h2.45v2.68h-2.45zM470.30 23.81h2.45v2.68h-2.45zM472.30 23.81h2.45v2.68h-2.45zM462.30 32.73h2.45v2.68h-2.45zM372.30 46.11h2.45v2.68h-2.45zM470.30 48.34h2.45v2.68h-2.45zM474.30 55.03h2.45v2.68h-2.45zM372.30 57.26h2.45v2.68h-2.45zM470.30 57.26h2.45v2.68h-2.45zM452.30 63.95h2.45v2.68h-2.45zM472.30 70.64h2.45v2.68h-2.45zM474.30 86.25h2.45v2.68h-2.45zM474.30 92.94h2.45v2.68h-2.45zM472.30 95.17h2.45v2.68h-2.45z"/>
<path fill="#00ffb8" d="M460.30 14.89h2.45v2.68h-2.45zM462.30 14.89h2.45v2.68h-2.45zM452.30 17.12h2.45v2.68h-2.45zM470.30 17.12h2.45v2.68h-2.45zM372.30 39.42h2.45v2.68h-2.45zM464.30 41.65h2.45v2.68h-2.45zM460.30 46.11h2.45v2.68h-2.45zM468.30 46.11h2.45v2.68h-2.45zM456.30 50.57h2.45v2.68h-2.45zM462.30 50.57h2.45v2.68h-2.45zM464.30 52.80h2.45v2.68h-2.45zM468.30 52.80h2.45v2.68h-2.45zM456.30 57.26h2.45v2.68h-2.45zM472.30 63.95h2.45v2.68h-2.45zM456.30 81.79h2.45v2.68h-2.45zM470.30 81.79h2.45v2.68h-2.45zM452.30 84.02h2.45v2.68h-2.45zM468.30 84.02h2.45v2.68h-2.45zM452.30 86.25h2.45v2.68h-2.45zM470.30 95.17h2.45v2.68h-2.45z"/>
<path fill="#00ff98" d="M466.30 14.89h2.45v2.68h-2.45zM462.30 19.35h2.45v2.68h-2.45zM468.30 26.04h2.45v2.68h-2.45zM466.30 30.50h2.45v2.68h-2.45zM456.30 43.88h2.45v2.68h-2.45zM458.30 46.11h2.45v2.68h-2.45zM454.30 52.80h2.45v2.68h-2.45zM468.30 55.03h2.45v2.68h-2.45zM472.30 55.03h2.45v2.68h-2.45zM468.30 66.18h2.45v2.68h-2.45zM470.30 66.18h2.45v2.68h-2.45zM452.30 68.41h2.45v2.68h-2.45zM454.30 68.41h2.45v2.68h-2.45zM474.30 90.71h2.45v2.68h-2.45z"/>
<path fill="#ff0000" d="M418.30 17.12h2.45v2.68h-2.45zM420.30 17.12h2.45v2.68h-2.45zM430.30 21.58h2.45v2.68h-2.45zM434.30 37.19h2.45v2.68h-2.45zM404.30 41.65h2.45v2.68h-2.45zM400.30 57.26h2.45v2.68h-2.45zM386.30 61.72h2.45v2.68h-2.45zM434.30 61.72h2.45v2.68h-2.45zM386.30 66.18h2.45v2.68h-2.45zM404.30 70.64h2.45v2.68h-2.45zM410.30 70.64h2.45v2.68h-2.45zM378.30 84.02h2.45v2.68h-2.45zM390.30 84.02h2.45v2.68h-2.45zM430.30 84.02h2.45v2.68h-2.45zM400.30 88.48h2.45v2.68h-2.45z"/>
<path fill="#00ffe8" d="M454.30 17.12h2.45v2.68h-2.45zM460.30 21.58h2.45v2.68h-2.45zM468.30 21.58h2.45v2.68h-2.45zM372.30 28.27h2.45v2.68h-2.45zM464.30 46.11h2.45v2.68h-2.45zM466.30 46.11h2.45v2.68h-2.45zM462.30 52.80h2.45v2.68h-2.45zM372.30 55.03h2.45v2.68h-2.45zM466.30 61.72h2.45v2.68h-2.45zM456.30 66.18h2.45v2.68h-2.45zM456.30 95.17h2.45v2.68h-2.45z"/>
<path fill="#00b8ff" d="M456.30 17.12h2.45v2.68h-2.45zM460.30 41.65h2.45v2.68h-2.45zM460.30 43.88h2.45v2.68h-2.45zM462.30 43.88h2.45v2.68h-2.45zM466.30 48.34h2.45v2.68h-2.45zM456.30 55.03h2.45v2.68h-2.45zM460.30 57.26h2.45v2.68h-2.45zM464.30 57.26h2.45v2.68h-2.45zM468.30 70.64h2.45v2.68h-2.45zM458.30 75.10h2.45v2.68h-2.45zM468.30 77.33h2.45v2.68h-2.45zM472.30 77.33h2.45v2.68h-2.45zM470.30 90.71h2.45v2.68h-2.45zM456.30 92.94h2.45v2.68h-2.45z"/>
<path fill="#0088ff" d="M458.30 17.12h2.45v2.68h-2.45zM458.30 59.49h2.45v2.68h-2.45zM466.30 59.49h2.45v2.68h-2.45zM464.30 63.95h2.45v2.68h-2.45zM466.30 79.56h2.45v2.68h-2.45zM466.30 88.48h2.45v2.68h-2.45zM460.30 90.71h2.45v2.68h-2.45zM462.30 95.17h2.45v2.68h-2.45z"/>
<path fill="#00c8ff" d="M466.30 17.12h2.45v2.68h-2.45zM464.30 21.58h2.45v2.68h-2.45zM372.30 32.73h2.45v2.68h-2.45zM458.30 41.65h2.45v2.68h-2.45zM464.30 61.72h2.45v2.68h-2.45zM468.30 63.95h2.45v2.68h-2.45zM462.30 66.18h2.45v2.68h-2.45zM460.30 75.10h2.45v2.68h-2.45zM462.30 75.10h2.45v2.68h-2.45zM470.30 77.33h2.45v2.68h-2.45zM454.30 84.02h2.45v2.68h-2.45zM454.30 86.25h2.45v2.68h-2.45zM458.30 88.48h2.45v2.68h-2.45zM460.30 88.48h2.45v2.68h-2.45zM464.30 88.48h2.45v2.68h-2.45zM458.30 90.71h2.45v2.68h-2.45z"/>
<path fill="#00fff8" d="M468.30 17.12h2.45v2.68h-2.45zM466.30 21.58h2.45v2.68h-2.45zM456.30 32.73h2.45v2.68h-2.45zM462.30 39.42h2.45v2.68h-2.45zM456.30 48.34h2.45v2.68h-2.45zM458.30 50.57h2.45v2.68h-2.45zM466.30 55.03h2.45v2.68h-2.45zM470.30 75.10h2.45v2.68h-2.45zM474.30 77.33h2.45v2.68h-2.45zM468.30 79.56h2.45v2.68h-2.45zM468.30 81.79h2.45v2.68h-2.45zM472.30 92.94h2.45v2.68h-2.45z"/>
<path fill="#00ff88" d="M472.30 17.12h2.45v2.68h-2.45zM458.30 19.35h2.45v2.68h-2.45zM464.30 19.35h2.45v2.68h-2.45zM472.30 21.58h2.45v2.68h-2.45zM456.30 23.81h2.45v2.68h-2.45zM474.30 23.81h2.45v2.68h-2.45zM462.30 26.04h2.45v2.68h-2.45zM470.30 50.57h2.45v2.68h-2.45zM470.30 52.80h2.45v2.68h-2.45zM470.30 55.03h2.45v2.68h-2.45zM472.30 66.18h2.45v2.68h-2.45zM450.30 68.41h2.45v2.68h-2.45zM456.30 90.71h2.45v2.68h-2.45zM454.30 92.94h2.45v2.68h-2.45zM454.30 95.17h2.45v2.68h-2.45z"/>
<path fill="#0058ff" d="M372.30 21.58h2.45v2.68h-2.45zM460.30 48.34h2.45v2.68h-2.45zM462.30 48.34h2.45v2.68h-2.45zM458.30 70.64h2.45v2.68h-2.45zM460.30 70.64h2.45v2.68h-2.45zM456.30 77.33h2.45v2.68h-2.45zM464.30 95.17h2.45v2.68h-2.45z"/>
<path fill="#0048ff" d="M372.30 23.81h2.45v2.68h-2.45zM462.30 68.41h2.45v2.68h-2.45zM466.30 77.33h2.45v2.68h-2.45zM462.30 79.56h2.45v2.68h-2.45zM460.30 81.79h2.45v2.68h-2.45zM462.30 90.71h2.45v2.68h-2.45zM466.30 95.17h2.45v2.68h-2.45z"/>
<path fill="#00f8ff" d="M462.30 41.65h2.45v2.68h-2.45zM458.30 43.88h2.45v2.68h-2.45zM464.30 43.88h2.45v2.68h-2.45zM470.30 63.95h2.45v2.68h-2.45zM468.30 86.25h2.45v2.68h-2.45zM472.30 90.71h2.45v2.68h-2.45z"/>
<path fill="#0068ff" d="M458.30 48.34h2.45v2.68h-2.45zM464.30 48.34h2.45v2.68h-2.45zM458.30 55.03h2.45v2.68h-2.45zM462.30 59.49h2.45v2.68h-2.45zM464.30 59.49h2.45v2.68h-2.45zM462.30 72.87h2.45v2.68h-2.45zM466.30 75.10h2.45v2.68h-2.45zM456.30 84.02h2.45v2.68h-2.45zM460.30 84.02h2.45v2.68h-2.45zM456.30 86.25h2.45v2.68h-2.45zM460.30 86.25h2.45v2.68h-2.45zM468.30 90.71h2.45v2.68h-2.45z"/>
<path fill="#0078ff" d="M460.30 55.03h2.45v2.68h-2.45zM460.30 59.49h2.45v2.68h-2.45zM466.30 63.95h2.45v2.68h-2.45zM464.30 79.56h2.45v2.68h-2.45zM464.30 81.79h2.45v2.68h-2.45zM462.30 86.25h2.45v2.68h-2.45zM464.30 86.25h2.45v2.68h-2.45zM466.30 86.25h2.45v2.68h-2.45z"/>
<path fill="#0008ff" d="M464.30 68.41h2.45v2.68h-2.45zM462.30 70.64h2.45v2.68h-2.45z"/>
<path fill="#0800ff" d="M466.30 68.41h2.45v2.68h-2.45zM466.30 70.64h2.45v2.68h-2.45zM462.30 77.33h2.45v2.68h-2.45zM466.30 90.71h2.45v2.68h-2.45zM458.30 92.94h2.45v2.68h-2.45zM460.30 92.94h2.45v2.68h-2.45z"/>
<path fill="#1800ff" d="M464.30 70.64h2.45v2.68h-2.45zM458.30 77.33h2.45v2.68h-2.45zM460.30 77.33h2.45v2.68h-2.45zM462.30 92.94h2.45v2.68h-2.45z"/>
<path fill="#0028ff" d="M464.30 72.87h2.45v2.68h-2.45zM466.30 72.87h2.45v2.68h-2.45zM464.30 77.33h2.45v2.68h-2.45zM458.30 84.02h2.45v2.68h-2.45zM468.30 92.94h2.45v2.68h-2.45z"/>
<path fill="#0018ff" d="M458.30 79.56h2.45v2.68h-2.45zM460.30 79.56h2.45v2.68h-2.45zM464.30 90.71h2.45v2.68h-2.45z"/>
<path fill="#0038ff" d="M462.30 81.79h2.45v2.68h-2.45zM458.30 86.25h2.45v2.68h-2.45z"/>
<path fill="#2800ff" d="M464.30 92.94h2.45v2.68h-2.45zM466.30 92.94h2.45v2.68h-2.45z"/></g></g>
<line x1="195.2" y1="7.8" x2="195.2" y2="98.2" stroke="#222" stroke-width="0.7" stroke-dasharray="1 1.2" opacity="0.85"/>
<line x1="229.2" y1="7.8" x2="229.2" y2="98.2" stroke="#222" stroke-width="0.7" stroke-dasharray="1 1.2" opacity="0.85"/>
<text x="189.00" y="6.30" font-size="7.00" fill="#333" font-weight="normal" text-anchor="start" textLength="13.4" lengthAdjust="spacingAndGlyphs" stroke="#333" stroke-width="0.22">9665</text>
<text x="223.00" y="6.30" font-size="7.00" fill="#333" font-weight="normal" text-anchor="start" textLength="12.8" lengthAdjust="spacingAndGlyphs" stroke="#333" stroke-width="0.22">9673</text>
<text x="181.20" y="15.10" font-size="6.00" fill="#333" font-weight="normal" text-anchor="end" stroke="#333" stroke-width="0.22">160</text>
<line x1="182.2" y1="13.0" x2="183.7" y2="13.0" stroke="#555" stroke-width="0.5"/>
<text x="181.20" y="36.30" font-size="6.00" fill="#333" font-weight="normal" text-anchor="end" stroke="#333" stroke-width="0.22">120</text>
<line x1="182.2" y1="34.2" x2="183.7" y2="34.2" stroke="#555" stroke-width="0.5"/>
<text x="181.20" y="57.50" font-size="6.00" fill="#333" font-weight="normal" text-anchor="end" stroke="#333" stroke-width="0.22">80</text>
<line x1="182.2" y1="55.4" x2="183.7" y2="55.4" stroke="#555" stroke-width="0.5"/>
<text x="181.20" y="78.70" font-size="6.00" fill="#333" font-weight="normal" text-anchor="end" stroke="#333" stroke-width="0.22">40</text>
<line x1="182.2" y1="76.6" x2="183.7" y2="76.6" stroke="#555" stroke-width="0.5"/>
<text x="181.20" y="99.70" font-size="6.00" fill="#333" font-weight="normal" text-anchor="end" stroke="#333" stroke-width="0.22">0</text>
<line x1="182.2" y1="97.6" x2="183.7" y2="97.6" stroke="#555" stroke-width="0.5"/>
<line x1="183.7" y1="98.4" x2="287.5" y2="98.4" stroke="#666" stroke-width="0.5"/>
<line x1="189.8" y1="98.2" x2="189.8" y2="99.4" stroke="#666" stroke-width="0.5"/>
<line x1="198.4" y1="98.2" x2="198.4" y2="99.4" stroke="#666" stroke-width="0.5"/>
<line x1="206.9" y1="98.2" x2="206.9" y2="99.4" stroke="#666" stroke-width="0.5"/>
<line x1="215.5" y1="98.2" x2="215.5" y2="99.4" stroke="#666" stroke-width="0.5"/>
<line x1="224.0" y1="98.2" x2="224.0" y2="99.4" stroke="#666" stroke-width="0.5"/>
<line x1="232.6" y1="98.2" x2="232.6" y2="99.4" stroke="#666" stroke-width="0.5"/>
<line x1="241.1" y1="98.2" x2="241.1" y2="99.4" stroke="#666" stroke-width="0.5"/>
<line x1="249.7" y1="98.2" x2="249.7" y2="99.4" stroke="#666" stroke-width="0.5"/>
<line x1="258.2" y1="98.2" x2="258.2" y2="99.4" stroke="#666" stroke-width="0.5"/>
<line x1="266.8" y1="98.2" x2="266.8" y2="99.4" stroke="#666" stroke-width="0.5"/>
<line x1="275.3" y1="98.2" x2="275.3" y2="99.4" stroke="#666" stroke-width="0.5"/>
<line x1="283.9" y1="98.2" x2="283.9" y2="99.4" stroke="#666" stroke-width="0.5"/>
<line x1="189.8" y1="98.2" x2="189.8" y2="100.2" stroke="#555" stroke-width="0.5"/>
<text x="187.10" y="104.20" font-size="6.60" fill="#222" font-weight="normal" text-anchor="start" textLength="12.8" lengthAdjust="spacingAndGlyphs" transform="rotate(48 187.1 104.2)" stroke="#222" stroke-width="0.22">9664</text>
<line x1="206.9" y1="98.2" x2="206.9" y2="100.2" stroke="#555" stroke-width="0.5"/>
<text x="204.20" y="104.20" font-size="6.60" fill="#222" font-weight="normal" text-anchor="start" textLength="12.8" lengthAdjust="spacingAndGlyphs" transform="rotate(48 204.2 104.2)" stroke="#222" stroke-width="0.22">9668</text>
<line x1="224.0" y1="98.2" x2="224.0" y2="100.2" stroke="#555" stroke-width="0.5"/>
<text x="221.30" y="104.20" font-size="6.60" fill="#222" font-weight="normal" text-anchor="start" textLength="12.8" lengthAdjust="spacingAndGlyphs" transform="rotate(48 221.3 104.2)" stroke="#222" stroke-width="0.22">9672</text>
<line x1="241.1" y1="98.2" x2="241.1" y2="100.2" stroke="#555" stroke-width="0.5"/>
<text x="238.40" y="104.20" font-size="6.60" fill="#222" font-weight="normal" text-anchor="start" textLength="12.8" lengthAdjust="spacingAndGlyphs" transform="rotate(48 238.4 104.2)" stroke="#222" stroke-width="0.22">9676</text>
<line x1="258.2" y1="98.2" x2="258.2" y2="100.2" stroke="#555" stroke-width="0.5"/>
<text x="255.50" y="104.20" font-size="6.60" fill="#222" font-weight="normal" text-anchor="start" textLength="12.8" lengthAdjust="spacingAndGlyphs" transform="rotate(48 255.5 104.2)" stroke="#222" stroke-width="0.22">9680</text>
<line x1="275.3" y1="98.2" x2="275.3" y2="100.2" stroke="#555" stroke-width="0.5"/>
<text x="272.60" y="104.20" font-size="6.60" fill="#222" font-weight="normal" text-anchor="start" textLength="12.8" lengthAdjust="spacingAndGlyphs" transform="rotate(48 272.6 104.2)" stroke="#222" stroke-width="0.22">9684</text>
<text x="169.20" y="51.80" font-size="8.40" fill="#222" font-weight="bold" text-anchor="middle" textLength="25.0" lengthAdjust="spacingAndGlyphs" transform="rotate(-90 169.2 51.8)" stroke="#222" stroke-width="0.3">Time /s</text>
<line x1="182.7" y1="23.6" x2="183.7" y2="23.6" stroke="#666" stroke-width="0.5"/>
<line x1="182.7" y1="44.8" x2="183.7" y2="44.8" stroke="#666" stroke-width="0.5"/>
<line x1="182.7" y1="66.0" x2="183.7" y2="66.0" stroke="#666" stroke-width="0.5"/>
<line x1="182.7" y1="87.2" x2="183.7" y2="87.2" stroke="#666" stroke-width="0.5"/>
<text x="235.60" y="123.00" font-size="8.00" fill="#222" font-weight="bold" text-anchor="middle" textLength="38.0" lengthAdjust="spacingAndGlyphs" stroke="#222" stroke-width="0.3">Energy /eV</text>
<text x="153.60" y="18.00" font-size="14.50" fill="#111" font-weight="bold" text-anchor="start" textLength="12.0" lengthAdjust="spacingAndGlyphs" stroke="#111" stroke-width="0.3">b)</text>
<rect x="297.0" y="13.6" width="10" height="81.2" fill="url(#cbar)"/>
<line x1="307.0" y1="13.8" x2="309.0" y2="13.8" stroke="#555" stroke-width="0.5"/>
<text x="309.60" y="16.00" font-size="6.00" fill="#333" font-weight="normal" text-anchor="start" textLength="14.5" lengthAdjust="spacingAndGlyphs" stroke="#333" stroke-width="0.22">1.156</text>
<line x1="307.0" y1="30.0" x2="309.0" y2="30.0" stroke="#555" stroke-width="0.5"/>
<text x="309.60" y="32.20" font-size="6.00" fill="#333" font-weight="normal" text-anchor="start" textLength="14.5" lengthAdjust="spacingAndGlyphs" stroke="#333" stroke-width="0.22">1.088</text>
<line x1="307.0" y1="46.0" x2="309.0" y2="46.0" stroke="#555" stroke-width="0.5"/>
<text x="309.60" y="48.20" font-size="6.00" fill="#333" font-weight="normal" text-anchor="start" textLength="14.5" lengthAdjust="spacingAndGlyphs" stroke="#333" stroke-width="0.22">1.020</text>
<line x1="307.0" y1="62.0" x2="309.0" y2="62.0" stroke="#555" stroke-width="0.5"/>
<text x="309.60" y="64.20" font-size="6.00" fill="#333" font-weight="normal" text-anchor="start" textLength="14.5" lengthAdjust="spacingAndGlyphs" stroke="#333" stroke-width="0.22">0.953</text>
<line x1="307.0" y1="77.8" x2="309.0" y2="77.8" stroke="#555" stroke-width="0.5"/>
<text x="309.60" y="80.00" font-size="6.00" fill="#333" font-weight="normal" text-anchor="start" textLength="14.5" lengthAdjust="spacingAndGlyphs" stroke="#333" stroke-width="0.22">0.885</text>
<line x1="307.0" y1="93.8" x2="309.0" y2="93.8" stroke="#555" stroke-width="0.5"/>
<text x="309.60" y="96.00" font-size="6.00" fill="#333" font-weight="normal" text-anchor="start" textLength="14.5" lengthAdjust="spacingAndGlyphs" stroke="#333" stroke-width="0.22">0.817</text>
<line x1="307.0" y1="22.0" x2="308.2" y2="22.0" stroke="#777" stroke-width="0.4"/>
<line x1="307.0" y1="38.0" x2="308.2" y2="38.0" stroke="#777" stroke-width="0.4"/>
<line x1="307.0" y1="54.0" x2="308.2" y2="54.0" stroke="#777" stroke-width="0.4"/>
<line x1="307.0" y1="70.0" x2="308.2" y2="70.0" stroke="#777" stroke-width="0.4"/>
<line x1="307.0" y1="86.0" x2="308.2" y2="86.0" stroke="#777" stroke-width="0.4"/>
<text x="290.30" y="9.00" font-size="6.60" fill="#222" font-weight="normal" text-anchor="start" textLength="40.0" lengthAdjust="spacingAndGlyphs" stroke="#222" stroke-width="0.22">Norm. &#956; /a.u.</text>
<line x1="383.9" y1="8.2" x2="383.9" y2="97.4" stroke="#222" stroke-width="0.7" stroke-dasharray="1 1.2" opacity="0.85"/>
<line x1="419.8" y1="8.2" x2="419.8" y2="97.4" stroke="#222" stroke-width="0.7" stroke-dasharray="1 1.2" opacity="0.85"/>
<text x="377.40" y="6.30" font-size="7.00" fill="#333" font-weight="normal" text-anchor="start" textLength="13.4" lengthAdjust="spacingAndGlyphs" stroke="#333" stroke-width="0.22">9665</text>
<text x="413.20" y="6.30" font-size="7.00" fill="#333" font-weight="normal" text-anchor="start" textLength="12.8" lengthAdjust="spacingAndGlyphs" stroke="#333" stroke-width="0.22">9673</text>
<text x="369.80" y="15.10" font-size="6.00" fill="#333" font-weight="normal" text-anchor="end" stroke="#333" stroke-width="0.22">160</text>
<line x1="370.8" y1="13.0" x2="372.3" y2="13.0" stroke="#555" stroke-width="0.5"/>
<text x="369.80" y="36.30" font-size="6.00" fill="#333" font-weight="normal" text-anchor="end" stroke="#333" stroke-width="0.22">120</text>
<line x1="370.8" y1="34.2" x2="372.3" y2="34.2" stroke="#555" stroke-width="0.5"/>
<text x="369.80" y="57.50" font-size="6.00" fill="#333" font-weight="normal" text-anchor="end" stroke="#333" stroke-width="0.22">80</text>
<line x1="370.8" y1="55.4" x2="372.3" y2="55.4" stroke="#555" stroke-width="0.5"/>
<text x="369.80" y="78.70" font-size="6.00" fill="#333" font-weight="normal" text-anchor="end" stroke="#333" stroke-width="0.22">40</text>
<line x1="370.8" y1="76.6" x2="372.3" y2="76.6" stroke="#555" stroke-width="0.5"/>
<text x="369.80" y="99.70" font-size="6.00" fill="#333" font-weight="normal" text-anchor="end" stroke="#333" stroke-width="0.22">0</text>
<line x1="370.8" y1="97.6" x2="372.3" y2="97.6" stroke="#555" stroke-width="0.5"/>
<line x1="372.3" y1="97.6" x2="476.3" y2="97.6" stroke="#666" stroke-width="0.5"/>
<line x1="379.0" y1="97.4" x2="379.0" y2="98.6" stroke="#666" stroke-width="0.5"/>
<line x1="387.8" y1="97.4" x2="387.8" y2="98.6" stroke="#666" stroke-width="0.5"/>
<line x1="396.6" y1="97.4" x2="396.6" y2="98.6" stroke="#666" stroke-width="0.5"/>
<line x1="405.4" y1="97.4" x2="405.4" y2="98.6" stroke="#666" stroke-width="0.5"/>
<line x1="414.2" y1="97.4" x2="414.2" y2="98.6" stroke="#666" stroke-width="0.5"/>
<line x1="423.0" y1="97.4" x2="423.0" y2="98.6" stroke="#666" stroke-width="0.5"/>
<line x1="431.8" y1="97.4" x2="431.8" y2="98.6" stroke="#666" stroke-width="0.5"/>
<line x1="440.6" y1="97.4" x2="440.6" y2="98.6" stroke="#666" stroke-width="0.5"/>
<line x1="449.4" y1="97.4" x2="449.4" y2="98.6" stroke="#666" stroke-width="0.5"/>
<line x1="458.2" y1="97.4" x2="458.2" y2="98.6" stroke="#666" stroke-width="0.5"/>
<line x1="467.0" y1="97.4" x2="467.0" y2="98.6" stroke="#666" stroke-width="0.5"/>
<line x1="475.8" y1="97.4" x2="475.8" y2="98.6" stroke="#666" stroke-width="0.5"/>
<line x1="379.0" y1="97.4" x2="379.0" y2="99.4" stroke="#555" stroke-width="0.5"/>
<text x="376.30" y="103.40" font-size="6.60" fill="#222" font-weight="normal" text-anchor="start" textLength="12.8" lengthAdjust="spacingAndGlyphs" transform="rotate(48 376.3 103.4)" stroke="#222" stroke-width="0.22">9664</text>
<line x1="396.6" y1="97.4" x2="396.6" y2="99.4" stroke="#555" stroke-width="0.5"/>
<text x="393.90" y="103.40" font-size="6.60" fill="#222" font-weight="normal" text-anchor="start" textLength="12.8" lengthAdjust="spacingAndGlyphs" transform="rotate(48 393.9 103.4)" stroke="#222" stroke-width="0.22">9668</text>
<line x1="414.2" y1="97.4" x2="414.2" y2="99.4" stroke="#555" stroke-width="0.5"/>
<text x="411.50" y="103.40" font-size="6.60" fill="#222" font-weight="normal" text-anchor="start" textLength="12.8" lengthAdjust="spacingAndGlyphs" transform="rotate(48 411.5 103.4)" stroke="#222" stroke-width="0.22">9672</text>
<line x1="431.8" y1="97.4" x2="431.8" y2="99.4" stroke="#555" stroke-width="0.5"/>
<text x="429.10" y="103.40" font-size="6.60" fill="#222" font-weight="normal" text-anchor="start" textLength="12.8" lengthAdjust="spacingAndGlyphs" transform="rotate(48 429.1 103.4)" stroke="#222" stroke-width="0.22">9676</text>
<line x1="449.4" y1="97.4" x2="449.4" y2="99.4" stroke="#555" stroke-width="0.5"/>
<text x="446.70" y="103.40" font-size="6.60" fill="#222" font-weight="normal" text-anchor="start" textLength="12.8" lengthAdjust="spacingAndGlyphs" transform="rotate(48 446.7 103.4)" stroke="#222" stroke-width="0.22">9680</text>
<line x1="467.0" y1="97.4" x2="467.0" y2="99.4" stroke="#555" stroke-width="0.5"/>
<text x="464.30" y="103.40" font-size="6.60" fill="#222" font-weight="normal" text-anchor="start" textLength="12.8" lengthAdjust="spacingAndGlyphs" transform="rotate(48 464.3 103.4)" stroke="#222" stroke-width="0.22">9684</text>
<text x="358.60" y="51.80" font-size="8.40" fill="#222" font-weight="bold" text-anchor="middle" textLength="25.0" lengthAdjust="spacingAndGlyphs" transform="rotate(-90 358.6 51.8)" stroke="#222" stroke-width="0.3">Time /s</text>
<line x1="371.3" y1="23.6" x2="372.3" y2="23.6" stroke="#666" stroke-width="0.5"/>
<line x1="371.3" y1="44.8" x2="372.3" y2="44.8" stroke="#666" stroke-width="0.5"/>
<line x1="371.3" y1="66.0" x2="372.3" y2="66.0" stroke="#666" stroke-width="0.5"/>
<line x1="371.3" y1="87.2" x2="372.3" y2="87.2" stroke="#666" stroke-width="0.5"/>
<text x="424.30" y="123.00" font-size="8.00" fill="#222" font-weight="bold" text-anchor="middle" textLength="38.0" lengthAdjust="spacingAndGlyphs" stroke="#222" stroke-width="0.3">Energy /eV</text>
<text x="344.30" y="18.00" font-size="14.50" fill="#111" font-weight="bold" text-anchor="start" textLength="12.0" lengthAdjust="spacingAndGlyphs" stroke="#111" stroke-width="0.3">c)</text>
<rect x="486.3" y="13.6" width="10" height="81.2" fill="url(#cbar)"/>
<line x1="496.3" y1="13.8" x2="498.3" y2="13.8" stroke="#555" stroke-width="0.5"/>
<text x="498.90" y="16.00" font-size="6.00" fill="#333" font-weight="normal" text-anchor="start" textLength="14.5" lengthAdjust="spacingAndGlyphs" stroke="#333" stroke-width="0.22">1.156</text>
<line x1="496.3" y1="30.0" x2="498.3" y2="30.0" stroke="#555" stroke-width="0.5"/>
<text x="498.90" y="32.20" font-size="6.00" fill="#333" font-weight="normal" text-anchor="start" textLength="14.5" lengthAdjust="spacingAndGlyphs" stroke="#333" stroke-width="0.22">1.088</text>
<line x1="496.3" y1="46.0" x2="498.3" y2="46.0" stroke="#555" stroke-width="0.5"/>
<text x="498.90" y="48.20" font-size="6.00" fill="#333" font-weight="normal" text-anchor="start" textLength="14.5" lengthAdjust="spacingAndGlyphs" stroke="#333" stroke-width="0.22">1.020</text>
<line x1="496.3" y1="62.0" x2="498.3" y2="62.0" stroke="#555" stroke-width="0.5"/>
<text x="498.90" y="64.20" font-size="6.00" fill="#333" font-weight="normal" text-anchor="start" textLength="14.5" lengthAdjust="spacingAndGlyphs" stroke="#333" stroke-width="0.22">0.953</text>
<line x1="496.3" y1="77.8" x2="498.3" y2="77.8" stroke="#555" stroke-width="0.5"/>
<text x="498.90" y="80.00" font-size="6.00" fill="#333" font-weight="normal" text-anchor="start" textLength="14.5" lengthAdjust="spacingAndGlyphs" stroke="#333" stroke-width="0.22">0.885</text>
<line x1="496.3" y1="93.8" x2="498.3" y2="93.8" stroke="#555" stroke-width="0.5"/>
<text x="498.90" y="96.00" font-size="6.00" fill="#333" font-weight="normal" text-anchor="start" textLength="14.5" lengthAdjust="spacingAndGlyphs" stroke="#333" stroke-width="0.22">0.817</text>
<line x1="496.3" y1="22.0" x2="497.5" y2="22.0" stroke="#777" stroke-width="0.4"/>
<line x1="496.3" y1="38.0" x2="497.5" y2="38.0" stroke="#777" stroke-width="0.4"/>
<line x1="496.3" y1="54.0" x2="497.5" y2="54.0" stroke="#777" stroke-width="0.4"/>
<line x1="496.3" y1="70.0" x2="497.5" y2="70.0" stroke="#777" stroke-width="0.4"/>
<line x1="496.3" y1="86.0" x2="497.5" y2="86.0" stroke="#777" stroke-width="0.4"/>
<text x="480.40" y="9.00" font-size="6.60" fill="#222" font-weight="normal" text-anchor="start" textLength="40.0" lengthAdjust="spacingAndGlyphs" stroke="#222" stroke-width="0.22">Norm. &#956; /a.u.</text>
<defs>
<radialGradient id="gC" cx="0.35" cy="0.35" r="0.75"><stop offset="0" stop-color="#d8d8d8"/><stop offset="0.5" stop-color="#8a8a8a"/><stop offset="1" stop-color="#555"/></radialGradient>
<radialGradient id="gN" cx="0.35" cy="0.35" r="0.75"><stop offset="0" stop-color="#d0d0ff"/><stop offset="0.5" stop-color="#8080d8"/><stop offset="1" stop-color="#5050a0"/></radialGradient>
<radialGradient id="gH" cx="0.35" cy="0.35" r="0.75"><stop offset="0" stop-color="#ffffff"/><stop offset="0.6" stop-color="#e8e8e8"/><stop offset="1" stop-color="#a0a0a0"/></radialGradient>
<radialGradient id="gO" cx="0.35" cy="0.35" r="0.75"><stop offset="0" stop-color="#f07080"/><stop offset="0.5" stop-color="#c01838"/><stop offset="1" stop-color="#701020"/></radialGradient>
<radialGradient id="gZ" cx="0.4" cy="0.4" r="0.7"><stop offset="0" stop-color="#e0e0e0"/><stop offset="0.55" stop-color="#b8b8b8"/><stop offset="0.75" stop-color="#606060"/><stop offset="1" stop-color="#404040"/></radialGradient>
</defs>
<text x="0.40" y="17.60" font-size="14.00" fill="#111" font-weight="bold" text-anchor="start" textLength="11.4" lengthAdjust="spacingAndGlyphs" stroke="#111" stroke-width="0.3">a)</text>
<text x="2.30" y="77.40" font-size="9.20" fill="#111" font-weight="bold" text-anchor="start" textLength="76.5" lengthAdjust="spacingAndGlyphs" stroke="#111" stroke-width="0.3">2-Methylimidazole</text>
<text x="121.20" y="76.90" font-size="8.60" fill="#6a1e82" font-weight="bold" text-anchor="start" textLength="17.0" lengthAdjust="spacingAndGlyphs" stroke="#6a1e82" stroke-width="0.3">ZnO</text>
<text x="100.80" y="94.50" font-size="7.40" fill="#111" font-weight="bold" text-anchor="start" textLength="16.6" lengthAdjust="spacingAndGlyphs" stroke="#111" stroke-width="0.3">RAM</text>
<text x="72.50" y="220.00" font-size="9.40" fill="#2f9a3a" font-weight="bold" text-anchor="start" textLength="20.3" lengthAdjust="spacingAndGlyphs" stroke="#2f9a3a" stroke-width="0.3">ZIF-8</text>
<rect x="12" y="27" width="58.7" height="37" fill="none" stroke="#a0a0a0" stroke-width="0.6"/>
<line x1="36.50" y1="27.70" x2="37.70" y2="23.80" stroke="#8a8a8a" stroke-width="1.00"/>
<line x1="36.50" y1="27.70" x2="31.40" y2="27.90" stroke="#8a8a8a" stroke-width="1.00"/>
<line x1="36.50" y1="27.70" x2="41.70" y2="29.90" stroke="#8a8a8a" stroke-width="1.00"/>
<line x1="36.50" y1="27.70" x2="36.50" y2="34.40" stroke="#8a8a8a" stroke-width="1.00"/>
<line x1="36.50" y1="34.40" x2="29.80" y2="37.60" stroke="#8a8a8a" stroke-width="1.00"/>
<line x1="36.50" y1="34.40" x2="42.50" y2="39.00" stroke="#8a8a8a" stroke-width="1.00"/>
<line x1="29.80" y1="37.60" x2="32.70" y2="44.60" stroke="#8a8a8a" stroke-width="1.00"/>
<line x1="42.50" y1="39.00" x2="40.20" y2="45.00" stroke="#8a8a8a" stroke-width="1.00"/>
<line x1="32.70" y1="44.60" x2="40.20" y2="45.00" stroke="#8a8a8a" stroke-width="1.00"/>
<line x1="42.50" y1="39.00" x2="48.20" y2="39.30" stroke="#8a8a8a" stroke-width="1.00"/>
<line x1="32.70" y1="44.60" x2="29.20" y2="48.60" stroke="#8a8a8a" stroke-width="1.00"/>
<circle cx="37.70" cy="23.80" r="1.35" fill="url(#gH)"/>
<circle cx="31.40" cy="27.90" r="1.35" fill="url(#gH)"/>
<circle cx="41.70" cy="29.90" r="1.35" fill="url(#gH)"/>
<circle cx="48.20" cy="39.30" r="1.35" fill="url(#gH)"/>
<circle cx="29.20" cy="48.60" r="1.35" fill="url(#gH)"/>
<circle cx="36.50" cy="27.70" r="2.50" fill="url(#gC)"/>
<circle cx="36.50" cy="34.40" r="2.50" fill="url(#gC)"/>
<circle cx="29.80" cy="37.60" r="2.50" fill="url(#gN)"/>
<circle cx="42.50" cy="39.00" r="2.50" fill="url(#gN)"/>
<circle cx="32.70" cy="44.60" r="2.50" fill="url(#gC)"/>
<circle cx="40.20" cy="45.00" r="2.50" fill="url(#gC)"/>
<line x1="45.70" y1="45.60" x2="42.30" y2="47.80" stroke="#8a8a8a" stroke-width="1.00"/>
<line x1="45.70" y1="45.60" x2="49.80" y2="47.30" stroke="#8a8a8a" stroke-width="1.00"/>
<line x1="45.70" y1="45.60" x2="46.50" y2="52.80" stroke="#8a8a8a" stroke-width="1.00"/>
<line x1="46.50" y1="52.80" x2="39.80" y2="56.60" stroke="#8a8a8a" stroke-width="1.00"/>
<line x1="46.50" y1="52.80" x2="53.20" y2="56.10" stroke="#8a8a8a" stroke-width="1.00"/>
<line x1="39.80" y1="56.60" x2="42.10" y2="62.60" stroke="#8a8a8a" stroke-width="1.00"/>
<line x1="53.20" y1="56.10" x2="50.30" y2="62.60" stroke="#8a8a8a" stroke-width="1.00"/>
<line x1="42.10" y1="62.60" x2="50.30" y2="62.60" stroke="#8a8a8a" stroke-width="1.00"/>
<line x1="39.80" y1="56.60" x2="35.30" y2="56.80" stroke="#8a8a8a" stroke-width="1.00"/>
<line x1="42.10" y1="62.60" x2="38.30" y2="66.30" stroke="#8a8a8a" stroke-width="1.00"/>
<line x1="50.30" y1="62.60" x2="53.40" y2="66.30" stroke="#8a8a8a" stroke-width="1.00"/>
<circle cx="42.30" cy="47.80" r="1.35" fill="url(#gH)"/>
<circle cx="49.80" cy="47.30" r="1.35" fill="url(#gH)"/>
<circle cx="35.30" cy="56.80" r="1.35" fill="url(#gH)"/>
<circle cx="38.30" cy="66.30" r="1.35" fill="url(#gH)"/>
<circle cx="53.40" cy="66.30" r="1.35" fill="url(#gH)"/>
<circle cx="45.70" cy="45.60" r="2.50" fill="url(#gC)"/>
<circle cx="46.50" cy="52.80" r="2.50" fill="url(#gC)"/>
<circle cx="39.80" cy="56.60" r="2.50" fill="url(#gN)"/>
<circle cx="53.20" cy="56.10" r="2.50" fill="url(#gN)"/>
<circle cx="42.10" cy="62.60" r="2.50" fill="url(#gC)"/>
<circle cx="50.30" cy="62.60" r="2.50" fill="url(#gC)"/>
<line x1="12.60" y1="46.00" x2="20.60" y2="46.00" stroke="#8a8a8a" stroke-width="1.00"/>
<line x1="12.60" y1="46.00" x2="10.60" y2="52.20" stroke="#8a8a8a" stroke-width="1.00"/>
<line x1="20.60" y1="46.00" x2="23.70" y2="52.20" stroke="#8a8a8a" stroke-width="1.00"/>
<line x1="10.60" y1="52.20" x2="16.90" y2="56.60" stroke="#8a8a8a" stroke-width="1.00"/>
<line x1="23.70" y1="52.20" x2="16.90" y2="56.60" stroke="#8a8a8a" stroke-width="1.00"/>
<line x1="16.90" y1="56.60" x2="16.90" y2="62.60" stroke="#8a8a8a" stroke-width="1.00"/>
<line x1="12.60" y1="46.00" x2="10.00" y2="42.30" stroke="#8a8a8a" stroke-width="1.00"/>
<line x1="20.60" y1="46.00" x2="23.60" y2="43.30" stroke="#8a8a8a" stroke-width="1.00"/>
<line x1="10.60" y1="52.20" x2="5.80" y2="54.00" stroke="#8a8a8a" stroke-width="1.00"/>
<line x1="16.90" y1="62.60" x2="12.80" y2="63.40" stroke="#8a8a8a" stroke-width="1.00"/>
<line x1="16.90" y1="62.60" x2="20.80" y2="64.20" stroke="#8a8a8a" stroke-width="1.00"/>
<line x1="16.90" y1="62.60" x2="17.20" y2="66.60" stroke="#8a8a8a" stroke-width="1.00"/>
<circle cx="10.00" cy="42.30" r="1.35" fill="url(#gH)"/>
<circle cx="23.60" cy="43.30" r="1.35" fill="url(#gH)"/>
<circle cx="5.80" cy="54.00" r="1.35" fill="url(#gH)"/>
<circle cx="12.80" cy="63.40" r="1.35" fill="url(#gH)"/>
<circle cx="20.80" cy="64.20" r="1.35" fill="url(#gH)"/>
<circle cx="17.20" cy="66.60" r="1.35" fill="url(#gH)"/>
<circle cx="12.60" cy="46.00" r="2.50" fill="url(#gC)"/>
<circle cx="20.60" cy="46.00" r="2.50" fill="url(#gC)"/>
<circle cx="10.60" cy="52.20" r="2.50" fill="url(#gN)"/>
<circle cx="23.70" cy="52.20" r="2.50" fill="url(#gN)"/>
<circle cx="16.90" cy="56.60" r="2.50" fill="url(#gC)"/>
<circle cx="16.90" cy="62.60" r="2.50" fill="url(#gC)"/>
<line x1="61.30" y1="28.00" x2="70.00" y2="27.20" stroke="#8a8a8a" stroke-width="1.00"/>
<line x1="61.30" y1="28.00" x2="59.00" y2="34.20" stroke="#8a8a8a" stroke-width="1.00"/>
<line x1="70.00" y1="27.20" x2="72.30" y2="33.60" stroke="#8a8a8a" stroke-width="1.00"/>
<line x1="59.00" y1="34.20" x2="65.60" y2="38.00" stroke="#8a8a8a" stroke-width="1.00"/>
<line x1="72.30" y1="33.60" x2="65.60" y2="38.00" stroke="#8a8a8a" stroke-width="1.00"/>
<line x1="65.60" y1="38.00" x2="65.90" y2="44.40" stroke="#8a8a8a" stroke-width="1.00"/>
<line x1="61.30" y1="28.00" x2="57.60" y2="25.00" stroke="#8a8a8a" stroke-width="1.00"/>
<line x1="70.00" y1="27.20" x2="73.20" y2="24.30" stroke="#8a8a8a" stroke-width="1.00"/>
<line x1="72.30" y1="33.60" x2="77.40" y2="36.00" stroke="#8a8a8a" stroke-width="1.00"/>
<line x1="65.90" y1="44.40" x2="61.00" y2="46.40" stroke="#8a8a8a" stroke-width="1.00"/>
<line x1="65.90" y1="44.40" x2="67.30" y2="50.40" stroke="#8a8a8a" stroke-width="1.00"/>
<line x1="65.90" y1="44.40" x2="70.20" y2="45.40" stroke="#8a8a8a" stroke-width="1.00"/>
<circle cx="57.60" cy="25.00" r="1.35" fill="url(#gH)"/>
<circle cx="73.20" cy="24.30" r="1.35" fill="url(#gH)"/>
<circle cx="77.40" cy="36.00" r="1.35" fill="url(#gH)"/>
<circle cx="61.00" cy="46.40" r="1.35" fill="url(#gH)"/>
<circle cx="67.30" cy="50.40" r="1.35" fill="url(#gH)"/>
<circle cx="70.20" cy="45.40" r="1.35" fill="url(#gH)"/>
<circle cx="61.30" cy="28.00" r="2.50" fill="url(#gC)"/>
<circle cx="70.00" cy="27.20" r="2.50" fill="url(#gC)"/>
<circle cx="59.00" cy="34.20" r="2.50" fill="url(#gN)"/>
<circle cx="72.30" cy="33.60" r="2.50" fill="url(#gN)"/>
<circle cx="65.60" cy="38.00" r="2.50" fill="url(#gC)"/>
<circle cx="65.90" cy="44.40" r="2.50" fill="url(#gC)"/>
<rect x="99.2" y="31.5" width="51.8" height="27" fill="none" stroke="#a8a8a8" stroke-width="0.6"/>
<line x1="98.10" y1="35.60" x2="101.30" y2="40.00" stroke="#c04858" stroke-width="0.80"/>
<line x1="98.10" y1="49.40" x2="101.30" y2="54.40" stroke="#c04858" stroke-width="0.80"/>
<line x1="98.10" y1="35.60" x2="101.30" y2="26.20" stroke="#c04858" stroke-width="0.80"/>
<line x1="101.30" y1="40.00" x2="98.10" y2="49.40" stroke="#c04858" stroke-width="0.80"/>
<line x1="124.40" y1="35.60" x2="127.60" y2="40.00" stroke="#c04858" stroke-width="0.80"/>
<line x1="124.40" y1="49.40" x2="127.60" y2="54.40" stroke="#c04858" stroke-width="0.80"/>
<line x1="124.40" y1="35.60" x2="127.60" y2="26.20" stroke="#c04858" stroke-width="0.80"/>
<line x1="127.60" y1="40.00" x2="124.40" y2="49.40" stroke="#c04858" stroke-width="0.80"/>
<line x1="150.70" y1="35.60" x2="153.90" y2="40.00" stroke="#c04858" stroke-width="0.80"/>
<line x1="150.70" y1="49.40" x2="153.90" y2="54.40" stroke="#c04858" stroke-width="0.80"/>
<line x1="150.70" y1="35.60" x2="153.90" y2="26.20" stroke="#c04858" stroke-width="0.80"/>
<line x1="153.90" y1="40.00" x2="150.70" y2="49.40" stroke="#c04858" stroke-width="0.80"/>
<line x1="111.25" y1="40.60" x2="101.25" y2="40.00" stroke="#c04858" stroke-width="0.80"/>
<line x1="111.25" y1="40.60" x2="114.45" y2="35.60" stroke="#c04858" stroke-width="0.80"/>
<line x1="114.45" y1="35.60" x2="124.35" y2="35.60" stroke="#c04858" stroke-width="0.80"/>
<line x1="111.25" y1="54.40" x2="101.25" y2="54.40" stroke="#c04858" stroke-width="0.80"/>
<line x1="111.25" y1="54.40" x2="114.45" y2="50.00" stroke="#c04858" stroke-width="0.80"/>
<line x1="114.45" y1="50.00" x2="124.35" y2="49.40" stroke="#c04858" stroke-width="0.80"/>
<line x1="111.25" y1="40.60" x2="114.45" y2="50.00" stroke="#c04858" stroke-width="0.80"/>
<line x1="111.25" y1="54.40" x2="114.25" y2="63.60" stroke="#c04858" stroke-width="0.80"/>
<line x1="137.50" y1="40.60" x2="127.50" y2="40.00" stroke="#c04858" stroke-width="0.80"/>
<line x1="137.50" y1="40.60" x2="140.70" y2="35.60" stroke="#c04858" stroke-width="0.80"/>
<line x1="140.70" y1="35.60" x2="150.60" y2="35.60" stroke="#c04858" stroke-width="0.80"/>
<line x1="137.50" y1="54.40" x2="127.50" y2="54.40" stroke="#c04858" stroke-width="0.80"/>
<line x1="137.50" y1="54.40" x2="140.70" y2="50.00" stroke="#c04858" stroke-width="0.80"/>
<line x1="140.70" y1="50.00" x2="150.60" y2="49.40" stroke="#c04858" stroke-width="0.80"/>
<line x1="137.50" y1="40.60" x2="140.70" y2="50.00" stroke="#c04858" stroke-width="0.80"/>
<line x1="137.50" y1="54.40" x2="140.50" y2="63.60" stroke="#c04858" stroke-width="0.80"/>
<line x1="88.00" y1="35.60" x2="98.10" y2="35.60" stroke="#c04858" stroke-width="0.80"/>
<line x1="88.00" y1="49.40" x2="98.10" y2="49.40" stroke="#c04858" stroke-width="0.80"/>
<circle cx="101.30" cy="40.00" r="1.60" fill="url(#gO)"/>
<circle cx="101.30" cy="54.40" r="1.60" fill="url(#gO)"/>
<circle cx="101.30" cy="26.20" r="1.60" fill="url(#gO)"/>
<circle cx="127.60" cy="40.00" r="1.60" fill="url(#gO)"/>
<circle cx="127.60" cy="54.40" r="1.60" fill="url(#gO)"/>
<circle cx="127.60" cy="26.20" r="1.60" fill="url(#gO)"/>
<circle cx="153.90" cy="40.00" r="1.60" fill="url(#gO)"/>
<circle cx="153.90" cy="54.40" r="1.60" fill="url(#gO)"/>
<circle cx="153.90" cy="26.20" r="1.60" fill="url(#gO)"/>
<circle cx="114.45" cy="35.60" r="1.60" fill="url(#gO)"/>
<circle cx="114.45" cy="50.00" r="1.60" fill="url(#gO)"/>
<circle cx="114.25" cy="63.60" r="1.60" fill="url(#gO)"/>
<circle cx="140.70" cy="35.60" r="1.60" fill="url(#gO)"/>
<circle cx="140.70" cy="50.00" r="1.60" fill="url(#gO)"/>
<circle cx="140.50" cy="63.60" r="1.60" fill="url(#gO)"/>
<circle cx="88.00" cy="35.60" r="1.60" fill="url(#gO)"/>
<circle cx="88.00" cy="49.40" r="1.60" fill="url(#gO)"/>
<circle cx="98.10" cy="35.60" r="2.1" fill="#e4e4e4" stroke="#505050" stroke-width="1.15"/>
<circle cx="98.10" cy="49.40" r="2.1" fill="#e4e4e4" stroke="#505050" stroke-width="1.15"/>
<circle cx="124.40" cy="35.60" r="2.1" fill="#e4e4e4" stroke="#505050" stroke-width="1.15"/>
<circle cx="124.40" cy="49.40" r="2.1" fill="#e4e4e4" stroke="#505050" stroke-width="1.15"/>
<circle cx="150.70" cy="35.60" r="2.1" fill="#e4e4e4" stroke="#505050" stroke-width="1.15"/>
<circle cx="150.70" cy="49.40" r="2.1" fill="#e4e4e4" stroke="#505050" stroke-width="1.15"/>
<circle cx="111.25" cy="40.60" r="2.1" fill="#e4e4e4" stroke="#505050" stroke-width="1.15"/>
<circle cx="111.25" cy="54.40" r="2.1" fill="#e4e4e4" stroke="#505050" stroke-width="1.15"/>
<circle cx="137.50" cy="40.60" r="2.1" fill="#e4e4e4" stroke="#505050" stroke-width="1.15"/>
<circle cx="137.50" cy="54.40" r="2.1" fill="#e4e4e4" stroke="#505050" stroke-width="1.15"/>
<line x1="82.5" y1="56" x2="82.5" y2="93.5" stroke="#111" stroke-width="1.8"/>
<path d="M77.7 92.3 L87.5 92.3 L82.6 101.3 Z" fill="#111"/>
<circle cx="98.4" cy="81.0" r="7.1" fill="none" stroke="#111" stroke-width="1.5"/>
<path d="M86.9 82.8 L91.3 78.3 L95.4 83.6" fill="none" stroke="#111" stroke-width="1.5"/>
<path d="M101.5 78.4 L105.6 82.4 L110.2 78.4" fill="none" stroke="#111" stroke-width="1.5"/>
<rect x="50.10" y="122.35" width="66.80" height="66.80" fill="none" stroke="#9a9a9a" stroke-width="0.6"/>
<line x1="50.80" y1="105.80" x2="52.90" y2="107.94" stroke="#8c8cd0" stroke-width="1.00"/>
<line x1="52.90" y1="107.94" x2="51.19" y2="109.62" stroke="#8c8cd0" stroke-width="1.00"/>
<line x1="52.90" y1="107.94" x2="55.00" y2="110.08" stroke="#8c8cd0" stroke-width="1.00"/>
<line x1="55.00" y1="110.08" x2="57.11" y2="112.22" stroke="#8c8cd0" stroke-width="1.00"/>
<line x1="57.11" y1="112.22" x2="59.21" y2="114.36" stroke="#8c8cd0" stroke-width="1.00"/>
<line x1="59.21" y1="114.36" x2="60.92" y2="112.68" stroke="#8c8cd0" stroke-width="1.00"/>
<line x1="59.21" y1="114.36" x2="61.31" y2="116.50" stroke="#8c8cd0" stroke-width="1.00"/>
<line x1="61.31" y1="116.50" x2="63.41" y2="118.64" stroke="#8c8cd0" stroke-width="1.00"/>
<line x1="63.41" y1="118.64" x2="65.52" y2="120.78" stroke="#8c8cd0" stroke-width="1.00"/>
<line x1="65.52" y1="120.78" x2="63.80" y2="122.46" stroke="#8c8cd0" stroke-width="1.00"/>
<line x1="33.60" y1="123.00" x2="35.71" y2="125.13" stroke="#8c8cd0" stroke-width="1.00"/>
<line x1="35.71" y1="125.13" x2="34.00" y2="126.82" stroke="#8c8cd0" stroke-width="1.00"/>
<line x1="35.71" y1="125.13" x2="37.82" y2="127.27" stroke="#8c8cd0" stroke-width="1.00"/>
<line x1="37.82" y1="127.27" x2="39.93" y2="129.40" stroke="#8c8cd0" stroke-width="1.00"/>
<line x1="39.93" y1="129.40" x2="42.03" y2="131.54" stroke="#8c8cd0" stroke-width="1.00"/>
<line x1="42.03" y1="131.54" x2="43.74" y2="129.85" stroke="#8c8cd0" stroke-width="1.00"/>
<line x1="42.03" y1="131.54" x2="44.14" y2="133.67" stroke="#8c8cd0" stroke-width="1.00"/>
<line x1="44.14" y1="133.67" x2="46.25" y2="135.80" stroke="#8c8cd0" stroke-width="1.00"/>
<line x1="46.25" y1="135.80" x2="48.36" y2="137.94" stroke="#8c8cd0" stroke-width="1.00"/>
<line x1="48.36" y1="137.94" x2="46.65" y2="139.62" stroke="#8c8cd0" stroke-width="1.00"/>
<line x1="116.20" y1="105.80" x2="114.10" y2="107.94" stroke="#8c8cd0" stroke-width="1.00"/>
<line x1="114.10" y1="107.94" x2="112.39" y2="106.26" stroke="#8c8cd0" stroke-width="1.00"/>
<line x1="114.10" y1="107.94" x2="112.00" y2="110.08" stroke="#8c8cd0" stroke-width="1.00"/>
<line x1="112.00" y1="110.08" x2="109.89" y2="112.22" stroke="#8c8cd0" stroke-width="1.00"/>
<line x1="109.89" y1="112.22" x2="107.79" y2="114.36" stroke="#8c8cd0" stroke-width="1.00"/>
<line x1="107.79" y1="114.36" x2="109.50" y2="116.04" stroke="#8c8cd0" stroke-width="1.00"/>
<line x1="107.79" y1="114.36" x2="105.69" y2="116.50" stroke="#8c8cd0" stroke-width="1.00"/>
<line x1="105.69" y1="116.50" x2="103.59" y2="118.64" stroke="#8c8cd0" stroke-width="1.00"/>
<line x1="103.59" y1="118.64" x2="101.48" y2="120.78" stroke="#8c8cd0" stroke-width="1.00"/>
<line x1="101.48" y1="120.78" x2="99.77" y2="119.10" stroke="#8c8cd0" stroke-width="1.00"/>
<line x1="133.40" y1="123.00" x2="131.29" y2="125.13" stroke="#8c8cd0" stroke-width="1.00"/>
<line x1="131.29" y1="125.13" x2="129.58" y2="123.45" stroke="#8c8cd0" stroke-width="1.00"/>
<line x1="131.29" y1="125.13" x2="129.18" y2="127.27" stroke="#8c8cd0" stroke-width="1.00"/>
<line x1="129.18" y1="127.27" x2="127.07" y2="129.40" stroke="#8c8cd0" stroke-width="1.00"/>
<line x1="127.07" y1="129.40" x2="124.97" y2="131.54" stroke="#8c8cd0" stroke-width="1.00"/>
<line x1="124.97" y1="131.54" x2="126.67" y2="133.22" stroke="#8c8cd0" stroke-width="1.00"/>
<line x1="124.97" y1="131.54" x2="122.86" y2="133.67" stroke="#8c8cd0" stroke-width="1.00"/>
<line x1="122.86" y1="133.67" x2="120.75" y2="135.80" stroke="#8c8cd0" stroke-width="1.00"/>
<line x1="120.75" y1="135.80" x2="118.64" y2="137.94" stroke="#8c8cd0" stroke-width="1.00"/>
<line x1="118.64" y1="137.94" x2="116.93" y2="136.25" stroke="#8c8cd0" stroke-width="1.00"/>
<line x1="50.80" y1="205.70" x2="52.90" y2="203.56" stroke="#8c8cd0" stroke-width="1.00"/>
<line x1="52.90" y1="203.56" x2="54.61" y2="205.24" stroke="#8c8cd0" stroke-width="1.00"/>
<line x1="52.90" y1="203.56" x2="55.00" y2="201.42" stroke="#8c8cd0" stroke-width="1.00"/>
<line x1="55.00" y1="201.42" x2="57.11" y2="199.28" stroke="#8c8cd0" stroke-width="1.00"/>
<line x1="57.11" y1="199.28" x2="59.21" y2="197.14" stroke="#8c8cd0" stroke-width="1.00"/>
<line x1="59.21" y1="197.14" x2="57.50" y2="195.46" stroke="#8c8cd0" stroke-width="1.00"/>
<line x1="59.21" y1="197.14" x2="61.31" y2="195.00" stroke="#8c8cd0" stroke-width="1.00"/>
<line x1="61.31" y1="195.00" x2="63.41" y2="192.86" stroke="#8c8cd0" stroke-width="1.00"/>
<line x1="63.41" y1="192.86" x2="65.52" y2="190.72" stroke="#8c8cd0" stroke-width="1.00"/>
<line x1="65.52" y1="190.72" x2="67.23" y2="192.40" stroke="#8c8cd0" stroke-width="1.00"/>
<line x1="33.60" y1="188.50" x2="35.71" y2="186.37" stroke="#8c8cd0" stroke-width="1.00"/>
<line x1="35.71" y1="186.37" x2="37.42" y2="188.05" stroke="#8c8cd0" stroke-width="1.00"/>
<line x1="35.71" y1="186.37" x2="37.82" y2="184.23" stroke="#8c8cd0" stroke-width="1.00"/>
<line x1="37.82" y1="184.23" x2="39.93" y2="182.10" stroke="#8c8cd0" stroke-width="1.00"/>
<line x1="39.93" y1="182.10" x2="42.03" y2="179.96" stroke="#8c8cd0" stroke-width="1.00"/>
<line x1="42.03" y1="179.96" x2="40.33" y2="178.28" stroke="#8c8cd0" stroke-width="1.00"/>
<line x1="42.03" y1="179.96" x2="44.14" y2="177.83" stroke="#8c8cd0" stroke-width="1.00"/>
<line x1="44.14" y1="177.83" x2="46.25" y2="175.70" stroke="#8c8cd0" stroke-width="1.00"/>
<line x1="46.25" y1="175.70" x2="48.36" y2="173.56" stroke="#8c8cd0" stroke-width="1.00"/>
<line x1="48.36" y1="173.56" x2="50.07" y2="175.25" stroke="#8c8cd0" stroke-width="1.00"/>
<line x1="116.20" y1="205.70" x2="114.10" y2="203.56" stroke="#8c8cd0" stroke-width="1.00"/>
<line x1="114.10" y1="203.56" x2="115.81" y2="201.88" stroke="#8c8cd0" stroke-width="1.00"/>
<line x1="114.10" y1="203.56" x2="112.00" y2="201.42" stroke="#8c8cd0" stroke-width="1.00"/>
<line x1="112.00" y1="201.42" x2="109.89" y2="199.28" stroke="#8c8cd0" stroke-width="1.00"/>
<line x1="109.89" y1="199.28" x2="107.79" y2="197.14" stroke="#8c8cd0" stroke-width="1.00"/>
<line x1="107.79" y1="197.14" x2="106.08" y2="198.82" stroke="#8c8cd0" stroke-width="1.00"/>
<line x1="107.79" y1="197.14" x2="105.69" y2="195.00" stroke="#8c8cd0" stroke-width="1.00"/>
<line x1="105.69" y1="195.00" x2="103.59" y2="192.86" stroke="#8c8cd0" stroke-width="1.00"/>
<line x1="103.59" y1="192.86" x2="101.48" y2="190.72" stroke="#8c8cd0" stroke-width="1.00"/>
<line x1="101.48" y1="190.72" x2="103.20" y2="189.04" stroke="#8c8cd0" stroke-width="1.00"/>
<line x1="133.40" y1="188.50" x2="131.29" y2="186.37" stroke="#8c8cd0" stroke-width="1.00"/>
<line x1="131.29" y1="186.37" x2="133.00" y2="184.68" stroke="#8c8cd0" stroke-width="1.00"/>
<line x1="131.29" y1="186.37" x2="129.18" y2="184.23" stroke="#8c8cd0" stroke-width="1.00"/>
<line x1="129.18" y1="184.23" x2="127.07" y2="182.10" stroke="#8c8cd0" stroke-width="1.00"/>
<line x1="127.07" y1="182.10" x2="124.97" y2="179.96" stroke="#8c8cd0" stroke-width="1.00"/>
<line x1="124.97" y1="179.96" x2="123.26" y2="181.65" stroke="#8c8cd0" stroke-width="1.00"/>
<line x1="124.97" y1="179.96" x2="122.86" y2="177.83" stroke="#8c8cd0" stroke-width="1.00"/>
<line x1="122.86" y1="177.83" x2="120.75" y2="175.70" stroke="#8c8cd0" stroke-width="1.00"/>
<line x1="120.75" y1="175.70" x2="118.64" y2="173.56" stroke="#8c8cd0" stroke-width="1.00"/>
<line x1="118.64" y1="173.56" x2="120.35" y2="171.88" stroke="#8c8cd0" stroke-width="1.00"/>
<line x1="83.50" y1="122.35" x2="86.80" y2="122.35" stroke="#8c8cd0" stroke-width="1.00"/>
<line x1="86.80" y1="122.35" x2="90.10" y2="122.35" stroke="#8c8cd0" stroke-width="1.00"/>
<line x1="90.10" y1="122.35" x2="93.40" y2="122.35" stroke="#8c8cd0" stroke-width="1.00"/>
<line x1="93.40" y1="122.35" x2="96.70" y2="122.35" stroke="#8c8cd0" stroke-width="1.00"/>
<line x1="96.70" y1="122.35" x2="100.00" y2="122.35" stroke="#8c8cd0" stroke-width="1.00"/>
<line x1="85.00" y1="122.35" x2="85.00" y2="119.75" stroke="#8c8cd0" stroke-width="1.00"/>
<line x1="95.00" y1="122.35" x2="95.00" y2="119.75" stroke="#8c8cd0" stroke-width="1.00"/>
<line x1="83.50" y1="122.35" x2="85.59" y2="124.44" stroke="#8c8cd0" stroke-width="1.00"/>
<line x1="85.59" y1="124.44" x2="87.67" y2="126.52" stroke="#8c8cd0" stroke-width="1.00"/>
<line x1="87.67" y1="126.52" x2="89.76" y2="128.61" stroke="#8c8cd0" stroke-width="1.00"/>
<line x1="89.76" y1="128.61" x2="91.84" y2="130.69" stroke="#8c8cd0" stroke-width="1.00"/>
<line x1="91.84" y1="130.69" x2="93.93" y2="132.78" stroke="#8c8cd0" stroke-width="1.00"/>
<line x1="93.93" y1="132.78" x2="96.02" y2="134.87" stroke="#8c8cd0" stroke-width="1.00"/>
<line x1="96.02" y1="134.87" x2="98.10" y2="136.95" stroke="#8c8cd0" stroke-width="1.00"/>
<line x1="98.10" y1="136.95" x2="100.19" y2="139.04" stroke="#8c8cd0" stroke-width="1.00"/>
<line x1="84.56" y1="123.41" x2="82.30" y2="125.67" stroke="#8c8cd0" stroke-width="1.00"/>
<line x1="87.39" y1="126.24" x2="85.13" y2="128.50" stroke="#8c8cd0" stroke-width="1.00"/>
<line x1="87.39" y1="126.24" x2="89.65" y2="123.98" stroke="#8c8cd0" stroke-width="1.00"/>
<line x1="90.22" y1="129.07" x2="87.95" y2="131.33" stroke="#8c8cd0" stroke-width="1.00"/>
<line x1="93.05" y1="131.90" x2="90.78" y2="134.16" stroke="#8c8cd0" stroke-width="1.00"/>
<line x1="93.05" y1="131.90" x2="95.31" y2="129.63" stroke="#8c8cd0" stroke-width="1.00"/>
<line x1="98.70" y1="137.55" x2="100.97" y2="135.29" stroke="#8c8cd0" stroke-width="1.00"/>
<line x1="83.50" y1="122.35" x2="83.50" y2="125.65" stroke="#8c8cd0" stroke-width="1.00"/>
<line x1="83.50" y1="125.65" x2="83.50" y2="128.95" stroke="#8c8cd0" stroke-width="1.00"/>
<line x1="83.50" y1="128.95" x2="83.50" y2="132.25" stroke="#8c8cd0" stroke-width="1.00"/>
<line x1="83.50" y1="132.25" x2="83.50" y2="135.55" stroke="#8c8cd0" stroke-width="1.00"/>
<line x1="83.50" y1="135.55" x2="83.50" y2="138.85" stroke="#8c8cd0" stroke-width="1.00"/>
<line x1="83.50" y1="123.85" x2="80.90" y2="123.85" stroke="#8c8cd0" stroke-width="1.00"/>
<line x1="83.50" y1="122.35" x2="81.41" y2="124.44" stroke="#8c8cd0" stroke-width="1.00"/>
<line x1="81.41" y1="124.44" x2="79.33" y2="126.52" stroke="#8c8cd0" stroke-width="1.00"/>
<line x1="79.33" y1="126.52" x2="77.24" y2="128.61" stroke="#8c8cd0" stroke-width="1.00"/>
<line x1="77.24" y1="128.61" x2="75.16" y2="130.69" stroke="#8c8cd0" stroke-width="1.00"/>
<line x1="75.16" y1="130.69" x2="73.07" y2="132.78" stroke="#8c8cd0" stroke-width="1.00"/>
<line x1="73.07" y1="132.78" x2="70.98" y2="134.87" stroke="#8c8cd0" stroke-width="1.00"/>
<line x1="70.98" y1="134.87" x2="68.90" y2="136.95" stroke="#8c8cd0" stroke-width="1.00"/>
<line x1="68.90" y1="136.95" x2="66.81" y2="139.04" stroke="#8c8cd0" stroke-width="1.00"/>
<line x1="82.44" y1="123.41" x2="80.18" y2="121.15" stroke="#8c8cd0" stroke-width="1.00"/>
<line x1="71.13" y1="134.72" x2="68.86" y2="132.46" stroke="#8c8cd0" stroke-width="1.00"/>
<line x1="68.30" y1="137.55" x2="70.56" y2="139.82" stroke="#8c8cd0" stroke-width="1.00"/>
<line x1="83.50" y1="122.35" x2="80.20" y2="122.35" stroke="#8c8cd0" stroke-width="1.00"/>
<line x1="80.20" y1="122.35" x2="76.90" y2="122.35" stroke="#8c8cd0" stroke-width="1.00"/>
<line x1="76.90" y1="122.35" x2="73.60" y2="122.35" stroke="#8c8cd0" stroke-width="1.00"/>
<line x1="73.60" y1="122.35" x2="70.30" y2="122.35" stroke="#8c8cd0" stroke-width="1.00"/>
<line x1="70.30" y1="122.35" x2="67.00" y2="122.35" stroke="#8c8cd0" stroke-width="1.00"/>
<line x1="83.50" y1="122.35" x2="81.31" y2="120.16" stroke="#8c8cd0" stroke-width="1.00"/>
<line x1="81.31" y1="120.16" x2="79.12" y2="117.97" stroke="#8c8cd0" stroke-width="1.00"/>
<line x1="79.12" y1="117.97" x2="76.92" y2="115.77" stroke="#8c8cd0" stroke-width="1.00"/>
<line x1="76.92" y1="115.77" x2="74.73" y2="113.58" stroke="#8c8cd0" stroke-width="1.00"/>
<line x1="74.73" y1="113.58" x2="72.54" y2="111.39" stroke="#8c8cd0" stroke-width="1.00"/>
<line x1="82.44" y1="121.29" x2="84.70" y2="119.03" stroke="#8c8cd0" stroke-width="1.00"/>
<line x1="82.44" y1="121.29" x2="80.18" y2="123.55" stroke="#8c8cd0" stroke-width="1.00"/>
<line x1="79.61" y1="118.46" x2="81.87" y2="116.20" stroke="#8c8cd0" stroke-width="1.00"/>
<line x1="76.78" y1="115.63" x2="79.05" y2="113.37" stroke="#8c8cd0" stroke-width="1.00"/>
<line x1="76.78" y1="115.63" x2="74.52" y2="117.90" stroke="#8c8cd0" stroke-width="1.00"/>
<line x1="73.95" y1="112.80" x2="76.22" y2="110.54" stroke="#8c8cd0" stroke-width="1.00"/>
<line x1="83.50" y1="122.35" x2="83.50" y2="119.05" stroke="#8c8cd0" stroke-width="1.00"/>
<line x1="83.50" y1="119.05" x2="83.50" y2="115.75" stroke="#8c8cd0" stroke-width="1.00"/>
<line x1="83.50" y1="115.75" x2="83.50" y2="112.45" stroke="#8c8cd0" stroke-width="1.00"/>
<line x1="83.50" y1="112.45" x2="83.50" y2="109.15" stroke="#8c8cd0" stroke-width="1.00"/>
<line x1="83.50" y1="109.15" x2="83.50" y2="105.85" stroke="#8c8cd0" stroke-width="1.00"/>
<line x1="83.50" y1="120.85" x2="86.10" y2="120.85" stroke="#8c8cd0" stroke-width="1.00"/>
<line x1="83.50" y1="115.85" x2="86.10" y2="115.85" stroke="#8c8cd0" stroke-width="1.00"/>
<line x1="83.50" y1="115.85" x2="80.90" y2="115.85" stroke="#8c8cd0" stroke-width="1.00"/>
<line x1="83.50" y1="122.35" x2="85.69" y2="120.16" stroke="#8c8cd0" stroke-width="1.00"/>
<line x1="85.69" y1="120.16" x2="87.88" y2="117.97" stroke="#8c8cd0" stroke-width="1.00"/>
<line x1="87.88" y1="117.97" x2="90.08" y2="115.77" stroke="#8c8cd0" stroke-width="1.00"/>
<line x1="90.08" y1="115.77" x2="92.27" y2="113.58" stroke="#8c8cd0" stroke-width="1.00"/>
<line x1="92.27" y1="113.58" x2="94.46" y2="111.39" stroke="#8c8cd0" stroke-width="1.00"/>
<line x1="84.56" y1="121.29" x2="86.82" y2="123.55" stroke="#8c8cd0" stroke-width="1.00"/>
<line x1="87.39" y1="118.46" x2="89.65" y2="120.72" stroke="#8c8cd0" stroke-width="1.00"/>
<line x1="87.39" y1="118.46" x2="85.13" y2="116.20" stroke="#8c8cd0" stroke-width="1.00"/>
<line x1="90.22" y1="115.63" x2="87.95" y2="113.37" stroke="#8c8cd0" stroke-width="1.00"/>
<line x1="93.05" y1="112.80" x2="95.31" y2="115.07" stroke="#8c8cd0" stroke-width="1.00"/>
<line x1="50.10" y1="155.75" x2="53.40" y2="155.75" stroke="#8c8cd0" stroke-width="1.00"/>
<line x1="53.40" y1="155.75" x2="56.70" y2="155.75" stroke="#8c8cd0" stroke-width="1.00"/>
<line x1="56.70" y1="155.75" x2="60.00" y2="155.75" stroke="#8c8cd0" stroke-width="1.00"/>
<line x1="60.00" y1="155.75" x2="63.30" y2="155.75" stroke="#8c8cd0" stroke-width="1.00"/>
<line x1="63.30" y1="155.75" x2="66.60" y2="155.75" stroke="#8c8cd0" stroke-width="1.00"/>
<line x1="51.60" y1="155.75" x2="51.60" y2="153.15" stroke="#8c8cd0" stroke-width="1.00"/>
<line x1="50.10" y1="155.75" x2="52.19" y2="157.84" stroke="#8c8cd0" stroke-width="1.00"/>
<line x1="52.19" y1="157.84" x2="54.27" y2="159.92" stroke="#8c8cd0" stroke-width="1.00"/>
<line x1="54.27" y1="159.92" x2="56.36" y2="162.01" stroke="#8c8cd0" stroke-width="1.00"/>
<line x1="56.36" y1="162.01" x2="58.44" y2="164.09" stroke="#8c8cd0" stroke-width="1.00"/>
<line x1="58.44" y1="164.09" x2="60.53" y2="166.18" stroke="#8c8cd0" stroke-width="1.00"/>
<line x1="60.53" y1="166.18" x2="62.62" y2="168.27" stroke="#8c8cd0" stroke-width="1.00"/>
<line x1="62.62" y1="168.27" x2="64.70" y2="170.35" stroke="#8c8cd0" stroke-width="1.00"/>
<line x1="64.70" y1="170.35" x2="66.79" y2="172.44" stroke="#8c8cd0" stroke-width="1.00"/>
<line x1="53.99" y1="159.64" x2="51.73" y2="161.90" stroke="#8c8cd0" stroke-width="1.00"/>
<line x1="56.82" y1="162.47" x2="54.55" y2="164.73" stroke="#8c8cd0" stroke-width="1.00"/>
<line x1="59.65" y1="165.30" x2="61.91" y2="163.03" stroke="#8c8cd0" stroke-width="1.00"/>
<line x1="62.47" y1="168.12" x2="64.74" y2="165.86" stroke="#8c8cd0" stroke-width="1.00"/>
<line x1="50.10" y1="155.75" x2="50.10" y2="159.05" stroke="#8c8cd0" stroke-width="1.00"/>
<line x1="50.10" y1="159.05" x2="50.10" y2="162.35" stroke="#8c8cd0" stroke-width="1.00"/>
<line x1="50.10" y1="162.35" x2="50.10" y2="165.65" stroke="#8c8cd0" stroke-width="1.00"/>
<line x1="50.10" y1="165.65" x2="50.10" y2="168.95" stroke="#8c8cd0" stroke-width="1.00"/>
<line x1="50.10" y1="168.95" x2="50.10" y2="172.25" stroke="#8c8cd0" stroke-width="1.00"/>
<line x1="50.10" y1="157.25" x2="47.50" y2="157.25" stroke="#8c8cd0" stroke-width="1.00"/>
<line x1="50.10" y1="155.75" x2="47.91" y2="157.94" stroke="#8c8cd0" stroke-width="1.00"/>
<line x1="47.91" y1="157.94" x2="45.72" y2="160.13" stroke="#8c8cd0" stroke-width="1.00"/>
<line x1="45.72" y1="160.13" x2="43.52" y2="162.33" stroke="#8c8cd0" stroke-width="1.00"/>
<line x1="43.52" y1="162.33" x2="41.33" y2="164.52" stroke="#8c8cd0" stroke-width="1.00"/>
<line x1="41.33" y1="164.52" x2="39.14" y2="166.71" stroke="#8c8cd0" stroke-width="1.00"/>
<line x1="49.04" y1="156.81" x2="46.78" y2="154.55" stroke="#8c8cd0" stroke-width="1.00"/>
<line x1="49.04" y1="156.81" x2="51.30" y2="159.07" stroke="#8c8cd0" stroke-width="1.00"/>
<line x1="46.21" y1="159.64" x2="43.95" y2="157.38" stroke="#8c8cd0" stroke-width="1.00"/>
<line x1="46.21" y1="159.64" x2="48.47" y2="161.90" stroke="#8c8cd0" stroke-width="1.00"/>
<line x1="43.38" y1="162.47" x2="41.12" y2="160.20" stroke="#8c8cd0" stroke-width="1.00"/>
<line x1="43.38" y1="162.47" x2="45.65" y2="164.73" stroke="#8c8cd0" stroke-width="1.00"/>
<line x1="40.55" y1="165.30" x2="38.29" y2="163.03" stroke="#8c8cd0" stroke-width="1.00"/>
<line x1="50.10" y1="155.75" x2="46.80" y2="155.75" stroke="#8c8cd0" stroke-width="1.00"/>
<line x1="46.80" y1="155.75" x2="43.50" y2="155.75" stroke="#8c8cd0" stroke-width="1.00"/>
<line x1="43.50" y1="155.75" x2="40.20" y2="155.75" stroke="#8c8cd0" stroke-width="1.00"/>
<line x1="40.20" y1="155.75" x2="36.90" y2="155.75" stroke="#8c8cd0" stroke-width="1.00"/>
<line x1="36.90" y1="155.75" x2="33.60" y2="155.75" stroke="#8c8cd0" stroke-width="1.00"/>
<line x1="48.60" y1="155.75" x2="48.60" y2="153.15" stroke="#8c8cd0" stroke-width="1.00"/>
<line x1="43.60" y1="155.75" x2="43.60" y2="158.35" stroke="#8c8cd0" stroke-width="1.00"/>
<line x1="50.10" y1="155.75" x2="47.91" y2="153.56" stroke="#8c8cd0" stroke-width="1.00"/>
<line x1="47.91" y1="153.56" x2="45.72" y2="151.37" stroke="#8c8cd0" stroke-width="1.00"/>
<line x1="45.72" y1="151.37" x2="43.52" y2="149.17" stroke="#8c8cd0" stroke-width="1.00"/>
<line x1="43.52" y1="149.17" x2="41.33" y2="146.98" stroke="#8c8cd0" stroke-width="1.00"/>
<line x1="41.33" y1="146.98" x2="39.14" y2="144.79" stroke="#8c8cd0" stroke-width="1.00"/>
<line x1="49.04" y1="154.69" x2="51.30" y2="152.43" stroke="#8c8cd0" stroke-width="1.00"/>
<line x1="49.04" y1="154.69" x2="46.78" y2="156.95" stroke="#8c8cd0" stroke-width="1.00"/>
<line x1="46.21" y1="151.86" x2="48.47" y2="149.60" stroke="#8c8cd0" stroke-width="1.00"/>
<line x1="46.21" y1="151.86" x2="43.95" y2="154.12" stroke="#8c8cd0" stroke-width="1.00"/>
<line x1="43.38" y1="149.03" x2="45.65" y2="146.77" stroke="#8c8cd0" stroke-width="1.00"/>
<line x1="40.55" y1="146.20" x2="38.29" y2="148.47" stroke="#8c8cd0" stroke-width="1.00"/>
<line x1="50.10" y1="155.75" x2="50.10" y2="152.45" stroke="#8c8cd0" stroke-width="1.00"/>
<line x1="50.10" y1="152.45" x2="50.10" y2="149.15" stroke="#8c8cd0" stroke-width="1.00"/>
<line x1="50.10" y1="149.15" x2="50.10" y2="145.85" stroke="#8c8cd0" stroke-width="1.00"/>
<line x1="50.10" y1="145.85" x2="50.10" y2="142.55" stroke="#8c8cd0" stroke-width="1.00"/>
<line x1="50.10" y1="142.55" x2="50.10" y2="139.25" stroke="#8c8cd0" stroke-width="1.00"/>
<line x1="50.10" y1="144.25" x2="52.70" y2="144.25" stroke="#8c8cd0" stroke-width="1.00"/>
<line x1="50.10" y1="155.75" x2="52.19" y2="153.66" stroke="#8c8cd0" stroke-width="1.00"/>
<line x1="52.19" y1="153.66" x2="54.27" y2="151.58" stroke="#8c8cd0" stroke-width="1.00"/>
<line x1="54.27" y1="151.58" x2="56.36" y2="149.49" stroke="#8c8cd0" stroke-width="1.00"/>
<line x1="56.36" y1="149.49" x2="58.44" y2="147.41" stroke="#8c8cd0" stroke-width="1.00"/>
<line x1="58.44" y1="147.41" x2="60.53" y2="145.32" stroke="#8c8cd0" stroke-width="1.00"/>
<line x1="60.53" y1="145.32" x2="62.62" y2="143.23" stroke="#8c8cd0" stroke-width="1.00"/>
<line x1="62.62" y1="143.23" x2="64.70" y2="141.15" stroke="#8c8cd0" stroke-width="1.00"/>
<line x1="64.70" y1="141.15" x2="66.79" y2="139.06" stroke="#8c8cd0" stroke-width="1.00"/>
<line x1="53.99" y1="151.86" x2="56.25" y2="154.12" stroke="#8c8cd0" stroke-width="1.00"/>
<line x1="53.99" y1="151.86" x2="51.73" y2="149.60" stroke="#8c8cd0" stroke-width="1.00"/>
<line x1="56.82" y1="149.03" x2="59.08" y2="151.30" stroke="#8c8cd0" stroke-width="1.00"/>
<line x1="59.65" y1="146.20" x2="61.91" y2="148.47" stroke="#8c8cd0" stroke-width="1.00"/>
<line x1="62.47" y1="143.38" x2="64.74" y2="145.64" stroke="#8c8cd0" stroke-width="1.00"/>
<line x1="65.30" y1="140.55" x2="67.57" y2="142.81" stroke="#8c8cd0" stroke-width="1.00"/>
<line x1="65.30" y1="140.55" x2="63.04" y2="138.28" stroke="#8c8cd0" stroke-width="1.00"/>
<line x1="116.90" y1="155.75" x2="120.20" y2="155.75" stroke="#8c8cd0" stroke-width="1.00"/>
<line x1="120.20" y1="155.75" x2="123.50" y2="155.75" stroke="#8c8cd0" stroke-width="1.00"/>
<line x1="123.50" y1="155.75" x2="126.80" y2="155.75" stroke="#8c8cd0" stroke-width="1.00"/>
<line x1="126.80" y1="155.75" x2="130.10" y2="155.75" stroke="#8c8cd0" stroke-width="1.00"/>
<line x1="130.10" y1="155.75" x2="133.40" y2="155.75" stroke="#8c8cd0" stroke-width="1.00"/>
<line x1="118.40" y1="155.75" x2="118.40" y2="158.35" stroke="#8c8cd0" stroke-width="1.00"/>
<line x1="128.40" y1="155.75" x2="128.40" y2="158.35" stroke="#8c8cd0" stroke-width="1.00"/>
<line x1="116.90" y1="155.75" x2="119.09" y2="157.94" stroke="#8c8cd0" stroke-width="1.00"/>
<line x1="119.09" y1="157.94" x2="121.28" y2="160.13" stroke="#8c8cd0" stroke-width="1.00"/>
<line x1="121.28" y1="160.13" x2="123.48" y2="162.33" stroke="#8c8cd0" stroke-width="1.00"/>
<line x1="123.48" y1="162.33" x2="125.67" y2="164.52" stroke="#8c8cd0" stroke-width="1.00"/>
<line x1="125.67" y1="164.52" x2="127.86" y2="166.71" stroke="#8c8cd0" stroke-width="1.00"/>
<line x1="117.96" y1="156.81" x2="120.22" y2="154.55" stroke="#8c8cd0" stroke-width="1.00"/>
<line x1="120.79" y1="159.64" x2="123.05" y2="157.38" stroke="#8c8cd0" stroke-width="1.00"/>
<line x1="123.62" y1="162.47" x2="121.35" y2="164.73" stroke="#8c8cd0" stroke-width="1.00"/>
<line x1="126.45" y1="165.30" x2="124.18" y2="167.56" stroke="#8c8cd0" stroke-width="1.00"/>
<line x1="126.45" y1="165.30" x2="128.71" y2="163.03" stroke="#8c8cd0" stroke-width="1.00"/>
<line x1="116.90" y1="155.75" x2="116.90" y2="159.05" stroke="#8c8cd0" stroke-width="1.00"/>
<line x1="116.90" y1="159.05" x2="116.90" y2="162.35" stroke="#8c8cd0" stroke-width="1.00"/>
<line x1="116.90" y1="162.35" x2="116.90" y2="165.65" stroke="#8c8cd0" stroke-width="1.00"/>
<line x1="116.90" y1="165.65" x2="116.90" y2="168.95" stroke="#8c8cd0" stroke-width="1.00"/>
<line x1="116.90" y1="168.95" x2="116.90" y2="172.25" stroke="#8c8cd0" stroke-width="1.00"/>
<line x1="116.90" y1="157.25" x2="114.30" y2="157.25" stroke="#8c8cd0" stroke-width="1.00"/>
<line x1="116.90" y1="157.25" x2="119.50" y2="157.25" stroke="#8c8cd0" stroke-width="1.00"/>
<line x1="116.90" y1="162.25" x2="114.30" y2="162.25" stroke="#8c8cd0" stroke-width="1.00"/>
<line x1="116.90" y1="162.25" x2="119.50" y2="162.25" stroke="#8c8cd0" stroke-width="1.00"/>
<line x1="116.90" y1="155.75" x2="114.81" y2="157.84" stroke="#8c8cd0" stroke-width="1.00"/>
<line x1="114.81" y1="157.84" x2="112.73" y2="159.92" stroke="#8c8cd0" stroke-width="1.00"/>
<line x1="112.73" y1="159.92" x2="110.64" y2="162.01" stroke="#8c8cd0" stroke-width="1.00"/>
<line x1="110.64" y1="162.01" x2="108.56" y2="164.09" stroke="#8c8cd0" stroke-width="1.00"/>
<line x1="108.56" y1="164.09" x2="106.47" y2="166.18" stroke="#8c8cd0" stroke-width="1.00"/>
<line x1="106.47" y1="166.18" x2="104.38" y2="168.27" stroke="#8c8cd0" stroke-width="1.00"/>
<line x1="104.38" y1="168.27" x2="102.30" y2="170.35" stroke="#8c8cd0" stroke-width="1.00"/>
<line x1="102.30" y1="170.35" x2="100.21" y2="172.44" stroke="#8c8cd0" stroke-width="1.00"/>
<line x1="113.01" y1="159.64" x2="115.27" y2="161.90" stroke="#8c8cd0" stroke-width="1.00"/>
<line x1="110.18" y1="162.47" x2="112.45" y2="164.73" stroke="#8c8cd0" stroke-width="1.00"/>
<line x1="107.35" y1="165.30" x2="109.62" y2="167.56" stroke="#8c8cd0" stroke-width="1.00"/>
<line x1="104.53" y1="168.12" x2="102.26" y2="165.86" stroke="#8c8cd0" stroke-width="1.00"/>
<line x1="101.70" y1="170.95" x2="99.43" y2="168.69" stroke="#8c8cd0" stroke-width="1.00"/>
<line x1="101.70" y1="170.95" x2="103.96" y2="173.22" stroke="#8c8cd0" stroke-width="1.00"/>
<line x1="116.90" y1="155.75" x2="113.60" y2="155.75" stroke="#8c8cd0" stroke-width="1.00"/>
<line x1="113.60" y1="155.75" x2="110.30" y2="155.75" stroke="#8c8cd0" stroke-width="1.00"/>
<line x1="110.30" y1="155.75" x2="107.00" y2="155.75" stroke="#8c8cd0" stroke-width="1.00"/>
<line x1="107.00" y1="155.75" x2="103.70" y2="155.75" stroke="#8c8cd0" stroke-width="1.00"/>
<line x1="103.70" y1="155.75" x2="100.40" y2="155.75" stroke="#8c8cd0" stroke-width="1.00"/>
<line x1="115.40" y1="155.75" x2="115.40" y2="153.15" stroke="#8c8cd0" stroke-width="1.00"/>
<line x1="110.40" y1="155.75" x2="110.40" y2="158.35" stroke="#8c8cd0" stroke-width="1.00"/>
<line x1="105.40" y1="155.75" x2="105.40" y2="158.35" stroke="#8c8cd0" stroke-width="1.00"/>
<line x1="116.90" y1="155.75" x2="114.81" y2="153.66" stroke="#8c8cd0" stroke-width="1.00"/>
<line x1="114.81" y1="153.66" x2="112.73" y2="151.58" stroke="#8c8cd0" stroke-width="1.00"/>
<line x1="112.73" y1="151.58" x2="110.64" y2="149.49" stroke="#8c8cd0" stroke-width="1.00"/>
<line x1="110.64" y1="149.49" x2="108.56" y2="147.41" stroke="#8c8cd0" stroke-width="1.00"/>
<line x1="108.56" y1="147.41" x2="106.47" y2="145.32" stroke="#8c8cd0" stroke-width="1.00"/>
<line x1="106.47" y1="145.32" x2="104.38" y2="143.23" stroke="#8c8cd0" stroke-width="1.00"/>
<line x1="104.38" y1="143.23" x2="102.30" y2="141.15" stroke="#8c8cd0" stroke-width="1.00"/>
<line x1="102.30" y1="141.15" x2="100.21" y2="139.06" stroke="#8c8cd0" stroke-width="1.00"/>
<line x1="113.01" y1="151.86" x2="110.75" y2="154.12" stroke="#8c8cd0" stroke-width="1.00"/>
<line x1="110.18" y1="149.03" x2="107.92" y2="151.30" stroke="#8c8cd0" stroke-width="1.00"/>
<line x1="107.35" y1="146.20" x2="109.62" y2="143.94" stroke="#8c8cd0" stroke-width="1.00"/>
<line x1="107.35" y1="146.20" x2="105.09" y2="148.47" stroke="#8c8cd0" stroke-width="1.00"/>
<line x1="104.53" y1="143.38" x2="106.79" y2="141.11" stroke="#8c8cd0" stroke-width="1.00"/>
<line x1="116.90" y1="155.75" x2="116.90" y2="152.45" stroke="#8c8cd0" stroke-width="1.00"/>
<line x1="116.90" y1="152.45" x2="116.90" y2="149.15" stroke="#8c8cd0" stroke-width="1.00"/>
<line x1="116.90" y1="149.15" x2="116.90" y2="145.85" stroke="#8c8cd0" stroke-width="1.00"/>
<line x1="116.90" y1="145.85" x2="116.90" y2="142.55" stroke="#8c8cd0" stroke-width="1.00"/>
<line x1="116.90" y1="142.55" x2="116.90" y2="139.25" stroke="#8c8cd0" stroke-width="1.00"/>
<line x1="116.90" y1="154.25" x2="119.50" y2="154.25" stroke="#8c8cd0" stroke-width="1.00"/>
<line x1="116.90" y1="149.25" x2="119.50" y2="149.25" stroke="#8c8cd0" stroke-width="1.00"/>
<line x1="116.90" y1="149.25" x2="114.30" y2="149.25" stroke="#8c8cd0" stroke-width="1.00"/>
<line x1="116.90" y1="155.75" x2="119.09" y2="153.56" stroke="#8c8cd0" stroke-width="1.00"/>
<line x1="119.09" y1="153.56" x2="121.28" y2="151.37" stroke="#8c8cd0" stroke-width="1.00"/>
<line x1="121.28" y1="151.37" x2="123.48" y2="149.17" stroke="#8c8cd0" stroke-width="1.00"/>
<line x1="123.48" y1="149.17" x2="125.67" y2="146.98" stroke="#8c8cd0" stroke-width="1.00"/>
<line x1="125.67" y1="146.98" x2="127.86" y2="144.79" stroke="#8c8cd0" stroke-width="1.00"/>
<line x1="117.96" y1="154.69" x2="120.22" y2="156.95" stroke="#8c8cd0" stroke-width="1.00"/>
<line x1="120.79" y1="151.86" x2="123.05" y2="154.12" stroke="#8c8cd0" stroke-width="1.00"/>
<line x1="120.79" y1="151.86" x2="118.53" y2="149.60" stroke="#8c8cd0" stroke-width="1.00"/>
<line x1="123.62" y1="149.03" x2="125.88" y2="151.30" stroke="#8c8cd0" stroke-width="1.00"/>
<line x1="123.62" y1="149.03" x2="121.35" y2="146.77" stroke="#8c8cd0" stroke-width="1.00"/>
<line x1="126.45" y1="146.20" x2="124.18" y2="143.94" stroke="#8c8cd0" stroke-width="1.00"/>
<line x1="83.50" y1="189.15" x2="86.80" y2="189.15" stroke="#8c8cd0" stroke-width="1.00"/>
<line x1="86.80" y1="189.15" x2="90.10" y2="189.15" stroke="#8c8cd0" stroke-width="1.00"/>
<line x1="90.10" y1="189.15" x2="93.40" y2="189.15" stroke="#8c8cd0" stroke-width="1.00"/>
<line x1="93.40" y1="189.15" x2="96.70" y2="189.15" stroke="#8c8cd0" stroke-width="1.00"/>
<line x1="96.70" y1="189.15" x2="100.00" y2="189.15" stroke="#8c8cd0" stroke-width="1.00"/>
<line x1="85.00" y1="189.15" x2="85.00" y2="191.75" stroke="#8c8cd0" stroke-width="1.00"/>
<line x1="85.00" y1="189.15" x2="85.00" y2="186.55" stroke="#8c8cd0" stroke-width="1.00"/>
<line x1="90.00" y1="189.15" x2="90.00" y2="186.55" stroke="#8c8cd0" stroke-width="1.00"/>
<line x1="95.00" y1="189.15" x2="95.00" y2="186.55" stroke="#8c8cd0" stroke-width="1.00"/>
<line x1="83.50" y1="189.15" x2="85.69" y2="191.34" stroke="#8c8cd0" stroke-width="1.00"/>
<line x1="85.69" y1="191.34" x2="87.88" y2="193.53" stroke="#8c8cd0" stroke-width="1.00"/>
<line x1="87.88" y1="193.53" x2="90.08" y2="195.73" stroke="#8c8cd0" stroke-width="1.00"/>
<line x1="90.08" y1="195.73" x2="92.27" y2="197.92" stroke="#8c8cd0" stroke-width="1.00"/>
<line x1="92.27" y1="197.92" x2="94.46" y2="200.11" stroke="#8c8cd0" stroke-width="1.00"/>
<line x1="84.56" y1="190.21" x2="86.82" y2="187.95" stroke="#8c8cd0" stroke-width="1.00"/>
<line x1="87.39" y1="193.04" x2="89.65" y2="190.78" stroke="#8c8cd0" stroke-width="1.00"/>
<line x1="90.22" y1="195.87" x2="87.95" y2="198.13" stroke="#8c8cd0" stroke-width="1.00"/>
<line x1="90.22" y1="195.87" x2="92.48" y2="193.60" stroke="#8c8cd0" stroke-width="1.00"/>
<line x1="93.05" y1="198.70" x2="90.78" y2="200.96" stroke="#8c8cd0" stroke-width="1.00"/>
<line x1="93.05" y1="198.70" x2="95.31" y2="196.43" stroke="#8c8cd0" stroke-width="1.00"/>
<line x1="83.50" y1="189.15" x2="83.50" y2="192.45" stroke="#8c8cd0" stroke-width="1.00"/>
<line x1="83.50" y1="192.45" x2="83.50" y2="195.75" stroke="#8c8cd0" stroke-width="1.00"/>
<line x1="83.50" y1="195.75" x2="83.50" y2="199.05" stroke="#8c8cd0" stroke-width="1.00"/>
<line x1="83.50" y1="199.05" x2="83.50" y2="202.35" stroke="#8c8cd0" stroke-width="1.00"/>
<line x1="83.50" y1="202.35" x2="83.50" y2="205.65" stroke="#8c8cd0" stroke-width="1.00"/>
<line x1="83.50" y1="190.65" x2="80.90" y2="190.65" stroke="#8c8cd0" stroke-width="1.00"/>
<line x1="83.50" y1="190.65" x2="86.10" y2="190.65" stroke="#8c8cd0" stroke-width="1.00"/>
<line x1="83.50" y1="195.65" x2="86.10" y2="195.65" stroke="#8c8cd0" stroke-width="1.00"/>
<line x1="83.50" y1="189.15" x2="81.31" y2="191.34" stroke="#8c8cd0" stroke-width="1.00"/>
<line x1="81.31" y1="191.34" x2="79.12" y2="193.53" stroke="#8c8cd0" stroke-width="1.00"/>
<line x1="79.12" y1="193.53" x2="76.92" y2="195.73" stroke="#8c8cd0" stroke-width="1.00"/>
<line x1="76.92" y1="195.73" x2="74.73" y2="197.92" stroke="#8c8cd0" stroke-width="1.00"/>
<line x1="74.73" y1="197.92" x2="72.54" y2="200.11" stroke="#8c8cd0" stroke-width="1.00"/>
<line x1="82.44" y1="190.21" x2="80.18" y2="187.95" stroke="#8c8cd0" stroke-width="1.00"/>
<line x1="82.44" y1="190.21" x2="84.70" y2="192.47" stroke="#8c8cd0" stroke-width="1.00"/>
<line x1="79.61" y1="193.04" x2="81.87" y2="195.30" stroke="#8c8cd0" stroke-width="1.00"/>
<line x1="76.78" y1="195.87" x2="74.52" y2="193.60" stroke="#8c8cd0" stroke-width="1.00"/>
<line x1="76.78" y1="195.87" x2="79.05" y2="198.13" stroke="#8c8cd0" stroke-width="1.00"/>
<line x1="73.95" y1="198.70" x2="71.69" y2="196.43" stroke="#8c8cd0" stroke-width="1.00"/>
<line x1="83.50" y1="189.15" x2="80.20" y2="189.15" stroke="#8c8cd0" stroke-width="1.00"/>
<line x1="80.20" y1="189.15" x2="76.90" y2="189.15" stroke="#8c8cd0" stroke-width="1.00"/>
<line x1="76.90" y1="189.15" x2="73.60" y2="189.15" stroke="#8c8cd0" stroke-width="1.00"/>
<line x1="73.60" y1="189.15" x2="70.30" y2="189.15" stroke="#8c8cd0" stroke-width="1.00"/>
<line x1="70.30" y1="189.15" x2="67.00" y2="189.15" stroke="#8c8cd0" stroke-width="1.00"/>
<line x1="82.00" y1="189.15" x2="82.00" y2="191.75" stroke="#8c8cd0" stroke-width="1.00"/>
<line x1="77.00" y1="189.15" x2="77.00" y2="191.75" stroke="#8c8cd0" stroke-width="1.00"/>
<line x1="72.00" y1="189.15" x2="72.00" y2="191.75" stroke="#8c8cd0" stroke-width="1.00"/>
<line x1="83.50" y1="189.15" x2="81.41" y2="187.06" stroke="#8c8cd0" stroke-width="1.00"/>
<line x1="81.41" y1="187.06" x2="79.33" y2="184.98" stroke="#8c8cd0" stroke-width="1.00"/>
<line x1="79.33" y1="184.98" x2="77.24" y2="182.89" stroke="#8c8cd0" stroke-width="1.00"/>
<line x1="77.24" y1="182.89" x2="75.16" y2="180.81" stroke="#8c8cd0" stroke-width="1.00"/>
<line x1="75.16" y1="180.81" x2="73.07" y2="178.72" stroke="#8c8cd0" stroke-width="1.00"/>
<line x1="73.07" y1="178.72" x2="70.98" y2="176.63" stroke="#8c8cd0" stroke-width="1.00"/>
<line x1="70.98" y1="176.63" x2="68.90" y2="174.55" stroke="#8c8cd0" stroke-width="1.00"/>
<line x1="68.90" y1="174.55" x2="66.81" y2="172.46" stroke="#8c8cd0" stroke-width="1.00"/>
<line x1="79.61" y1="185.26" x2="81.87" y2="183.00" stroke="#8c8cd0" stroke-width="1.00"/>
<line x1="76.78" y1="182.43" x2="74.52" y2="184.70" stroke="#8c8cd0" stroke-width="1.00"/>
<line x1="73.95" y1="179.60" x2="76.22" y2="177.34" stroke="#8c8cd0" stroke-width="1.00"/>
<line x1="71.13" y1="176.78" x2="73.39" y2="174.51" stroke="#8c8cd0" stroke-width="1.00"/>
<line x1="68.30" y1="173.95" x2="70.56" y2="171.68" stroke="#8c8cd0" stroke-width="1.00"/>
<line x1="83.50" y1="189.15" x2="83.50" y2="185.85" stroke="#8c8cd0" stroke-width="1.00"/>
<line x1="83.50" y1="185.85" x2="83.50" y2="182.55" stroke="#8c8cd0" stroke-width="1.00"/>
<line x1="83.50" y1="182.55" x2="83.50" y2="179.25" stroke="#8c8cd0" stroke-width="1.00"/>
<line x1="83.50" y1="179.25" x2="83.50" y2="175.95" stroke="#8c8cd0" stroke-width="1.00"/>
<line x1="83.50" y1="175.95" x2="83.50" y2="172.65" stroke="#8c8cd0" stroke-width="1.00"/>
<line x1="83.50" y1="187.65" x2="86.10" y2="187.65" stroke="#8c8cd0" stroke-width="1.00"/>
<line x1="83.50" y1="182.65" x2="86.10" y2="182.65" stroke="#8c8cd0" stroke-width="1.00"/>
<line x1="83.50" y1="177.65" x2="86.10" y2="177.65" stroke="#8c8cd0" stroke-width="1.00"/>
<line x1="83.50" y1="177.65" x2="80.90" y2="177.65" stroke="#8c8cd0" stroke-width="1.00"/>
<line x1="83.50" y1="189.15" x2="85.59" y2="187.06" stroke="#8c8cd0" stroke-width="1.00"/>
<line x1="85.59" y1="187.06" x2="87.67" y2="184.98" stroke="#8c8cd0" stroke-width="1.00"/>
<line x1="87.67" y1="184.98" x2="89.76" y2="182.89" stroke="#8c8cd0" stroke-width="1.00"/>
<line x1="89.76" y1="182.89" x2="91.84" y2="180.81" stroke="#8c8cd0" stroke-width="1.00"/>
<line x1="91.84" y1="180.81" x2="93.93" y2="178.72" stroke="#8c8cd0" stroke-width="1.00"/>
<line x1="93.93" y1="178.72" x2="96.02" y2="176.63" stroke="#8c8cd0" stroke-width="1.00"/>
<line x1="96.02" y1="176.63" x2="98.10" y2="174.55" stroke="#8c8cd0" stroke-width="1.00"/>
<line x1="98.10" y1="174.55" x2="100.19" y2="172.46" stroke="#8c8cd0" stroke-width="1.00"/>
<line x1="84.56" y1="188.09" x2="86.82" y2="190.35" stroke="#8c8cd0" stroke-width="1.00"/>
<line x1="87.39" y1="185.26" x2="89.65" y2="187.52" stroke="#8c8cd0" stroke-width="1.00"/>
<line x1="93.05" y1="179.60" x2="95.31" y2="181.87" stroke="#8c8cd0" stroke-width="1.00"/>
<line x1="95.87" y1="176.78" x2="93.61" y2="174.51" stroke="#8c8cd0" stroke-width="1.00"/>
<line x1="98.70" y1="173.95" x2="100.97" y2="176.21" stroke="#8c8cd0" stroke-width="1.00"/>
<line x1="67.00" y1="122.35" x2="64.89" y2="124.46" stroke="#8c8cd0" stroke-width="1.00"/>
<line x1="64.89" y1="124.46" x2="62.77" y2="126.57" stroke="#8c8cd0" stroke-width="1.00"/>
<line x1="62.77" y1="126.57" x2="60.66" y2="128.69" stroke="#8c8cd0" stroke-width="1.00"/>
<line x1="60.66" y1="128.69" x2="58.55" y2="130.80" stroke="#8c8cd0" stroke-width="1.00"/>
<line x1="58.55" y1="130.80" x2="56.44" y2="132.91" stroke="#8c8cd0" stroke-width="1.00"/>
<line x1="56.44" y1="132.91" x2="54.33" y2="135.03" stroke="#8c8cd0" stroke-width="1.00"/>
<line x1="54.33" y1="135.03" x2="52.21" y2="137.14" stroke="#8c8cd0" stroke-width="1.00"/>
<line x1="52.21" y1="137.14" x2="50.10" y2="139.25" stroke="#8c8cd0" stroke-width="1.00"/>
<line x1="65.94" y1="123.41" x2="68.06" y2="125.53" stroke="#8c8cd0" stroke-width="1.00"/>
<line x1="62.76" y1="126.59" x2="64.88" y2="128.71" stroke="#8c8cd0" stroke-width="1.00"/>
<line x1="59.58" y1="129.77" x2="57.45" y2="127.65" stroke="#8c8cd0" stroke-width="1.00"/>
<line x1="59.58" y1="129.77" x2="61.70" y2="131.90" stroke="#8c8cd0" stroke-width="1.00"/>
<line x1="56.39" y1="132.96" x2="54.27" y2="130.84" stroke="#8c8cd0" stroke-width="1.00"/>
<line x1="56.39" y1="132.96" x2="58.51" y2="135.08" stroke="#8c8cd0" stroke-width="1.00"/>
<line x1="100.00" y1="122.35" x2="102.11" y2="124.46" stroke="#8c8cd0" stroke-width="1.00"/>
<line x1="102.11" y1="124.46" x2="104.22" y2="126.57" stroke="#8c8cd0" stroke-width="1.00"/>
<line x1="104.22" y1="126.57" x2="106.34" y2="128.69" stroke="#8c8cd0" stroke-width="1.00"/>
<line x1="106.34" y1="128.69" x2="108.45" y2="130.80" stroke="#8c8cd0" stroke-width="1.00"/>
<line x1="108.45" y1="130.80" x2="110.56" y2="132.91" stroke="#8c8cd0" stroke-width="1.00"/>
<line x1="110.56" y1="132.91" x2="112.68" y2="135.03" stroke="#8c8cd0" stroke-width="1.00"/>
<line x1="112.68" y1="135.03" x2="114.79" y2="137.14" stroke="#8c8cd0" stroke-width="1.00"/>
<line x1="114.79" y1="137.14" x2="116.90" y2="139.25" stroke="#8c8cd0" stroke-width="1.00"/>
<line x1="101.06" y1="123.41" x2="103.18" y2="121.29" stroke="#8c8cd0" stroke-width="1.00"/>
<line x1="104.24" y1="126.59" x2="102.12" y2="128.71" stroke="#8c8cd0" stroke-width="1.00"/>
<line x1="107.42" y1="129.77" x2="109.55" y2="127.65" stroke="#8c8cd0" stroke-width="1.00"/>
<line x1="110.61" y1="132.96" x2="108.49" y2="135.08" stroke="#8c8cd0" stroke-width="1.00"/>
<line x1="110.61" y1="132.96" x2="112.73" y2="130.84" stroke="#8c8cd0" stroke-width="1.00"/>
<line x1="113.79" y1="136.14" x2="111.67" y2="138.26" stroke="#8c8cd0" stroke-width="1.00"/>
<line x1="113.79" y1="136.14" x2="115.91" y2="134.02" stroke="#8c8cd0" stroke-width="1.00"/>
<line x1="67.00" y1="189.15" x2="64.89" y2="187.04" stroke="#8c8cd0" stroke-width="1.00"/>
<line x1="64.89" y1="187.04" x2="62.77" y2="184.93" stroke="#8c8cd0" stroke-width="1.00"/>
<line x1="62.77" y1="184.93" x2="60.66" y2="182.81" stroke="#8c8cd0" stroke-width="1.00"/>
<line x1="60.66" y1="182.81" x2="58.55" y2="180.70" stroke="#8c8cd0" stroke-width="1.00"/>
<line x1="58.55" y1="180.70" x2="56.44" y2="178.59" stroke="#8c8cd0" stroke-width="1.00"/>
<line x1="56.44" y1="178.59" x2="54.33" y2="176.47" stroke="#8c8cd0" stroke-width="1.00"/>
<line x1="54.33" y1="176.47" x2="52.21" y2="174.36" stroke="#8c8cd0" stroke-width="1.00"/>
<line x1="52.21" y1="174.36" x2="50.10" y2="172.25" stroke="#8c8cd0" stroke-width="1.00"/>
<line x1="65.94" y1="188.09" x2="68.06" y2="185.97" stroke="#8c8cd0" stroke-width="1.00"/>
<line x1="62.76" y1="184.91" x2="64.88" y2="182.79" stroke="#8c8cd0" stroke-width="1.00"/>
<line x1="62.76" y1="184.91" x2="60.64" y2="187.03" stroke="#8c8cd0" stroke-width="1.00"/>
<line x1="59.58" y1="181.73" x2="61.70" y2="179.60" stroke="#8c8cd0" stroke-width="1.00"/>
<line x1="56.39" y1="178.54" x2="54.27" y2="180.66" stroke="#8c8cd0" stroke-width="1.00"/>
<line x1="53.21" y1="175.36" x2="51.09" y2="177.48" stroke="#8c8cd0" stroke-width="1.00"/>
<line x1="100.00" y1="189.15" x2="102.11" y2="187.04" stroke="#8c8cd0" stroke-width="1.00"/>
<line x1="102.11" y1="187.04" x2="104.22" y2="184.93" stroke="#8c8cd0" stroke-width="1.00"/>
<line x1="104.22" y1="184.93" x2="106.34" y2="182.81" stroke="#8c8cd0" stroke-width="1.00"/>
<line x1="106.34" y1="182.81" x2="108.45" y2="180.70" stroke="#8c8cd0" stroke-width="1.00"/>
<line x1="108.45" y1="180.70" x2="110.56" y2="178.59" stroke="#8c8cd0" stroke-width="1.00"/>
<line x1="110.56" y1="178.59" x2="112.68" y2="176.47" stroke="#8c8cd0" stroke-width="1.00"/>
<line x1="112.68" y1="176.47" x2="114.79" y2="174.36" stroke="#8c8cd0" stroke-width="1.00"/>
<line x1="114.79" y1="174.36" x2="116.90" y2="172.25" stroke="#8c8cd0" stroke-width="1.00"/>
<line x1="101.06" y1="188.09" x2="103.18" y2="190.21" stroke="#8c8cd0" stroke-width="1.00"/>
<line x1="101.06" y1="188.09" x2="98.94" y2="185.97" stroke="#8c8cd0" stroke-width="1.00"/>
<line x1="104.24" y1="184.91" x2="106.36" y2="187.03" stroke="#8c8cd0" stroke-width="1.00"/>
<line x1="107.42" y1="181.73" x2="105.30" y2="179.60" stroke="#8c8cd0" stroke-width="1.00"/>
<line x1="110.61" y1="178.54" x2="112.73" y2="180.66" stroke="#8c8cd0" stroke-width="1.00"/>
<line x1="110.61" y1="178.54" x2="108.49" y2="176.42" stroke="#8c8cd0" stroke-width="1.00"/>
<line x1="113.79" y1="175.36" x2="115.91" y2="177.48" stroke="#8c8cd0" stroke-width="1.00"/>
<line x1="83.50" y1="138.25" x2="85.69" y2="140.44" stroke="#8c8cd0" stroke-width="1.00"/>
<line x1="85.69" y1="140.44" x2="87.88" y2="142.62" stroke="#8c8cd0" stroke-width="1.00"/>
<line x1="87.88" y1="142.62" x2="90.06" y2="144.81" stroke="#8c8cd0" stroke-width="1.00"/>
<line x1="90.06" y1="144.81" x2="92.25" y2="147.00" stroke="#8c8cd0" stroke-width="1.00"/>
<line x1="92.25" y1="147.00" x2="94.44" y2="149.19" stroke="#8c8cd0" stroke-width="1.00"/>
<line x1="94.44" y1="149.19" x2="96.62" y2="151.38" stroke="#8c8cd0" stroke-width="1.00"/>
<line x1="96.62" y1="151.38" x2="98.81" y2="153.56" stroke="#8c8cd0" stroke-width="1.00"/>
<line x1="98.81" y1="153.56" x2="101.00" y2="155.75" stroke="#8c8cd0" stroke-width="1.00"/>
<line x1="92.34" y1="147.09" x2="94.32" y2="145.11" stroke="#8c8cd0" stroke-width="1.00"/>
<line x1="100.12" y1="154.87" x2="102.10" y2="152.89" stroke="#8c8cd0" stroke-width="1.00"/>
<line x1="101.00" y1="155.75" x2="98.81" y2="157.94" stroke="#8c8cd0" stroke-width="1.00"/>
<line x1="98.81" y1="157.94" x2="96.62" y2="160.12" stroke="#8c8cd0" stroke-width="1.00"/>
<line x1="96.62" y1="160.12" x2="94.44" y2="162.31" stroke="#8c8cd0" stroke-width="1.00"/>
<line x1="94.44" y1="162.31" x2="92.25" y2="164.50" stroke="#8c8cd0" stroke-width="1.00"/>
<line x1="92.25" y1="164.50" x2="90.06" y2="166.69" stroke="#8c8cd0" stroke-width="1.00"/>
<line x1="90.06" y1="166.69" x2="87.88" y2="168.88" stroke="#8c8cd0" stroke-width="1.00"/>
<line x1="87.88" y1="168.88" x2="85.69" y2="171.06" stroke="#8c8cd0" stroke-width="1.00"/>
<line x1="85.69" y1="171.06" x2="83.50" y2="173.25" stroke="#8c8cd0" stroke-width="1.00"/>
<line x1="99.94" y1="156.81" x2="101.92" y2="158.79" stroke="#8c8cd0" stroke-width="1.00"/>
<line x1="92.16" y1="164.59" x2="94.14" y2="166.57" stroke="#8c8cd0" stroke-width="1.00"/>
<line x1="83.50" y1="173.25" x2="81.31" y2="171.06" stroke="#8c8cd0" stroke-width="1.00"/>
<line x1="81.31" y1="171.06" x2="79.12" y2="168.88" stroke="#8c8cd0" stroke-width="1.00"/>
<line x1="79.12" y1="168.88" x2="76.94" y2="166.69" stroke="#8c8cd0" stroke-width="1.00"/>
<line x1="76.94" y1="166.69" x2="74.75" y2="164.50" stroke="#8c8cd0" stroke-width="1.00"/>
<line x1="74.75" y1="164.50" x2="72.56" y2="162.31" stroke="#8c8cd0" stroke-width="1.00"/>
<line x1="72.56" y1="162.31" x2="70.38" y2="160.12" stroke="#8c8cd0" stroke-width="1.00"/>
<line x1="70.38" y1="160.12" x2="68.19" y2="157.94" stroke="#8c8cd0" stroke-width="1.00"/>
<line x1="68.19" y1="157.94" x2="66.00" y2="155.75" stroke="#8c8cd0" stroke-width="1.00"/>
<line x1="82.44" y1="172.19" x2="80.46" y2="174.17" stroke="#8c8cd0" stroke-width="1.00"/>
<line x1="78.55" y1="168.30" x2="76.57" y2="170.28" stroke="#8c8cd0" stroke-width="1.00"/>
<line x1="74.66" y1="164.41" x2="72.68" y2="166.39" stroke="#8c8cd0" stroke-width="1.00"/>
<line x1="66.88" y1="156.63" x2="64.90" y2="158.61" stroke="#8c8cd0" stroke-width="1.00"/>
<line x1="66.00" y1="155.75" x2="68.19" y2="153.56" stroke="#8c8cd0" stroke-width="1.00"/>
<line x1="68.19" y1="153.56" x2="70.38" y2="151.38" stroke="#8c8cd0" stroke-width="1.00"/>
<line x1="70.38" y1="151.38" x2="72.56" y2="149.19" stroke="#8c8cd0" stroke-width="1.00"/>
<line x1="72.56" y1="149.19" x2="74.75" y2="147.00" stroke="#8c8cd0" stroke-width="1.00"/>
<line x1="74.75" y1="147.00" x2="76.94" y2="144.81" stroke="#8c8cd0" stroke-width="1.00"/>
<line x1="76.94" y1="144.81" x2="79.12" y2="142.62" stroke="#8c8cd0" stroke-width="1.00"/>
<line x1="79.12" y1="142.62" x2="81.31" y2="140.44" stroke="#8c8cd0" stroke-width="1.00"/>
<line x1="81.31" y1="140.44" x2="83.50" y2="138.25" stroke="#8c8cd0" stroke-width="1.00"/>
<line x1="70.95" y1="150.80" x2="68.97" y2="148.82" stroke="#8c8cd0" stroke-width="1.00"/>
<circle cx="50.75" cy="111.74" r="0.80" fill="#e4e4e4" stroke="#b0b0b0" stroke-width="0.3"/>
<circle cx="63.05" cy="112.27" r="0.80" fill="#e4e4e4" stroke="#b0b0b0" stroke-width="0.3"/>
<circle cx="63.36" cy="124.58" r="0.80" fill="#e4e4e4" stroke="#b0b0b0" stroke-width="0.3"/>
<circle cx="33.56" cy="128.94" r="0.80" fill="#e4e4e4" stroke="#b0b0b0" stroke-width="0.3"/>
<circle cx="45.87" cy="129.44" r="0.80" fill="#e4e4e4" stroke="#b0b0b0" stroke-width="0.3"/>
<circle cx="46.22" cy="141.74" r="0.80" fill="#e4e4e4" stroke="#b0b0b0" stroke-width="0.3"/>
<circle cx="110.26" cy="105.85" r="0.80" fill="#e4e4e4" stroke="#b0b0b0" stroke-width="0.3"/>
<circle cx="109.95" cy="118.16" r="0.80" fill="#e4e4e4" stroke="#b0b0b0" stroke-width="0.3"/>
<circle cx="97.65" cy="118.69" r="0.80" fill="#e4e4e4" stroke="#b0b0b0" stroke-width="0.3"/>
<circle cx="127.46" cy="123.04" r="0.80" fill="#e4e4e4" stroke="#b0b0b0" stroke-width="0.3"/>
<circle cx="127.11" cy="135.34" r="0.80" fill="#e4e4e4" stroke="#b0b0b0" stroke-width="0.3"/>
<circle cx="114.81" cy="135.84" r="0.80" fill="#e4e4e4" stroke="#b0b0b0" stroke-width="0.3"/>
<circle cx="56.74" cy="205.65" r="0.80" fill="#e4e4e4" stroke="#b0b0b0" stroke-width="0.3"/>
<circle cx="57.05" cy="193.34" r="0.80" fill="#e4e4e4" stroke="#b0b0b0" stroke-width="0.3"/>
<circle cx="69.35" cy="192.81" r="0.80" fill="#e4e4e4" stroke="#b0b0b0" stroke-width="0.3"/>
<circle cx="39.54" cy="188.46" r="0.80" fill="#e4e4e4" stroke="#b0b0b0" stroke-width="0.3"/>
<circle cx="39.89" cy="176.16" r="0.80" fill="#e4e4e4" stroke="#b0b0b0" stroke-width="0.3"/>
<circle cx="52.19" cy="175.66" r="0.80" fill="#e4e4e4" stroke="#b0b0b0" stroke-width="0.3"/>
<circle cx="116.25" cy="199.76" r="0.80" fill="#e4e4e4" stroke="#b0b0b0" stroke-width="0.3"/>
<circle cx="103.95" cy="199.23" r="0.80" fill="#e4e4e4" stroke="#b0b0b0" stroke-width="0.3"/>
<circle cx="103.64" cy="186.92" r="0.80" fill="#e4e4e4" stroke="#b0b0b0" stroke-width="0.3"/>
<circle cx="133.44" cy="182.56" r="0.80" fill="#e4e4e4" stroke="#b0b0b0" stroke-width="0.3"/>
<circle cx="121.13" cy="182.06" r="0.80" fill="#e4e4e4" stroke="#b0b0b0" stroke-width="0.3"/>
<circle cx="120.78" cy="169.76" r="0.80" fill="#e4e4e4" stroke="#b0b0b0" stroke-width="0.3"/>
<circle cx="85.00" cy="117.55" r="0.85" fill="#e4e4e4" stroke="#b0b0b0" stroke-width="0.3"/>
<circle cx="95.00" cy="117.55" r="0.85" fill="#e4e4e4" stroke="#b0b0b0" stroke-width="0.3"/>
<circle cx="80.74" cy="127.23" r="0.85" fill="#e4e4e4" stroke="#b0b0b0" stroke-width="0.3"/>
<circle cx="83.57" cy="130.06" r="0.85" fill="#e4e4e4" stroke="#b0b0b0" stroke-width="0.3"/>
<circle cx="91.21" cy="122.42" r="0.85" fill="#e4e4e4" stroke="#b0b0b0" stroke-width="0.3"/>
<circle cx="86.40" cy="132.89" r="0.85" fill="#e4e4e4" stroke="#b0b0b0" stroke-width="0.3"/>
<circle cx="78.70" cy="123.85" r="0.85" fill="#e4e4e4" stroke="#b0b0b0" stroke-width="0.3"/>
<circle cx="72.12" cy="141.37" r="0.85" fill="#e4e4e4" stroke="#b0b0b0" stroke-width="0.3"/>
<circle cx="86.26" cy="117.47" r="0.85" fill="#e4e4e4" stroke="#b0b0b0" stroke-width="0.3"/>
<circle cx="78.62" cy="125.11" r="0.85" fill="#e4e4e4" stroke="#b0b0b0" stroke-width="0.3"/>
<circle cx="83.43" cy="114.64" r="0.85" fill="#e4e4e4" stroke="#b0b0b0" stroke-width="0.3"/>
<circle cx="80.60" cy="111.81" r="0.85" fill="#e4e4e4" stroke="#b0b0b0" stroke-width="0.3"/>
<circle cx="72.96" cy="119.45" r="0.85" fill="#e4e4e4" stroke="#b0b0b0" stroke-width="0.3"/>
<circle cx="77.77" cy="108.99" r="0.85" fill="#e4e4e4" stroke="#b0b0b0" stroke-width="0.3"/>
<circle cx="88.30" cy="120.85" r="0.85" fill="#e4e4e4" stroke="#b0b0b0" stroke-width="0.3"/>
<circle cx="88.30" cy="115.85" r="0.85" fill="#e4e4e4" stroke="#b0b0b0" stroke-width="0.3"/>
<circle cx="78.70" cy="115.85" r="0.85" fill="#e4e4e4" stroke="#b0b0b0" stroke-width="0.3"/>
<circle cx="88.38" cy="125.11" r="0.85" fill="#e4e4e4" stroke="#b0b0b0" stroke-width="0.3"/>
<circle cx="96.86" cy="116.62" r="0.85" fill="#e4e4e4" stroke="#b0b0b0" stroke-width="0.3"/>
<circle cx="50.17" cy="163.46" r="0.85" fill="#e4e4e4" stroke="#b0b0b0" stroke-width="0.3"/>
<circle cx="45.22" cy="152.99" r="0.85" fill="#e4e4e4" stroke="#b0b0b0" stroke-width="0.3"/>
<circle cx="50.03" cy="163.46" r="0.85" fill="#e4e4e4" stroke="#b0b0b0" stroke-width="0.3"/>
<circle cx="43.60" cy="160.55" r="0.85" fill="#e4e4e4" stroke="#b0b0b0" stroke-width="0.3"/>
<circle cx="45.22" cy="158.51" r="0.85" fill="#e4e4e4" stroke="#b0b0b0" stroke-width="0.3"/>
<circle cx="42.39" cy="155.68" r="0.85" fill="#e4e4e4" stroke="#b0b0b0" stroke-width="0.3"/>
<circle cx="47.20" cy="145.21" r="0.85" fill="#e4e4e4" stroke="#b0b0b0" stroke-width="0.3"/>
<circle cx="36.74" cy="150.02" r="0.85" fill="#e4e4e4" stroke="#b0b0b0" stroke-width="0.3"/>
<circle cx="54.90" cy="144.25" r="0.85" fill="#e4e4e4" stroke="#b0b0b0" stroke-width="0.3"/>
<circle cx="57.81" cy="155.68" r="0.85" fill="#e4e4e4" stroke="#b0b0b0" stroke-width="0.3"/>
<circle cx="50.17" cy="148.04" r="0.85" fill="#e4e4e4" stroke="#b0b0b0" stroke-width="0.3"/>
<circle cx="63.46" cy="150.02" r="0.85" fill="#e4e4e4" stroke="#b0b0b0" stroke-width="0.3"/>
<circle cx="69.12" cy="144.37" r="0.85" fill="#e4e4e4" stroke="#b0b0b0" stroke-width="0.3"/>
<circle cx="61.48" cy="136.73" r="0.85" fill="#e4e4e4" stroke="#b0b0b0" stroke-width="0.3"/>
<circle cx="128.40" cy="160.55" r="0.85" fill="#e4e4e4" stroke="#b0b0b0" stroke-width="0.3"/>
<circle cx="121.78" cy="152.99" r="0.85" fill="#e4e4e4" stroke="#b0b0b0" stroke-width="0.3"/>
<circle cx="124.61" cy="155.82" r="0.85" fill="#e4e4e4" stroke="#b0b0b0" stroke-width="0.3"/>
<circle cx="121.70" cy="157.25" r="0.85" fill="#e4e4e4" stroke="#b0b0b0" stroke-width="0.3"/>
<circle cx="121.70" cy="162.25" r="0.85" fill="#e4e4e4" stroke="#b0b0b0" stroke-width="0.3"/>
<circle cx="116.83" cy="163.46" r="0.85" fill="#e4e4e4" stroke="#b0b0b0" stroke-width="0.3"/>
<circle cx="111.17" cy="169.11" r="0.85" fill="#e4e4e4" stroke="#b0b0b0" stroke-width="0.3"/>
<circle cx="100.71" cy="164.31" r="0.85" fill="#e4e4e4" stroke="#b0b0b0" stroke-width="0.3"/>
<circle cx="115.40" cy="150.95" r="0.85" fill="#e4e4e4" stroke="#b0b0b0" stroke-width="0.3"/>
<circle cx="110.40" cy="160.55" r="0.85" fill="#e4e4e4" stroke="#b0b0b0" stroke-width="0.3"/>
<circle cx="105.40" cy="160.55" r="0.85" fill="#e4e4e4" stroke="#b0b0b0" stroke-width="0.3"/>
<circle cx="106.36" cy="152.85" r="0.85" fill="#e4e4e4" stroke="#b0b0b0" stroke-width="0.3"/>
<circle cx="111.17" cy="142.39" r="0.85" fill="#e4e4e4" stroke="#b0b0b0" stroke-width="0.3"/>
<circle cx="112.10" cy="149.25" r="0.85" fill="#e4e4e4" stroke="#b0b0b0" stroke-width="0.3"/>
<circle cx="124.61" cy="155.68" r="0.85" fill="#e4e4e4" stroke="#b0b0b0" stroke-width="0.3"/>
<circle cx="116.97" cy="148.04" r="0.85" fill="#e4e4e4" stroke="#b0b0b0" stroke-width="0.3"/>
<circle cx="127.44" cy="152.85" r="0.85" fill="#e4e4e4" stroke="#b0b0b0" stroke-width="0.3"/>
<circle cx="119.80" cy="145.21" r="0.85" fill="#e4e4e4" stroke="#b0b0b0" stroke-width="0.3"/>
<circle cx="122.63" cy="142.39" r="0.85" fill="#e4e4e4" stroke="#b0b0b0" stroke-width="0.3"/>
<circle cx="90.00" cy="184.35" r="0.85" fill="#e4e4e4" stroke="#b0b0b0" stroke-width="0.3"/>
<circle cx="91.21" cy="189.22" r="0.85" fill="#e4e4e4" stroke="#b0b0b0" stroke-width="0.3"/>
<circle cx="86.40" cy="199.69" r="0.85" fill="#e4e4e4" stroke="#b0b0b0" stroke-width="0.3"/>
<circle cx="88.30" cy="190.65" r="0.85" fill="#e4e4e4" stroke="#b0b0b0" stroke-width="0.3"/>
<circle cx="88.30" cy="195.65" r="0.85" fill="#e4e4e4" stroke="#b0b0b0" stroke-width="0.3"/>
<circle cx="78.62" cy="186.39" r="0.85" fill="#e4e4e4" stroke="#b0b0b0" stroke-width="0.3"/>
<circle cx="80.60" cy="199.69" r="0.85" fill="#e4e4e4" stroke="#b0b0b0" stroke-width="0.3"/>
<circle cx="77.00" cy="193.95" r="0.85" fill="#e4e4e4" stroke="#b0b0b0" stroke-width="0.3"/>
<circle cx="72.00" cy="193.95" r="0.85" fill="#e4e4e4" stroke="#b0b0b0" stroke-width="0.3"/>
<circle cx="83.43" cy="181.44" r="0.85" fill="#e4e4e4" stroke="#b0b0b0" stroke-width="0.3"/>
<circle cx="77.77" cy="175.79" r="0.85" fill="#e4e4e4" stroke="#b0b0b0" stroke-width="0.3"/>
<circle cx="88.30" cy="187.65" r="0.85" fill="#e4e4e4" stroke="#b0b0b0" stroke-width="0.3"/>
<circle cx="88.30" cy="182.65" r="0.85" fill="#e4e4e4" stroke="#b0b0b0" stroke-width="0.3"/>
<circle cx="88.38" cy="191.91" r="0.85" fill="#e4e4e4" stroke="#b0b0b0" stroke-width="0.3"/>
<circle cx="102.52" cy="177.77" r="0.85" fill="#e4e4e4" stroke="#b0b0b0" stroke-width="0.3"/>
<circle cx="69.62" cy="127.09" r="0.85" fill="#e4e4e4" stroke="#b0b0b0" stroke-width="0.3"/>
<circle cx="66.43" cy="130.27" r="0.85" fill="#e4e4e4" stroke="#b0b0b0" stroke-width="0.3"/>
<circle cx="55.90" cy="126.10" r="0.85" fill="#e4e4e4" stroke="#b0b0b0" stroke-width="0.3"/>
<circle cx="52.72" cy="129.28" r="0.85" fill="#e4e4e4" stroke="#b0b0b0" stroke-width="0.3"/>
<circle cx="104.74" cy="119.73" r="0.85" fill="#e4e4e4" stroke="#b0b0b0" stroke-width="0.3"/>
<circle cx="100.57" cy="130.27" r="0.85" fill="#e4e4e4" stroke="#b0b0b0" stroke-width="0.3"/>
<circle cx="114.28" cy="129.28" r="0.85" fill="#e4e4e4" stroke="#b0b0b0" stroke-width="0.3"/>
<circle cx="110.11" cy="139.82" r="0.85" fill="#e4e4e4" stroke="#b0b0b0" stroke-width="0.3"/>
<circle cx="117.47" cy="132.46" r="0.85" fill="#e4e4e4" stroke="#b0b0b0" stroke-width="0.3"/>
<circle cx="66.43" cy="181.23" r="0.85" fill="#e4e4e4" stroke="#b0b0b0" stroke-width="0.3"/>
<circle cx="63.25" cy="178.05" r="0.85" fill="#e4e4e4" stroke="#b0b0b0" stroke-width="0.3"/>
<circle cx="52.72" cy="182.22" r="0.85" fill="#e4e4e4" stroke="#b0b0b0" stroke-width="0.3"/>
<circle cx="49.53" cy="179.04" r="0.85" fill="#e4e4e4" stroke="#b0b0b0" stroke-width="0.3"/>
<circle cx="97.38" cy="184.41" r="0.85" fill="#e4e4e4" stroke="#b0b0b0" stroke-width="0.3"/>
<circle cx="114.28" cy="182.22" r="0.85" fill="#e4e4e4" stroke="#b0b0b0" stroke-width="0.3"/>
<circle cx="102.20" cy="153.07" r="0.85" fill="#e4e4e4" stroke="#b0b0b0" stroke-width="0.3"/>
<circle cx="93.70" cy="170.89" r="0.85" fill="#e4e4e4" stroke="#b0b0b0" stroke-width="0.3"/>
<circle cx="103.47" cy="160.97" r="0.85" fill="#e4e4e4" stroke="#b0b0b0" stroke-width="0.3"/>
<circle cx="80.89" cy="133.77" r="0.85" fill="#e4e4e4" stroke="#b0b0b0" stroke-width="0.3"/>
<circle cx="58.59" cy="152.91" r="0.85" fill="#e4e4e4" stroke="#b0b0b0" stroke-width="0.3"/>
<circle cx="96.79" cy="163.41" r="0.85" fill="#e4e4e4" stroke="#b0b0b0" stroke-width="0.3"/>
<circle cx="85.72" cy="133.90" r="0.85" fill="#e4e4e4" stroke="#b0b0b0" stroke-width="0.3"/>
<circle cx="57.54" cy="152.61" r="0.85" fill="#e4e4e4" stroke="#b0b0b0" stroke-width="0.3"/>
<circle cx="80.42" cy="174.03" r="0.85" fill="#e4e4e4" stroke="#b0b0b0" stroke-width="0.3"/>
<circle cx="89.81" cy="134.06" r="0.85" fill="#e4e4e4" stroke="#b0b0b0" stroke-width="0.3"/>
<circle cx="78.52" cy="135.39" r="0.85" fill="#e4e4e4" stroke="#b0b0b0" stroke-width="0.3"/>
<circle cx="92.27" cy="140.41" r="0.85" fill="#e4e4e4" stroke="#b0b0b0" stroke-width="0.3"/>
<circle cx="76.59" cy="139.54" r="0.85" fill="#e4e4e4" stroke="#b0b0b0" stroke-width="0.3"/>
<circle cx="65.65" cy="169.24" r="0.85" fill="#e4e4e4" stroke="#b0b0b0" stroke-width="0.3"/>
<circle cx="73.59" cy="134.03" r="0.85" fill="#e4e4e4" stroke="#b0b0b0" stroke-width="0.3"/>
<circle cx="95.35" cy="141.68" r="0.85" fill="#e4e4e4" stroke="#b0b0b0" stroke-width="0.3"/>
<circle cx="64.33" cy="146.76" r="0.85" fill="#e4e4e4" stroke="#b0b0b0" stroke-width="0.3"/>
<circle cx="69.71" cy="168.38" r="0.85" fill="#e4e4e4" stroke="#b0b0b0" stroke-width="0.3"/>
<circle cx="92.76" cy="146.66" r="0.85" fill="#e4e4e4" stroke="#b0b0b0" stroke-width="0.3"/>
<circle cx="52.90" cy="107.94" r="1.50" fill="url(#gC)"/>
<circle cx="51.19" cy="109.62" r="1.55" fill="url(#gC)"/>
<circle cx="59.21" cy="114.36" r="1.50" fill="url(#gC)"/>
<circle cx="60.92" cy="112.68" r="1.55" fill="url(#gC)"/>
<circle cx="65.52" cy="120.78" r="1.50" fill="url(#gC)"/>
<circle cx="63.80" cy="122.46" r="1.55" fill="url(#gC)"/>
<circle cx="35.71" cy="125.13" r="1.50" fill="url(#gC)"/>
<circle cx="34.00" cy="126.82" r="1.55" fill="url(#gC)"/>
<circle cx="42.03" cy="131.54" r="1.50" fill="url(#gC)"/>
<circle cx="43.74" cy="129.85" r="1.55" fill="url(#gC)"/>
<circle cx="48.36" cy="137.94" r="1.50" fill="url(#gC)"/>
<circle cx="46.65" cy="139.62" r="1.55" fill="url(#gC)"/>
<circle cx="114.10" cy="107.94" r="1.50" fill="url(#gC)"/>
<circle cx="112.39" cy="106.26" r="1.55" fill="url(#gC)"/>
<circle cx="107.79" cy="114.36" r="1.50" fill="url(#gC)"/>
<circle cx="109.50" cy="116.04" r="1.55" fill="url(#gC)"/>
<circle cx="101.48" cy="120.78" r="1.50" fill="url(#gC)"/>
<circle cx="99.77" cy="119.10" r="1.55" fill="url(#gC)"/>
<circle cx="131.29" cy="125.13" r="1.50" fill="url(#gC)"/>
<circle cx="129.58" cy="123.45" r="1.55" fill="url(#gC)"/>
<circle cx="124.97" cy="131.54" r="1.50" fill="url(#gC)"/>
<circle cx="126.67" cy="133.22" r="1.55" fill="url(#gC)"/>
<circle cx="118.64" cy="137.94" r="1.50" fill="url(#gC)"/>
<circle cx="116.93" cy="136.25" r="1.55" fill="url(#gC)"/>
<circle cx="52.90" cy="203.56" r="1.50" fill="url(#gC)"/>
<circle cx="54.61" cy="205.24" r="1.55" fill="url(#gC)"/>
<circle cx="59.21" cy="197.14" r="1.50" fill="url(#gC)"/>
<circle cx="57.50" cy="195.46" r="1.55" fill="url(#gC)"/>
<circle cx="65.52" cy="190.72" r="1.50" fill="url(#gC)"/>
<circle cx="67.23" cy="192.40" r="1.55" fill="url(#gC)"/>
<circle cx="35.71" cy="186.37" r="1.50" fill="url(#gC)"/>
<circle cx="37.42" cy="188.05" r="1.55" fill="url(#gC)"/>
<circle cx="42.03" cy="179.96" r="1.50" fill="url(#gC)"/>
<circle cx="40.33" cy="178.28" r="1.55" fill="url(#gC)"/>
<circle cx="48.36" cy="173.56" r="1.50" fill="url(#gC)"/>
<circle cx="50.07" cy="175.25" r="1.55" fill="url(#gC)"/>
<circle cx="114.10" cy="203.56" r="1.50" fill="url(#gC)"/>
<circle cx="115.81" cy="201.88" r="1.55" fill="url(#gC)"/>
<circle cx="107.79" cy="197.14" r="1.50" fill="url(#gC)"/>
<circle cx="106.08" cy="198.82" r="1.55" fill="url(#gC)"/>
<circle cx="101.48" cy="190.72" r="1.50" fill="url(#gC)"/>
<circle cx="103.20" cy="189.04" r="1.55" fill="url(#gC)"/>
<circle cx="131.29" cy="186.37" r="1.50" fill="url(#gC)"/>
<circle cx="133.00" cy="184.68" r="1.55" fill="url(#gC)"/>
<circle cx="124.97" cy="179.96" r="1.50" fill="url(#gC)"/>
<circle cx="123.26" cy="181.65" r="1.55" fill="url(#gC)"/>
<circle cx="118.64" cy="173.56" r="1.50" fill="url(#gC)"/>
<circle cx="120.35" cy="171.88" r="1.55" fill="url(#gC)"/>
<circle cx="85.00" cy="119.75" r="1.60" fill="url(#gC)"/>
<circle cx="86.50" cy="118.55" r="1.50" fill="url(#gC)"/>
<circle cx="95.00" cy="119.75" r="1.60" fill="url(#gC)"/>
<circle cx="96.50" cy="118.55" r="1.50" fill="url(#gC)"/>
<circle cx="82.30" cy="125.67" r="1.60" fill="url(#gC)"/>
<circle cx="82.51" cy="127.58" r="1.50" fill="url(#gC)"/>
<circle cx="85.13" cy="128.50" r="1.60" fill="url(#gC)"/>
<circle cx="85.34" cy="130.41" r="1.50" fill="url(#gC)"/>
<circle cx="89.65" cy="123.98" r="1.60" fill="url(#gC)"/>
<circle cx="91.56" cy="124.19" r="1.50" fill="url(#gC)"/>
<circle cx="87.95" cy="131.33" r="1.60" fill="url(#gC)"/>
<circle cx="88.17" cy="133.24" r="1.50" fill="url(#gC)"/>
<circle cx="90.78" cy="134.16" r="1.60" fill="url(#gC)"/>
<circle cx="91.00" cy="136.07" r="1.50" fill="url(#gC)"/>
<circle cx="95.31" cy="129.63" r="1.60" fill="url(#gC)"/>
<circle cx="97.22" cy="129.85" r="1.50" fill="url(#gC)"/>
<circle cx="100.97" cy="135.29" r="1.60" fill="url(#gC)"/>
<circle cx="102.87" cy="135.50" r="1.50" fill="url(#gC)"/>
<circle cx="80.90" cy="123.85" r="1.60" fill="url(#gC)"/>
<circle cx="79.70" cy="125.35" r="1.50" fill="url(#gC)"/>
<circle cx="80.18" cy="121.15" r="1.60" fill="url(#gC)"/>
<circle cx="78.27" cy="121.36" r="1.50" fill="url(#gC)"/>
<circle cx="68.86" cy="132.46" r="1.60" fill="url(#gC)"/>
<circle cx="66.95" cy="132.67" r="1.50" fill="url(#gC)"/>
<circle cx="70.56" cy="139.82" r="1.60" fill="url(#gC)"/>
<circle cx="70.35" cy="141.72" r="1.50" fill="url(#gC)"/>
<circle cx="84.70" cy="119.03" r="1.60" fill="url(#gC)"/>
<circle cx="84.49" cy="117.12" r="1.50" fill="url(#gC)"/>
<circle cx="80.18" cy="123.55" r="1.60" fill="url(#gC)"/>
<circle cx="78.27" cy="123.34" r="1.50" fill="url(#gC)"/>
<circle cx="81.87" cy="116.20" r="1.60" fill="url(#gC)"/>
<circle cx="81.66" cy="114.29" r="1.50" fill="url(#gC)"/>
<circle cx="79.05" cy="113.37" r="1.60" fill="url(#gC)"/>
<circle cx="78.83" cy="111.46" r="1.50" fill="url(#gC)"/>
<circle cx="74.52" cy="117.90" r="1.60" fill="url(#gC)"/>
<circle cx="72.61" cy="117.68" r="1.50" fill="url(#gC)"/>
<circle cx="76.22" cy="110.54" r="1.60" fill="url(#gC)"/>
<circle cx="76.00" cy="108.63" r="1.50" fill="url(#gC)"/>
<circle cx="86.10" cy="120.85" r="1.60" fill="url(#gC)"/>
<circle cx="87.30" cy="119.35" r="1.50" fill="url(#gC)"/>
<circle cx="86.10" cy="115.85" r="1.60" fill="url(#gC)"/>
<circle cx="87.30" cy="114.35" r="1.50" fill="url(#gC)"/>
<circle cx="80.90" cy="115.85" r="1.60" fill="url(#gC)"/>
<circle cx="79.70" cy="114.35" r="1.50" fill="url(#gC)"/>
<circle cx="86.82" cy="123.55" r="1.60" fill="url(#gC)"/>
<circle cx="88.73" cy="123.34" r="1.50" fill="url(#gC)"/>
<circle cx="89.65" cy="120.72" r="1.60" fill="url(#gC)"/>
<circle cx="91.56" cy="120.51" r="1.50" fill="url(#gC)"/>
<circle cx="85.13" cy="116.20" r="1.60" fill="url(#gC)"/>
<circle cx="85.34" cy="114.29" r="1.50" fill="url(#gC)"/>
<circle cx="87.95" cy="113.37" r="1.60" fill="url(#gC)"/>
<circle cx="88.17" cy="111.46" r="1.50" fill="url(#gC)"/>
<circle cx="95.31" cy="115.07" r="1.60" fill="url(#gC)"/>
<circle cx="97.22" cy="114.85" r="1.50" fill="url(#gC)"/>
<circle cx="51.60" cy="153.15" r="1.60" fill="url(#gC)"/>
<circle cx="53.10" cy="151.95" r="1.50" fill="url(#gC)"/>
<circle cx="51.73" cy="161.90" r="1.60" fill="url(#gC)"/>
<circle cx="51.94" cy="163.81" r="1.50" fill="url(#gC)"/>
<circle cx="54.55" cy="164.73" r="1.60" fill="url(#gC)"/>
<circle cx="54.77" cy="166.64" r="1.50" fill="url(#gC)"/>
<circle cx="61.91" cy="163.03" r="1.60" fill="url(#gC)"/>
<circle cx="63.82" cy="163.25" r="1.50" fill="url(#gC)"/>
<circle cx="64.74" cy="165.86" r="1.60" fill="url(#gC)"/>
<circle cx="66.65" cy="166.07" r="1.50" fill="url(#gC)"/>
<circle cx="47.50" cy="157.25" r="1.60" fill="url(#gC)"/>
<circle cx="46.30" cy="158.75" r="1.50" fill="url(#gC)"/>
<circle cx="46.78" cy="154.55" r="1.60" fill="url(#gC)"/>
<circle cx="44.87" cy="154.76" r="1.50" fill="url(#gC)"/>
<circle cx="51.30" cy="159.07" r="1.60" fill="url(#gC)"/>
<circle cx="51.09" cy="160.98" r="1.50" fill="url(#gC)"/>
<circle cx="43.95" cy="157.38" r="1.60" fill="url(#gC)"/>
<circle cx="42.04" cy="157.59" r="1.50" fill="url(#gC)"/>
<circle cx="48.47" cy="161.90" r="1.60" fill="url(#gC)"/>
<circle cx="48.26" cy="163.81" r="1.50" fill="url(#gC)"/>
<circle cx="41.12" cy="160.20" r="1.60" fill="url(#gC)"/>
<circle cx="39.21" cy="160.42" r="1.50" fill="url(#gC)"/>
<circle cx="45.65" cy="164.73" r="1.60" fill="url(#gC)"/>
<circle cx="45.43" cy="166.64" r="1.50" fill="url(#gC)"/>
<circle cx="38.29" cy="163.03" r="1.60" fill="url(#gC)"/>
<circle cx="36.38" cy="163.25" r="1.50" fill="url(#gC)"/>
<circle cx="48.60" cy="153.15" r="1.60" fill="url(#gC)"/>
<circle cx="47.10" cy="151.95" r="1.50" fill="url(#gC)"/>
<circle cx="43.60" cy="158.35" r="1.60" fill="url(#gC)"/>
<circle cx="42.10" cy="159.55" r="1.50" fill="url(#gC)"/>
<circle cx="51.30" cy="152.43" r="1.60" fill="url(#gC)"/>
<circle cx="51.09" cy="150.52" r="1.50" fill="url(#gC)"/>
<circle cx="46.78" cy="156.95" r="1.60" fill="url(#gC)"/>
<circle cx="44.87" cy="156.74" r="1.50" fill="url(#gC)"/>
<circle cx="48.47" cy="149.60" r="1.60" fill="url(#gC)"/>
<circle cx="48.26" cy="147.69" r="1.50" fill="url(#gC)"/>
<circle cx="43.95" cy="154.12" r="1.60" fill="url(#gC)"/>
<circle cx="42.04" cy="153.91" r="1.50" fill="url(#gC)"/>
<circle cx="45.65" cy="146.77" r="1.60" fill="url(#gC)"/>
<circle cx="45.43" cy="144.86" r="1.50" fill="url(#gC)"/>
<circle cx="38.29" cy="148.47" r="1.60" fill="url(#gC)"/>
<circle cx="36.38" cy="148.25" r="1.50" fill="url(#gC)"/>
<circle cx="52.70" cy="144.25" r="1.60" fill="url(#gC)"/>
<circle cx="53.90" cy="142.75" r="1.50" fill="url(#gC)"/>
<circle cx="56.25" cy="154.12" r="1.60" fill="url(#gC)"/>
<circle cx="58.16" cy="153.91" r="1.50" fill="url(#gC)"/>
<circle cx="51.73" cy="149.60" r="1.60" fill="url(#gC)"/>
<circle cx="51.94" cy="147.69" r="1.50" fill="url(#gC)"/>
<circle cx="59.08" cy="151.30" r="1.60" fill="url(#gC)"/>
<circle cx="60.99" cy="151.08" r="1.50" fill="url(#gC)"/>
<circle cx="61.91" cy="148.47" r="1.60" fill="url(#gC)"/>
<circle cx="63.82" cy="148.25" r="1.50" fill="url(#gC)"/>
<circle cx="64.74" cy="145.64" r="1.60" fill="url(#gC)"/>
<circle cx="66.65" cy="145.43" r="1.50" fill="url(#gC)"/>
<circle cx="67.57" cy="142.81" r="1.60" fill="url(#gC)"/>
<circle cx="69.47" cy="142.60" r="1.50" fill="url(#gC)"/>
<circle cx="63.04" cy="138.28" r="1.60" fill="url(#gC)"/>
<circle cx="63.25" cy="136.38" r="1.50" fill="url(#gC)"/>
<circle cx="118.40" cy="158.35" r="1.60" fill="url(#gC)"/>
<circle cx="119.90" cy="159.55" r="1.50" fill="url(#gC)"/>
<circle cx="128.40" cy="158.35" r="1.60" fill="url(#gC)"/>
<circle cx="129.90" cy="159.55" r="1.50" fill="url(#gC)"/>
<circle cx="120.22" cy="154.55" r="1.60" fill="url(#gC)"/>
<circle cx="122.13" cy="154.76" r="1.50" fill="url(#gC)"/>
<circle cx="123.05" cy="157.38" r="1.60" fill="url(#gC)"/>
<circle cx="124.96" cy="157.59" r="1.50" fill="url(#gC)"/>
<circle cx="121.35" cy="164.73" r="1.60" fill="url(#gC)"/>
<circle cx="121.57" cy="166.64" r="1.50" fill="url(#gC)"/>
<circle cx="124.18" cy="167.56" r="1.60" fill="url(#gC)"/>
<circle cx="124.40" cy="169.47" r="1.50" fill="url(#gC)"/>
<circle cx="128.71" cy="163.03" r="1.60" fill="url(#gC)"/>
<circle cx="130.62" cy="163.25" r="1.50" fill="url(#gC)"/>
<circle cx="114.30" cy="157.25" r="1.60" fill="url(#gC)"/>
<circle cx="113.10" cy="158.75" r="1.50" fill="url(#gC)"/>
<circle cx="119.50" cy="157.25" r="1.60" fill="url(#gC)"/>
<circle cx="120.70" cy="158.75" r="1.50" fill="url(#gC)"/>
<circle cx="114.30" cy="162.25" r="1.60" fill="url(#gC)"/>
<circle cx="113.10" cy="163.75" r="1.50" fill="url(#gC)"/>
<circle cx="119.50" cy="162.25" r="1.60" fill="url(#gC)"/>
<circle cx="120.70" cy="163.75" r="1.50" fill="url(#gC)"/>
<circle cx="115.27" cy="161.90" r="1.60" fill="url(#gC)"/>
<circle cx="115.06" cy="163.81" r="1.50" fill="url(#gC)"/>
<circle cx="112.45" cy="164.73" r="1.60" fill="url(#gC)"/>
<circle cx="112.23" cy="166.64" r="1.50" fill="url(#gC)"/>
<circle cx="109.62" cy="167.56" r="1.60" fill="url(#gC)"/>
<circle cx="109.40" cy="169.47" r="1.50" fill="url(#gC)"/>
<circle cx="102.26" cy="165.86" r="1.60" fill="url(#gC)"/>
<circle cx="100.35" cy="166.07" r="1.50" fill="url(#gC)"/>
<circle cx="99.43" cy="168.69" r="1.60" fill="url(#gC)"/>
<circle cx="97.53" cy="168.90" r="1.50" fill="url(#gC)"/>
<circle cx="103.96" cy="173.22" r="1.60" fill="url(#gC)"/>
<circle cx="103.75" cy="175.12" r="1.50" fill="url(#gC)"/>
<circle cx="115.40" cy="153.15" r="1.60" fill="url(#gC)"/>
<circle cx="113.90" cy="151.95" r="1.50" fill="url(#gC)"/>
<circle cx="110.40" cy="158.35" r="1.60" fill="url(#gC)"/>
<circle cx="108.90" cy="159.55" r="1.50" fill="url(#gC)"/>
<circle cx="105.40" cy="158.35" r="1.60" fill="url(#gC)"/>
<circle cx="103.90" cy="159.55" r="1.50" fill="url(#gC)"/>
<circle cx="110.75" cy="154.12" r="1.60" fill="url(#gC)"/>
<circle cx="108.84" cy="153.91" r="1.50" fill="url(#gC)"/>
<circle cx="107.92" cy="151.30" r="1.60" fill="url(#gC)"/>
<circle cx="106.01" cy="151.08" r="1.50" fill="url(#gC)"/>
<circle cx="109.62" cy="143.94" r="1.60" fill="url(#gC)"/>
<circle cx="109.40" cy="142.03" r="1.50" fill="url(#gC)"/>
<circle cx="105.09" cy="148.47" r="1.60" fill="url(#gC)"/>
<circle cx="103.18" cy="148.25" r="1.50" fill="url(#gC)"/>
<circle cx="106.79" cy="141.11" r="1.60" fill="url(#gC)"/>
<circle cx="106.58" cy="139.20" r="1.50" fill="url(#gC)"/>
<circle cx="119.50" cy="154.25" r="1.60" fill="url(#gC)"/>
<circle cx="120.70" cy="152.75" r="1.50" fill="url(#gC)"/>
<circle cx="119.50" cy="149.25" r="1.60" fill="url(#gC)"/>
<circle cx="120.70" cy="147.75" r="1.50" fill="url(#gC)"/>
<circle cx="114.30" cy="149.25" r="1.60" fill="url(#gC)"/>
<circle cx="113.10" cy="147.75" r="1.50" fill="url(#gC)"/>
<circle cx="120.22" cy="156.95" r="1.60" fill="url(#gC)"/>
<circle cx="122.13" cy="156.74" r="1.50" fill="url(#gC)"/>
<circle cx="123.05" cy="154.12" r="1.60" fill="url(#gC)"/>
<circle cx="124.96" cy="153.91" r="1.50" fill="url(#gC)"/>
<circle cx="118.53" cy="149.60" r="1.60" fill="url(#gC)"/>
<circle cx="118.74" cy="147.69" r="1.50" fill="url(#gC)"/>
<circle cx="125.88" cy="151.30" r="1.60" fill="url(#gC)"/>
<circle cx="127.79" cy="151.08" r="1.50" fill="url(#gC)"/>
<circle cx="121.35" cy="146.77" r="1.60" fill="url(#gC)"/>
<circle cx="121.57" cy="144.86" r="1.50" fill="url(#gC)"/>
<circle cx="124.18" cy="143.94" r="1.60" fill="url(#gC)"/>
<circle cx="124.40" cy="142.03" r="1.50" fill="url(#gC)"/>
<circle cx="85.00" cy="191.75" r="1.60" fill="url(#gC)"/>
<circle cx="86.50" cy="192.95" r="1.50" fill="url(#gC)"/>
<circle cx="85.00" cy="186.55" r="1.60" fill="url(#gC)"/>
<circle cx="86.50" cy="185.35" r="1.50" fill="url(#gC)"/>
<circle cx="90.00" cy="186.55" r="1.60" fill="url(#gC)"/>
<circle cx="91.50" cy="185.35" r="1.50" fill="url(#gC)"/>
<circle cx="95.00" cy="186.55" r="1.60" fill="url(#gC)"/>
<circle cx="96.50" cy="185.35" r="1.50" fill="url(#gC)"/>
<circle cx="86.82" cy="187.95" r="1.60" fill="url(#gC)"/>
<circle cx="88.73" cy="188.16" r="1.50" fill="url(#gC)"/>
<circle cx="89.65" cy="190.78" r="1.60" fill="url(#gC)"/>
<circle cx="91.56" cy="190.99" r="1.50" fill="url(#gC)"/>
<circle cx="87.95" cy="198.13" r="1.60" fill="url(#gC)"/>
<circle cx="88.17" cy="200.04" r="1.50" fill="url(#gC)"/>
<circle cx="92.48" cy="193.60" r="1.60" fill="url(#gC)"/>
<circle cx="94.39" cy="193.82" r="1.50" fill="url(#gC)"/>
<circle cx="90.78" cy="200.96" r="1.60" fill="url(#gC)"/>
<circle cx="91.00" cy="202.87" r="1.50" fill="url(#gC)"/>
<circle cx="95.31" cy="196.43" r="1.60" fill="url(#gC)"/>
<circle cx="97.22" cy="196.65" r="1.50" fill="url(#gC)"/>
<circle cx="80.90" cy="190.65" r="1.60" fill="url(#gC)"/>
<circle cx="79.70" cy="192.15" r="1.50" fill="url(#gC)"/>
<circle cx="86.10" cy="190.65" r="1.60" fill="url(#gC)"/>
<circle cx="87.30" cy="192.15" r="1.50" fill="url(#gC)"/>
<circle cx="86.10" cy="195.65" r="1.60" fill="url(#gC)"/>
<circle cx="87.30" cy="197.15" r="1.50" fill="url(#gC)"/>
<circle cx="80.18" cy="187.95" r="1.60" fill="url(#gC)"/>
<circle cx="78.27" cy="188.16" r="1.50" fill="url(#gC)"/>
<circle cx="84.70" cy="192.47" r="1.60" fill="url(#gC)"/>
<circle cx="84.49" cy="194.38" r="1.50" fill="url(#gC)"/>
<circle cx="81.87" cy="195.30" r="1.60" fill="url(#gC)"/>
<circle cx="81.66" cy="197.21" r="1.50" fill="url(#gC)"/>
<circle cx="74.52" cy="193.60" r="1.60" fill="url(#gC)"/>
<circle cx="72.61" cy="193.82" r="1.50" fill="url(#gC)"/>
<circle cx="79.05" cy="198.13" r="1.60" fill="url(#gC)"/>
<circle cx="78.83" cy="200.04" r="1.50" fill="url(#gC)"/>
<circle cx="71.69" cy="196.43" r="1.60" fill="url(#gC)"/>
<circle cx="69.78" cy="196.65" r="1.50" fill="url(#gC)"/>
<circle cx="82.00" cy="191.75" r="1.60" fill="url(#gC)"/>
<circle cx="80.50" cy="192.95" r="1.50" fill="url(#gC)"/>
<circle cx="77.00" cy="191.75" r="1.60" fill="url(#gC)"/>
<circle cx="75.50" cy="192.95" r="1.50" fill="url(#gC)"/>
<circle cx="72.00" cy="191.75" r="1.60" fill="url(#gC)"/>
<circle cx="70.50" cy="192.95" r="1.50" fill="url(#gC)"/>
<circle cx="81.87" cy="183.00" r="1.60" fill="url(#gC)"/>
<circle cx="81.66" cy="181.09" r="1.50" fill="url(#gC)"/>
<circle cx="74.52" cy="184.70" r="1.60" fill="url(#gC)"/>
<circle cx="72.61" cy="184.48" r="1.50" fill="url(#gC)"/>
<circle cx="76.22" cy="177.34" r="1.60" fill="url(#gC)"/>
<circle cx="76.00" cy="175.43" r="1.50" fill="url(#gC)"/>
<circle cx="73.39" cy="174.51" r="1.60" fill="url(#gC)"/>
<circle cx="73.18" cy="172.60" r="1.50" fill="url(#gC)"/>
<circle cx="70.56" cy="171.68" r="1.60" fill="url(#gC)"/>
<circle cx="70.35" cy="169.78" r="1.50" fill="url(#gC)"/>
<circle cx="86.10" cy="187.65" r="1.60" fill="url(#gC)"/>
<circle cx="87.30" cy="186.15" r="1.50" fill="url(#gC)"/>
<circle cx="86.10" cy="182.65" r="1.60" fill="url(#gC)"/>
<circle cx="87.30" cy="181.15" r="1.50" fill="url(#gC)"/>
<circle cx="86.10" cy="177.65" r="1.60" fill="url(#gC)"/>
<circle cx="87.30" cy="176.15" r="1.50" fill="url(#gC)"/>
<circle cx="80.90" cy="177.65" r="1.60" fill="url(#gC)"/>
<circle cx="79.70" cy="176.15" r="1.50" fill="url(#gC)"/>
<circle cx="86.82" cy="190.35" r="1.60" fill="url(#gC)"/>
<circle cx="88.73" cy="190.14" r="1.50" fill="url(#gC)"/>
<circle cx="89.65" cy="187.52" r="1.60" fill="url(#gC)"/>
<circle cx="91.56" cy="187.31" r="1.50" fill="url(#gC)"/>
<circle cx="95.31" cy="181.87" r="1.60" fill="url(#gC)"/>
<circle cx="97.22" cy="181.65" r="1.50" fill="url(#gC)"/>
<circle cx="93.61" cy="174.51" r="1.60" fill="url(#gC)"/>
<circle cx="93.82" cy="172.60" r="1.50" fill="url(#gC)"/>
<circle cx="100.97" cy="176.21" r="1.60" fill="url(#gC)"/>
<circle cx="102.87" cy="176.00" r="1.50" fill="url(#gC)"/>
<circle cx="68.06" cy="125.53" r="1.60" fill="url(#gC)"/>
<circle cx="67.85" cy="127.44" r="1.50" fill="url(#gC)"/>
<circle cx="64.88" cy="128.71" r="1.60" fill="url(#gC)"/>
<circle cx="64.67" cy="130.62" r="1.50" fill="url(#gC)"/>
<circle cx="57.45" cy="127.65" r="1.60" fill="url(#gC)"/>
<circle cx="55.54" cy="127.87" r="1.50" fill="url(#gC)"/>
<circle cx="61.70" cy="131.90" r="1.60" fill="url(#gC)"/>
<circle cx="61.48" cy="133.81" r="1.50" fill="url(#gC)"/>
<circle cx="54.27" cy="130.84" r="1.60" fill="url(#gC)"/>
<circle cx="52.36" cy="131.05" r="1.50" fill="url(#gC)"/>
<circle cx="58.51" cy="135.08" r="1.60" fill="url(#gC)"/>
<circle cx="58.30" cy="136.99" r="1.50" fill="url(#gC)"/>
<circle cx="103.18" cy="121.29" r="1.60" fill="url(#gC)"/>
<circle cx="105.09" cy="121.50" r="1.50" fill="url(#gC)"/>
<circle cx="102.12" cy="128.71" r="1.60" fill="url(#gC)"/>
<circle cx="102.33" cy="130.62" r="1.50" fill="url(#gC)"/>
<circle cx="109.55" cy="127.65" r="1.60" fill="url(#gC)"/>
<circle cx="111.46" cy="127.87" r="1.50" fill="url(#gC)"/>
<circle cx="108.49" cy="135.08" r="1.60" fill="url(#gC)"/>
<circle cx="108.70" cy="136.99" r="1.50" fill="url(#gC)"/>
<circle cx="112.73" cy="130.84" r="1.60" fill="url(#gC)"/>
<circle cx="114.64" cy="131.05" r="1.50" fill="url(#gC)"/>
<circle cx="111.67" cy="138.26" r="1.60" fill="url(#gC)"/>
<circle cx="111.88" cy="140.17" r="1.50" fill="url(#gC)"/>
<circle cx="115.91" cy="134.02" r="1.60" fill="url(#gC)"/>
<circle cx="117.82" cy="134.23" r="1.50" fill="url(#gC)"/>
<circle cx="68.06" cy="185.97" r="1.60" fill="url(#gC)"/>
<circle cx="67.85" cy="184.06" r="1.50" fill="url(#gC)"/>
<circle cx="64.88" cy="182.79" r="1.60" fill="url(#gC)"/>
<circle cx="64.67" cy="180.88" r="1.50" fill="url(#gC)"/>
<circle cx="60.64" cy="187.03" r="1.60" fill="url(#gC)"/>
<circle cx="58.73" cy="186.82" r="1.50" fill="url(#gC)"/>
<circle cx="61.70" cy="179.60" r="1.60" fill="url(#gC)"/>
<circle cx="61.48" cy="177.69" r="1.50" fill="url(#gC)"/>
<circle cx="54.27" cy="180.66" r="1.60" fill="url(#gC)"/>
<circle cx="52.36" cy="180.45" r="1.50" fill="url(#gC)"/>
<circle cx="51.09" cy="177.48" r="1.60" fill="url(#gC)"/>
<circle cx="49.18" cy="177.27" r="1.50" fill="url(#gC)"/>
<circle cx="103.18" cy="190.21" r="1.60" fill="url(#gC)"/>
<circle cx="105.09" cy="190.00" r="1.50" fill="url(#gC)"/>
<circle cx="98.94" cy="185.97" r="1.60" fill="url(#gC)"/>
<circle cx="99.15" cy="184.06" r="1.50" fill="url(#gC)"/>
<circle cx="106.36" cy="187.03" r="1.60" fill="url(#gC)"/>
<circle cx="108.27" cy="186.82" r="1.50" fill="url(#gC)"/>
<circle cx="105.30" cy="179.60" r="1.60" fill="url(#gC)"/>
<circle cx="105.52" cy="177.69" r="1.50" fill="url(#gC)"/>
<circle cx="112.73" cy="180.66" r="1.60" fill="url(#gC)"/>
<circle cx="114.64" cy="180.45" r="1.50" fill="url(#gC)"/>
<circle cx="108.49" cy="176.42" r="1.60" fill="url(#gC)"/>
<circle cx="108.70" cy="174.51" r="1.50" fill="url(#gC)"/>
<circle cx="115.91" cy="177.48" r="1.60" fill="url(#gC)"/>
<circle cx="117.82" cy="177.27" r="1.50" fill="url(#gC)"/>
<circle cx="104.60" cy="154.43" r="1.55" fill="url(#gC)"/>
<circle cx="102.34" cy="155.72" r="1.55" fill="url(#gC)"/>
<circle cx="102.37" cy="153.12" r="1.55" fill="url(#gC)"/>
<circle cx="90.89" cy="136.53" r="1.55" fill="url(#gC)"/>
<circle cx="90.00" cy="138.97" r="1.55" fill="url(#gC)"/>
<circle cx="88.34" cy="136.96" r="1.55" fill="url(#gC)"/>
<circle cx="91.65" cy="170.78" r="1.55" fill="url(#gC)"/>
<circle cx="92.72" cy="173.15" r="1.55" fill="url(#gC)"/>
<circle cx="90.13" cy="172.88" r="1.55" fill="url(#gC)"/>
<circle cx="103.04" cy="158.13" r="1.55" fill="url(#gC)"/>
<circle cx="105.64" cy="157.92" r="1.55" fill="url(#gC)"/>
<circle cx="104.51" cy="160.27" r="1.55" fill="url(#gC)"/>
<circle cx="80.50" cy="132.02" r="1.55" fill="url(#gC)"/>
<circle cx="82.60" cy="130.48" r="1.55" fill="url(#gC)"/>
<circle cx="90.81" cy="132.47" r="1.55" fill="url(#gC)"/>
<circle cx="91.64" cy="134.93" r="1.55" fill="url(#gC)"/>
<circle cx="82.70" cy="137.51" r="1.55" fill="url(#gC)"/>
<circle cx="84.24" cy="135.42" r="1.55" fill="url(#gC)"/>
<circle cx="85.27" cy="137.81" r="1.55" fill="url(#gC)"/>
<circle cx="83.31" cy="136.51" r="1.55" fill="url(#gC)"/>
<circle cx="85.91" cy="136.68" r="1.55" fill="url(#gC)"/>
<circle cx="84.45" cy="138.84" r="1.55" fill="url(#gC)"/>
<circle cx="76.54" cy="144.38" r="1.55" fill="url(#gC)"/>
<circle cx="75.22" cy="142.14" r="1.55" fill="url(#gC)"/>
<circle cx="60.11" cy="153.03" r="1.55" fill="url(#gC)"/>
<circle cx="57.82" cy="151.80" r="1.55" fill="url(#gC)"/>
<circle cx="96.39" cy="164.25" r="1.55" fill="url(#gC)"/>
<circle cx="98.75" cy="165.36" r="1.55" fill="url(#gC)"/>
<circle cx="96.60" cy="166.83" r="1.55" fill="url(#gC)"/>
<circle cx="86.40" cy="130.60" r="1.55" fill="url(#gC)"/>
<circle cx="86.39" cy="133.20" r="1.55" fill="url(#gC)"/>
<circle cx="64.30" cy="152.72" r="1.55" fill="url(#gC)"/>
<circle cx="65.56" cy="155.00" r="1.55" fill="url(#gC)"/>
<circle cx="90.20" cy="134.92" r="1.55" fill="url(#gC)"/>
<circle cx="89.50" cy="132.41" r="1.55" fill="url(#gC)"/>
<circle cx="92.02" cy="133.08" r="1.55" fill="url(#gC)"/>
<circle cx="57.90" cy="149.94" r="1.55" fill="url(#gC)"/>
<circle cx="60.23" cy="151.09" r="1.55" fill="url(#gC)"/>
<circle cx="76.73" cy="172.27" r="1.55" fill="url(#gC)"/>
<circle cx="79.31" cy="171.93" r="1.55" fill="url(#gC)"/>
<circle cx="90.22" cy="133.13" r="1.55" fill="url(#gC)"/>
<circle cx="92.56" cy="134.26" r="1.55" fill="url(#gC)"/>
<circle cx="75.55" cy="139.53" r="1.55" fill="url(#gC)"/>
<circle cx="73.46" cy="137.98" r="1.55" fill="url(#gC)"/>
<circle cx="75.85" cy="136.95" r="1.55" fill="url(#gC)"/>
<circle cx="76.42" cy="136.81" r="1.55" fill="url(#gC)"/>
<circle cx="77.69" cy="134.54" r="1.55" fill="url(#gC)"/>
<circle cx="90.19" cy="139.82" r="1.55" fill="url(#gC)"/>
<circle cx="90.57" cy="137.25" r="1.55" fill="url(#gC)"/>
<circle cx="92.60" cy="138.87" r="1.55" fill="url(#gC)"/>
<circle cx="97.01" cy="145.92" r="1.55" fill="url(#gC)"/>
<circle cx="98.42" cy="148.11" r="1.55" fill="url(#gC)"/>
<circle cx="79.46" cy="170.56" r="1.55" fill="url(#gC)"/>
<circle cx="80.84" cy="172.77" r="1.55" fill="url(#gC)"/>
<circle cx="77.35" cy="142.52" r="1.55" fill="url(#gC)"/>
<circle cx="74.89" cy="141.67" r="1.55" fill="url(#gC)"/>
<circle cx="76.86" cy="139.98" r="1.55" fill="url(#gC)"/>
<circle cx="71.65" cy="169.90" r="1.55" fill="url(#gC)"/>
<circle cx="69.88" cy="171.81" r="1.55" fill="url(#gC)"/>
<circle cx="69.13" cy="169.32" r="1.55" fill="url(#gC)"/>
<circle cx="88.88" cy="174.35" r="1.55" fill="url(#gC)"/>
<circle cx="91.21" cy="175.51" r="1.55" fill="url(#gC)"/>
<circle cx="76.50" cy="137.69" r="1.55" fill="url(#gC)"/>
<circle cx="74.12" cy="138.74" r="1.55" fill="url(#gC)"/>
<circle cx="67.41" cy="165.63" r="1.55" fill="url(#gC)"/>
<circle cx="66.62" cy="163.15" r="1.55" fill="url(#gC)"/>
<circle cx="69.16" cy="163.72" r="1.55" fill="url(#gC)"/>
<circle cx="75.35" cy="176.13" r="1.55" fill="url(#gC)"/>
<circle cx="77.42" cy="174.56" r="1.55" fill="url(#gC)"/>
<circle cx="77.73" cy="177.14" r="1.55" fill="url(#gC)"/>
<circle cx="67.81" cy="166.29" r="1.55" fill="url(#gC)"/>
<circle cx="66.77" cy="168.68" r="1.55" fill="url(#gC)"/>
<circle cx="74.21" cy="137.99" r="1.55" fill="url(#gC)"/>
<circle cx="72.09" cy="136.48" r="1.55" fill="url(#gC)"/>
<circle cx="74.17" cy="135.84" r="1.55" fill="url(#gC)"/>
<circle cx="76.31" cy="134.35" r="1.55" fill="url(#gC)"/>
<circle cx="76.51" cy="136.95" r="1.55" fill="url(#gC)"/>
<circle cx="95.19" cy="138.81" r="1.55" fill="url(#gC)"/>
<circle cx="95.54" cy="141.39" r="1.55" fill="url(#gC)"/>
<circle cx="93.13" cy="140.39" r="1.55" fill="url(#gC)"/>
<circle cx="89.24" cy="173.35" r="1.55" fill="url(#gC)"/>
<circle cx="91.59" cy="174.46" r="1.55" fill="url(#gC)"/>
<circle cx="65.66" cy="146.04" r="1.55" fill="url(#gC)"/>
<circle cx="64.70" cy="143.62" r="1.55" fill="url(#gC)"/>
<circle cx="71.09" cy="168.47" r="1.55" fill="url(#gC)"/>
<circle cx="72.95" cy="170.29" r="1.55" fill="url(#gC)"/>
<circle cx="70.44" cy="170.98" r="1.55" fill="url(#gC)"/>
<circle cx="101.80" cy="148.52" r="1.55" fill="url(#gC)"/>
<circle cx="99.23" cy="148.12" r="1.55" fill="url(#gC)"/>
<circle cx="100.88" cy="146.10" r="1.55" fill="url(#gC)"/>
<circle cx="94.32" cy="145.11" r="1.60" fill="url(#gC)"/>
<circle cx="94.53" cy="147.02" r="1.50" fill="url(#gC)"/>
<circle cx="102.10" cy="152.89" r="1.60" fill="url(#gC)"/>
<circle cx="102.31" cy="154.80" r="1.50" fill="url(#gC)"/>
<circle cx="101.92" cy="158.79" r="1.60" fill="url(#gC)"/>
<circle cx="100.01" cy="159.00" r="1.50" fill="url(#gC)"/>
<circle cx="94.14" cy="166.57" r="1.60" fill="url(#gC)"/>
<circle cx="92.23" cy="166.78" r="1.50" fill="url(#gC)"/>
<circle cx="80.46" cy="174.17" r="1.60" fill="url(#gC)"/>
<circle cx="80.25" cy="172.26" r="1.50" fill="url(#gC)"/>
<circle cx="76.57" cy="170.28" r="1.60" fill="url(#gC)"/>
<circle cx="76.36" cy="168.37" r="1.50" fill="url(#gC)"/>
<circle cx="72.68" cy="166.39" r="1.60" fill="url(#gC)"/>
<circle cx="72.47" cy="164.48" r="1.50" fill="url(#gC)"/>
<circle cx="64.90" cy="158.61" r="1.60" fill="url(#gC)"/>
<circle cx="64.69" cy="156.70" r="1.50" fill="url(#gC)"/>
<circle cx="68.97" cy="148.82" r="1.60" fill="url(#gC)"/>
<circle cx="70.88" cy="148.61" r="1.50" fill="url(#gC)"/>
<circle cx="50.80" cy="105.80" r="1.45" fill="url(#gN)"/>
<circle cx="55.00" cy="110.08" r="1.45" fill="url(#gN)"/>
<circle cx="57.11" cy="112.22" r="1.45" fill="url(#gN)"/>
<circle cx="61.31" cy="116.50" r="1.45" fill="url(#gN)"/>
<circle cx="63.41" cy="118.64" r="1.45" fill="url(#gN)"/>
<circle cx="33.60" cy="123.00" r="1.45" fill="url(#gN)"/>
<circle cx="37.82" cy="127.27" r="1.45" fill="url(#gN)"/>
<circle cx="39.93" cy="129.40" r="1.45" fill="url(#gN)"/>
<circle cx="44.14" cy="133.67" r="1.45" fill="url(#gN)"/>
<circle cx="46.25" cy="135.80" r="1.45" fill="url(#gN)"/>
<circle cx="116.20" cy="105.80" r="1.45" fill="url(#gN)"/>
<circle cx="112.00" cy="110.08" r="1.45" fill="url(#gN)"/>
<circle cx="109.89" cy="112.22" r="1.45" fill="url(#gN)"/>
<circle cx="105.69" cy="116.50" r="1.45" fill="url(#gN)"/>
<circle cx="103.59" cy="118.64" r="1.45" fill="url(#gN)"/>
<circle cx="133.40" cy="123.00" r="1.45" fill="url(#gN)"/>
<circle cx="129.18" cy="127.27" r="1.45" fill="url(#gN)"/>
<circle cx="127.07" cy="129.40" r="1.45" fill="url(#gN)"/>
<circle cx="122.86" cy="133.67" r="1.45" fill="url(#gN)"/>
<circle cx="120.75" cy="135.80" r="1.45" fill="url(#gN)"/>
<circle cx="50.80" cy="205.70" r="1.45" fill="url(#gN)"/>
<circle cx="55.00" cy="201.42" r="1.45" fill="url(#gN)"/>
<circle cx="57.11" cy="199.28" r="1.45" fill="url(#gN)"/>
<circle cx="61.31" cy="195.00" r="1.45" fill="url(#gN)"/>
<circle cx="63.41" cy="192.86" r="1.45" fill="url(#gN)"/>
<circle cx="33.60" cy="188.50" r="1.45" fill="url(#gN)"/>
<circle cx="37.82" cy="184.23" r="1.45" fill="url(#gN)"/>
<circle cx="39.93" cy="182.10" r="1.45" fill="url(#gN)"/>
<circle cx="44.14" cy="177.83" r="1.45" fill="url(#gN)"/>
<circle cx="46.25" cy="175.70" r="1.45" fill="url(#gN)"/>
<circle cx="116.20" cy="205.70" r="1.45" fill="url(#gN)"/>
<circle cx="112.00" cy="201.42" r="1.45" fill="url(#gN)"/>
<circle cx="109.89" cy="199.28" r="1.45" fill="url(#gN)"/>
<circle cx="105.69" cy="195.00" r="1.45" fill="url(#gN)"/>
<circle cx="103.59" cy="192.86" r="1.45" fill="url(#gN)"/>
<circle cx="133.40" cy="188.50" r="1.45" fill="url(#gN)"/>
<circle cx="129.18" cy="184.23" r="1.45" fill="url(#gN)"/>
<circle cx="127.07" cy="182.10" r="1.45" fill="url(#gN)"/>
<circle cx="122.86" cy="177.83" r="1.45" fill="url(#gN)"/>
<circle cx="120.75" cy="175.70" r="1.45" fill="url(#gN)"/>
<circle cx="83.50" cy="122.35" r="1.40" fill="url(#gN)"/>
<circle cx="86.80" cy="122.35" r="1.40" fill="url(#gN)"/>
<circle cx="90.10" cy="122.35" r="1.40" fill="url(#gN)"/>
<circle cx="93.40" cy="122.35" r="1.40" fill="url(#gN)"/>
<circle cx="96.70" cy="122.35" r="1.40" fill="url(#gN)"/>
<circle cx="100.00" cy="122.35" r="1.40" fill="url(#gN)"/>
<circle cx="83.50" cy="122.35" r="1.40" fill="url(#gN)"/>
<circle cx="87.67" cy="126.52" r="1.40" fill="url(#gN)"/>
<circle cx="89.76" cy="128.61" r="1.40" fill="url(#gN)"/>
<circle cx="91.84" cy="130.69" r="1.40" fill="url(#gN)"/>
<circle cx="93.93" cy="132.78" r="1.40" fill="url(#gN)"/>
<circle cx="96.02" cy="134.87" r="1.40" fill="url(#gN)"/>
<circle cx="98.10" cy="136.95" r="1.40" fill="url(#gN)"/>
<circle cx="100.19" cy="139.04" r="1.40" fill="url(#gN)"/>
<circle cx="83.50" cy="122.35" r="1.40" fill="url(#gN)"/>
<circle cx="83.50" cy="125.65" r="1.40" fill="url(#gN)"/>
<circle cx="83.50" cy="128.95" r="1.40" fill="url(#gN)"/>
<circle cx="83.50" cy="132.25" r="1.40" fill="url(#gN)"/>
<circle cx="83.50" cy="135.55" r="1.40" fill="url(#gN)"/>
<circle cx="83.50" cy="138.85" r="1.40" fill="url(#gN)"/>
<circle cx="83.50" cy="122.35" r="1.40" fill="url(#gN)"/>
<circle cx="81.41" cy="124.44" r="1.40" fill="url(#gN)"/>
<circle cx="79.33" cy="126.52" r="1.40" fill="url(#gN)"/>
<circle cx="77.24" cy="128.61" r="1.40" fill="url(#gN)"/>
<circle cx="75.16" cy="130.69" r="1.40" fill="url(#gN)"/>
<circle cx="73.07" cy="132.78" r="1.40" fill="url(#gN)"/>
<circle cx="70.98" cy="134.87" r="1.40" fill="url(#gN)"/>
<circle cx="68.90" cy="136.95" r="1.40" fill="url(#gN)"/>
<circle cx="66.81" cy="139.04" r="1.40" fill="url(#gN)"/>
<circle cx="83.50" cy="122.35" r="1.40" fill="url(#gN)"/>
<circle cx="80.20" cy="122.35" r="1.40" fill="url(#gN)"/>
<circle cx="76.90" cy="122.35" r="1.40" fill="url(#gN)"/>
<circle cx="73.60" cy="122.35" r="1.40" fill="url(#gN)"/>
<circle cx="70.30" cy="122.35" r="1.40" fill="url(#gN)"/>
<circle cx="67.00" cy="122.35" r="1.40" fill="url(#gN)"/>
<circle cx="83.50" cy="122.35" r="1.40" fill="url(#gN)"/>
<circle cx="81.31" cy="120.16" r="1.40" fill="url(#gN)"/>
<circle cx="79.12" cy="117.97" r="1.40" fill="url(#gN)"/>
<circle cx="76.92" cy="115.77" r="1.40" fill="url(#gN)"/>
<circle cx="72.54" cy="111.39" r="1.40" fill="url(#gN)"/>
<circle cx="83.50" cy="122.35" r="1.40" fill="url(#gN)"/>
<circle cx="83.50" cy="119.05" r="1.40" fill="url(#gN)"/>
<circle cx="83.50" cy="115.75" r="1.40" fill="url(#gN)"/>
<circle cx="83.50" cy="112.45" r="1.40" fill="url(#gN)"/>
<circle cx="83.50" cy="109.15" r="1.40" fill="url(#gN)"/>
<circle cx="83.50" cy="105.85" r="1.40" fill="url(#gN)"/>
<circle cx="83.50" cy="122.35" r="1.40" fill="url(#gN)"/>
<circle cx="85.69" cy="120.16" r="1.40" fill="url(#gN)"/>
<circle cx="90.08" cy="115.77" r="1.40" fill="url(#gN)"/>
<circle cx="92.27" cy="113.58" r="1.40" fill="url(#gN)"/>
<circle cx="94.46" cy="111.39" r="1.40" fill="url(#gN)"/>
<circle cx="83.50" cy="122.35" r="1.90" fill="url(#gN)"/>
<circle cx="50.10" cy="155.75" r="1.40" fill="url(#gN)"/>
<circle cx="53.40" cy="155.75" r="1.40" fill="url(#gN)"/>
<circle cx="56.70" cy="155.75" r="1.40" fill="url(#gN)"/>
<circle cx="60.00" cy="155.75" r="1.40" fill="url(#gN)"/>
<circle cx="63.30" cy="155.75" r="1.40" fill="url(#gN)"/>
<circle cx="66.60" cy="155.75" r="1.40" fill="url(#gN)"/>
<circle cx="50.10" cy="155.75" r="1.40" fill="url(#gN)"/>
<circle cx="52.19" cy="157.84" r="1.40" fill="url(#gN)"/>
<circle cx="56.36" cy="162.01" r="1.40" fill="url(#gN)"/>
<circle cx="58.44" cy="164.09" r="1.40" fill="url(#gN)"/>
<circle cx="60.53" cy="166.18" r="1.40" fill="url(#gN)"/>
<circle cx="62.62" cy="168.27" r="1.40" fill="url(#gN)"/>
<circle cx="64.70" cy="170.35" r="1.40" fill="url(#gN)"/>
<circle cx="66.79" cy="172.44" r="1.40" fill="url(#gN)"/>
<circle cx="50.10" cy="155.75" r="1.40" fill="url(#gN)"/>
<circle cx="50.10" cy="159.05" r="1.40" fill="url(#gN)"/>
<circle cx="50.10" cy="162.35" r="1.40" fill="url(#gN)"/>
<circle cx="50.10" cy="165.65" r="1.40" fill="url(#gN)"/>
<circle cx="50.10" cy="168.95" r="1.40" fill="url(#gN)"/>
<circle cx="50.10" cy="172.25" r="1.40" fill="url(#gN)"/>
<circle cx="50.10" cy="155.75" r="1.40" fill="url(#gN)"/>
<circle cx="47.91" cy="157.94" r="1.40" fill="url(#gN)"/>
<circle cx="45.72" cy="160.13" r="1.40" fill="url(#gN)"/>
<circle cx="43.52" cy="162.33" r="1.40" fill="url(#gN)"/>
<circle cx="41.33" cy="164.52" r="1.40" fill="url(#gN)"/>
<circle cx="39.14" cy="166.71" r="1.40" fill="url(#gN)"/>
<circle cx="50.10" cy="155.75" r="1.40" fill="url(#gN)"/>
<circle cx="46.80" cy="155.75" r="1.40" fill="url(#gN)"/>
<circle cx="43.50" cy="155.75" r="1.40" fill="url(#gN)"/>
<circle cx="40.20" cy="155.75" r="1.40" fill="url(#gN)"/>
<circle cx="36.90" cy="155.75" r="1.40" fill="url(#gN)"/>
<circle cx="33.60" cy="155.75" r="1.40" fill="url(#gN)"/>
<circle cx="50.10" cy="155.75" r="1.40" fill="url(#gN)"/>
<circle cx="47.91" cy="153.56" r="1.40" fill="url(#gN)"/>
<circle cx="45.72" cy="151.37" r="1.40" fill="url(#gN)"/>
<circle cx="43.52" cy="149.17" r="1.40" fill="url(#gN)"/>
<circle cx="41.33" cy="146.98" r="1.40" fill="url(#gN)"/>
<circle cx="39.14" cy="144.79" r="1.40" fill="url(#gN)"/>
<circle cx="50.10" cy="155.75" r="1.40" fill="url(#gN)"/>
<circle cx="50.10" cy="152.45" r="1.40" fill="url(#gN)"/>
<circle cx="50.10" cy="149.15" r="1.40" fill="url(#gN)"/>
<circle cx="50.10" cy="145.85" r="1.40" fill="url(#gN)"/>
<circle cx="50.10" cy="142.55" r="1.40" fill="url(#gN)"/>
<circle cx="50.10" cy="139.25" r="1.40" fill="url(#gN)"/>
<circle cx="50.10" cy="155.75" r="1.40" fill="url(#gN)"/>
<circle cx="52.19" cy="153.66" r="1.40" fill="url(#gN)"/>
<circle cx="54.27" cy="151.58" r="1.40" fill="url(#gN)"/>
<circle cx="58.44" cy="147.41" r="1.40" fill="url(#gN)"/>
<circle cx="60.53" cy="145.32" r="1.40" fill="url(#gN)"/>
<circle cx="62.62" cy="143.23" r="1.40" fill="url(#gN)"/>
<circle cx="64.70" cy="141.15" r="1.40" fill="url(#gN)"/>
<circle cx="66.79" cy="139.06" r="1.40" fill="url(#gN)"/>
<circle cx="50.10" cy="155.75" r="1.90" fill="url(#gN)"/>
<circle cx="116.90" cy="155.75" r="1.40" fill="url(#gN)"/>
<circle cx="120.20" cy="155.75" r="1.40" fill="url(#gN)"/>
<circle cx="123.50" cy="155.75" r="1.40" fill="url(#gN)"/>
<circle cx="126.80" cy="155.75" r="1.40" fill="url(#gN)"/>
<circle cx="130.10" cy="155.75" r="1.40" fill="url(#gN)"/>
<circle cx="133.40" cy="155.75" r="1.40" fill="url(#gN)"/>
<circle cx="116.90" cy="155.75" r="1.40" fill="url(#gN)"/>
<circle cx="119.09" cy="157.94" r="1.40" fill="url(#gN)"/>
<circle cx="121.28" cy="160.13" r="1.40" fill="url(#gN)"/>
<circle cx="123.48" cy="162.33" r="1.40" fill="url(#gN)"/>
<circle cx="125.67" cy="164.52" r="1.40" fill="url(#gN)"/>
<circle cx="127.86" cy="166.71" r="1.40" fill="url(#gN)"/>
<circle cx="116.90" cy="155.75" r="1.40" fill="url(#gN)"/>
<circle cx="116.90" cy="162.35" r="1.40" fill="url(#gN)"/>
<circle cx="116.90" cy="165.65" r="1.40" fill="url(#gN)"/>
<circle cx="116.90" cy="168.95" r="1.40" fill="url(#gN)"/>
<circle cx="116.90" cy="172.25" r="1.40" fill="url(#gN)"/>
<circle cx="116.90" cy="155.75" r="1.40" fill="url(#gN)"/>
<circle cx="114.81" cy="157.84" r="1.40" fill="url(#gN)"/>
<circle cx="112.73" cy="159.92" r="1.40" fill="url(#gN)"/>
<circle cx="110.64" cy="162.01" r="1.40" fill="url(#gN)"/>
<circle cx="108.56" cy="164.09" r="1.40" fill="url(#gN)"/>
<circle cx="106.47" cy="166.18" r="1.40" fill="url(#gN)"/>
<circle cx="104.38" cy="168.27" r="1.40" fill="url(#gN)"/>
<circle cx="102.30" cy="170.35" r="1.40" fill="url(#gN)"/>
<circle cx="100.21" cy="172.44" r="1.40" fill="url(#gN)"/>
<circle cx="116.90" cy="155.75" r="1.40" fill="url(#gN)"/>
<circle cx="113.60" cy="155.75" r="1.40" fill="url(#gN)"/>
<circle cx="110.30" cy="155.75" r="1.40" fill="url(#gN)"/>
<circle cx="103.70" cy="155.75" r="1.40" fill="url(#gN)"/>
<circle cx="100.40" cy="155.75" r="1.40" fill="url(#gN)"/>
<circle cx="116.90" cy="155.75" r="1.40" fill="url(#gN)"/>
<circle cx="114.81" cy="153.66" r="1.40" fill="url(#gN)"/>
<circle cx="112.73" cy="151.58" r="1.40" fill="url(#gN)"/>
<circle cx="110.64" cy="149.49" r="1.40" fill="url(#gN)"/>
<circle cx="108.56" cy="147.41" r="1.40" fill="url(#gN)"/>
<circle cx="106.47" cy="145.32" r="1.40" fill="url(#gN)"/>
<circle cx="104.38" cy="143.23" r="1.40" fill="url(#gN)"/>
<circle cx="102.30" cy="141.15" r="1.40" fill="url(#gN)"/>
<circle cx="100.21" cy="139.06" r="1.40" fill="url(#gN)"/>
<circle cx="116.90" cy="155.75" r="1.40" fill="url(#gN)"/>
<circle cx="116.90" cy="152.45" r="1.40" fill="url(#gN)"/>
<circle cx="116.90" cy="149.15" r="1.40" fill="url(#gN)"/>
<circle cx="116.90" cy="145.85" r="1.40" fill="url(#gN)"/>
<circle cx="116.90" cy="142.55" r="1.40" fill="url(#gN)"/>
<circle cx="116.90" cy="139.25" r="1.40" fill="url(#gN)"/>
<circle cx="116.90" cy="155.75" r="1.40" fill="url(#gN)"/>
<circle cx="119.09" cy="153.56" r="1.40" fill="url(#gN)"/>
<circle cx="121.28" cy="151.37" r="1.40" fill="url(#gN)"/>
<circle cx="123.48" cy="149.17" r="1.40" fill="url(#gN)"/>
<circle cx="125.67" cy="146.98" r="1.40" fill="url(#gN)"/>
<circle cx="127.86" cy="144.79" r="1.40" fill="url(#gN)"/>
<circle cx="116.90" cy="155.75" r="1.90" fill="url(#gN)"/>
<circle cx="83.50" cy="189.15" r="1.40" fill="url(#gN)"/>
<circle cx="86.80" cy="189.15" r="1.40" fill="url(#gN)"/>
<circle cx="90.10" cy="189.15" r="1.40" fill="url(#gN)"/>
<circle cx="93.40" cy="189.15" r="1.40" fill="url(#gN)"/>
<circle cx="96.70" cy="189.15" r="1.40" fill="url(#gN)"/>
<circle cx="100.00" cy="189.15" r="1.40" fill="url(#gN)"/>
<circle cx="83.50" cy="189.15" r="1.40" fill="url(#gN)"/>
<circle cx="85.69" cy="191.34" r="1.40" fill="url(#gN)"/>
<circle cx="87.88" cy="193.53" r="1.40" fill="url(#gN)"/>
<circle cx="90.08" cy="195.73" r="1.40" fill="url(#gN)"/>
<circle cx="92.27" cy="197.92" r="1.40" fill="url(#gN)"/>
<circle cx="94.46" cy="200.11" r="1.40" fill="url(#gN)"/>
<circle cx="83.50" cy="189.15" r="1.40" fill="url(#gN)"/>
<circle cx="83.50" cy="192.45" r="1.40" fill="url(#gN)"/>
<circle cx="83.50" cy="195.75" r="1.40" fill="url(#gN)"/>
<circle cx="83.50" cy="199.05" r="1.40" fill="url(#gN)"/>
<circle cx="83.50" cy="202.35" r="1.40" fill="url(#gN)"/>
<circle cx="83.50" cy="205.65" r="1.40" fill="url(#gN)"/>
<circle cx="83.50" cy="189.15" r="1.40" fill="url(#gN)"/>
<circle cx="81.31" cy="191.34" r="1.40" fill="url(#gN)"/>
<circle cx="79.12" cy="193.53" r="1.40" fill="url(#gN)"/>
<circle cx="76.92" cy="195.73" r="1.40" fill="url(#gN)"/>
<circle cx="74.73" cy="197.92" r="1.40" fill="url(#gN)"/>
<circle cx="72.54" cy="200.11" r="1.40" fill="url(#gN)"/>
<circle cx="83.50" cy="189.15" r="1.40" fill="url(#gN)"/>
<circle cx="80.20" cy="189.15" r="1.40" fill="url(#gN)"/>
<circle cx="76.90" cy="189.15" r="1.40" fill="url(#gN)"/>
<circle cx="70.30" cy="189.15" r="1.40" fill="url(#gN)"/>
<circle cx="83.50" cy="189.15" r="1.40" fill="url(#gN)"/>
<circle cx="81.41" cy="187.06" r="1.40" fill="url(#gN)"/>
<circle cx="79.33" cy="184.98" r="1.40" fill="url(#gN)"/>
<circle cx="77.24" cy="182.89" r="1.40" fill="url(#gN)"/>
<circle cx="75.16" cy="180.81" r="1.40" fill="url(#gN)"/>
<circle cx="73.07" cy="178.72" r="1.40" fill="url(#gN)"/>
<circle cx="70.98" cy="176.63" r="1.40" fill="url(#gN)"/>
<circle cx="68.90" cy="174.55" r="1.40" fill="url(#gN)"/>
<circle cx="66.81" cy="172.46" r="1.40" fill="url(#gN)"/>
<circle cx="83.50" cy="189.15" r="1.40" fill="url(#gN)"/>
<circle cx="83.50" cy="185.85" r="1.40" fill="url(#gN)"/>
<circle cx="83.50" cy="182.55" r="1.40" fill="url(#gN)"/>
<circle cx="83.50" cy="179.25" r="1.40" fill="url(#gN)"/>
<circle cx="83.50" cy="189.15" r="1.40" fill="url(#gN)"/>
<circle cx="85.59" cy="187.06" r="1.40" fill="url(#gN)"/>
<circle cx="87.67" cy="184.98" r="1.40" fill="url(#gN)"/>
<circle cx="89.76" cy="182.89" r="1.40" fill="url(#gN)"/>
<circle cx="91.84" cy="180.81" r="1.40" fill="url(#gN)"/>
<circle cx="93.93" cy="178.72" r="1.40" fill="url(#gN)"/>
<circle cx="96.02" cy="176.63" r="1.40" fill="url(#gN)"/>
<circle cx="98.10" cy="174.55" r="1.40" fill="url(#gN)"/>
<circle cx="100.19" cy="172.46" r="1.40" fill="url(#gN)"/>
<circle cx="83.50" cy="189.15" r="1.90" fill="url(#gN)"/>
<circle cx="67.00" cy="122.35" r="1.45" fill="url(#gN)"/>
<circle cx="64.89" cy="124.46" r="1.45" fill="url(#gN)"/>
<circle cx="62.77" cy="126.57" r="1.45" fill="url(#gN)"/>
<circle cx="58.55" cy="130.80" r="1.45" fill="url(#gN)"/>
<circle cx="56.44" cy="132.91" r="1.45" fill="url(#gN)"/>
<circle cx="54.33" cy="135.03" r="1.45" fill="url(#gN)"/>
<circle cx="50.10" cy="139.25" r="1.45" fill="url(#gN)"/>
<circle cx="100.00" cy="122.35" r="1.45" fill="url(#gN)"/>
<circle cx="102.11" cy="124.46" r="1.45" fill="url(#gN)"/>
<circle cx="104.22" cy="126.57" r="1.45" fill="url(#gN)"/>
<circle cx="106.34" cy="128.69" r="1.45" fill="url(#gN)"/>
<circle cx="108.45" cy="130.80" r="1.45" fill="url(#gN)"/>
<circle cx="110.56" cy="132.91" r="1.45" fill="url(#gN)"/>
<circle cx="112.68" cy="135.03" r="1.45" fill="url(#gN)"/>
<circle cx="114.79" cy="137.14" r="1.45" fill="url(#gN)"/>
<circle cx="116.90" cy="139.25" r="1.45" fill="url(#gN)"/>
<circle cx="64.89" cy="187.04" r="1.45" fill="url(#gN)"/>
<circle cx="60.66" cy="182.81" r="1.45" fill="url(#gN)"/>
<circle cx="58.55" cy="180.70" r="1.45" fill="url(#gN)"/>
<circle cx="56.44" cy="178.59" r="1.45" fill="url(#gN)"/>
<circle cx="52.21" cy="174.36" r="1.45" fill="url(#gN)"/>
<circle cx="50.10" cy="172.25" r="1.45" fill="url(#gN)"/>
<circle cx="100.00" cy="189.15" r="1.45" fill="url(#gN)"/>
<circle cx="102.11" cy="187.04" r="1.45" fill="url(#gN)"/>
<circle cx="104.22" cy="184.93" r="1.45" fill="url(#gN)"/>
<circle cx="106.34" cy="182.81" r="1.45" fill="url(#gN)"/>
<circle cx="108.45" cy="180.70" r="1.45" fill="url(#gN)"/>
<circle cx="110.56" cy="178.59" r="1.45" fill="url(#gN)"/>
<circle cx="114.79" cy="174.36" r="1.45" fill="url(#gN)"/>
<circle cx="116.90" cy="172.25" r="1.45" fill="url(#gN)"/>
<circle cx="91.35" cy="173.64" r="1.40" fill="url(#gN)"/>
<circle cx="81.83" cy="130.03" r="1.40" fill="url(#gN)"/>
<circle cx="75.16" cy="144.37" r="1.40" fill="url(#gN)"/>
<circle cx="98.91" cy="166.52" r="1.40" fill="url(#gN)"/>
<circle cx="86.70" cy="133.80" r="1.40" fill="url(#gN)"/>
<circle cx="90.45" cy="132.96" r="1.40" fill="url(#gN)"/>
<circle cx="58.72" cy="152.94" r="1.40" fill="url(#gN)"/>
<circle cx="76.41" cy="173.24" r="1.40" fill="url(#gN)"/>
<circle cx="78.65" cy="136.66" r="1.40" fill="url(#gN)"/>
<circle cx="91.70" cy="139.69" r="1.40" fill="url(#gN)"/>
<circle cx="90.76" cy="174.64" r="1.40" fill="url(#gN)"/>
<circle cx="78.32" cy="176.33" r="1.40" fill="url(#gN)"/>
<circle cx="65.32" cy="165.81" r="1.40" fill="url(#gN)"/>
<circle cx="94.19" cy="140.57" r="1.40" fill="url(#gN)"/>
<circle cx="88.91" cy="174.70" r="1.40" fill="url(#gN)"/>
<circle cx="72.44" cy="170.51" r="1.40" fill="url(#gN)"/>
<circle cx="83.50" cy="138.25" r="1.30" fill="url(#gN)"/>
<circle cx="85.69" cy="140.44" r="1.30" fill="url(#gN)"/>
<circle cx="90.06" cy="144.81" r="1.30" fill="url(#gN)"/>
<circle cx="92.25" cy="147.00" r="1.30" fill="url(#gN)"/>
<circle cx="94.44" cy="149.19" r="1.30" fill="url(#gN)"/>
<circle cx="96.62" cy="151.38" r="1.30" fill="url(#gN)"/>
<circle cx="98.81" cy="153.56" r="1.30" fill="url(#gN)"/>
<circle cx="101.00" cy="155.75" r="1.30" fill="url(#gN)"/>
<circle cx="101.00" cy="155.75" r="1.30" fill="url(#gN)"/>
<circle cx="98.81" cy="157.94" r="1.30" fill="url(#gN)"/>
<circle cx="96.62" cy="160.12" r="1.30" fill="url(#gN)"/>
<circle cx="94.44" cy="162.31" r="1.30" fill="url(#gN)"/>
<circle cx="92.25" cy="164.50" r="1.30" fill="url(#gN)"/>
<circle cx="83.50" cy="173.25" r="1.30" fill="url(#gN)"/>
<circle cx="83.50" cy="173.25" r="1.30" fill="url(#gN)"/>
<circle cx="81.31" cy="171.06" r="1.30" fill="url(#gN)"/>
<circle cx="79.12" cy="168.88" r="1.30" fill="url(#gN)"/>
<circle cx="70.38" cy="160.12" r="1.30" fill="url(#gN)"/>
<circle cx="66.00" cy="155.75" r="1.30" fill="url(#gN)"/>
<circle cx="76.94" cy="144.81" r="1.30" fill="url(#gN)"/>
<circle cx="81.31" cy="140.44" r="1.30" fill="url(#gN)"/>
<circle cx="83.50" cy="138.25" r="1.30" fill="url(#gN)"/><path d="M169.4 218.1 L169.6 209.7 L169.9 210.2 L170.1 220.5 L170.4 218.9 L170.6 220.0 L170.8 212.9 L171.1 216.4 L171.3 211.1 L171.5 223.5 L171.8 205.3 L172.0 215.4 L172.3 210.2 L172.5 215.0 L172.7 216.3 L173.0 210.6 L173.2 207.9 L173.5 214.2 L173.7 213.6 L173.9 207.8 L174.2 217.6 L174.4 221.5 L174.6 208.7 L174.9 215.4 L175.1 223.3 L175.4 215.7 L175.6 213.1 L175.8 217.7 L176.1 219.4 L176.3 208.9 L176.6 202.8 L176.8 210.0 L177.0 213.2 L177.3 205.2 L177.5 202.6 L177.7 209.2 L178.0 203.1 L178.2 199.4 L178.5 207.7 L178.7 211.5 L178.9 203.2 L179.2 203.6 L179.4 197.3 L179.7 213.6 L179.9 209.0 L180.1 209.9 L180.4 215.9 L180.6 202.5 L180.8 199.3 L181.1 208.0 L181.3 192.5 L181.6 196.2 L181.8 197.3 L182.0 198.6 L182.3 194.2 L182.5 210.5 L182.8 196.1 L183.0 195.8 L183.2 212.8 L183.5 197.0 L183.7 201.1 L183.9 193.2 L184.2 201.9 L184.4 198.4 L184.7 195.4 L184.9 204.2 L185.1 192.9 L185.4 197.8 L185.6 193.0 L185.9 200.3 L186.1 187.8 L186.3 191.2 L186.6 196.8 L186.8 190.3 L187.0 185.2 L187.3 180.7 L187.5 206.3 L187.8 187.0 L188.0 189.9 L188.2 193.9 L188.5 200.7 L188.7 182.8 L189.0 202.2 L189.2 187.5 L189.4 181.4 L189.7 204.0 L189.9 193.4 L190.1 201.1 L190.4 188.4 L190.6 177.9 L190.9 173.5 L191.1 203.7 L191.3 193.7 L191.6 183.1 L191.8 175.7 L192.1 184.7 L192.3 193.9 L192.5 185.1 L192.8 187.3 L193.0 188.5 L193.2 192.6 L193.5 183.0 L193.7 183.4 L194.0 186.4 L194.2 187.1 L194.4 195.7 L194.7 188.7 L194.9 174.2 L195.2 185.6 L195.4 195.8 L195.6 172.1 L195.9 178.6 L196.1 164.8 L196.4 181.9 L196.6 186.0 L196.8 194.2 L197.1 170.1 L197.3 159.1 L197.5 187.9 L197.8 186.1 L198.0 173.6 L198.3 185.2 L198.5 181.1 L198.7 169.1 L199.0 170.4 L199.2 175.2 L199.5 189.7 L199.7 182.5 L199.9 152.5 L200.2 178.3 L200.4 183.3 L200.6 186.5 L200.9 177.8 L201.1 179.7 L201.4 177.4 L201.6 167.8 L201.8 181.9 L202.1 159.9 L202.3 161.3 L202.6 183.0 L202.8 172.3 L203.0 171.5 L203.3 174.4 L203.5 177.1 L203.7 174.6 L204.0 170.4 L204.2 172.9 L204.5 174.5 L204.7 176.5 L204.9 171.9 L205.2 170.2 L205.4 167.5 L205.7 180.7 L205.9 179.2 L206.1 179.2 L206.4 181.3 L206.6 173.9 L206.8 174.1 L207.1 159.3 L207.3 169.9 L207.6 185.7 L207.8 165.4 L208.0 171.4 L208.3 172.8 L208.5 156.8 L208.8 180.9 L209.0 177.2 L209.2 169.9 L209.5 164.9 L209.7 167.0 L209.9 173.6 L210.2 191.5 L210.4 180.8 L210.7 184.4 L210.9 179.9 L211.1 158.3 L211.4 192.8 L211.6 168.1 L211.9 193.5 L212.1 183.7 L212.3 173.2 L212.6 163.2 L212.8 174.6 L213.0 163.3 L213.3 162.3 L213.5 164.7 L213.8 164.1 L214.0 187.6 L214.2 165.5 L214.5 167.3 L214.7 157.5 L215.0 166.0 L215.2 179.8 L215.4 167.0 L215.7 164.8 L215.9 185.3 L216.1 167.4 L216.4 168.1 L216.6 165.4 L216.9 159.5 L217.1 166.6 L217.3 177.6 L217.6 156.3 L217.8 171.0 L218.1 172.6 L218.3 142.9 L218.5 172.6 L218.8 170.1 L219.0 166.9 L219.2 164.7 L219.5 178.4 L219.7 143.9 L220.0 146.9 L220.2 172.8 L220.4 166.0 L220.7 173.6 L220.9 167.5 L221.2 160.1 L221.4 173.2 L221.6 145.1 L221.9 189.6 L222.1 173.8 L222.3 167.9 L222.6 158.7 L222.8 164.7 L223.1 163.3 L223.3 161.6 L223.5 155.4 L223.8 190.8 L224.0 170.9 L224.3 148.7 L224.5 160.8 L224.7 156.7 L225.0 162.1 L225.2 167.0 L225.4 151.7 L225.7 153.1 L225.9 182.8 L226.2 164.4 L226.4 192.7 L226.6 168.0 L226.9 160.5 L227.1 161.5 L227.4 157.8 L227.6 168.4 L227.8 149.4 L228.1 155.5 L228.3 168.2 L228.5 162.4 L228.8 158.3 L229.0 168.1 L229.3 149.9 L229.5 159.3 L229.7 159.3 L230.0 159.7 L230.2 159.7 L230.5 159.4 L230.7 157.9 L230.9 168.9 L231.2 164.0 L231.4 162.4 L231.6 150.0 L231.9 151.4 L232.1 162.7 L232.4 164.0 L232.6 160.8 L232.8 161.9 L233.1 160.2 L233.3 171.9 L233.6 162.1 L233.8 155.2 L234.0 173.5 L234.3 166.9 L234.5 162.6 L234.7 150.4 L235.0 167.2 L235.2 185.9 L235.5 175.0 L235.7 159.6 L235.9 149.7 L236.2 166.8 L236.4 163.6 L236.7 151.7 L236.9 181.1 L237.1 160.6 L237.4 140.8 L237.6 159.2 L237.8 181.0 L238.1 146.8 L238.3 154.6 L238.6 172.9 L238.8 144.4 L239.0 153.5 L239.3 159.2 L239.5 170.1 L239.8 163.3 L240.0 160.7 L240.2 157.1 L240.5 188.9 L240.7 162.3 L240.9 157.8 L241.2 169.9 L241.4 153.5 L241.7 157.5 L241.9 167.8 L242.1 156.5 L242.4 165.5 L242.6 152.8 L242.9 150.7 L243.1 160.1 L243.3 159.5 L243.6 169.4 L243.8 165.5 L244.1 173.0 L244.3 154.1 L244.5 150.2 L244.8 171.8 L245.0 162.7 L245.2 149.7 L245.5 159.1 L245.7 166.7 L246.0 166.1 L246.2 156.0 L246.4 149.9 L246.7 163.4 L246.9 169.8 L247.2 150.4 L247.4 149.8 L247.6 160.4 L247.9 161.7 L248.1 147.7 L248.3 163.6 L248.6 177.9 L248.8 154.0 L249.1 154.5 L249.3 165.6 L249.5 166.2 L249.8 140.2 L250.0 156.6 L250.3 159.8 L250.5 139.3 L250.7 166.6 L251.0 168.0 L251.2 153.8 L251.4 152.1 L251.7 165.1 L251.9 173.4 L252.2 172.2 L252.4 173.3 L252.6 155.3 L252.9 163.5 L253.1 157.7 L253.4 153.6 L253.6 168.8 L253.8 138.0 L254.1 139.5 L254.3 160.0 L254.5 156.8 L254.8 146.2 L255.0 151.4 L255.3 171.7 L255.5 166.4 L255.7 167.6 L256.0 169.4 L256.2 167.2 L256.5 160.4 L256.7 170.6 L256.9 160.7 L257.2 155.1 L257.4 157.0 L257.6 155.2 L257.9 164.5 L258.1 156.1 L258.4 163.2 L258.6 147.2 L258.8 173.6 L259.1 160.2 L259.3 156.1 L259.6 161.2 L259.8 178.4 L260.0 157.9 L260.3 150.3 L260.5 150.2 L260.7 165.9 L261.0 152.7 L261.2 136.9 L261.5 163.3 L261.7 157.8 L261.9 162.1 L262.2 154.3 L262.4 145.8 L262.7 169.4 L262.9 146.4 L263.1 167.4 L263.4 165.8 L263.6 147.4 L263.8 159.1 L264.1 160.8 L264.3 153.2 L264.6 159.6 L264.8 157.0 L265.0 148.0 L265.3 174.0 L265.5 145.3 L265.8 166.1 L266.0 169.7 L266.2 155.6 L266.5 170.0 L266.7 169.9 L266.9 154.6 L267.2 177.1 L267.4 161.5 L267.7 157.6 L267.9 155.7 L268.1 174.4 L268.4 182.5 L268.6 157.8 L268.9 165.2 L269.1 167.4 L269.3 178.0 L269.6 144.3 L269.8 172.2 L270.0 163.1 L270.3 174.1 L270.5 158.4 L270.8 164.5 L271.0 168.6 L271.2 181.8 L271.5 173.1 L271.7 155.7 L272.0 166.4 L272.2 179.7 L272.4 157.1 L272.7 155.8 L272.9 173.1 L273.1 167.1 L273.4 173.3 L273.6 182.6 L273.9 176.2 L274.1 164.8 L274.3 183.8 L274.6 174.4 L274.8 157.4 L275.1 177.1 L275.3 175.9 L275.5 170.3 L275.8 168.0 L276.0 179.3 L276.2 179.3 L276.5 153.0 L276.7 169.1 L277.0 185.4 L277.2 179.1 L277.4 174.0 L277.7 163.5 L277.9 166.2 L278.2 141.7 L278.4 191.2 L278.6 148.8 L278.9 161.3 L279.1 160.5 L279.3 163.7 L279.6 169.6 L279.8 163.3 L280.1 159.1 L280.3 160.4 L280.5 162.4 L280.8 148.5 L281.0 162.5 L281.3 150.8 L281.5 161.7 L281.7 174.7 L282.0 166.9 L282.2 166.0 L282.4 173.1 L282.7 172.5 L282.9 136.9 L283.2 157.3 L283.4 184.1 L283.6 156.5 L283.9 160.7 L284.1 163.1 L284.4 147.5 L284.6 163.0 L284.8 183.1 L285.1 177.5 L285.3 175.3 L285.5 174.9 L285.8 165.7 L286.0 160.5 L286.3 153.7 L286.5 182.5 L286.7 144.8 L287.0 176.2 L287.2 152.4 L287.5 162.3 L287.7 164.6 L287.9 164.2 L288.2 161.4 L288.4 145.1 L288.6 139.8 L288.9 162.3 L289.1 165.0 L289.4 183.3 L289.6 164.8 L289.8 177.4 L290.1 172.5 L290.3 170.6 L290.6 158.3 L290.8 159.2 L291.0 164.7 L291.3 177.1 L291.5 164.6 L291.8 153.6 L292.0 158.3 L292.2 159.4 L292.5 168.5 L292.7 171.6 L292.9 145.3 L293.2 166.8 L293.4 160.9 L293.7 154.0 L293.9 171.4 L294.1 167.3 L294.4 177.7 L294.6 172.9 L294.9 180.8 L295.1 166.3 L295.3 155.9 L295.6 160.8 L295.8 188.7 L296.0 163.5 L296.3 180.2 L296.5 158.9 L296.8 161.6 L297.0 187.0 L297.2 167.6 L297.5 161.9 L297.7 174.5 L298.0 163.5 L298.2 165.3 L298.4 166.8 L298.7 172.8 L298.9 160.3 L299.1 165.8 L299.4 164.0 L299.6 191.4 L299.9 157.6 L300.1 178.7 L300.3 153.2 L300.6 166.9 L300.8 163.0 L301.1 165.2 L301.3 172.6 L301.5 161.8 L301.8 164.5 L302.0 168.3 L302.2 152.4 L302.5 151.2 L302.7 173.3 L303.0 165.6 L303.2 159.5 L303.4 162.0 L303.7 136.9 L303.9 162.4 L304.2 169.1 L304.4 164.4 L304.6 159.3 L304.9 144.1 L305.1 139.2 L305.3 147.9 L305.6 165.9 L305.8 159.9 L306.1 156.6 L306.3 160.4 L306.5 171.1 L306.8 165.7 L307.0 160.3 L307.3 168.4 L307.5 156.6 L307.7 146.4 L308.0 160.5 L308.2 160.6 L308.4 173.5 L308.7 163.6 L308.9 165.7" fill="none" stroke="#8cd88c" stroke-width="0.55"/>
<path d="M169.4 218.1h0.01M169.6 209.7h0.01M169.9 210.2h0.01M170.1 220.5h0.01M170.4 218.9h0.01M170.6 220.0h0.01M170.8 212.9h0.01M171.1 216.4h0.01M171.3 211.1h0.01M171.5 223.5h0.01M171.8 205.3h0.01M172.0 215.4h0.01M172.3 210.2h0.01M172.5 215.0h0.01M172.7 216.3h0.01M173.0 210.6h0.01M173.2 207.9h0.01M173.5 214.2h0.01M173.7 213.6h0.01M173.9 207.8h0.01M174.2 217.6h0.01M174.4 221.5h0.01M174.6 208.7h0.01M174.9 215.4h0.01M175.1 223.3h0.01M175.4 215.7h0.01M175.6 213.1h0.01M175.8 217.7h0.01M176.1 219.4h0.01M176.3 208.9h0.01M176.6 202.8h0.01M176.8 210.0h0.01M177.0 213.2h0.01M177.3 205.2h0.01M177.5 202.6h0.01M177.7 209.2h0.01M178.0 203.1h0.01M178.2 199.4h0.01M178.5 207.7h0.01M178.7 211.5h0.01M178.9 203.2h0.01M179.2 203.6h0.01M179.4 197.3h0.01M179.7 213.6h0.01M179.9 209.0h0.01M180.1 209.9h0.01M180.4 215.9h0.01M180.6 202.5h0.01M180.8 199.3h0.01M181.1 208.0h0.01M181.3 192.5h0.01M181.6 196.2h0.01M181.8 197.3h0.01M182.0 198.6h0.01M182.3 194.2h0.01M182.5 210.5h0.01M182.8 196.1h0.01M183.0 195.8h0.01M183.2 212.8h0.01M183.5 197.0h0.01M183.7 201.1h0.01M183.9 193.2h0.01M184.2 201.9h0.01M184.4 198.4h0.01M184.7 195.4h0.01M184.9 204.2h0.01M185.1 192.9h0.01M185.4 197.8h0.01M185.6 193.0h0.01M185.9 200.3h0.01M186.1 187.8h0.01M186.3 191.2h0.01M186.6 196.8h0.01M186.8 190.3h0.01M187.0 185.2h0.01M187.3 180.7h0.01M187.5 206.3h0.01M187.8 187.0h0.01M188.0 189.9h0.01M188.2 193.9h0.01M188.5 200.7h0.01M188.7 182.8h0.01M189.0 202.2h0.01M189.2 187.5h0.01M189.4 181.4h0.01M189.7 204.0h0.01M189.9 193.4h0.01M190.1 201.1h0.01M190.4 188.4h0.01M190.6 177.9h0.01M190.9 173.5h0.01M191.1 203.7h0.01M191.3 193.7h0.01M191.6 183.1h0.01M191.8 175.7h0.01M192.1 184.7h0.01M192.3 193.9h0.01M192.5 185.1h0.01M192.8 187.3h0.01M193.0 188.5h0.01M193.2 192.6h0.01M193.5 183.0h0.01M193.7 183.4h0.01M194.0 186.4h0.01M194.2 187.1h0.01M194.4 195.7h0.01M194.7 188.7h0.01M194.9 174.2h0.01M195.2 185.6h0.01M195.4 195.8h0.01M195.6 172.1h0.01M195.9 178.6h0.01M196.1 164.8h0.01M196.4 181.9h0.01M196.6 186.0h0.01M196.8 194.2h0.01M197.1 170.1h0.01M197.3 159.1h0.01M197.5 187.9h0.01M197.8 186.1h0.01M198.0 173.6h0.01M198.3 185.2h0.01M198.5 181.1h0.01M198.7 169.1h0.01M199.0 170.4h0.01M199.2 175.2h0.01M199.5 189.7h0.01M199.7 182.5h0.01M199.9 152.5h0.01M200.2 178.3h0.01M200.4 183.3h0.01M200.6 186.5h0.01M200.9 177.8h0.01M201.1 179.7h0.01M201.4 177.4h0.01M201.6 167.8h0.01M201.8 181.9h0.01M202.1 159.9h0.01M202.3 161.3h0.01M202.6 183.0h0.01M202.8 172.3h0.01M203.0 171.5h0.01M203.3 174.4h0.01M203.5 177.1h0.01M203.7 174.6h0.01M204.0 170.4h0.01M204.2 172.9h0.01M204.5 174.5h0.01M204.7 176.5h0.01M204.9 171.9h0.01M205.2 170.2h0.01M205.4 167.5h0.01M205.7 180.7h0.01M205.9 179.2h0.01M206.1 179.2h0.01M206.4 181.3h0.01M206.6 173.9h0.01M206.8 174.1h0.01M207.1 159.3h0.01M207.3 169.9h0.01M207.6 185.7h0.01M207.8 165.4h0.01M208.0 171.4h0.01M208.3 172.8h0.01M208.5 156.8h0.01M208.8 180.9h0.01M209.0 177.2h0.01M209.2 169.9h0.01M209.5 164.9h0.01M209.7 167.0h0.01M209.9 173.6h0.01M210.2 191.5h0.01M210.4 180.8h0.01M210.7 184.4h0.01M210.9 179.9h0.01M211.1 158.3h0.01M211.4 192.8h0.01M211.6 168.1h0.01M211.9 193.5h0.01M212.1 183.7h0.01M212.3 173.2h0.01M212.6 163.2h0.01M212.8 174.6h0.01M213.0 163.3h0.01M213.3 162.3h0.01M213.5 164.7h0.01M213.8 164.1h0.01M214.0 187.6h0.01M214.2 165.5h0.01M214.5 167.3h0.01M214.7 157.5h0.01M215.0 166.0h0.01M215.2 179.8h0.01M215.4 167.0h0.01M215.7 164.8h0.01M215.9 185.3h0.01M216.1 167.4h0.01M216.4 168.1h0.01M216.6 165.4h0.01M216.9 159.5h0.01M217.1 166.6h0.01M217.3 177.6h0.01M217.6 156.3h0.01M217.8 171.0h0.01M218.1 172.6h0.01M218.3 142.9h0.01M218.5 172.6h0.01M218.8 170.1h0.01M219.0 166.9h0.01M219.2 164.7h0.01M219.5 178.4h0.01M219.7 143.9h0.01M220.0 146.9h0.01M220.2 172.8h0.01M220.4 166.0h0.01M220.7 173.6h0.01M220.9 167.5h0.01M221.2 160.1h0.01M221.4 173.2h0.01M221.6 145.1h0.01M221.9 189.6h0.01M222.1 173.8h0.01M222.3 167.9h0.01M222.6 158.7h0.01M222.8 164.7h0.01M223.1 163.3h0.01M223.3 161.6h0.01M223.5 155.4h0.01M223.8 190.8h0.01M224.0 170.9h0.01M224.3 148.7h0.01M224.5 160.8h0.01M224.7 156.7h0.01M225.0 162.1h0.01M225.2 167.0h0.01M225.4 151.7h0.01M225.7 153.1h0.01M225.9 182.8h0.01M226.2 164.4h0.01M226.4 192.7h0.01M226.6 168.0h0.01M226.9 160.5h0.01M227.1 161.5h0.01M227.4 157.8h0.01M227.6 168.4h0.01M227.8 149.4h0.01M228.1 155.5h0.01M228.3 168.2h0.01M228.5 162.4h0.01M228.8 158.3h0.01M229.0 168.1h0.01M229.3 149.9h0.01M229.5 159.3h0.01M229.7 159.3h0.01M230.0 159.7h0.01M230.2 159.7h0.01M230.5 159.4h0.01M230.7 157.9h0.01M230.9 168.9h0.01M231.2 164.0h0.01M231.4 162.4h0.01M231.6 150.0h0.01M231.9 151.4h0.01M232.1 162.7h0.01M232.4 164.0h0.01M232.6 160.8h0.01M232.8 161.9h0.01M233.1 160.2h0.01M233.3 171.9h0.01M233.6 162.1h0.01M233.8 155.2h0.01M234.0 173.5h0.01M234.3 166.9h0.01M234.5 162.6h0.01M234.7 150.4h0.01M235.0 167.2h0.01M235.2 185.9h0.01M235.5 175.0h0.01M235.7 159.6h0.01M235.9 149.7h0.01M236.2 166.8h0.01M236.4 163.6h0.01M236.7 151.7h0.01M236.9 181.1h0.01M237.1 160.6h0.01M237.4 140.8h0.01M237.6 159.2h0.01M237.8 181.0h0.01M238.1 146.8h0.01M238.3 154.6h0.01M238.6 172.9h0.01M238.8 144.4h0.01M239.0 153.5h0.01M239.3 159.2h0.01M239.5 170.1h0.01M239.8 163.3h0.01M240.0 160.7h0.01M240.2 157.1h0.01M240.5 188.9h0.01M240.7 162.3h0.01M240.9 157.8h0.01M241.2 169.9h0.01M241.4 153.5h0.01M241.7 157.5h0.01M241.9 167.8h0.01M242.1 156.5h0.01M242.4 165.5h0.01M242.6 152.8h0.01M242.9 150.7h0.01M243.1 160.1h0.01M243.3 159.5h0.01M243.6 169.4h0.01M243.8 165.5h0.01M244.1 173.0h0.01M244.3 154.1h0.01M244.5 150.2h0.01M244.8 171.8h0.01M245.0 162.7h0.01M245.2 149.7h0.01M245.5 159.1h0.01M245.7 166.7h0.01M246.0 166.1h0.01M246.2 156.0h0.01M246.4 149.9h0.01M246.7 163.4h0.01M246.9 169.8h0.01M247.2 150.4h0.01M247.4 149.8h0.01M247.6 160.4h0.01M247.9 161.7h0.01M248.1 147.7h0.01M248.3 163.6h0.01M248.6 177.9h0.01M248.8 154.0h0.01M249.1 154.5h0.01M249.3 165.6h0.01M249.5 166.2h0.01M249.8 140.2h0.01M250.0 156.6h0.01M250.3 159.8h0.01M250.5 139.3h0.01M250.7 166.6h0.01M251.0 168.0h0.01M251.2 153.8h0.01M251.4 152.1h0.01M251.7 165.1h0.01M251.9 173.4h0.01M252.2 172.2h0.01M252.4 173.3h0.01M252.6 155.3h0.01M252.9 163.5h0.01M253.1 157.7h0.01M253.4 153.6h0.01M253.6 168.8h0.01M253.8 138.0h0.01M254.1 139.5h0.01M254.3 160.0h0.01M254.5 156.8h0.01M254.8 146.2h0.01M255.0 151.4h0.01M255.3 171.7h0.01M255.5 166.4h0.01M255.7 167.6h0.01M256.0 169.4h0.01M256.2 167.2h0.01M256.5 160.4h0.01M256.7 170.6h0.01M256.9 160.7h0.01M257.2 155.1h0.01M257.4 157.0h0.01M257.6 155.2h0.01M257.9 164.5h0.01M258.1 156.1h0.01M258.4 163.2h0.01M258.6 147.2h0.01M258.8 173.6h0.01M259.1 160.2h0.01M259.3 156.1h0.01M259.6 161.2h0.01M259.8 178.4h0.01M260.0 157.9h0.01M260.3 150.3h0.01M260.5 150.2h0.01M260.7 165.9h0.01M261.0 152.7h0.01M261.2 136.9h0.01M261.5 163.3h0.01M261.7 157.8h0.01M261.9 162.1h0.01M262.2 154.3h0.01M262.4 145.8h0.01M262.7 169.4h0.01M262.9 146.4h0.01M263.1 167.4h0.01M263.4 165.8h0.01M263.6 147.4h0.01M263.8 159.1h0.01M264.1 160.8h0.01M264.3 153.2h0.01M264.6 159.6h0.01M264.8 157.0h0.01M265.0 148.0h0.01M265.3 174.0h0.01M265.5 145.3h0.01M265.8 166.1h0.01M266.0 169.7h0.01M266.2 155.6h0.01M266.5 170.0h0.01M266.7 169.9h0.01M266.9 154.6h0.01M267.2 177.1h0.01M267.4 161.5h0.01M267.7 157.6h0.01M267.9 155.7h0.01M268.1 174.4h0.01M268.4 182.5h0.01M268.6 157.8h0.01M268.9 165.2h0.01M269.1 167.4h0.01M269.3 178.0h0.01M269.6 144.3h0.01M269.8 172.2h0.01M270.0 163.1h0.01M270.3 174.1h0.01M270.5 158.4h0.01M270.8 164.5h0.01M271.0 168.6h0.01M271.2 181.8h0.01M271.5 173.1h0.01M271.7 155.7h0.01M272.0 166.4h0.01M272.2 179.7h0.01M272.4 157.1h0.01M272.7 155.8h0.01M272.9 173.1h0.01M273.1 167.1h0.01M273.4 173.3h0.01M273.6 182.6h0.01M273.9 176.2h0.01M274.1 164.8h0.01M274.3 183.8h0.01M274.6 174.4h0.01M274.8 157.4h0.01M275.1 177.1h0.01M275.3 175.9h0.01M275.5 170.3h0.01M275.8 168.0h0.01M276.0 179.3h0.01M276.2 179.3h0.01M276.5 153.0h0.01M276.7 169.1h0.01M277.0 185.4h0.01M277.2 179.1h0.01M277.4 174.0h0.01M277.7 163.5h0.01M277.9 166.2h0.01M278.2 141.7h0.01M278.4 191.2h0.01M278.6 148.8h0.01M278.9 161.3h0.01M279.1 160.5h0.01M279.3 163.7h0.01M279.6 169.6h0.01M279.8 163.3h0.01M280.1 159.1h0.01M280.3 160.4h0.01M280.5 162.4h0.01M280.8 148.5h0.01M281.0 162.5h0.01M281.3 150.8h0.01M281.5 161.7h0.01M281.7 174.7h0.01M282.0 166.9h0.01M282.2 166.0h0.01M282.4 173.1h0.01M282.7 172.5h0.01M282.9 136.9h0.01M283.2 157.3h0.01M283.4 184.1h0.01M283.6 156.5h0.01M283.9 160.7h0.01M284.1 163.1h0.01M284.4 147.5h0.01M284.6 163.0h0.01M284.8 183.1h0.01M285.1 177.5h0.01M285.3 175.3h0.01M285.5 174.9h0.01M285.8 165.7h0.01M286.0 160.5h0.01M286.3 153.7h0.01M286.5 182.5h0.01M286.7 144.8h0.01M287.0 176.2h0.01M287.2 152.4h0.01M287.5 162.3h0.01M287.7 164.6h0.01M287.9 164.2h0.01M288.2 161.4h0.01M288.4 145.1h0.01M288.6 139.8h0.01M288.9 162.3h0.01M289.1 165.0h0.01M289.4 183.3h0.01M289.6 164.8h0.01M289.8 177.4h0.01M290.1 172.5h0.01M290.3 170.6h0.01M290.6 158.3h0.01M290.8 159.2h0.01M291.0 164.7h0.01M291.3 177.1h0.01M291.5 164.6h0.01M291.8 153.6h0.01M292.0 158.3h0.01M292.2 159.4h0.01M292.5 168.5h0.01M292.7 171.6h0.01M292.9 145.3h0.01M293.2 166.8h0.01M293.4 160.9h0.01M293.7 154.0h0.01M293.9 171.4h0.01M294.1 167.3h0.01M294.4 177.7h0.01M294.6 172.9h0.01M294.9 180.8h0.01M295.1 166.3h0.01M295.3 155.9h0.01M295.6 160.8h0.01M295.8 188.7h0.01M296.0 163.5h0.01M296.3 180.2h0.01M296.5 158.9h0.01M296.8 161.6h0.01M297.0 187.0h0.01M297.2 167.6h0.01M297.5 161.9h0.01M297.7 174.5h0.01M298.0 163.5h0.01M298.2 165.3h0.01M298.4 166.8h0.01M298.7 172.8h0.01M298.9 160.3h0.01M299.1 165.8h0.01M299.4 164.0h0.01M299.6 191.4h0.01M299.9 157.6h0.01M300.1 178.7h0.01M300.3 153.2h0.01M300.6 166.9h0.01M300.8 163.0h0.01M301.1 165.2h0.01M301.3 172.6h0.01M301.5 161.8h0.01M301.8 164.5h0.01M302.0 168.3h0.01M302.2 152.4h0.01M302.5 151.2h0.01M302.7 173.3h0.01M303.0 165.6h0.01M303.2 159.5h0.01M303.4 162.0h0.01M303.7 136.9h0.01M303.9 162.4h0.01M304.2 169.1h0.01M304.4 164.4h0.01M304.6 159.3h0.01M304.9 144.1h0.01M305.1 139.2h0.01M305.3 147.9h0.01M305.6 165.9h0.01M305.8 159.9h0.01M306.1 156.6h0.01M306.3 160.4h0.01M306.5 171.1h0.01M306.8 165.7h0.01M307.0 160.3h0.01M307.3 168.4h0.01M307.5 156.6h0.01M307.7 146.4h0.01M308.0 160.5h0.01M308.2 160.6h0.01M308.4 173.5h0.01M308.7 163.6h0.01M308.9 165.7h0.01" fill="none" stroke="#17601f" stroke-width="1.50" stroke-linecap="round"/>
<path d="M169.4 142.3 L169.6 150.7 L169.9 150.2 L170.1 139.9 L170.4 141.5 L170.6 140.4 L170.8 147.5 L171.1 144.0 L171.3 149.3 L171.5 136.9 L171.8 155.1 L172.0 145.0 L172.3 150.2 L172.5 145.4 L172.7 144.1 L173.0 149.8 L173.2 152.5 L173.5 146.2 L173.7 146.8 L173.9 152.6 L174.2 142.8 L174.4 138.9 L174.6 151.7 L174.9 145.0 L175.1 137.1 L175.4 144.7 L175.6 147.3 L175.8 142.7 L176.1 141.0 L176.3 151.5 L176.6 157.6 L176.8 150.4 L177.0 147.2 L177.3 155.2 L177.5 157.8 L177.7 151.2 L178.0 157.3 L178.2 161.0 L178.5 152.7 L178.7 148.9 L178.9 157.2 L179.2 156.8 L179.4 163.1 L179.7 146.8 L179.9 151.4 L180.1 150.5 L180.4 144.5 L180.6 157.9 L180.8 161.1 L181.1 152.4 L181.3 167.9 L181.6 164.2 L181.8 163.1 L182.0 161.8 L182.3 166.2 L182.5 149.9 L182.8 164.3 L183.0 164.6 L183.2 147.6 L183.5 163.4 L183.7 159.3 L183.9 167.2 L184.2 158.5 L184.4 162.0 L184.7 165.0 L184.9 156.2 L185.1 167.5 L185.4 162.6 L185.6 167.4 L185.9 160.1 L186.1 172.6 L186.3 169.2 L186.6 163.6 L186.8 170.1 L187.0 175.2 L187.3 179.7 L187.5 154.1 L187.8 173.4 L188.0 170.5 L188.2 166.5 L188.5 159.7 L188.7 177.6 L189.0 158.2 L189.2 172.9 L189.4 179.0 L189.7 156.4 L189.9 167.0 L190.1 159.3 L190.4 172.0 L190.6 182.5 L190.9 186.9 L191.1 156.7 L191.3 166.7 L191.6 177.3 L191.8 184.7 L192.1 175.7 L192.3 166.5 L192.5 175.3 L192.8 173.1 L193.0 171.9 L193.2 167.8 L193.5 177.4 L193.7 177.0 L194.0 174.0 L194.2 173.3 L194.4 164.7 L194.7 171.7 L194.9 186.2 L195.2 174.8 L195.4 164.6 L195.6 188.3 L195.9 181.8 L196.1 195.6 L196.4 178.5 L196.6 174.4 L196.8 166.2 L197.1 190.3 L197.3 201.3 L197.5 172.5 L197.8 174.3 L198.0 186.8 L198.3 175.2 L198.5 179.3 L198.7 191.3 L199.0 190.0 L199.2 185.2 L199.5 170.7 L199.7 177.9 L199.9 207.9 L200.2 182.1 L200.4 177.1 L200.6 173.9 L200.9 182.6 L201.1 180.7 L201.4 183.0 L201.6 192.6 L201.8 178.5 L202.1 200.5 L202.3 199.1 L202.6 177.4 L202.8 188.1 L203.0 188.9 L203.3 186.0 L203.5 183.3 L203.7 185.8 L204.0 190.0 L204.2 187.5 L204.5 185.9 L204.7 183.9 L204.9 188.5 L205.2 190.2 L205.4 192.9 L205.7 179.7 L205.9 181.2 L206.1 181.2 L206.4 179.1 L206.6 186.5 L206.8 186.3 L207.1 201.1 L207.3 190.5 L207.6 174.7 L207.8 195.0 L208.0 189.0 L208.3 187.6 L208.5 203.6 L208.8 179.5 L209.0 183.2 L209.2 190.5 L209.5 195.5 L209.7 193.4 L209.9 186.8 L210.2 168.9 L210.4 179.6 L210.7 176.0 L210.9 180.5 L211.1 202.1 L211.4 167.6 L211.6 192.3 L211.9 166.9 L212.1 176.7 L212.3 187.2 L212.6 197.2 L212.8 185.8 L213.0 197.1 L213.3 198.1 L213.5 195.7 L213.8 196.3 L214.0 172.8 L214.2 194.9 L214.5 193.1 L214.7 202.9 L215.0 194.4 L215.2 180.6 L215.4 193.4 L215.7 195.6 L215.9 175.1 L216.1 193.0 L216.4 192.3 L216.6 195.0 L216.9 200.9 L217.1 193.8 L217.3 182.8 L217.6 204.1 L217.8 189.4 L218.1 187.8 L218.3 217.5 L218.5 187.8 L218.8 190.3 L219.0 193.5 L219.2 195.7 L219.5 182.0 L219.7 216.5 L220.0 213.5 L220.2 187.6 L220.4 194.4 L220.7 186.8 L220.9 192.9 L221.2 200.3 L221.4 187.2 L221.6 215.3 L221.9 170.8 L222.1 186.6 L222.3 192.5 L222.6 201.7 L222.8 195.7 L223.1 197.1 L223.3 198.8 L223.5 205.0 L223.8 169.6 L224.0 189.5 L224.3 211.7 L224.5 199.6 L224.7 203.7 L225.0 198.3 L225.2 193.4 L225.4 208.7 L225.7 207.3 L225.9 177.6 L226.2 196.0 L226.4 167.7 L226.6 192.4 L226.9 199.9 L227.1 198.9 L227.4 202.6 L227.6 192.0 L227.8 211.0 L228.1 204.9 L228.3 192.2 L228.5 198.0 L228.8 202.1 L229.0 192.3 L229.3 210.5 L229.5 201.1 L229.7 201.1 L230.0 200.7 L230.2 200.7 L230.5 201.0 L230.7 202.5 L230.9 191.5 L231.2 196.4 L231.4 198.0 L231.6 210.4 L231.9 209.0 L232.1 197.7 L232.4 196.4 L232.6 199.6 L232.8 198.5 L233.1 200.2 L233.3 188.5 L233.6 198.3 L233.8 205.2 L234.0 186.9 L234.3 193.5 L234.5 197.8 L234.7 210.0 L235.0 193.2 L235.2 174.5 L235.5 185.4 L235.7 200.8 L235.9 210.7 L236.2 193.6 L236.4 196.8 L236.7 208.7 L236.9 179.3 L237.1 199.8 L237.4 219.6 L237.6 201.2 L237.8 179.4 L238.1 213.6 L238.3 205.8 L238.6 187.5 L238.8 216.0 L239.0 206.9 L239.3 201.2 L239.5 190.3 L239.8 197.1 L240.0 199.7 L240.2 203.3 L240.5 171.5 L240.7 198.1 L240.9 202.6 L241.2 190.5 L241.4 206.9 L241.7 202.9 L241.9 192.6 L242.1 203.9 L242.4 194.9 L242.6 207.6 L242.9 209.7 L243.1 200.3 L243.3 200.9 L243.6 191.0 L243.8 194.9 L244.1 187.4 L244.3 206.3 L244.5 210.2 L244.8 188.6 L245.0 197.7 L245.2 210.7 L245.5 201.3 L245.7 193.7 L246.0 194.3 L246.2 204.4 L246.4 210.5 L246.7 197.0 L246.9 190.6 L247.2 210.0 L247.4 210.6 L247.6 200.0 L247.9 198.7 L248.1 212.7 L248.3 196.8 L248.6 182.5 L248.8 206.4 L249.1 205.9 L249.3 194.8 L249.5 194.2 L249.8 220.2 L250.0 203.8 L250.3 200.6 L250.5 221.1 L250.7 193.8 L251.0 192.4 L251.2 206.6 L251.4 208.3 L251.7 195.3 L251.9 187.0 L252.2 188.2 L252.4 187.1 L252.6 205.1 L252.9 196.9 L253.1 202.7 L253.4 206.8 L253.6 191.6 L253.8 222.4 L254.1 220.9 L254.3 200.4 L254.5 203.6 L254.8 214.2 L255.0 209.0 L255.3 188.7 L255.5 194.0 L255.7 192.8 L256.0 191.0 L256.2 193.2 L256.5 200.0 L256.7 189.8 L256.9 199.7 L257.2 205.3 L257.4 203.4 L257.6 205.2 L257.9 195.9 L258.1 204.3 L258.4 197.2 L258.6 213.2 L258.8 186.8 L259.1 200.2 L259.3 204.3 L259.6 199.2 L259.8 182.0 L260.0 202.5 L260.3 210.1 L260.5 210.2 L260.7 194.5 L261.0 207.7 L261.2 223.5 L261.5 197.1 L261.7 202.6 L261.9 198.3 L262.2 206.1 L262.4 214.6 L262.7 191.0 L262.9 214.0 L263.1 193.0 L263.4 194.6 L263.6 213.0 L263.8 201.3 L264.1 199.6 L264.3 207.2 L264.6 200.8 L264.8 203.4 L265.0 212.4 L265.3 186.4 L265.5 215.1 L265.8 194.3 L266.0 190.7 L266.2 204.8 L266.5 190.4 L266.7 190.5 L266.9 205.8 L267.2 183.3 L267.4 198.9 L267.7 202.8 L267.9 204.7 L268.1 186.0 L268.4 177.9 L268.6 202.6 L268.9 195.2 L269.1 193.0 L269.3 182.4 L269.6 216.1 L269.8 188.2 L270.0 197.3 L270.3 186.3 L270.5 202.0 L270.8 195.9 L271.0 191.8 L271.2 178.6 L271.5 187.3 L271.7 204.7 L272.0 194.0 L272.2 180.7 L272.4 203.3 L272.7 204.6 L272.9 187.3 L273.1 193.3 L273.4 187.1 L273.6 177.8 L273.9 184.2 L274.1 195.6 L274.3 176.6 L274.6 186.0 L274.8 203.0 L275.1 183.3 L275.3 184.5 L275.5 190.1 L275.8 192.4 L276.0 181.1 L276.2 181.1 L276.5 207.4 L276.7 191.3 L277.0 175.0 L277.2 181.3 L277.4 186.4 L277.7 196.9 L277.9 194.2 L278.2 218.7 L278.4 169.2 L278.6 211.6 L278.9 199.1 L279.1 199.9 L279.3 196.7 L279.6 190.8 L279.8 197.1 L280.1 201.3 L280.3 200.0 L280.5 198.0 L280.8 211.9 L281.0 197.9 L281.3 209.6 L281.5 198.7 L281.7 185.7 L282.0 193.5 L282.2 194.4 L282.4 187.3 L282.7 187.9 L282.9 223.5 L283.2 203.1 L283.4 176.3 L283.6 203.9 L283.9 199.7 L284.1 197.3 L284.4 212.9 L284.6 197.4 L284.8 177.3 L285.1 182.9 L285.3 185.1 L285.5 185.5 L285.8 194.7 L286.0 199.9 L286.3 206.7 L286.5 177.9 L286.7 215.6 L287.0 184.2 L287.2 208.0 L287.5 198.1 L287.7 195.8 L287.9 196.2 L288.2 199.0 L288.4 215.3 L288.6 220.6 L288.9 198.1 L289.1 195.4 L289.4 177.1 L289.6 195.6 L289.8 183.0 L290.1 187.9 L290.3 189.8 L290.6 202.1 L290.8 201.2 L291.0 195.7 L291.3 183.3 L291.5 195.8 L291.8 206.8 L292.0 202.1 L292.2 201.0 L292.5 191.9 L292.7 188.8 L292.9 215.1 L293.2 193.6 L293.4 199.5 L293.7 206.4 L293.9 189.0 L294.1 193.1 L294.4 182.7 L294.6 187.5 L294.9 179.6 L295.1 194.1 L295.3 204.5 L295.6 199.6 L295.8 171.7 L296.0 196.9 L296.3 180.2 L296.5 201.5 L296.8 198.8 L297.0 173.4 L297.2 192.8 L297.5 198.5 L297.7 185.9 L298.0 196.9 L298.2 195.1 L298.4 193.6 L298.7 187.6 L298.9 200.1 L299.1 194.6 L299.4 196.4 L299.6 169.0 L299.9 202.8 L300.1 181.7 L300.3 207.2 L300.6 193.5 L300.8 197.4 L301.1 195.2 L301.3 187.8 L301.5 198.6 L301.8 195.9 L302.0 192.1 L302.2 208.0 L302.5 209.2 L302.7 187.1 L303.0 194.8 L303.2 200.9 L303.4 198.4 L303.7 223.5 L303.9 198.0 L304.2 191.3 L304.4 196.0 L304.6 201.1 L304.9 216.3 L305.1 221.2 L305.3 212.5 L305.6 194.5 L305.8 200.5 L306.1 203.8 L306.3 200.0 L306.5 189.3 L306.8 194.7 L307.0 200.1 L307.3 192.0 L307.5 203.8 L307.7 214.0 L308.0 199.9 L308.2 199.8 L308.4 186.9 L308.7 196.8 L308.9 194.7" fill="none" stroke="#d890d8" stroke-width="0.55"/>
<path d="M169.4 142.3h0.01M169.6 150.7h0.01M169.9 150.2h0.01M170.1 139.9h0.01M170.4 141.5h0.01M170.6 140.4h0.01M170.8 147.5h0.01M171.1 144.0h0.01M171.3 149.3h0.01M171.5 136.9h0.01M171.8 155.1h0.01M172.0 145.0h0.01M172.3 150.2h0.01M172.5 145.4h0.01M172.7 144.1h0.01M173.0 149.8h0.01M173.2 152.5h0.01M173.5 146.2h0.01M173.7 146.8h0.01M173.9 152.6h0.01M174.2 142.8h0.01M174.4 138.9h0.01M174.6 151.7h0.01M174.9 145.0h0.01M175.1 137.1h0.01M175.4 144.7h0.01M175.6 147.3h0.01M175.8 142.7h0.01M176.1 141.0h0.01M176.3 151.5h0.01M176.6 157.6h0.01M176.8 150.4h0.01M177.0 147.2h0.01M177.3 155.2h0.01M177.5 157.8h0.01M177.7 151.2h0.01M178.0 157.3h0.01M178.2 161.0h0.01M178.5 152.7h0.01M178.7 148.9h0.01M178.9 157.2h0.01M179.2 156.8h0.01M179.4 163.1h0.01M179.7 146.8h0.01M179.9 151.4h0.01M180.1 150.5h0.01M180.4 144.5h0.01M180.6 157.9h0.01M180.8 161.1h0.01M181.1 152.4h0.01M181.3 167.9h0.01M181.6 164.2h0.01M181.8 163.1h0.01M182.0 161.8h0.01M182.3 166.2h0.01M182.5 149.9h0.01M182.8 164.3h0.01M183.0 164.6h0.01M183.2 147.6h0.01M183.5 163.4h0.01M183.7 159.3h0.01M183.9 167.2h0.01M184.2 158.5h0.01M184.4 162.0h0.01M184.7 165.0h0.01M184.9 156.2h0.01M185.1 167.5h0.01M185.4 162.6h0.01M185.6 167.4h0.01M185.9 160.1h0.01M186.1 172.6h0.01M186.3 169.2h0.01M186.6 163.6h0.01M186.8 170.1h0.01M187.0 175.2h0.01M187.3 179.7h0.01M187.5 154.1h0.01M187.8 173.4h0.01M188.0 170.5h0.01M188.2 166.5h0.01M188.5 159.7h0.01M188.7 177.6h0.01M189.0 158.2h0.01M189.2 172.9h0.01M189.4 179.0h0.01M189.7 156.4h0.01M189.9 167.0h0.01M190.1 159.3h0.01M190.4 172.0h0.01M190.6 182.5h0.01M190.9 186.9h0.01M191.1 156.7h0.01M191.3 166.7h0.01M191.6 177.3h0.01M191.8 184.7h0.01M192.1 175.7h0.01M192.3 166.5h0.01M192.5 175.3h0.01M192.8 173.1h0.01M193.0 171.9h0.01M193.2 167.8h0.01M193.5 177.4h0.01M193.7 177.0h0.01M194.0 174.0h0.01M194.2 173.3h0.01M194.4 164.7h0.01M194.7 171.7h0.01M194.9 186.2h0.01M195.2 174.8h0.01M195.4 164.6h0.01M195.6 188.3h0.01M195.9 181.8h0.01M196.1 195.6h0.01M196.4 178.5h0.01M196.6 174.4h0.01M196.8 166.2h0.01M197.1 190.3h0.01M197.3 201.3h0.01M197.5 172.5h0.01M197.8 174.3h0.01M198.0 186.8h0.01M198.3 175.2h0.01M198.5 179.3h0.01M198.7 191.3h0.01M199.0 190.0h0.01M199.2 185.2h0.01M199.5 170.7h0.01M199.7 177.9h0.01M199.9 207.9h0.01M200.2 182.1h0.01M200.4 177.1h0.01M200.6 173.9h0.01M200.9 182.6h0.01M201.1 180.7h0.01M201.4 183.0h0.01M201.6 192.6h0.01M201.8 178.5h0.01M202.1 200.5h0.01M202.3 199.1h0.01M202.6 177.4h0.01M202.8 188.1h0.01M203.0 188.9h0.01M203.3 186.0h0.01M203.5 183.3h0.01M203.7 185.8h0.01M204.0 190.0h0.01M204.2 187.5h0.01M204.5 185.9h0.01M204.7 183.9h0.01M204.9 188.5h0.01M205.2 190.2h0.01M205.4 192.9h0.01M205.7 179.7h0.01M205.9 181.2h0.01M206.1 181.2h0.01M206.4 179.1h0.01M206.6 186.5h0.01M206.8 186.3h0.01M207.1 201.1h0.01M207.3 190.5h0.01M207.6 174.7h0.01M207.8 195.0h0.01M208.0 189.0h0.01M208.3 187.6h0.01M208.5 203.6h0.01M208.8 179.5h0.01M209.0 183.2h0.01M209.2 190.5h0.01M209.5 195.5h0.01M209.7 193.4h0.01M209.9 186.8h0.01M210.2 168.9h0.01M210.4 179.6h0.01M210.7 176.0h0.01M210.9 180.5h0.01M211.1 202.1h0.01M211.4 167.6h0.01M211.6 192.3h0.01M211.9 166.9h0.01M212.1 176.7h0.01M212.3 187.2h0.01M212.6 197.2h0.01M212.8 185.8h0.01M213.0 197.1h0.01M213.3 198.1h0.01M213.5 195.7h0.01M213.8 196.3h0.01M214.0 172.8h0.01M214.2 194.9h0.01M214.5 193.1h0.01M214.7 202.9h0.01M215.0 194.4h0.01M215.2 180.6h0.01M215.4 193.4h0.01M215.7 195.6h0.01M215.9 175.1h0.01M216.1 193.0h0.01M216.4 192.3h0.01M216.6 195.0h0.01M216.9 200.9h0.01M217.1 193.8h0.01M217.3 182.8h0.01M217.6 204.1h0.01M217.8 189.4h0.01M218.1 187.8h0.01M218.3 217.5h0.01M218.5 187.8h0.01M218.8 190.3h0.01M219.0 193.5h0.01M219.2 195.7h0.01M219.5 182.0h0.01M219.7 216.5h0.01M220.0 213.5h0.01M220.2 187.6h0.01M220.4 194.4h0.01M220.7 186.8h0.01M220.9 192.9h0.01M221.2 200.3h0.01M221.4 187.2h0.01M221.6 215.3h0.01M221.9 170.8h0.01M222.1 186.6h0.01M222.3 192.5h0.01M222.6 201.7h0.01M222.8 195.7h0.01M223.1 197.1h0.01M223.3 198.8h0.01M223.5 205.0h0.01M223.8 169.6h0.01M224.0 189.5h0.01M224.3 211.7h0.01M224.5 199.6h0.01M224.7 203.7h0.01M225.0 198.3h0.01M225.2 193.4h0.01M225.4 208.7h0.01M225.7 207.3h0.01M225.9 177.6h0.01M226.2 196.0h0.01M226.4 167.7h0.01M226.6 192.4h0.01M226.9 199.9h0.01M227.1 198.9h0.01M227.4 202.6h0.01M227.6 192.0h0.01M227.8 211.0h0.01M228.1 204.9h0.01M228.3 192.2h0.01M228.5 198.0h0.01M228.8 202.1h0.01M229.0 192.3h0.01M229.3 210.5h0.01M229.5 201.1h0.01M229.7 201.1h0.01M230.0 200.7h0.01M230.2 200.7h0.01M230.5 201.0h0.01M230.7 202.5h0.01M230.9 191.5h0.01M231.2 196.4h0.01M231.4 198.0h0.01M231.6 210.4h0.01M231.9 209.0h0.01M232.1 197.7h0.01M232.4 196.4h0.01M232.6 199.6h0.01M232.8 198.5h0.01M233.1 200.2h0.01M233.3 188.5h0.01M233.6 198.3h0.01M233.8 205.2h0.01M234.0 186.9h0.01M234.3 193.5h0.01M234.5 197.8h0.01M234.7 210.0h0.01M235.0 193.2h0.01M235.2 174.5h0.01M235.5 185.4h0.01M235.7 200.8h0.01M235.9 210.7h0.01M236.2 193.6h0.01M236.4 196.8h0.01M236.7 208.7h0.01M236.9 179.3h0.01M237.1 199.8h0.01M237.4 219.6h0.01M237.6 201.2h0.01M237.8 179.4h0.01M238.1 213.6h0.01M238.3 205.8h0.01M238.6 187.5h0.01M238.8 216.0h0.01M239.0 206.9h0.01M239.3 201.2h0.01M239.5 190.3h0.01M239.8 197.1h0.01M240.0 199.7h0.01M240.2 203.3h0.01M240.5 171.5h0.01M240.7 198.1h0.01M240.9 202.6h0.01M241.2 190.5h0.01M241.4 206.9h0.01M241.7 202.9h0.01M241.9 192.6h0.01M242.1 203.9h0.01M242.4 194.9h0.01M242.6 207.6h0.01M242.9 209.7h0.01M243.1 200.3h0.01M243.3 200.9h0.01M243.6 191.0h0.01M243.8 194.9h0.01M244.1 187.4h0.01M244.3 206.3h0.01M244.5 210.2h0.01M244.8 188.6h0.01M245.0 197.7h0.01M245.2 210.7h0.01M245.5 201.3h0.01M245.7 193.7h0.01M246.0 194.3h0.01M246.2 204.4h0.01M246.4 210.5h0.01M246.7 197.0h0.01M246.9 190.6h0.01M247.2 210.0h0.01M247.4 210.6h0.01M247.6 200.0h0.01M247.9 198.7h0.01M248.1 212.7h0.01M248.3 196.8h0.01M248.6 182.5h0.01M248.8 206.4h0.01M249.1 205.9h0.01M249.3 194.8h0.01M249.5 194.2h0.01M249.8 220.2h0.01M250.0 203.8h0.01M250.3 200.6h0.01M250.5 221.1h0.01M250.7 193.8h0.01M251.0 192.4h0.01M251.2 206.6h0.01M251.4 208.3h0.01M251.7 195.3h0.01M251.9 187.0h0.01M252.2 188.2h0.01M252.4 187.1h0.01M252.6 205.1h0.01M252.9 196.9h0.01M253.1 202.7h0.01M253.4 206.8h0.01M253.6 191.6h0.01M253.8 222.4h0.01M254.1 220.9h0.01M254.3 200.4h0.01M254.5 203.6h0.01M254.8 214.2h0.01M255.0 209.0h0.01M255.3 188.7h0.01M255.5 194.0h0.01M255.7 192.8h0.01M256.0 191.0h0.01M256.2 193.2h0.01M256.5 200.0h0.01M256.7 189.8h0.01M256.9 199.7h0.01M257.2 205.3h0.01M257.4 203.4h0.01M257.6 205.2h0.01M257.9 195.9h0.01M258.1 204.3h0.01M258.4 197.2h0.01M258.6 213.2h0.01M258.8 186.8h0.01M259.1 200.2h0.01M259.3 204.3h0.01M259.6 199.2h0.01M259.8 182.0h0.01M260.0 202.5h0.01M260.3 210.1h0.01M260.5 210.2h0.01M260.7 194.5h0.01M261.0 207.7h0.01M261.2 223.5h0.01M261.5 197.1h0.01M261.7 202.6h0.01M261.9 198.3h0.01M262.2 206.1h0.01M262.4 214.6h0.01M262.7 191.0h0.01M262.9 214.0h0.01M263.1 193.0h0.01M263.4 194.6h0.01M263.6 213.0h0.01M263.8 201.3h0.01M264.1 199.6h0.01M264.3 207.2h0.01M264.6 200.8h0.01M264.8 203.4h0.01M265.0 212.4h0.01M265.3 186.4h0.01M265.5 215.1h0.01M265.8 194.3h0.01M266.0 190.7h0.01M266.2 204.8h0.01M266.5 190.4h0.01M266.7 190.5h0.01M266.9 205.8h0.01M267.2 183.3h0.01M267.4 198.9h0.01M267.7 202.8h0.01M267.9 204.7h0.01M268.1 186.0h0.01M268.4 177.9h0.01M268.6 202.6h0.01M268.9 195.2h0.01M269.1 193.0h0.01M269.3 182.4h0.01M269.6 216.1h0.01M269.8 188.2h0.01M270.0 197.3h0.01M270.3 186.3h0.01M270.5 202.0h0.01M270.8 195.9h0.01M271.0 191.8h0.01M271.2 178.6h0.01M271.5 187.3h0.01M271.7 204.7h0.01M272.0 194.0h0.01M272.2 180.7h0.01M272.4 203.3h0.01M272.7 204.6h0.01M272.9 187.3h0.01M273.1 193.3h0.01M273.4 187.1h0.01M273.6 177.8h0.01M273.9 184.2h0.01M274.1 195.6h0.01M274.3 176.6h0.01M274.6 186.0h0.01M274.8 203.0h0.01M275.1 183.3h0.01M275.3 184.5h0.01M275.5 190.1h0.01M275.8 192.4h0.01M276.0 181.1h0.01M276.2 181.1h0.01M276.5 207.4h0.01M276.7 191.3h0.01M277.0 175.0h0.01M277.2 181.3h0.01M277.4 186.4h0.01M277.7 196.9h0.01M277.9 194.2h0.01M278.2 218.7h0.01M278.4 169.2h0.01M278.6 211.6h0.01M278.9 199.1h0.01M279.1 199.9h0.01M279.3 196.7h0.01M279.6 190.8h0.01M279.8 197.1h0.01M280.1 201.3h0.01M280.3 200.0h0.01M280.5 198.0h0.01M280.8 211.9h0.01M281.0 197.9h0.01M281.3 209.6h0.01M281.5 198.7h0.01M281.7 185.7h0.01M282.0 193.5h0.01M282.2 194.4h0.01M282.4 187.3h0.01M282.7 187.9h0.01M282.9 223.5h0.01M283.2 203.1h0.01M283.4 176.3h0.01M283.6 203.9h0.01M283.9 199.7h0.01M284.1 197.3h0.01M284.4 212.9h0.01M284.6 197.4h0.01M284.8 177.3h0.01M285.1 182.9h0.01M285.3 185.1h0.01M285.5 185.5h0.01M285.8 194.7h0.01M286.0 199.9h0.01M286.3 206.7h0.01M286.5 177.9h0.01M286.7 215.6h0.01M287.0 184.2h0.01M287.2 208.0h0.01M287.5 198.1h0.01M287.7 195.8h0.01M287.9 196.2h0.01M288.2 199.0h0.01M288.4 215.3h0.01M288.6 220.6h0.01M288.9 198.1h0.01M289.1 195.4h0.01M289.4 177.1h0.01M289.6 195.6h0.01M289.8 183.0h0.01M290.1 187.9h0.01M290.3 189.8h0.01M290.6 202.1h0.01M290.8 201.2h0.01M291.0 195.7h0.01M291.3 183.3h0.01M291.5 195.8h0.01M291.8 206.8h0.01M292.0 202.1h0.01M292.2 201.0h0.01M292.5 191.9h0.01M292.7 188.8h0.01M292.9 215.1h0.01M293.2 193.6h0.01M293.4 199.5h0.01M293.7 206.4h0.01M293.9 189.0h0.01M294.1 193.1h0.01M294.4 182.7h0.01M294.6 187.5h0.01M294.9 179.6h0.01M295.1 194.1h0.01M295.3 204.5h0.01M295.6 199.6h0.01M295.8 171.7h0.01M296.0 196.9h0.01M296.3 180.2h0.01M296.5 201.5h0.01M296.8 198.8h0.01M297.0 173.4h0.01M297.2 192.8h0.01M297.5 198.5h0.01M297.7 185.9h0.01M298.0 196.9h0.01M298.2 195.1h0.01M298.4 193.6h0.01M298.7 187.6h0.01M298.9 200.1h0.01M299.1 194.6h0.01M299.4 196.4h0.01M299.6 169.0h0.01M299.9 202.8h0.01M300.1 181.7h0.01M300.3 207.2h0.01M300.6 193.5h0.01M300.8 197.4h0.01M301.1 195.2h0.01M301.3 187.8h0.01M301.5 198.6h0.01M301.8 195.9h0.01M302.0 192.1h0.01M302.2 208.0h0.01M302.5 209.2h0.01M302.7 187.1h0.01M303.0 194.8h0.01M303.2 200.9h0.01M303.4 198.4h0.01M303.7 223.5h0.01M303.9 198.0h0.01M304.2 191.3h0.01M304.4 196.0h0.01M304.6 201.1h0.01M304.9 216.3h0.01M305.1 221.2h0.01M305.3 212.5h0.01M305.6 194.5h0.01M305.8 200.5h0.01M306.1 203.8h0.01M306.3 200.0h0.01M306.5 189.3h0.01M306.8 194.7h0.01M307.0 200.1h0.01M307.3 192.0h0.01M307.5 203.8h0.01M307.7 214.0h0.01M308.0 199.9h0.01M308.2 199.8h0.01M308.4 186.9h0.01M308.7 196.8h0.01M308.9 194.7h0.01" fill="none" stroke="#65156e" stroke-width="1.50" stroke-linecap="round"/>
<circle cx="186.0" cy="180.3" r="1.3" fill="#fafafa" stroke="#a8a8a8" stroke-width="0.5"/>
<circle cx="190.6" cy="180.3" r="1.3" fill="#fafafa" stroke="#a8a8a8" stroke-width="0.5"/>
<circle cx="195.2" cy="180.3" r="1.3" fill="#fafafa" stroke="#a8a8a8" stroke-width="0.5"/>
<circle cx="199.8" cy="180.3" r="1.3" fill="#fafafa" stroke="#a8a8a8" stroke-width="0.5"/>
<circle cx="204.4" cy="180.3" r="1.3" fill="#fafafa" stroke="#a8a8a8" stroke-width="0.5"/>
<circle cx="209.0" cy="180.3" r="1.3" fill="#fafafa" stroke="#a8a8a8" stroke-width="0.5"/>
<circle cx="213.6" cy="180.3" r="1.3" fill="#fafafa" stroke="#a8a8a8" stroke-width="0.5"/>
<circle cx="218.2" cy="180.3" r="1.3" fill="#fafafa" stroke="#a8a8a8" stroke-width="0.5"/>
<circle cx="222.8" cy="180.3" r="1.3" fill="#fafafa" stroke="#a8a8a8" stroke-width="0.5"/>
<circle cx="227.4" cy="180.3" r="1.3" fill="#fafafa" stroke="#a8a8a8" stroke-width="0.5"/>
<circle cx="232.0" cy="180.3" r="1.3" fill="#fafafa" stroke="#a8a8a8" stroke-width="0.5"/>
<circle cx="236.6" cy="180.3" r="1.3" fill="#fafafa" stroke="#a8a8a8" stroke-width="0.5"/>
<circle cx="241.2" cy="180.3" r="1.3" fill="#fafafa" stroke="#a8a8a8" stroke-width="0.5"/>
<circle cx="245.8" cy="180.3" r="1.3" fill="#fafafa" stroke="#a8a8a8" stroke-width="0.5"/>
<circle cx="250.4" cy="180.3" r="1.3" fill="#fafafa" stroke="#a8a8a8" stroke-width="0.5"/>
<circle cx="255.0" cy="180.3" r="1.3" fill="#fafafa" stroke="#a8a8a8" stroke-width="0.5"/>
<circle cx="259.6" cy="180.3" r="1.3" fill="#fafafa" stroke="#a8a8a8" stroke-width="0.5"/>
<circle cx="264.2" cy="180.3" r="1.3" fill="#fafafa" stroke="#a8a8a8" stroke-width="0.5"/>
<circle cx="268.8" cy="180.3" r="1.3" fill="#fafafa" stroke="#a8a8a8" stroke-width="0.5"/>
<circle cx="273.4" cy="180.3" r="1.3" fill="#fafafa" stroke="#a8a8a8" stroke-width="0.5"/>
<circle cx="278.0" cy="180.3" r="1.3" fill="#fafafa" stroke="#a8a8a8" stroke-width="0.5"/>
<circle cx="282.6" cy="180.3" r="1.3" fill="#fafafa" stroke="#a8a8a8" stroke-width="0.5"/>
<circle cx="287.2" cy="180.3" r="1.3" fill="#fafafa" stroke="#a8a8a8" stroke-width="0.5"/>
<circle cx="291.8" cy="180.3" r="1.3" fill="#fafafa" stroke="#a8a8a8" stroke-width="0.5"/>
<circle cx="296.4" cy="180.3" r="1.3" fill="#fafafa" stroke="#a8a8a8" stroke-width="0.5"/>
<circle cx="301.0" cy="180.3" r="1.3" fill="#fafafa" stroke="#a8a8a8" stroke-width="0.5"/>
<line x1="168.9" y1="223.5" x2="170.4" y2="223.5" stroke="#666" stroke-width="0.5"/>
<line x1="309.3" y1="223.5" x2="307.8" y2="223.5" stroke="#666" stroke-width="0.5"/>
<text x="167.60" y="225.30" font-size="5.20" fill="#8a5a8a" font-weight="normal" text-anchor="end" stroke="#8a5a8a" stroke-width="0.2">0</text>
<text x="310.60" y="225.30" font-size="5.20" fill="#5a8a5a" font-weight="normal" text-anchor="start" stroke="#5a8a5a" stroke-width="0.2">0</text>
<line x1="168.9" y1="206.2" x2="170.4" y2="206.2" stroke="#666" stroke-width="0.5"/>
<line x1="309.3" y1="206.2" x2="307.8" y2="206.2" stroke="#666" stroke-width="0.5"/>
<text x="167.60" y="207.98" font-size="5.20" fill="#8a5a8a" font-weight="normal" text-anchor="end" stroke="#8a5a8a" stroke-width="0.2">20</text>
<text x="310.60" y="207.98" font-size="5.20" fill="#5a8a5a" font-weight="normal" text-anchor="start" stroke="#5a8a5a" stroke-width="0.2">20</text>
<line x1="168.9" y1="188.9" x2="170.4" y2="188.9" stroke="#666" stroke-width="0.5"/>
<line x1="309.3" y1="188.9" x2="307.8" y2="188.9" stroke="#666" stroke-width="0.5"/>
<text x="167.60" y="190.66" font-size="5.20" fill="#8a5a8a" font-weight="normal" text-anchor="end" stroke="#8a5a8a" stroke-width="0.2">40</text>
<text x="310.60" y="190.66" font-size="5.20" fill="#5a8a5a" font-weight="normal" text-anchor="start" stroke="#5a8a5a" stroke-width="0.2">40</text>
<line x1="168.9" y1="171.5" x2="170.4" y2="171.5" stroke="#666" stroke-width="0.5"/>
<line x1="309.3" y1="171.5" x2="307.8" y2="171.5" stroke="#666" stroke-width="0.5"/>
<text x="167.60" y="173.34" font-size="5.20" fill="#8a5a8a" font-weight="normal" text-anchor="end" stroke="#8a5a8a" stroke-width="0.2">60</text>
<text x="310.60" y="173.34" font-size="5.20" fill="#5a8a5a" font-weight="normal" text-anchor="start" stroke="#5a8a5a" stroke-width="0.2">60</text>
<line x1="168.9" y1="154.2" x2="170.4" y2="154.2" stroke="#666" stroke-width="0.5"/>
<line x1="309.3" y1="154.2" x2="307.8" y2="154.2" stroke="#666" stroke-width="0.5"/>
<text x="167.60" y="156.02" font-size="5.20" fill="#8a5a8a" font-weight="normal" text-anchor="end" stroke="#8a5a8a" stroke-width="0.2">80</text>
<text x="310.60" y="156.02" font-size="5.20" fill="#5a8a5a" font-weight="normal" text-anchor="start" stroke="#5a8a5a" stroke-width="0.2">80</text>
<line x1="168.9" y1="136.9" x2="170.4" y2="136.9" stroke="#666" stroke-width="0.5"/>
<line x1="309.3" y1="136.9" x2="307.8" y2="136.9" stroke="#666" stroke-width="0.5"/>
<text x="167.60" y="138.70" font-size="5.20" fill="#8a5a8a" font-weight="normal" text-anchor="end" stroke="#8a5a8a" stroke-width="0.2">100</text>
<text x="310.60" y="138.70" font-size="5.20" fill="#5a8a5a" font-weight="normal" text-anchor="start" stroke="#5a8a5a" stroke-width="0.2">100</text>
<line x1="169.4" y1="223.5" x2="169.4" y2="222.0" stroke="#666" stroke-width="0.5"/>
<text x="169.40" y="230.10" font-size="5.20" fill="#555" font-weight="normal" text-anchor="middle" stroke="#555" stroke-width="0.2">0</text>
<line x1="188.5" y1="223.5" x2="188.5" y2="222.0" stroke="#666" stroke-width="0.5"/>
<text x="188.50" y="230.10" font-size="5.20" fill="#555" font-weight="normal" text-anchor="middle" stroke="#555" stroke-width="0.2">200</text>
<line x1="208.0" y1="223.5" x2="208.0" y2="222.0" stroke="#666" stroke-width="0.5"/>
<text x="208.00" y="230.10" font-size="5.20" fill="#555" font-weight="normal" text-anchor="middle" stroke="#555" stroke-width="0.2">400</text>
<line x1="227.2" y1="223.5" x2="227.2" y2="222.0" stroke="#666" stroke-width="0.5"/>
<text x="227.20" y="230.10" font-size="5.20" fill="#555" font-weight="normal" text-anchor="middle" stroke="#555" stroke-width="0.2">600</text>
<line x1="246.5" y1="223.5" x2="246.5" y2="222.0" stroke="#666" stroke-width="0.5"/>
<text x="246.50" y="230.10" font-size="5.20" fill="#555" font-weight="normal" text-anchor="middle" stroke="#555" stroke-width="0.2">800</text>
<line x1="265.8" y1="223.5" x2="265.8" y2="222.0" stroke="#666" stroke-width="0.5"/>
<text x="265.80" y="230.10" font-size="5.20" fill="#555" font-weight="normal" text-anchor="middle" stroke="#555" stroke-width="0.2">1000</text>
<line x1="284.6" y1="223.5" x2="284.6" y2="222.0" stroke="#666" stroke-width="0.5"/>
<text x="284.60" y="230.10" font-size="5.20" fill="#555" font-weight="normal" text-anchor="middle" stroke="#555" stroke-width="0.2">1200</text>
<line x1="303.2" y1="223.5" x2="303.2" y2="222.0" stroke="#666" stroke-width="0.5"/>
<text x="303.20" y="230.10" font-size="5.20" fill="#555" font-weight="normal" text-anchor="middle" stroke="#555" stroke-width="0.2">1400</text>
<rect x="168.90" y="128.80" width="140.40" height="94.70" fill="none" stroke="#6a6a6a" stroke-width="1.2"/>
<text x="240.60" y="238.30" font-size="7.60" fill="#222" font-weight="bold" text-anchor="middle" textLength="21.6" lengthAdjust="spacingAndGlyphs" stroke="#222" stroke-width="0.3">Time /s</text>
<text x="156.40" y="178.80" font-size="7.00" fill="#8a2a9a" font-weight="bold" text-anchor="middle" textLength="94.0" lengthAdjust="spacingAndGlyphs" stroke="#8a2a9a" stroke-width="0.3" transform="rotate(-90 156.4 178.8)">Spectral Composition ZnO /%</text>
<text x="321.60" y="174.50" font-size="7.00" fill="#3a9a3a" font-weight="bold" text-anchor="middle" textLength="93.0" lengthAdjust="spacingAndGlyphs" stroke="#3a9a3a" stroke-width="0.3" transform="rotate(90 321.6 174.5)">Spectral Composition ZIF-8 /%</text>
<path d="M358.1 168.0 L360.2 170.7 L362.3 168.0 L363.8 177.0 L365.8 173.8 L368.5 152.0 L370.6 162.4 L372.7 162.4 L374.2 169.7 L375.8 144.2 L377.5 152.6 L379.6 163.0 L381.3 161.0 L383.1 163.0 L384.6 165.5 L386.7 168.6 L388.3 165.0 L390.0 168.6 L392.1 161.3 L394.0 158.2 L395.6 163.4 L397.3 156.8 L399.2 163.0 L401.9 169.7 L404.0 162.4 L406.0 154.0 L408.1 181.3 L409.7 172.7 L411.5 158.0 L413.3 159.2 L415.1 160.8 L416.9 145.1 L418.5 152.1 L420.3 162.6 L422.1 142.8 L423.8 165.0 L425.8 151.3 L427.9 152.0 L429.4 154.0 L430.8 140.5 L432.5 149.9 L434.2 156.1 L436.2 163.4 L437.7 150.5 L439.8 149.9 L441.5 137.4 L443.3 137.4 L445.0 153.0 L446.7 150.5 L448.1 143.6 L450.2 141.5 L451.7 154.7 L453.3 147.8 L455.0 150.9 L456.5 141.5 L457.5 137.4 L459.3 137.4 L461.1 137.4 L462.9 137.4 L464.6 137.4 L466.4 137.4 L468.2 137.4 L470.0 137.4 L471.8 137.4 L473.5 137.4 L475.3 137.4 L477.1 137.4 L478.9 137.4 L480.7 137.4 L482.4 137.4 L484.2 137.4 L486.0 137.4 L487.8 137.4 L489.6 137.4 L491.3 137.4 L493.1 137.4 L494.9 137.4 L496.7 137.4" fill="none" stroke="#a8dca8" stroke-width="0.45"/>
<path d="M358.1 168.0h0.01M360.2 170.7h0.01M362.3 168.0h0.01M363.8 177.0h0.01M365.8 173.8h0.01M368.5 152.0h0.01M370.6 162.4h0.01M372.7 162.4h0.01M374.2 169.7h0.01M375.8 144.2h0.01M377.5 152.6h0.01M379.6 163.0h0.01M381.3 161.0h0.01M383.1 163.0h0.01M384.6 165.5h0.01M386.7 168.6h0.01M388.3 165.0h0.01M390.0 168.6h0.01M392.1 161.3h0.01M394.0 158.2h0.01M395.6 163.4h0.01M397.3 156.8h0.01M399.2 163.0h0.01M401.9 169.7h0.01M404.0 162.4h0.01M406.0 154.0h0.01M408.1 181.3h0.01M409.7 172.7h0.01M411.5 158.0h0.01M413.3 159.2h0.01M415.1 160.8h0.01M416.9 145.1h0.01M418.5 152.1h0.01M420.3 162.6h0.01M422.1 142.8h0.01M423.8 165.0h0.01M425.8 151.3h0.01M427.9 152.0h0.01M429.4 154.0h0.01M430.8 140.5h0.01M432.5 149.9h0.01M434.2 156.1h0.01M436.2 163.4h0.01M437.7 150.5h0.01M439.8 149.9h0.01M441.5 137.4h0.01M443.3 137.4h0.01M445.0 153.0h0.01M446.7 150.5h0.01M448.1 143.6h0.01M450.2 141.5h0.01M451.7 154.7h0.01M453.3 147.8h0.01M455.0 150.9h0.01M456.5 141.5h0.01M457.5 137.4h0.01M459.3 137.4h0.01M461.1 137.4h0.01M462.9 137.4h0.01M464.6 137.4h0.01M466.4 137.4h0.01M468.2 137.4h0.01M470.0 137.4h0.01M471.8 137.4h0.01M473.5 137.4h0.01M475.3 137.4h0.01M477.1 137.4h0.01M478.9 137.4h0.01M480.7 137.4h0.01M482.4 137.4h0.01M484.2 137.4h0.01M486.0 137.4h0.01M487.8 137.4h0.01M489.6 137.4h0.01M491.3 137.4h0.01M493.1 137.4h0.01M494.9 137.4h0.01M496.7 137.4h0.01" fill="none" stroke="#3a7a45" stroke-width="1.20" stroke-linecap="round"/>
<path d="M358.1 192.6 L360.2 189.9 L362.3 192.6 L363.8 183.6 L365.8 186.8 L368.5 208.6 L370.6 198.2 L372.7 198.2 L374.2 190.9 L375.8 216.4 L377.5 208.0 L379.6 197.6 L381.3 199.6 L383.1 197.6 L384.6 195.1 L386.7 192.0 L388.3 195.6 L390.0 192.0 L392.1 199.3 L394.0 202.4 L395.6 197.2 L397.3 203.9 L399.2 197.6 L401.9 190.9 L404.0 198.2 L406.0 206.6 L408.1 179.3 L409.7 187.9 L411.5 202.6 L413.3 201.4 L415.1 199.8 L416.9 215.5 L418.5 208.5 L420.3 198.0 L422.1 217.8 L423.8 195.6 L425.8 209.3 L427.9 208.6 L429.4 206.6 L430.8 220.1 L432.5 210.7 L434.2 204.5 L436.2 197.2 L437.7 210.1 L439.8 210.7 L441.5 223.2 L443.3 223.2 L445.0 207.6 L446.7 210.1 L448.1 217.0 L450.2 219.1 L451.7 205.9 L453.3 212.8 L455.0 209.7 L456.5 219.1 L457.5 223.2" fill="none" stroke="#e0a8e0" stroke-width="0.45"/>
<path d="M358.1 192.6h0.01M360.2 189.9h0.01M362.3 192.6h0.01M363.8 183.6h0.01M365.8 186.8h0.01M368.5 208.6h0.01M370.6 198.2h0.01M372.7 198.2h0.01M374.2 190.9h0.01M375.8 216.4h0.01M377.5 208.0h0.01M379.6 197.6h0.01M381.3 199.6h0.01M383.1 197.6h0.01M384.6 195.1h0.01M386.7 192.0h0.01M388.3 195.6h0.01M390.0 192.0h0.01M392.1 199.3h0.01M394.0 202.4h0.01M395.6 197.2h0.01M397.3 203.9h0.01M399.2 197.6h0.01M401.9 190.9h0.01M404.0 198.2h0.01M406.0 206.6h0.01M408.1 179.3h0.01M409.7 187.9h0.01M411.5 202.6h0.01M413.3 201.4h0.01M415.1 199.8h0.01M416.9 215.5h0.01M418.5 208.5h0.01M420.3 198.0h0.01M422.1 217.8h0.01M423.8 195.6h0.01M425.8 209.3h0.01M427.9 208.6h0.01M429.4 206.6h0.01M430.8 220.1h0.01M432.5 210.7h0.01M434.2 204.5h0.01M436.2 197.2h0.01M437.7 210.1h0.01M439.8 210.7h0.01M441.5 223.2h0.01M443.3 223.2h0.01M445.0 207.6h0.01M446.7 210.1h0.01M448.1 217.0h0.01M450.2 219.1h0.01M451.7 205.9h0.01M453.3 212.8h0.01M455.0 209.7h0.01M456.5 219.1h0.01M457.5 223.2h0.01" fill="none" stroke="#7a3a85" stroke-width="1.20" stroke-linecap="round"/>
<line x1="356.4" y1="223.5" x2="357.9" y2="223.5" stroke="#666" stroke-width="0.5"/>
<line x1="497.0" y1="223.5" x2="495.5" y2="223.5" stroke="#666" stroke-width="0.5"/>
<text x="355.10" y="225.30" font-size="5.20" fill="#8a5a8a" font-weight="normal" text-anchor="end" stroke="#8a5a8a" stroke-width="0.2">0</text>
<text x="498.30" y="225.30" font-size="5.20" fill="#5a8a5a" font-weight="normal" text-anchor="start" stroke="#5a8a5a" stroke-width="0.2">0</text>
<line x1="356.4" y1="206.2" x2="357.9" y2="206.2" stroke="#666" stroke-width="0.5"/>
<line x1="497.0" y1="206.2" x2="495.5" y2="206.2" stroke="#666" stroke-width="0.5"/>
<text x="355.10" y="207.98" font-size="5.20" fill="#8a5a8a" font-weight="normal" text-anchor="end" stroke="#8a5a8a" stroke-width="0.2">20</text>
<text x="498.30" y="207.98" font-size="5.20" fill="#5a8a5a" font-weight="normal" text-anchor="start" stroke="#5a8a5a" stroke-width="0.2">20</text>
<line x1="356.4" y1="188.9" x2="357.9" y2="188.9" stroke="#666" stroke-width="0.5"/>
<line x1="497.0" y1="188.9" x2="495.5" y2="188.9" stroke="#666" stroke-width="0.5"/>
<text x="355.10" y="190.66" font-size="5.20" fill="#8a5a8a" font-weight="normal" text-anchor="end" stroke="#8a5a8a" stroke-width="0.2">40</text>
<text x="498.30" y="190.66" font-size="5.20" fill="#5a8a5a" font-weight="normal" text-anchor="start" stroke="#5a8a5a" stroke-width="0.2">40</text>
<line x1="356.4" y1="171.5" x2="357.9" y2="171.5" stroke="#666" stroke-width="0.5"/>
<line x1="497.0" y1="171.5" x2="495.5" y2="171.5" stroke="#666" stroke-width="0.5"/>
<text x="355.10" y="173.34" font-size="5.20" fill="#8a5a8a" font-weight="normal" text-anchor="end" stroke="#8a5a8a" stroke-width="0.2">60</text>
<text x="498.30" y="173.34" font-size="5.20" fill="#5a8a5a" font-weight="normal" text-anchor="start" stroke="#5a8a5a" stroke-width="0.2">60</text>
<line x1="356.4" y1="154.2" x2="357.9" y2="154.2" stroke="#666" stroke-width="0.5"/>
<line x1="497.0" y1="154.2" x2="495.5" y2="154.2" stroke="#666" stroke-width="0.5"/>
<text x="355.10" y="156.02" font-size="5.20" fill="#8a5a8a" font-weight="normal" text-anchor="end" stroke="#8a5a8a" stroke-width="0.2">80</text>
<text x="498.30" y="156.02" font-size="5.20" fill="#5a8a5a" font-weight="normal" text-anchor="start" stroke="#5a8a5a" stroke-width="0.2">80</text>
<line x1="356.4" y1="136.9" x2="357.9" y2="136.9" stroke="#666" stroke-width="0.5"/>
<line x1="497.0" y1="136.9" x2="495.5" y2="136.9" stroke="#666" stroke-width="0.5"/>
<text x="355.10" y="138.70" font-size="5.20" fill="#8a5a8a" font-weight="normal" text-anchor="end" stroke="#8a5a8a" stroke-width="0.2">100</text>
<text x="498.30" y="138.70" font-size="5.20" fill="#5a8a5a" font-weight="normal" text-anchor="start" stroke="#5a8a5a" stroke-width="0.2">100</text>
<line x1="357.0" y1="223.5" x2="357.0" y2="222.0" stroke="#666" stroke-width="0.5"/>
<text x="357.00" y="230.10" font-size="5.20" fill="#555" font-weight="normal" text-anchor="middle" stroke="#555" stroke-width="0.2">0</text>
<line x1="374.5" y1="223.5" x2="374.5" y2="222.0" stroke="#666" stroke-width="0.5"/>
<text x="374.50" y="230.10" font-size="5.20" fill="#555" font-weight="normal" text-anchor="middle" stroke="#555" stroke-width="0.2">20</text>
<line x1="392.0" y1="223.5" x2="392.0" y2="222.0" stroke="#666" stroke-width="0.5"/>
<text x="392.00" y="230.10" font-size="5.20" fill="#555" font-weight="normal" text-anchor="middle" stroke="#555" stroke-width="0.2">40</text>
<line x1="409.5" y1="223.5" x2="409.5" y2="222.0" stroke="#666" stroke-width="0.5"/>
<text x="409.50" y="230.10" font-size="5.20" fill="#555" font-weight="normal" text-anchor="middle" stroke="#555" stroke-width="0.2">60</text>
<line x1="427.0" y1="223.5" x2="427.0" y2="222.0" stroke="#666" stroke-width="0.5"/>
<text x="427.00" y="230.10" font-size="5.20" fill="#555" font-weight="normal" text-anchor="middle" stroke="#555" stroke-width="0.2">80</text>
<line x1="444.6" y1="223.5" x2="444.6" y2="222.0" stroke="#666" stroke-width="0.5"/>
<text x="444.60" y="230.10" font-size="5.20" fill="#555" font-weight="normal" text-anchor="middle" stroke="#555" stroke-width="0.2">100</text>
<line x1="462.0" y1="223.5" x2="462.0" y2="222.0" stroke="#666" stroke-width="0.5"/>
<text x="462.00" y="230.10" font-size="5.20" fill="#555" font-weight="normal" text-anchor="middle" stroke="#555" stroke-width="0.2">120</text>
<line x1="479.6" y1="223.5" x2="479.6" y2="222.0" stroke="#666" stroke-width="0.5"/>
<text x="479.60" y="230.10" font-size="5.20" fill="#555" font-weight="normal" text-anchor="middle" stroke="#555" stroke-width="0.2">140</text>
<rect x="356.40" y="128.80" width="140.60" height="94.70" fill="none" stroke="#6a6a6a" stroke-width="1.2"/>
<text x="428.20" y="238.30" font-size="7.60" fill="#222" font-weight="bold" text-anchor="middle" textLength="21.6" lengthAdjust="spacingAndGlyphs" stroke="#222" stroke-width="0.3">Time /s</text>
<text x="344.60" y="178.80" font-size="7.00" fill="#8a2a9a" font-weight="bold" text-anchor="middle" textLength="94.0" lengthAdjust="spacingAndGlyphs" stroke="#8a2a9a" stroke-width="0.3" transform="rotate(-90 344.6 178.8)">Spectral Composition ZnO /%</text>
<text x="510.40" y="174.50" font-size="7.00" fill="#3a9a3a" font-weight="bold" text-anchor="middle" textLength="93.0" lengthAdjust="spacingAndGlyphs" stroke="#3a9a3a" stroke-width="0.3" transform="rotate(90 510.4 174.5)">Spectral Composition ZIF-8 /%</text>
</svg>
</body></html>
